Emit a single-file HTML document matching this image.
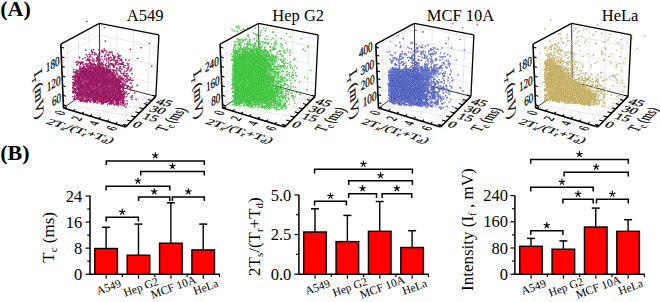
<!DOCTYPE html>
<html><head><meta charset="utf-8"><style>
html,body{margin:0;padding:0;background:#fff;}
svg{display:block;font-family:"Liberation Serif",serif;}
</style></head><body>
<svg width="660" height="302" viewBox="0 0 660 302">
<rect width="660" height="302" fill="#fff"/>
<line x1="106.10" y1="248.50" x2="106.10" y2="227.30" stroke="#000" stroke-width="1.4"/>
<line x1="102.10" y1="227.30" x2="110.10" y2="227.30" stroke="#000" stroke-width="1.5"/>
<rect x="94.80" y="248.50" width="22.60" height="25.70" fill="#f00" stroke="#000" stroke-width="1.4"/>
<line x1="138.47" y1="255.20" x2="138.47" y2="224.10" stroke="#000" stroke-width="1.4"/>
<line x1="134.47" y1="224.10" x2="142.47" y2="224.10" stroke="#000" stroke-width="1.5"/>
<rect x="127.17" y="255.20" width="22.60" height="19.00" fill="#f00" stroke="#000" stroke-width="1.4"/>
<line x1="170.84" y1="243.20" x2="170.84" y2="202.80" stroke="#000" stroke-width="1.4"/>
<line x1="166.84" y1="202.80" x2="174.84" y2="202.80" stroke="#000" stroke-width="1.5"/>
<rect x="159.54" y="243.20" width="22.60" height="31.00" fill="#f00" stroke="#000" stroke-width="1.4"/>
<line x1="203.21" y1="249.90" x2="203.21" y2="224.10" stroke="#000" stroke-width="1.4"/>
<line x1="199.21" y1="224.10" x2="207.21" y2="224.10" stroke="#000" stroke-width="1.5"/>
<rect x="191.91" y="249.90" width="22.60" height="24.30" fill="#f00" stroke="#000" stroke-width="1.4"/>
<line x1="90" y1="196" x2="90" y2="274.9" stroke="#000" stroke-width="1.5"/>
<line x1="89.3" y1="274.2" x2="219.98" y2="274.2" stroke="#000" stroke-width="1.5"/>
<line x1="85.50" y1="274.20" x2="90" y2="274.20" stroke="#000" stroke-width="1.2"/>
<line x1="87.20" y1="261.17" x2="90" y2="261.17" stroke="#000" stroke-width="1.2"/>
<line x1="85.50" y1="248.13" x2="90" y2="248.13" stroke="#000" stroke-width="1.2"/>
<line x1="87.20" y1="235.10" x2="90" y2="235.10" stroke="#000" stroke-width="1.2"/>
<line x1="85.50" y1="222.07" x2="90" y2="222.07" stroke="#000" stroke-width="1.2"/>
<line x1="87.20" y1="209.03" x2="90" y2="209.03" stroke="#000" stroke-width="1.2"/>
<line x1="85.50" y1="196.00" x2="90" y2="196.00" stroke="#000" stroke-width="1.2"/>
<text x="82.3" y="279.80" text-anchor="end" font-size="16.5" font-family="Liberation Serif">0</text>
<text x="82.3" y="253.73" text-anchor="end" font-size="16.5" font-family="Liberation Serif">8</text>
<text x="82.3" y="227.67" text-anchor="end" font-size="16.5" font-family="Liberation Serif">16</text>
<text x="82.3" y="201.60" text-anchor="end" font-size="16.5" font-family="Liberation Serif">24</text>
<line x1="106.19" y1="274.2" x2="106.19" y2="278.70" stroke="#000" stroke-width="1.2"/>
<line x1="122.37" y1="274.2" x2="122.37" y2="277.00" stroke="#000" stroke-width="1.2"/>
<line x1="138.56" y1="274.2" x2="138.56" y2="278.70" stroke="#000" stroke-width="1.2"/>
<line x1="154.74" y1="274.2" x2="154.74" y2="277.00" stroke="#000" stroke-width="1.2"/>
<line x1="170.93" y1="274.2" x2="170.93" y2="278.70" stroke="#000" stroke-width="1.2"/>
<line x1="187.11" y1="274.2" x2="187.11" y2="277.00" stroke="#000" stroke-width="1.2"/>
<line x1="203.29" y1="274.2" x2="203.29" y2="278.70" stroke="#000" stroke-width="1.2"/>
<line x1="219.48" y1="274.2" x2="219.48" y2="277.00" stroke="#000" stroke-width="1.2"/>
<text x="109.90" y="290.7" text-anchor="middle" font-size="11.5" font-family="Liberation Serif" transform="rotate(-20 109.90 290.7)">A549</text>
<text x="142.27" y="290.7" text-anchor="middle" font-size="11.5" font-family="Liberation Serif" transform="rotate(-20 142.27 290.7)">Hep G2</text>
<text x="174.64" y="290.7" text-anchor="middle" font-size="11.5" font-family="Liberation Serif" transform="rotate(-20 174.64 290.7)">MCF 10A</text>
<text x="207.01" y="290.7" text-anchor="middle" font-size="11.5" font-family="Liberation Serif" transform="rotate(-20 207.01 290.7)">HeLa</text>
<path d="M106.30 165.10V160.90H204.30V165.10" fill="none" stroke="#000" stroke-width="1.5"/>
<path d="M155.30 155.60L155.30 152.80M155.30 155.60L157.96 154.73M155.30 155.60L156.95 157.87M155.30 155.60L153.65 157.87M155.30 155.60L152.64 154.73" stroke="#000" stroke-width="1.2" stroke-linecap="round" fill="none"/>
<path d="M140.70 175.60V171.40H204.30V175.60" fill="none" stroke="#000" stroke-width="1.5"/>
<path d="M172.50 166.10L172.50 163.30M172.50 166.10L175.16 165.23M172.50 166.10L174.15 168.37M172.50 166.10L170.85 168.37M172.50 166.10L169.84 165.23" stroke="#000" stroke-width="1.2" stroke-linecap="round" fill="none"/>
<path d="M106.10 190.40V186.20H169.80V190.40" fill="none" stroke="#000" stroke-width="1.5"/>
<path d="M137.95 180.90L137.95 178.10M137.95 180.90L140.61 180.03M137.95 180.90L139.60 183.17M137.95 180.90L136.30 183.17M137.95 180.90L135.29 180.03" stroke="#000" stroke-width="1.2" stroke-linecap="round" fill="none"/>
<path d="M138.60 201.10V196.90H169.80V201.10" fill="none" stroke="#000" stroke-width="1.5"/>
<path d="M154.20 191.60L154.20 188.80M154.20 191.60L156.86 190.73M154.20 191.60L155.85 193.87M154.20 191.60L152.55 193.87M154.20 191.60L151.54 190.73" stroke="#000" stroke-width="1.2" stroke-linecap="round" fill="none"/>
<path d="M172.40 201.10V196.90H204.30V201.10" fill="none" stroke="#000" stroke-width="1.5"/>
<path d="M188.35 191.60L188.35 188.80M188.35 191.60L191.01 190.73M188.35 191.60L190.00 193.87M188.35 191.60L186.70 193.87M188.35 191.60L185.69 190.73" stroke="#000" stroke-width="1.2" stroke-linecap="round" fill="none"/>
<path d="M106.10 221.50V217.30H138.40V221.50" fill="none" stroke="#000" stroke-width="1.5"/>
<path d="M122.25 212.00L122.25 209.20M122.25 212.00L124.91 211.13M122.25 212.00L123.90 214.27M122.25 212.00L120.60 214.27M122.25 212.00L119.59 211.13" stroke="#000" stroke-width="1.2" stroke-linecap="round" fill="none"/>
<text transform="translate(54.3 262.7) rotate(-90)" font-size="17" font-family="Liberation Serif">T<tspan font-size="11" dy="3">c</tspan><tspan dy="-3"> (ms)</tspan></text>
<line x1="315.00" y1="232.00" x2="315.00" y2="208.80" stroke="#000" stroke-width="1.4"/>
<line x1="311.00" y1="208.80" x2="319.00" y2="208.80" stroke="#000" stroke-width="1.5"/>
<rect x="303.70" y="232.00" width="22.60" height="42.20" fill="#f00" stroke="#000" stroke-width="1.4"/>
<line x1="347.37" y1="241.60" x2="347.37" y2="215.40" stroke="#000" stroke-width="1.4"/>
<line x1="343.37" y1="215.40" x2="351.37" y2="215.40" stroke="#000" stroke-width="1.5"/>
<rect x="336.07" y="241.60" width="22.60" height="32.60" fill="#f00" stroke="#000" stroke-width="1.4"/>
<line x1="379.74" y1="231.30" x2="379.74" y2="201.50" stroke="#000" stroke-width="1.4"/>
<line x1="375.74" y1="201.50" x2="383.74" y2="201.50" stroke="#000" stroke-width="1.5"/>
<rect x="368.44" y="231.30" width="22.60" height="42.90" fill="#f00" stroke="#000" stroke-width="1.4"/>
<line x1="412.11" y1="247.50" x2="412.11" y2="230.70" stroke="#000" stroke-width="1.4"/>
<line x1="408.11" y1="230.70" x2="416.11" y2="230.70" stroke="#000" stroke-width="1.5"/>
<rect x="400.81" y="247.50" width="22.60" height="26.70" fill="#f00" stroke="#000" stroke-width="1.4"/>
<line x1="298.9" y1="194.9" x2="298.9" y2="274.9" stroke="#000" stroke-width="1.5"/>
<line x1="298.2" y1="274.2" x2="428.88" y2="274.2" stroke="#000" stroke-width="1.5"/>
<line x1="294.40" y1="274.20" x2="298.9" y2="274.20" stroke="#000" stroke-width="1.2"/>
<line x1="296.10" y1="254.38" x2="298.9" y2="254.38" stroke="#000" stroke-width="1.2"/>
<line x1="294.40" y1="234.55" x2="298.9" y2="234.55" stroke="#000" stroke-width="1.2"/>
<line x1="296.10" y1="214.72" x2="298.9" y2="214.72" stroke="#000" stroke-width="1.2"/>
<line x1="294.40" y1="194.90" x2="298.9" y2="194.90" stroke="#000" stroke-width="1.2"/>
<text x="291.3" y="279.80" text-anchor="end" font-size="16.5" font-family="Liberation Serif">0.0</text>
<text x="291.3" y="240.15" text-anchor="end" font-size="16.5" font-family="Liberation Serif">2.5</text>
<text x="291.3" y="200.50" text-anchor="end" font-size="16.5" font-family="Liberation Serif">5.0</text>
<line x1="315.08" y1="274.2" x2="315.08" y2="278.70" stroke="#000" stroke-width="1.2"/>
<line x1="331.27" y1="274.2" x2="331.27" y2="277.00" stroke="#000" stroke-width="1.2"/>
<line x1="347.45" y1="274.2" x2="347.45" y2="278.70" stroke="#000" stroke-width="1.2"/>
<line x1="363.64" y1="274.2" x2="363.64" y2="277.00" stroke="#000" stroke-width="1.2"/>
<line x1="379.82" y1="274.2" x2="379.82" y2="278.70" stroke="#000" stroke-width="1.2"/>
<line x1="396.01" y1="274.2" x2="396.01" y2="277.00" stroke="#000" stroke-width="1.2"/>
<line x1="412.19" y1="274.2" x2="412.19" y2="278.70" stroke="#000" stroke-width="1.2"/>
<line x1="428.38" y1="274.2" x2="428.38" y2="277.00" stroke="#000" stroke-width="1.2"/>
<text x="318.80" y="290.7" text-anchor="middle" font-size="11.5" font-family="Liberation Serif" transform="rotate(-20 318.80 290.7)">A549</text>
<text x="351.17" y="290.7" text-anchor="middle" font-size="11.5" font-family="Liberation Serif" transform="rotate(-20 351.17 290.7)">Hep G2</text>
<text x="383.54" y="290.7" text-anchor="middle" font-size="11.5" font-family="Liberation Serif" transform="rotate(-20 383.54 290.7)">MCF 10A</text>
<text x="415.91" y="290.7" text-anchor="middle" font-size="11.5" font-family="Liberation Serif" transform="rotate(-20 415.91 290.7)">HeLa</text>
<path d="M314.60 173.50V169.30H412.40V173.50" fill="none" stroke="#000" stroke-width="1.5"/>
<path d="M363.50 164.00L363.50 161.20M363.50 164.00L366.16 163.13M363.50 164.00L365.15 166.27M363.50 164.00L361.85 166.27M363.50 164.00L360.84 163.13" stroke="#000" stroke-width="1.2" stroke-linecap="round" fill="none"/>
<path d="M348.70 185.00V180.80H412.40V185.00" fill="none" stroke="#000" stroke-width="1.5"/>
<path d="M380.55 175.50L380.55 172.70M380.55 175.50L383.21 174.63M380.55 175.50L382.20 177.77M380.55 175.50L378.90 177.77M380.55 175.50L377.89 174.63" stroke="#000" stroke-width="1.2" stroke-linecap="round" fill="none"/>
<path d="M348.70 197.90V193.70H376.50V197.90" fill="none" stroke="#000" stroke-width="1.5"/>
<path d="M362.60 188.40L362.60 185.60M362.60 188.40L365.26 187.53M362.60 188.40L364.25 190.67M362.60 188.40L360.95 190.67M362.60 188.40L359.94 187.53" stroke="#000" stroke-width="1.2" stroke-linecap="round" fill="none"/>
<path d="M382.10 197.90V193.70H411.70V197.90" fill="none" stroke="#000" stroke-width="1.5"/>
<path d="M396.90 188.40L396.90 185.60M396.90 188.40L399.56 187.53M396.90 188.40L398.55 190.67M396.90 188.40L395.25 190.67M396.90 188.40L394.24 187.53" stroke="#000" stroke-width="1.2" stroke-linecap="round" fill="none"/>
<path d="M314.60 205.50V201.30H346.40V205.50" fill="none" stroke="#000" stroke-width="1.5"/>
<path d="M330.50 196.00L330.50 193.20M330.50 196.00L333.16 195.13M330.50 196.00L332.15 198.27M330.50 196.00L328.85 198.27M330.50 196.00L327.84 195.13" stroke="#000" stroke-width="1.2" stroke-linecap="round" fill="none"/>
<text transform="translate(259.5 276) rotate(-90)" font-size="17" font-family="Liberation Serif">2T<tspan font-size="11" dy="3">s</tspan><tspan dy="-3">/(T</tspan><tspan font-size="11" dy="3">r</tspan><tspan dy="-3">+T</tspan><tspan font-size="11" dy="3">d</tspan><tspan dy="-3">)</tspan></text>
<line x1="531.00" y1="246.30" x2="531.00" y2="238.40" stroke="#000" stroke-width="1.4"/>
<line x1="527.00" y1="238.40" x2="535.00" y2="238.40" stroke="#000" stroke-width="1.5"/>
<rect x="519.70" y="246.30" width="22.60" height="27.90" fill="#f00" stroke="#000" stroke-width="1.4"/>
<line x1="563.37" y1="249.20" x2="563.37" y2="240.90" stroke="#000" stroke-width="1.4"/>
<line x1="559.37" y1="240.90" x2="567.37" y2="240.90" stroke="#000" stroke-width="1.5"/>
<rect x="552.07" y="249.20" width="22.60" height="25.00" fill="#f00" stroke="#000" stroke-width="1.4"/>
<line x1="595.74" y1="227.00" x2="595.74" y2="208.10" stroke="#000" stroke-width="1.4"/>
<line x1="591.74" y1="208.10" x2="599.74" y2="208.10" stroke="#000" stroke-width="1.5"/>
<rect x="584.44" y="227.00" width="22.60" height="47.20" fill="#f00" stroke="#000" stroke-width="1.4"/>
<line x1="628.11" y1="231.30" x2="628.11" y2="219.70" stroke="#000" stroke-width="1.4"/>
<line x1="624.11" y1="219.70" x2="632.11" y2="219.70" stroke="#000" stroke-width="1.5"/>
<rect x="616.81" y="231.30" width="22.60" height="42.90" fill="#f00" stroke="#000" stroke-width="1.4"/>
<line x1="514.9" y1="195.6" x2="514.9" y2="274.9" stroke="#000" stroke-width="1.5"/>
<line x1="514.1999999999999" y1="274.2" x2="644.88" y2="274.2" stroke="#000" stroke-width="1.5"/>
<line x1="510.40" y1="274.20" x2="514.9" y2="274.20" stroke="#000" stroke-width="1.2"/>
<line x1="512.10" y1="261.10" x2="514.9" y2="261.10" stroke="#000" stroke-width="1.2"/>
<line x1="510.40" y1="248.00" x2="514.9" y2="248.00" stroke="#000" stroke-width="1.2"/>
<line x1="512.10" y1="234.90" x2="514.9" y2="234.90" stroke="#000" stroke-width="1.2"/>
<line x1="510.40" y1="221.80" x2="514.9" y2="221.80" stroke="#000" stroke-width="1.2"/>
<line x1="512.10" y1="208.70" x2="514.9" y2="208.70" stroke="#000" stroke-width="1.2"/>
<line x1="510.40" y1="195.60" x2="514.9" y2="195.60" stroke="#000" stroke-width="1.2"/>
<text x="508" y="279.80" text-anchor="end" font-size="16.5" font-family="Liberation Serif">0</text>
<text x="508" y="253.60" text-anchor="end" font-size="16.5" font-family="Liberation Serif">80</text>
<text x="508" y="227.40" text-anchor="end" font-size="16.5" font-family="Liberation Serif">160</text>
<text x="508" y="201.20" text-anchor="end" font-size="16.5" font-family="Liberation Serif">240</text>
<line x1="531.08" y1="274.2" x2="531.08" y2="278.70" stroke="#000" stroke-width="1.2"/>
<line x1="547.27" y1="274.2" x2="547.27" y2="277.00" stroke="#000" stroke-width="1.2"/>
<line x1="563.45" y1="274.2" x2="563.45" y2="278.70" stroke="#000" stroke-width="1.2"/>
<line x1="579.64" y1="274.2" x2="579.64" y2="277.00" stroke="#000" stroke-width="1.2"/>
<line x1="595.82" y1="274.2" x2="595.82" y2="278.70" stroke="#000" stroke-width="1.2"/>
<line x1="612.01" y1="274.2" x2="612.01" y2="277.00" stroke="#000" stroke-width="1.2"/>
<line x1="628.19" y1="274.2" x2="628.19" y2="278.70" stroke="#000" stroke-width="1.2"/>
<line x1="644.38" y1="274.2" x2="644.38" y2="277.00" stroke="#000" stroke-width="1.2"/>
<text x="534.80" y="290.7" text-anchor="middle" font-size="11.5" font-family="Liberation Serif" transform="rotate(-20 534.80 290.7)">A549</text>
<text x="567.17" y="290.7" text-anchor="middle" font-size="11.5" font-family="Liberation Serif" transform="rotate(-20 567.17 290.7)">Hep G2</text>
<text x="599.54" y="290.7" text-anchor="middle" font-size="11.5" font-family="Liberation Serif" transform="rotate(-20 599.54 290.7)">MCF 10A</text>
<text x="631.91" y="290.7" text-anchor="middle" font-size="11.5" font-family="Liberation Serif" transform="rotate(-20 631.91 290.7)">HeLa</text>
<path d="M530.70 163.70V159.50H628.30V163.70" fill="none" stroke="#000" stroke-width="1.5"/>
<path d="M579.50 154.20L579.50 151.40M579.50 154.20L582.16 153.33M579.50 154.20L581.15 156.47M579.50 154.20L577.85 156.47M579.50 154.20L576.84 153.33" stroke="#000" stroke-width="1.2" stroke-linecap="round" fill="none"/>
<path d="M564.10 176.40V172.20H628.30V176.40" fill="none" stroke="#000" stroke-width="1.5"/>
<path d="M596.20 166.90L596.20 164.10M596.20 166.90L598.86 166.03M596.20 166.90L597.85 169.17M596.20 166.90L594.55 169.17M596.20 166.90L593.54 166.03" stroke="#000" stroke-width="1.2" stroke-linecap="round" fill="none"/>
<path d="M530.70 191.50V187.30H593.20V191.50" fill="none" stroke="#000" stroke-width="1.5"/>
<path d="M561.95 182.00L561.95 179.20M561.95 182.00L564.61 181.13M561.95 182.00L563.60 184.27M561.95 182.00L560.30 184.27M561.95 182.00L559.29 181.13" stroke="#000" stroke-width="1.2" stroke-linecap="round" fill="none"/>
<path d="M562.90 203.50V199.30H593.20V203.50" fill="none" stroke="#000" stroke-width="1.5"/>
<path d="M578.05 194.00L578.05 191.20M578.05 194.00L580.71 193.13M578.05 194.00L579.70 196.27M578.05 194.00L576.40 196.27M578.05 194.00L575.39 193.13" stroke="#000" stroke-width="1.2" stroke-linecap="round" fill="none"/>
<path d="M596.50 203.50V199.30H628.30V203.50" fill="none" stroke="#000" stroke-width="1.5"/>
<path d="M612.40 194.00L612.40 191.20M612.40 194.00L615.06 193.13M612.40 194.00L614.05 196.27M612.40 194.00L610.75 196.27M612.40 194.00L609.74 193.13" stroke="#000" stroke-width="1.2" stroke-linecap="round" fill="none"/>
<path d="M530.70 234.90V230.70H562.90V234.90" fill="none" stroke="#000" stroke-width="1.5"/>
<path d="M546.80 225.40L546.80 222.60M546.80 225.40L549.46 224.53M546.80 225.40L548.45 227.67M546.80 225.40L545.15 227.67M546.80 225.40L544.14 224.53" stroke="#000" stroke-width="1.2" stroke-linecap="round" fill="none"/>
<text transform="translate(472.5 291) rotate(-90)" font-size="17" font-family="Liberation Serif">Intensity (I<tspan font-size="11" dy="3">f</tspan><tspan dy="-3"> , mV)</tspan></text>
<text x="0.3" y="16.1" font-size="22" font-weight="bold" font-family="Liberation Serif">(A)</text>
<text x="0.3" y="159.8" font-size="22" font-weight="bold" font-family="Liberation Serif">(B)</text>
<line x1="62.96" y1="95.30" x2="99.88" y2="70.04" stroke="#d6d6d6" stroke-width="0.6"/>
<line x1="99.88" y1="70.04" x2="156.50" y2="84.10" stroke="#d6d6d6" stroke-width="0.6"/>
<line x1="62.15" y1="76.10" x2="99.70" y2="52.55" stroke="#d6d6d6" stroke-width="0.6"/>
<line x1="99.70" y1="52.55" x2="157.40" y2="65.65" stroke="#d6d6d6" stroke-width="0.6"/>
<line x1="61.34" y1="56.90" x2="99.52" y2="35.06" stroke="#d6d6d6" stroke-width="0.6"/>
<line x1="99.52" y1="35.06" x2="158.30" y2="47.20" stroke="#d6d6d6" stroke-width="0.6"/>
<line x1="116.65" y1="86.08" x2="117.12" y2="26.82" stroke="#d6d6d6" stroke-width="0.6"/>
<line x1="81.99" y1="113.73" x2="116.65" y2="86.08" stroke="#d6d6d6" stroke-width="0.6"/>
<line x1="132.17" y1="90.16" x2="133.65" y2="30.02" stroke="#d6d6d6" stroke-width="0.6"/>
<line x1="99.24" y1="118.98" x2="132.17" y2="90.16" stroke="#d6d6d6" stroke-width="0.6"/>
<line x1="147.70" y1="94.24" x2="150.17" y2="33.21" stroke="#d6d6d6" stroke-width="0.6"/>
<line x1="116.49" y1="124.23" x2="147.70" y2="94.24" stroke="#d6d6d6" stroke-width="0.6"/>
<line x1="67.88" y1="104.93" x2="67.75" y2="40.37" stroke="#d6d6d6" stroke-width="0.6"/>
<line x1="67.88" y1="104.93" x2="135.30" y2="117.21" stroke="#d6d6d6" stroke-width="0.6"/>
<line x1="78.10" y1="97.54" x2="78.56" y2="34.58" stroke="#d6d6d6" stroke-width="0.6"/>
<line x1="78.10" y1="97.54" x2="143.48" y2="108.95" stroke="#d6d6d6" stroke-width="0.6"/>
<line x1="88.69" y1="89.88" x2="88.98" y2="28.99" stroke="#d6d6d6" stroke-width="0.6"/>
<line x1="88.69" y1="89.88" x2="151.66" y2="100.68" stroke="#d6d6d6" stroke-width="0.6"/>
<line x1="100.00" y1="81.70" x2="99.40" y2="23.40" stroke="#333" stroke-width="1.0"/>
<line x1="100.00" y1="81.70" x2="155.90" y2="96.40" stroke="#333" stroke-width="1.0"/>
<line x1="100.00" y1="81.70" x2="63.50" y2="108.10" stroke="#333" stroke-width="1.0"/>
<path d="M77.2 77.8 L79.7 72.7 L84.8 68.9 L91.6 66.3 L98.4 65.9 L106.1 68.4 L113.7 73.5 L118.8 79.5 L120.1 86.3 L121.0 93.9 L119.7 100.7 L109.5 101.6 L94.2 99.5 L78.0 96.9Z" fill="#c8609c"/>
<path d="M86.7 74.6h0M123.6 103.3h0M83.1 67.4h0M83.6 68.9h0M105.7 54.4h0M110.0 83.7h0M79.1 79.8h0M110.3 102.3h0M99.6 74.0h0M118.2 64.6h0M113.1 87.1h0M79.5 83.3h0M121.1 59.8h0M77.8 77.7h0M88.4 95.7h0M92.9 72.4h0M98.9 67.3h0M82.4 85.4h0M126.1 79.4h0M83.8 89.6h0M101.7 50.7h0M82.1 92.1h0M90.5 75.0h0M75.6 80.0h0M120.2 102.6h0M86.6 72.7h0M104.8 56.7h0M91.6 50.1h0M116.8 84.4h0M109.6 103.9h0M79.6 68.4h0M114.1 79.1h0M105.2 64.8h0M101.8 81.9h0M100.3 86.0h0M88.6 89.3h0M92.0 93.9h0M97.6 94.7h0M78.3 97.5h0M124.4 94.6h0M86.1 99.5h0M80.7 69.0h0M88.4 83.4h0M98.6 53.8h0M96.2 77.8h0M104.1 70.1h0M108.8 89.5h0M120.7 78.0h0M108.8 99.1h0M123.3 87.7h0M87.6 95.4h0M108.1 71.8h0M110.5 99.0h0M96.0 90.4h0M100.4 93.5h0M103.2 100.6h0M80.7 87.3h0M85.4 96.4h0M109.0 63.0h0M93.7 84.2h0M122.3 99.0h0M115.1 77.2h0M95.9 66.4h0M91.2 67.6h0M97.4 77.1h0M95.1 82.3h0M111.7 82.4h0M100.4 71.5h0M121.8 77.6h0M90.8 93.8h0M116.2 80.0h0M101.0 87.7h0M91.1 75.6h0M98.7 71.5h0M97.7 99.4h0M94.3 70.7h0M96.0 66.7h0M87.0 76.4h0M108.2 96.1h0M88.9 73.0h0M90.4 75.8h0M81.2 81.0h0M97.2 72.1h0M127.6 78.4h0M93.3 93.6h0M108.9 58.3h0M113.1 94.9h0M118.9 76.8h0M134.6 92.8h0M92.5 52.4h0M115.5 78.5h0M83.0 68.6h0M107.0 65.5h0M97.7 90.1h0M98.5 69.1h0M137.3 85.2h0M98.3 81.1h0M105.7 102.4h0M110.3 60.9h0M95.2 90.4h0" stroke="#800a4c" stroke-width="1.6" stroke-linecap="round"/>
<path d="M86.7 74.6h0M123.6 103.3h0M83.1 67.4h0M83.6 68.9h0M105.7 54.4h0M110.0 83.7h0M79.1 79.8h0M110.3 102.3h0M99.6 74.0h0M118.2 64.6h0M113.1 87.1h0M79.5 83.3h0M121.1 59.8h0M77.8 77.7h0M88.4 95.7h0M92.9 72.4h0M98.9 67.3h0M82.4 85.4h0M126.1 79.4h0M83.8 89.6h0M101.7 50.7h0M82.1 92.1h0M90.5 75.0h0M75.6 80.0h0M120.2 102.6h0M86.6 72.7h0M104.8 56.7h0M91.6 50.1h0M116.8 84.4h0M109.6 103.9h0M79.6 68.4h0M114.1 79.1h0M105.2 64.8h0M101.8 81.9h0M100.3 86.0h0M88.6 89.3h0M92.0 93.9h0M97.6 94.7h0M78.3 97.5h0M124.4 94.6h0M86.1 99.5h0M80.7 69.0h0M88.4 83.4h0M98.6 53.8h0M96.2 77.8h0M104.1 70.1h0M108.8 89.5h0M120.7 78.0h0M108.8 99.1h0M123.3 87.7h0M87.6 95.4h0M108.1 71.8h0M110.5 99.0h0M96.0 90.4h0M100.4 93.5h0M103.2 100.6h0M80.7 87.3h0M85.4 96.4h0M109.0 63.0h0M93.7 84.2h0M122.3 99.0h0M115.1 77.2h0M95.9 66.4h0M91.2 67.6h0M97.4 77.1h0M95.1 82.3h0M111.7 82.4h0M100.4 71.5h0M121.8 77.6h0M90.8 93.8h0M116.2 80.0h0M101.0 87.7h0M91.1 75.6h0M98.7 71.5h0M97.7 99.4h0M94.3 70.7h0M96.0 66.7h0M87.0 76.4h0M108.2 96.1h0M88.9 73.0h0M90.4 75.8h0M81.2 81.0h0M97.2 72.1h0M127.6 78.4h0M93.3 93.6h0M108.9 58.3h0M113.1 94.9h0M118.9 76.8h0M134.6 92.8h0M92.5 52.4h0M115.5 78.5h0M83.0 68.6h0M107.0 65.5h0M97.7 90.1h0M98.5 69.1h0M137.3 85.2h0M98.3 81.1h0M105.7 102.4h0M110.3 60.9h0M95.2 90.4h0" stroke="#d04090" stroke-width="0.8" stroke-linecap="round"/>
<path d="M104.0 94.5h0M105.9 72.2h0M104.0 79.1h0M113.0 64.3h0M79.3 83.4h0M123.8 78.6h0M99.0 80.9h0M88.9 66.7h0M112.7 70.0h0M86.7 60.2h0M89.6 90.9h0M118.1 86.3h0M81.7 100.8h0M107.8 86.1h0M115.0 70.5h0M80.7 76.0h0M117.7 57.1h0M97.3 80.0h0M116.4 86.6h0M107.7 98.3h0M96.8 99.3h0M92.3 99.5h0M102.6 72.5h0M102.1 94.8h0M114.2 75.1h0M104.9 72.2h0M91.9 85.3h0M104.3 94.6h0M103.7 88.9h0M94.4 83.7h0M109.9 82.3h0M90.3 67.2h0M120.4 87.7h0M109.3 92.2h0M97.5 80.3h0M114.6 70.4h0M122.5 100.6h0M102.3 50.4h0M78.6 81.5h0M102.8 79.9h0M121.3 91.3h0M88.2 86.2h0M93.4 65.5h0M96.1 68.4h0M82.1 100.8h0M97.1 80.8h0M119.6 92.2h0M95.7 64.9h0M85.6 97.6h0M116.0 94.6h0M103.7 93.4h0M91.7 80.3h0M105.6 80.1h0M98.3 90.2h0M114.7 104.3h0M106.3 75.7h0M97.8 57.5h0M92.1 99.8h0M108.5 69.7h0M113.0 78.5h0M122.1 96.9h0M99.7 78.6h0M100.0 94.5h0M90.3 68.5h0M112.6 97.8h0M113.4 88.5h0M84.9 74.7h0M123.6 91.4h0M120.3 81.6h0M103.0 103.0h0M111.7 83.3h0M111.7 72.8h0M119.9 82.2h0M88.7 86.8h0M105.4 83.3h0M110.4 90.6h0M113.3 55.7h0M104.5 97.5h0M113.0 101.4h0M119.3 88.5h0M112.3 83.7h0M127.2 81.1h0M75.5 82.6h0M107.1 68.8h0M80.2 101.2h0M87.0 93.7h0M146.6 102.6h0M127.1 63.3h0M103.3 80.3h0M120.3 88.6h0M88.2 84.4h0M77.2 96.0h0M105.2 99.5h0M119.8 60.1h0M91.6 78.7h0M78.3 80.2h0M110.6 103.8h0M111.7 96.0h0M82.9 85.4h0M87.6 60.2h0" stroke="#800a4c" stroke-width="1.6" stroke-linecap="round"/>
<path d="M104.0 94.5h0M105.9 72.2h0M104.0 79.1h0M113.0 64.3h0M79.3 83.4h0M123.8 78.6h0M99.0 80.9h0M88.9 66.7h0M112.7 70.0h0M86.7 60.2h0M89.6 90.9h0M118.1 86.3h0M81.7 100.8h0M107.8 86.1h0M115.0 70.5h0M80.7 76.0h0M117.7 57.1h0M97.3 80.0h0M116.4 86.6h0M107.7 98.3h0M96.8 99.3h0M92.3 99.5h0M102.6 72.5h0M102.1 94.8h0M114.2 75.1h0M104.9 72.2h0M91.9 85.3h0M104.3 94.6h0M103.7 88.9h0M94.4 83.7h0M109.9 82.3h0M90.3 67.2h0M120.4 87.7h0M109.3 92.2h0M97.5 80.3h0M114.6 70.4h0M122.5 100.6h0M102.3 50.4h0M78.6 81.5h0M102.8 79.9h0M121.3 91.3h0M88.2 86.2h0M93.4 65.5h0M96.1 68.4h0M82.1 100.8h0M97.1 80.8h0M119.6 92.2h0M95.7 64.9h0M85.6 97.6h0M116.0 94.6h0M103.7 93.4h0M91.7 80.3h0M105.6 80.1h0M98.3 90.2h0M114.7 104.3h0M106.3 75.7h0M97.8 57.5h0M92.1 99.8h0M108.5 69.7h0M113.0 78.5h0M122.1 96.9h0M99.7 78.6h0M100.0 94.5h0M90.3 68.5h0M112.6 97.8h0M113.4 88.5h0M84.9 74.7h0M123.6 91.4h0M120.3 81.6h0M103.0 103.0h0M111.7 83.3h0M111.7 72.8h0M119.9 82.2h0M88.7 86.8h0M105.4 83.3h0M110.4 90.6h0M113.3 55.7h0M104.5 97.5h0M113.0 101.4h0M119.3 88.5h0M112.3 83.7h0M127.2 81.1h0M75.5 82.6h0M107.1 68.8h0M80.2 101.2h0M87.0 93.7h0M146.6 102.6h0M127.1 63.3h0M103.3 80.3h0M120.3 88.6h0M88.2 84.4h0M77.2 96.0h0M105.2 99.5h0M119.8 60.1h0M91.6 78.7h0M78.3 80.2h0M110.6 103.8h0M111.7 96.0h0M82.9 85.4h0M87.6 60.2h0" stroke="#d04090" stroke-width="0.8" stroke-linecap="round"/>
<path d="M105.1 55.8h0M87.1 79.2h0M112.3 78.3h0M79.7 73.0h0M101.2 64.2h0M117.8 101.2h0M121.1 90.9h0M122.2 102.2h0M120.5 92.8h0M119.3 96.1h0M114.1 90.2h0M102.7 95.5h0M103.5 52.1h0M104.3 83.7h0M88.9 96.6h0M117.4 100.7h0M104.5 93.3h0M102.4 98.1h0M95.4 65.6h0M116.0 96.9h0M125.5 104.0h0M77.8 82.3h0M100.0 76.2h0M122.6 102.3h0M74.8 91.6h0M90.5 76.5h0M83.4 67.8h0M94.9 83.7h0M95.2 53.7h0M86.4 89.5h0M116.5 74.7h0M96.0 68.6h0M98.3 68.7h0M123.9 102.5h0M78.1 94.3h0M112.4 96.8h0M101.7 86.5h0M99.8 66.6h0M76.7 88.0h0M78.1 89.2h0M87.2 102.0h0M115.9 95.1h0M98.7 93.2h0M109.8 92.6h0M74.9 96.4h0M82.0 92.9h0M80.6 86.2h0M116.5 80.9h0M84.1 67.6h0M82.0 94.5h0M109.1 73.6h0M86.4 75.4h0M94.5 94.2h0M113.3 66.2h0M113.6 103.6h0M86.1 76.8h0M86.4 64.4h0M93.4 76.6h0M125.1 92.5h0M128.6 86.4h0M87.7 83.8h0M86.0 71.9h0M85.2 77.6h0M83.4 76.0h0M93.9 97.6h0M91.5 63.7h0M114.9 96.0h0M88.0 74.4h0M99.1 67.3h0M98.9 62.6h0M103.3 91.5h0M103.5 61.6h0M76.9 98.7h0M124.6 92.8h0M86.3 87.9h0M105.1 76.6h0M111.8 72.5h0M126.1 107.2h0M91.7 89.9h0M74.7 90.9h0M121.4 92.0h0M99.6 91.7h0M96.0 67.4h0M120.4 90.5h0M90.3 72.0h0M122.9 62.4h0M111.2 98.5h0M95.9 94.9h0M110.6 65.3h0M101.3 71.8h0M90.4 71.4h0M83.3 98.6h0M100.1 69.0h0M88.1 86.5h0M129.9 71.0h0M86.5 78.0h0M82.2 63.4h0M77.4 74.4h0M131.8 73.8h0M98.2 69.6h0" stroke="#800a4c" stroke-width="1.6" stroke-linecap="round"/>
<path d="M105.1 55.8h0M87.1 79.2h0M112.3 78.3h0M79.7 73.0h0M101.2 64.2h0M117.8 101.2h0M121.1 90.9h0M122.2 102.2h0M120.5 92.8h0M119.3 96.1h0M114.1 90.2h0M102.7 95.5h0M103.5 52.1h0M104.3 83.7h0M88.9 96.6h0M117.4 100.7h0M104.5 93.3h0M102.4 98.1h0M95.4 65.6h0M116.0 96.9h0M125.5 104.0h0M77.8 82.3h0M100.0 76.2h0M122.6 102.3h0M74.8 91.6h0M90.5 76.5h0M83.4 67.8h0M94.9 83.7h0M95.2 53.7h0M86.4 89.5h0M116.5 74.7h0M96.0 68.6h0M98.3 68.7h0M123.9 102.5h0M78.1 94.3h0M112.4 96.8h0M101.7 86.5h0M99.8 66.6h0M76.7 88.0h0M78.1 89.2h0M87.2 102.0h0M115.9 95.1h0M98.7 93.2h0M109.8 92.6h0M74.9 96.4h0M82.0 92.9h0M80.6 86.2h0M116.5 80.9h0M84.1 67.6h0M82.0 94.5h0M109.1 73.6h0M86.4 75.4h0M94.5 94.2h0M113.3 66.2h0M113.6 103.6h0M86.1 76.8h0M86.4 64.4h0M93.4 76.6h0M125.1 92.5h0M128.6 86.4h0M87.7 83.8h0M86.0 71.9h0M85.2 77.6h0M83.4 76.0h0M93.9 97.6h0M91.5 63.7h0M114.9 96.0h0M88.0 74.4h0M99.1 67.3h0M98.9 62.6h0M103.3 91.5h0M103.5 61.6h0M76.9 98.7h0M124.6 92.8h0M86.3 87.9h0M105.1 76.6h0M111.8 72.5h0M126.1 107.2h0M91.7 89.9h0M74.7 90.9h0M121.4 92.0h0M99.6 91.7h0M96.0 67.4h0M120.4 90.5h0M90.3 72.0h0M122.9 62.4h0M111.2 98.5h0M95.9 94.9h0M110.6 65.3h0M101.3 71.8h0M90.4 71.4h0M83.3 98.6h0M100.1 69.0h0M88.1 86.5h0M129.9 71.0h0M86.5 78.0h0M82.2 63.4h0M77.4 74.4h0M131.8 73.8h0M98.2 69.6h0" stroke="#d04090" stroke-width="0.8" stroke-linecap="round"/>
<path d="M106.7 67.9h0M106.6 71.6h0M118.5 97.4h0M115.1 86.5h0M117.2 89.1h0M99.7 66.6h0M103.5 69.2h0M102.2 86.7h0M92.2 54.3h0M106.7 68.0h0M111.5 81.6h0M102.2 92.3h0M108.4 57.6h0M96.2 61.0h0M109.7 95.3h0M108.7 76.4h0M86.0 97.1h0M81.0 71.2h0M105.2 90.6h0M82.7 58.7h0M109.4 99.9h0M99.6 86.6h0M119.0 97.8h0M81.6 72.4h0M92.5 80.6h0M112.1 77.4h0M101.1 99.7h0M112.9 96.3h0M83.8 81.4h0M101.0 75.9h0M101.8 92.7h0M90.2 85.3h0M119.5 79.3h0M75.3 91.7h0M112.0 80.2h0M97.2 79.7h0M118.0 102.9h0M83.7 85.7h0M103.3 101.0h0M114.1 76.0h0M149.5 43.5h0M83.3 90.6h0M101.6 63.2h0M89.8 60.3h0M81.8 76.3h0M102.4 79.3h0M119.1 99.7h0M105.0 92.0h0M109.6 69.8h0M100.2 76.0h0M106.4 73.3h0M79.6 74.7h0M90.7 75.8h0M79.8 93.9h0M85.6 73.4h0M119.7 89.1h0M105.7 71.8h0M81.3 71.5h0M141.2 47.8h0M107.7 86.9h0M107.6 84.8h0M94.0 61.8h0M102.7 74.7h0M90.2 101.8h0M84.0 90.3h0M121.9 95.5h0M103.3 84.9h0M100.9 68.0h0M105.8 82.3h0M124.4 76.3h0M106.3 82.8h0M84.5 88.9h0M104.4 91.8h0M113.7 88.6h0M76.7 75.0h0M79.5 82.2h0M81.0 91.6h0M113.0 82.4h0M103.9 100.2h0M116.7 68.7h0M86.6 92.8h0M116.1 101.6h0M99.2 101.8h0M120.5 81.9h0M85.7 75.0h0M93.2 96.0h0M86.4 76.4h0M98.7 68.3h0M104.7 72.6h0M122.9 88.9h0M87.3 92.2h0M106.0 65.6h0M113.9 66.5h0M90.3 73.8h0M98.6 94.8h0M92.4 84.1h0M84.8 77.5h0M116.1 81.1h0M79.4 81.6h0M123.9 85.8h0" stroke="#800a4c" stroke-width="1.6" stroke-linecap="round"/>
<path d="M106.7 67.9h0M106.6 71.6h0M118.5 97.4h0M115.1 86.5h0M117.2 89.1h0M99.7 66.6h0M103.5 69.2h0M102.2 86.7h0M92.2 54.3h0M106.7 68.0h0M111.5 81.6h0M102.2 92.3h0M108.4 57.6h0M96.2 61.0h0M109.7 95.3h0M108.7 76.4h0M86.0 97.1h0M81.0 71.2h0M105.2 90.6h0M82.7 58.7h0M109.4 99.9h0M99.6 86.6h0M119.0 97.8h0M81.6 72.4h0M92.5 80.6h0M112.1 77.4h0M101.1 99.7h0M112.9 96.3h0M83.8 81.4h0M101.0 75.9h0M101.8 92.7h0M90.2 85.3h0M119.5 79.3h0M75.3 91.7h0M112.0 80.2h0M97.2 79.7h0M118.0 102.9h0M83.7 85.7h0M103.3 101.0h0M114.1 76.0h0M149.5 43.5h0M83.3 90.6h0M101.6 63.2h0M89.8 60.3h0M81.8 76.3h0M102.4 79.3h0M119.1 99.7h0M105.0 92.0h0M109.6 69.8h0M100.2 76.0h0M106.4 73.3h0M79.6 74.7h0M90.7 75.8h0M79.8 93.9h0M85.6 73.4h0M119.7 89.1h0M105.7 71.8h0M81.3 71.5h0M141.2 47.8h0M107.7 86.9h0M107.6 84.8h0M94.0 61.8h0M102.7 74.7h0M90.2 101.8h0M84.0 90.3h0M121.9 95.5h0M103.3 84.9h0M100.9 68.0h0M105.8 82.3h0M124.4 76.3h0M106.3 82.8h0M84.5 88.9h0M104.4 91.8h0M113.7 88.6h0M76.7 75.0h0M79.5 82.2h0M81.0 91.6h0M113.0 82.4h0M103.9 100.2h0M116.7 68.7h0M86.6 92.8h0M116.1 101.6h0M99.2 101.8h0M120.5 81.9h0M85.7 75.0h0M93.2 96.0h0M86.4 76.4h0M98.7 68.3h0M104.7 72.6h0M122.9 88.9h0M87.3 92.2h0M106.0 65.6h0M113.9 66.5h0M90.3 73.8h0M98.6 94.8h0M92.4 84.1h0M84.8 77.5h0M116.1 81.1h0M79.4 81.6h0M123.9 85.8h0" stroke="#d04090" stroke-width="0.8" stroke-linecap="round"/>
<path d="M120.5 55.8h0M79.1 80.9h0M112.3 97.4h0M95.8 95.9h0M111.2 63.7h0M100.3 68.9h0M79.9 90.5h0M80.8 62.9h0M94.6 86.6h0M102.3 96.8h0M109.6 71.9h0M85.0 79.5h0M114.7 98.5h0M113.7 84.7h0M103.9 87.9h0M108.9 80.1h0M104.6 92.6h0M115.6 101.2h0M117.7 93.1h0M102.5 67.6h0M120.7 71.8h0M80.8 92.6h0M116.9 85.6h0M74.4 90.4h0M77.8 71.2h0M96.2 94.6h0M87.4 78.4h0M119.9 86.1h0M121.3 79.0h0M107.0 96.9h0M92.5 84.7h0M123.1 84.0h0M90.3 75.5h0M111.0 71.3h0M93.5 68.9h0M78.7 82.4h0M112.4 90.6h0M86.5 101.8h0M103.9 98.0h0M88.5 95.6h0M103.4 70.7h0M81.7 86.8h0M94.7 96.4h0M79.3 91.5h0M92.6 64.3h0M118.5 84.0h0M94.5 77.5h0M111.1 57.6h0M90.7 75.1h0M109.2 93.3h0M117.1 94.1h0M80.1 86.1h0M74.0 82.5h0M95.4 101.1h0M113.8 99.7h0M119.1 83.6h0M95.4 71.7h0M102.0 95.1h0M132.4 86.0h0M97.3 91.9h0M106.0 95.9h0M103.1 95.0h0M78.3 82.1h0M118.6 83.1h0M116.0 63.1h0M96.0 83.6h0M89.8 100.9h0M109.3 73.7h0M84.0 92.7h0M80.7 87.5h0M73.2 76.6h0M124.5 71.2h0M112.5 76.0h0M94.0 96.7h0M85.7 90.2h0M90.6 75.9h0M86.5 66.6h0M103.7 97.1h0M120.9 98.1h0M106.2 86.3h0M95.6 96.4h0M118.9 89.3h0M106.3 102.2h0M80.9 82.1h0M112.4 97.4h0M111.7 83.1h0M76.9 94.6h0M77.6 73.8h0M93.0 79.5h0M103.4 77.5h0M102.7 74.2h0M99.4 87.4h0M130.2 88.8h0M94.9 97.3h0M82.9 87.1h0M131.5 80.5h0M117.5 87.3h0M88.1 89.0h0M115.8 99.9h0M107.9 99.8h0" stroke="#800a4c" stroke-width="1.6" stroke-linecap="round"/>
<path d="M120.5 55.8h0M79.1 80.9h0M112.3 97.4h0M95.8 95.9h0M111.2 63.7h0M100.3 68.9h0M79.9 90.5h0M80.8 62.9h0M94.6 86.6h0M102.3 96.8h0M109.6 71.9h0M85.0 79.5h0M114.7 98.5h0M113.7 84.7h0M103.9 87.9h0M108.9 80.1h0M104.6 92.6h0M115.6 101.2h0M117.7 93.1h0M102.5 67.6h0M120.7 71.8h0M80.8 92.6h0M116.9 85.6h0M74.4 90.4h0M77.8 71.2h0M96.2 94.6h0M87.4 78.4h0M119.9 86.1h0M121.3 79.0h0M107.0 96.9h0M92.5 84.7h0M123.1 84.0h0M90.3 75.5h0M111.0 71.3h0M93.5 68.9h0M78.7 82.4h0M112.4 90.6h0M86.5 101.8h0M103.9 98.0h0M88.5 95.6h0M103.4 70.7h0M81.7 86.8h0M94.7 96.4h0M79.3 91.5h0M92.6 64.3h0M118.5 84.0h0M94.5 77.5h0M111.1 57.6h0M90.7 75.1h0M109.2 93.3h0M117.1 94.1h0M80.1 86.1h0M74.0 82.5h0M95.4 101.1h0M113.8 99.7h0M119.1 83.6h0M95.4 71.7h0M102.0 95.1h0M132.4 86.0h0M97.3 91.9h0M106.0 95.9h0M103.1 95.0h0M78.3 82.1h0M118.6 83.1h0M116.0 63.1h0M96.0 83.6h0M89.8 100.9h0M109.3 73.7h0M84.0 92.7h0M80.7 87.5h0M73.2 76.6h0M124.5 71.2h0M112.5 76.0h0M94.0 96.7h0M85.7 90.2h0M90.6 75.9h0M86.5 66.6h0M103.7 97.1h0M120.9 98.1h0M106.2 86.3h0M95.6 96.4h0M118.9 89.3h0M106.3 102.2h0M80.9 82.1h0M112.4 97.4h0M111.7 83.1h0M76.9 94.6h0M77.6 73.8h0M93.0 79.5h0M103.4 77.5h0M102.7 74.2h0M99.4 87.4h0M130.2 88.8h0M94.9 97.3h0M82.9 87.1h0M131.5 80.5h0M117.5 87.3h0M88.1 89.0h0M115.8 99.9h0M107.9 99.8h0" stroke="#d04090" stroke-width="0.8" stroke-linecap="round"/>
<path d="M78.6 94.3h0M91.9 87.8h0M84.9 88.1h0M96.9 85.9h0M93.9 102.4h0M126.4 71.2h0M98.1 56.8h0M106.4 97.4h0M108.4 93.4h0M87.7 80.3h0M93.1 73.7h0M104.6 96.1h0M80.8 91.6h0M125.3 75.5h0M100.6 82.8h0M81.5 74.8h0M119.2 97.0h0M97.6 71.6h0M77.3 78.8h0M76.5 94.4h0M113.4 94.9h0M120.3 66.8h0M131.1 83.2h0M81.1 87.3h0M77.5 74.5h0M109.2 52.4h0M102.8 66.1h0M100.7 100.9h0M95.5 92.5h0M82.8 86.1h0M114.8 83.2h0M89.7 80.8h0M119.2 91.7h0M121.1 94.8h0M91.3 71.5h0M117.7 82.2h0M89.1 80.0h0M91.1 64.9h0M76.8 95.0h0M75.2 78.2h0M111.2 79.5h0M82.4 76.4h0M100.6 96.4h0M81.2 86.2h0M100.5 79.4h0M101.4 90.7h0M80.7 70.0h0M85.9 95.7h0M120.4 99.3h0M105.1 101.7h0M81.8 71.4h0M106.3 70.3h0M82.5 94.2h0M99.8 96.4h0M83.1 68.0h0M108.3 84.2h0M102.6 103.9h0M97.0 68.9h0M87.9 75.9h0M73.8 91.8h0M112.9 84.9h0M96.7 79.5h0M75.0 72.3h0M90.6 82.4h0M72.7 87.9h0M96.4 90.9h0M91.7 84.5h0M106.5 74.2h0M119.5 91.1h0M97.7 73.0h0M80.4 92.7h0M92.1 73.4h0M88.8 75.1h0M91.7 81.9h0M87.3 84.7h0M116.6 79.0h0M96.0 79.0h0M101.9 73.7h0M74.6 83.2h0M108.5 71.4h0M121.7 82.1h0M94.7 70.7h0M99.1 64.6h0M75.7 89.8h0M79.8 86.7h0M95.2 77.8h0M73.7 86.3h0M73.8 86.1h0M105.9 73.4h0M89.3 54.5h0M96.8 74.5h0M115.0 79.6h0M108.1 79.8h0M80.2 81.6h0M110.0 98.9h0M85.5 96.4h0M112.2 79.1h0M81.2 81.3h0M85.1 96.3h0M106.9 52.1h0" stroke="#800a4c" stroke-width="1.6" stroke-linecap="round"/>
<path d="M78.6 94.3h0M91.9 87.8h0M84.9 88.1h0M96.9 85.9h0M93.9 102.4h0M126.4 71.2h0M98.1 56.8h0M106.4 97.4h0M108.4 93.4h0M87.7 80.3h0M93.1 73.7h0M104.6 96.1h0M80.8 91.6h0M125.3 75.5h0M100.6 82.8h0M81.5 74.8h0M119.2 97.0h0M97.6 71.6h0M77.3 78.8h0M76.5 94.4h0M113.4 94.9h0M120.3 66.8h0M131.1 83.2h0M81.1 87.3h0M77.5 74.5h0M109.2 52.4h0M102.8 66.1h0M100.7 100.9h0M95.5 92.5h0M82.8 86.1h0M114.8 83.2h0M89.7 80.8h0M119.2 91.7h0M121.1 94.8h0M91.3 71.5h0M117.7 82.2h0M89.1 80.0h0M91.1 64.9h0M76.8 95.0h0M75.2 78.2h0M111.2 79.5h0M82.4 76.4h0M100.6 96.4h0M81.2 86.2h0M100.5 79.4h0M101.4 90.7h0M80.7 70.0h0M85.9 95.7h0M120.4 99.3h0M105.1 101.7h0M81.8 71.4h0M106.3 70.3h0M82.5 94.2h0M99.8 96.4h0M83.1 68.0h0M108.3 84.2h0M102.6 103.9h0M97.0 68.9h0M87.9 75.9h0M73.8 91.8h0M112.9 84.9h0M96.7 79.5h0M75.0 72.3h0M90.6 82.4h0M72.7 87.9h0M96.4 90.9h0M91.7 84.5h0M106.5 74.2h0M119.5 91.1h0M97.7 73.0h0M80.4 92.7h0M92.1 73.4h0M88.8 75.1h0M91.7 81.9h0M87.3 84.7h0M116.6 79.0h0M96.0 79.0h0M101.9 73.7h0M74.6 83.2h0M108.5 71.4h0M121.7 82.1h0M94.7 70.7h0M99.1 64.6h0M75.7 89.8h0M79.8 86.7h0M95.2 77.8h0M73.7 86.3h0M73.8 86.1h0M105.9 73.4h0M89.3 54.5h0M96.8 74.5h0M115.0 79.6h0M108.1 79.8h0M80.2 81.6h0M110.0 98.9h0M85.5 96.4h0M112.2 79.1h0M81.2 81.3h0M85.1 96.3h0M106.9 52.1h0" stroke="#d04090" stroke-width="0.8" stroke-linecap="round"/>
<path d="M74.5 89.7h0M122.7 62.9h0M122.0 79.0h0M80.6 64.3h0M108.7 67.5h0M83.0 87.2h0M77.6 88.6h0M100.2 80.6h0M115.3 86.1h0M83.3 94.0h0M95.4 97.6h0M78.4 82.5h0M79.3 77.8h0M85.7 88.0h0M118.7 100.0h0M101.7 79.7h0M97.8 99.2h0M93.7 49.8h0M87.5 58.8h0M102.1 88.6h0M96.4 69.2h0M112.3 100.7h0M83.0 62.1h0M107.8 69.6h0M115.2 76.5h0M89.3 100.0h0M96.2 93.9h0M104.3 89.9h0M118.4 64.2h0M107.4 90.5h0M117.7 92.1h0M97.6 79.6h0M114.9 60.7h0M108.2 66.5h0M95.3 70.1h0M85.7 77.5h0M82.0 93.6h0M89.3 94.2h0M93.5 72.4h0M88.7 60.4h0M129.2 80.2h0M94.0 69.7h0M105.4 94.6h0M122.9 100.1h0M98.2 86.4h0M117.7 90.1h0M121.5 92.7h0M117.7 89.6h0M97.6 69.8h0M87.0 84.4h0M106.6 91.5h0M107.3 74.6h0M97.6 102.9h0M86.6 97.7h0M88.8 65.2h0M109.0 89.1h0M96.6 98.7h0M106.3 82.0h0M81.6 92.2h0M99.3 99.8h0M113.3 80.6h0M95.8 84.8h0M93.7 95.4h0M96.6 82.6h0M106.3 84.4h0M83.1 70.2h0M123.8 98.6h0M95.7 100.4h0M103.1 97.6h0M151.8 66.3h0M127.4 94.6h0M87.3 86.8h0M91.6 51.2h0M102.7 101.8h0M105.0 88.1h0M78.6 97.3h0M89.5 77.7h0M100.9 73.5h0M96.3 91.6h0M99.9 82.4h0M75.9 83.2h0M98.8 99.1h0M78.4 74.6h0M104.0 91.3h0M77.6 72.7h0M105.7 98.9h0M124.4 92.0h0M103.6 69.5h0M98.7 81.9h0M80.9 70.8h0M124.0 105.9h0M100.8 86.0h0M91.1 87.6h0M112.8 65.1h0M107.4 73.5h0M123.0 79.9h0M90.8 84.5h0M123.3 90.7h0M100.5 78.4h0M123.0 82.5h0" stroke="#800a4c" stroke-width="1.6" stroke-linecap="round"/>
<path d="M74.5 89.7h0M122.7 62.9h0M122.0 79.0h0M80.6 64.3h0M108.7 67.5h0M83.0 87.2h0M77.6 88.6h0M100.2 80.6h0M115.3 86.1h0M83.3 94.0h0M95.4 97.6h0M78.4 82.5h0M79.3 77.8h0M85.7 88.0h0M118.7 100.0h0M101.7 79.7h0M97.8 99.2h0M93.7 49.8h0M87.5 58.8h0M102.1 88.6h0M96.4 69.2h0M112.3 100.7h0M83.0 62.1h0M107.8 69.6h0M115.2 76.5h0M89.3 100.0h0M96.2 93.9h0M104.3 89.9h0M118.4 64.2h0M107.4 90.5h0M117.7 92.1h0M97.6 79.6h0M114.9 60.7h0M108.2 66.5h0M95.3 70.1h0M85.7 77.5h0M82.0 93.6h0M89.3 94.2h0M93.5 72.4h0M88.7 60.4h0M129.2 80.2h0M94.0 69.7h0M105.4 94.6h0M122.9 100.1h0M98.2 86.4h0M117.7 90.1h0M121.5 92.7h0M117.7 89.6h0M97.6 69.8h0M87.0 84.4h0M106.6 91.5h0M107.3 74.6h0M97.6 102.9h0M86.6 97.7h0M88.8 65.2h0M109.0 89.1h0M96.6 98.7h0M106.3 82.0h0M81.6 92.2h0M99.3 99.8h0M113.3 80.6h0M95.8 84.8h0M93.7 95.4h0M96.6 82.6h0M106.3 84.4h0M83.1 70.2h0M123.8 98.6h0M95.7 100.4h0M103.1 97.6h0M151.8 66.3h0M127.4 94.6h0M87.3 86.8h0M91.6 51.2h0M102.7 101.8h0M105.0 88.1h0M78.6 97.3h0M89.5 77.7h0M100.9 73.5h0M96.3 91.6h0M99.9 82.4h0M75.9 83.2h0M98.8 99.1h0M78.4 74.6h0M104.0 91.3h0M77.6 72.7h0M105.7 98.9h0M124.4 92.0h0M103.6 69.5h0M98.7 81.9h0M80.9 70.8h0M124.0 105.9h0M100.8 86.0h0M91.1 87.6h0M112.8 65.1h0M107.4 73.5h0M123.0 79.9h0M90.8 84.5h0M123.3 90.7h0M100.5 78.4h0M123.0 82.5h0" stroke="#d04090" stroke-width="0.8" stroke-linecap="round"/>
<path d="M116.2 81.5h0M88.0 80.1h0M78.6 92.4h0M129.4 79.5h0M115.1 56.3h0M93.2 82.4h0M105.3 41.1h0M100.0 60.1h0M83.8 99.0h0M88.9 80.0h0M85.7 84.0h0M76.1 84.9h0M94.8 89.8h0M99.3 71.7h0M107.8 73.7h0M119.1 85.1h0M120.6 98.8h0M81.1 98.5h0M98.6 49.7h0M87.0 83.9h0M76.5 76.2h0M96.5 74.8h0M93.2 79.1h0M73.8 89.3h0M85.6 91.8h0M90.0 63.1h0M113.7 101.7h0M128.8 93.5h0M76.6 70.3h0M97.8 55.9h0M77.1 80.2h0M89.0 85.7h0M111.9 86.6h0M103.0 67.4h0M97.1 99.0h0M120.4 95.5h0M107.2 85.1h0M105.3 79.9h0M100.8 67.0h0M79.0 78.6h0M126.1 82.1h0M120.0 80.5h0M85.2 57.7h0M107.8 91.6h0M100.7 82.2h0M98.8 91.8h0M81.1 96.2h0M101.8 82.0h0M77.2 95.3h0M87.0 98.1h0M85.3 75.7h0M93.1 93.6h0M115.2 85.8h0M109.4 64.5h0M130.1 87.4h0M98.8 68.2h0M121.0 86.3h0M101.7 56.8h0M84.9 84.2h0M97.5 97.3h0M84.1 66.3h0M106.5 90.6h0M113.2 96.1h0M92.5 75.4h0M118.8 82.8h0M108.7 93.2h0M86.4 86.2h0M113.1 88.5h0M107.0 98.0h0M87.4 100.2h0M94.1 63.8h0M79.5 81.1h0M90.1 92.1h0M126.0 85.2h0M96.8 88.7h0M115.9 93.2h0M85.8 76.6h0M74.9 80.6h0M82.4 89.1h0M90.7 62.5h0M118.9 76.0h0M113.7 82.4h0M79.2 89.9h0M103.0 103.0h0M98.9 81.1h0M88.3 79.3h0M87.6 93.6h0M113.5 58.9h0M108.7 66.8h0M96.4 94.9h0M113.3 70.0h0M114.3 81.9h0M83.0 84.7h0M82.2 77.5h0M103.3 99.1h0M75.8 80.7h0M85.7 93.0h0M94.5 99.2h0M78.5 87.5h0M93.3 75.0h0" stroke="#800a4c" stroke-width="1.6" stroke-linecap="round"/>
<path d="M116.2 81.5h0M88.0 80.1h0M78.6 92.4h0M129.4 79.5h0M115.1 56.3h0M93.2 82.4h0M105.3 41.1h0M100.0 60.1h0M83.8 99.0h0M88.9 80.0h0M85.7 84.0h0M76.1 84.9h0M94.8 89.8h0M99.3 71.7h0M107.8 73.7h0M119.1 85.1h0M120.6 98.8h0M81.1 98.5h0M98.6 49.7h0M87.0 83.9h0M76.5 76.2h0M96.5 74.8h0M93.2 79.1h0M73.8 89.3h0M85.6 91.8h0M90.0 63.1h0M113.7 101.7h0M128.8 93.5h0M76.6 70.3h0M97.8 55.9h0M77.1 80.2h0M89.0 85.7h0M111.9 86.6h0M103.0 67.4h0M97.1 99.0h0M120.4 95.5h0M107.2 85.1h0M105.3 79.9h0M100.8 67.0h0M79.0 78.6h0M126.1 82.1h0M120.0 80.5h0M85.2 57.7h0M107.8 91.6h0M100.7 82.2h0M98.8 91.8h0M81.1 96.2h0M101.8 82.0h0M77.2 95.3h0M87.0 98.1h0M85.3 75.7h0M93.1 93.6h0M115.2 85.8h0M109.4 64.5h0M130.1 87.4h0M98.8 68.2h0M121.0 86.3h0M101.7 56.8h0M84.9 84.2h0M97.5 97.3h0M84.1 66.3h0M106.5 90.6h0M113.2 96.1h0M92.5 75.4h0M118.8 82.8h0M108.7 93.2h0M86.4 86.2h0M113.1 88.5h0M107.0 98.0h0M87.4 100.2h0M94.1 63.8h0M79.5 81.1h0M90.1 92.1h0M126.0 85.2h0M96.8 88.7h0M115.9 93.2h0M85.8 76.6h0M74.9 80.6h0M82.4 89.1h0M90.7 62.5h0M118.9 76.0h0M113.7 82.4h0M79.2 89.9h0M103.0 103.0h0M98.9 81.1h0M88.3 79.3h0M87.6 93.6h0M113.5 58.9h0M108.7 66.8h0M96.4 94.9h0M113.3 70.0h0M114.3 81.9h0M83.0 84.7h0M82.2 77.5h0M103.3 99.1h0M75.8 80.7h0M85.7 93.0h0M94.5 99.2h0M78.5 87.5h0M93.3 75.0h0" stroke="#d04090" stroke-width="0.8" stroke-linecap="round"/>
<path d="M119.3 87.1h0M101.9 69.3h0M106.6 58.8h0M103.6 94.0h0M107.9 77.1h0M111.4 91.1h0M131.8 87.5h0M96.8 70.4h0M88.6 99.6h0M87.0 72.3h0M82.8 71.1h0M107.4 83.0h0M99.1 66.3h0M113.8 92.2h0M77.6 70.2h0M120.0 79.5h0M73.3 84.2h0M106.4 101.2h0M92.2 52.4h0M100.9 64.1h0M93.2 75.5h0M111.0 103.4h0M122.2 95.1h0M79.4 73.5h0M89.2 87.8h0M86.1 78.5h0M118.1 88.3h0M92.5 79.6h0M97.4 78.3h0M112.9 75.2h0M115.0 90.0h0M104.2 71.7h0M101.8 75.7h0M100.0 83.3h0M84.3 79.2h0M119.5 88.2h0M94.1 92.0h0M120.5 96.6h0M96.6 57.9h0M79.2 87.7h0M73.4 92.5h0M99.2 64.9h0M103.3 83.4h0M88.1 71.7h0M77.0 87.9h0M89.4 98.6h0M94.2 69.8h0M102.2 92.2h0M108.6 99.6h0M99.1 56.0h0M97.7 79.2h0M76.2 62.4h0M98.1 96.8h0M122.9 97.7h0M112.0 101.2h0M119.8 91.4h0M86.3 100.9h0M130.3 83.3h0M93.2 87.7h0M91.6 76.7h0M77.3 94.9h0M119.2 76.7h0M90.6 76.1h0M94.6 99.7h0M110.9 92.9h0M75.4 85.0h0M82.6 98.3h0M122.5 63.0h0M85.2 68.6h0M127.2 81.4h0M75.7 93.3h0M77.3 80.1h0M93.2 90.5h0M92.4 99.2h0M120.2 82.6h0M79.9 88.8h0M128.7 66.8h0M79.8 62.4h0M112.8 73.0h0M94.4 93.5h0M97.5 84.3h0M77.1 77.1h0M109.2 82.8h0M95.7 75.6h0M118.7 64.8h0M88.4 77.4h0M104.7 67.9h0M100.9 77.0h0M123.8 98.0h0M77.2 61.5h0M84.4 88.5h0M119.9 78.8h0M127.3 103.9h0M121.2 85.1h0M110.5 96.1h0M99.3 64.6h0M117.1 74.2h0M112.8 94.6h0M94.8 64.6h0M90.4 63.3h0" stroke="#800a4c" stroke-width="1.6" stroke-linecap="round"/>
<path d="M119.3 87.1h0M101.9 69.3h0M106.6 58.8h0M103.6 94.0h0M107.9 77.1h0M111.4 91.1h0M131.8 87.5h0M96.8 70.4h0M88.6 99.6h0M87.0 72.3h0M82.8 71.1h0M107.4 83.0h0M99.1 66.3h0M113.8 92.2h0M77.6 70.2h0M120.0 79.5h0M73.3 84.2h0M106.4 101.2h0M92.2 52.4h0M100.9 64.1h0M93.2 75.5h0M111.0 103.4h0M122.2 95.1h0M79.4 73.5h0M89.2 87.8h0M86.1 78.5h0M118.1 88.3h0M92.5 79.6h0M97.4 78.3h0M112.9 75.2h0M115.0 90.0h0M104.2 71.7h0M101.8 75.7h0M100.0 83.3h0M84.3 79.2h0M119.5 88.2h0M94.1 92.0h0M120.5 96.6h0M96.6 57.9h0M79.2 87.7h0M73.4 92.5h0M99.2 64.9h0M103.3 83.4h0M88.1 71.7h0M77.0 87.9h0M89.4 98.6h0M94.2 69.8h0M102.2 92.2h0M108.6 99.6h0M99.1 56.0h0M97.7 79.2h0M76.2 62.4h0M98.1 96.8h0M122.9 97.7h0M112.0 101.2h0M119.8 91.4h0M86.3 100.9h0M130.3 83.3h0M93.2 87.7h0M91.6 76.7h0M77.3 94.9h0M119.2 76.7h0M90.6 76.1h0M94.6 99.7h0M110.9 92.9h0M75.4 85.0h0M82.6 98.3h0M122.5 63.0h0M85.2 68.6h0M127.2 81.4h0M75.7 93.3h0M77.3 80.1h0M93.2 90.5h0M92.4 99.2h0M120.2 82.6h0M79.9 88.8h0M128.7 66.8h0M79.8 62.4h0M112.8 73.0h0M94.4 93.5h0M97.5 84.3h0M77.1 77.1h0M109.2 82.8h0M95.7 75.6h0M118.7 64.8h0M88.4 77.4h0M104.7 67.9h0M100.9 77.0h0M123.8 98.0h0M77.2 61.5h0M84.4 88.5h0M119.9 78.8h0M127.3 103.9h0M121.2 85.1h0M110.5 96.1h0M99.3 64.6h0M117.1 74.2h0M112.8 94.6h0M94.8 64.6h0M90.4 63.3h0" stroke="#d04090" stroke-width="0.8" stroke-linecap="round"/>
<path d="M94.7 74.7h0M113.3 71.7h0M89.1 77.3h0M94.3 102.1h0M123.3 102.3h0M86.7 92.1h0M75.5 73.4h0M120.5 76.4h0M91.0 96.7h0M104.9 96.9h0M106.2 78.8h0M120.9 85.8h0M96.1 67.9h0M87.6 86.2h0M102.7 94.5h0M115.4 61.7h0M96.7 71.6h0M127.0 68.6h0M74.9 90.3h0M95.9 81.2h0M123.9 94.9h0M101.8 71.6h0M88.9 94.0h0M106.5 68.7h0M80.8 100.5h0M110.6 63.6h0M106.6 94.9h0M106.8 72.1h0M73.7 92.1h0M104.7 84.1h0M89.3 95.7h0M110.8 69.3h0M82.8 70.4h0M113.0 81.7h0M77.1 86.7h0M106.0 81.3h0M98.1 89.2h0M128.6 80.0h0M113.1 77.1h0M105.1 79.7h0M93.4 80.6h0M113.1 76.2h0M81.0 94.4h0M75.0 96.1h0M100.4 82.6h0M94.6 91.8h0M96.2 84.5h0M108.3 62.4h0M113.4 59.8h0M105.5 50.6h0M77.0 81.9h0M103.7 94.4h0M75.9 93.4h0M98.3 87.2h0M117.5 87.1h0M93.4 73.9h0M117.1 95.9h0M99.2 59.8h0M109.0 101.3h0M116.0 103.1h0M80.9 83.6h0M98.2 94.8h0M126.5 73.9h0M116.3 102.8h0M76.9 73.5h0M95.1 98.6h0M118.4 77.7h0M98.8 76.5h0M107.0 102.0h0M86.6 72.9h0M77.1 87.5h0M112.5 84.0h0M92.8 72.7h0M97.7 74.8h0M102.6 82.6h0M126.9 77.3h0M100.1 100.7h0M120.8 60.0h0M124.5 105.0h0M79.3 77.1h0M122.5 95.6h0M94.8 75.0h0M89.4 83.9h0M84.8 82.6h0M109.1 97.9h0M119.5 63.4h0M99.1 72.5h0M78.9 95.6h0M119.4 80.2h0M101.7 103.3h0M110.1 71.5h0M111.3 92.2h0M90.9 79.0h0M108.1 59.9h0M77.1 87.8h0M91.9 77.7h0M99.9 66.0h0M98.3 88.9h0M82.3 100.3h0M90.6 95.4h0" stroke="#800a4c" stroke-width="1.6" stroke-linecap="round"/>
<path d="M94.7 74.7h0M113.3 71.7h0M89.1 77.3h0M94.3 102.1h0M123.3 102.3h0M86.7 92.1h0M75.5 73.4h0M120.5 76.4h0M91.0 96.7h0M104.9 96.9h0M106.2 78.8h0M120.9 85.8h0M96.1 67.9h0M87.6 86.2h0M102.7 94.5h0M115.4 61.7h0M96.7 71.6h0M127.0 68.6h0M74.9 90.3h0M95.9 81.2h0M123.9 94.9h0M101.8 71.6h0M88.9 94.0h0M106.5 68.7h0M80.8 100.5h0M110.6 63.6h0M106.6 94.9h0M106.8 72.1h0M73.7 92.1h0M104.7 84.1h0M89.3 95.7h0M110.8 69.3h0M82.8 70.4h0M113.0 81.7h0M77.1 86.7h0M106.0 81.3h0M98.1 89.2h0M128.6 80.0h0M113.1 77.1h0M105.1 79.7h0M93.4 80.6h0M113.1 76.2h0M81.0 94.4h0M75.0 96.1h0M100.4 82.6h0M94.6 91.8h0M96.2 84.5h0M108.3 62.4h0M113.4 59.8h0M105.5 50.6h0M77.0 81.9h0M103.7 94.4h0M75.9 93.4h0M98.3 87.2h0M117.5 87.1h0M93.4 73.9h0M117.1 95.9h0M99.2 59.8h0M109.0 101.3h0M116.0 103.1h0M80.9 83.6h0M98.2 94.8h0M126.5 73.9h0M116.3 102.8h0M76.9 73.5h0M95.1 98.6h0M118.4 77.7h0M98.8 76.5h0M107.0 102.0h0M86.6 72.9h0M77.1 87.5h0M112.5 84.0h0M92.8 72.7h0M97.7 74.8h0M102.6 82.6h0M126.9 77.3h0M100.1 100.7h0M120.8 60.0h0M124.5 105.0h0M79.3 77.1h0M122.5 95.6h0M94.8 75.0h0M89.4 83.9h0M84.8 82.6h0M109.1 97.9h0M119.5 63.4h0M99.1 72.5h0M78.9 95.6h0M119.4 80.2h0M101.7 103.3h0M110.1 71.5h0M111.3 92.2h0M90.9 79.0h0M108.1 59.9h0M77.1 87.8h0M91.9 77.7h0M99.9 66.0h0M98.3 88.9h0M82.3 100.3h0M90.6 95.4h0" stroke="#d04090" stroke-width="0.8" stroke-linecap="round"/>
<path d="M102.8 97.5h0M119.7 67.9h0M104.4 100.4h0M93.7 75.3h0M73.5 77.4h0M76.3 76.3h0M99.3 86.5h0M115.6 90.6h0M110.2 100.4h0M86.2 83.5h0M94.9 73.2h0M112.6 75.0h0M116.7 73.4h0M107.9 80.3h0M79.4 77.0h0M99.3 64.6h0M113.3 92.5h0M123.6 96.5h0M81.1 74.6h0M91.2 73.3h0M104.2 79.5h0M80.1 88.1h0M115.3 82.8h0M114.4 78.9h0M123.2 94.0h0M115.2 64.0h0M105.5 91.1h0M95.5 90.1h0M109.3 59.0h0M89.4 88.2h0M102.9 72.1h0M82.7 78.0h0M84.4 89.2h0M76.0 71.5h0M89.8 68.3h0M100.4 91.3h0M94.2 52.6h0M119.9 87.1h0M123.8 101.9h0M78.4 96.7h0M78.2 99.5h0M87.6 89.5h0M119.5 58.3h0M72.7 79.5h0M110.0 88.1h0M92.3 93.1h0M86.9 72.5h0M125.2 65.6h0M102.0 103.4h0M96.7 68.6h0M75.4 88.6h0M80.8 95.3h0M121.0 93.9h0M87.4 65.9h0M97.8 93.4h0M108.4 70.9h0M72.7 96.6h0M116.1 94.8h0M118.3 100.9h0M88.0 73.8h0M110.2 94.2h0M86.8 72.0h0M86.0 74.5h0M89.0 100.0h0M116.3 104.1h0M92.8 85.4h0M92.9 68.3h0M110.7 83.6h0M124.0 67.6h0M80.4 94.4h0M117.7 90.9h0M72.8 77.0h0M86.3 65.1h0M103.3 82.5h0M104.3 101.4h0M101.0 78.2h0M91.4 93.6h0M118.8 55.9h0M122.3 102.9h0M83.5 96.2h0M80.0 98.0h0M119.2 99.4h0M99.4 95.4h0M129.2 60.3h0M123.9 96.7h0M115.6 64.9h0M106.0 76.4h0M87.5 101.5h0M99.2 86.5h0M89.3 61.1h0M106.7 90.2h0M126.8 76.3h0M99.4 73.3h0M106.6 71.6h0M116.7 68.3h0M96.7 84.5h0M87.9 74.3h0M81.1 100.2h0M87.1 83.7h0M90.1 71.0h0" stroke="#800a4c" stroke-width="1.6" stroke-linecap="round"/>
<path d="M102.8 97.5h0M119.7 67.9h0M104.4 100.4h0M93.7 75.3h0M73.5 77.4h0M76.3 76.3h0M99.3 86.5h0M115.6 90.6h0M110.2 100.4h0M86.2 83.5h0M94.9 73.2h0M112.6 75.0h0M116.7 73.4h0M107.9 80.3h0M79.4 77.0h0M99.3 64.6h0M113.3 92.5h0M123.6 96.5h0M81.1 74.6h0M91.2 73.3h0M104.2 79.5h0M80.1 88.1h0M115.3 82.8h0M114.4 78.9h0M123.2 94.0h0M115.2 64.0h0M105.5 91.1h0M95.5 90.1h0M109.3 59.0h0M89.4 88.2h0M102.9 72.1h0M82.7 78.0h0M84.4 89.2h0M76.0 71.5h0M89.8 68.3h0M100.4 91.3h0M94.2 52.6h0M119.9 87.1h0M123.8 101.9h0M78.4 96.7h0M78.2 99.5h0M87.6 89.5h0M119.5 58.3h0M72.7 79.5h0M110.0 88.1h0M92.3 93.1h0M86.9 72.5h0M125.2 65.6h0M102.0 103.4h0M96.7 68.6h0M75.4 88.6h0M80.8 95.3h0M121.0 93.9h0M87.4 65.9h0M97.8 93.4h0M108.4 70.9h0M72.7 96.6h0M116.1 94.8h0M118.3 100.9h0M88.0 73.8h0M110.2 94.2h0M86.8 72.0h0M86.0 74.5h0M89.0 100.0h0M116.3 104.1h0M92.8 85.4h0M92.9 68.3h0M110.7 83.6h0M124.0 67.6h0M80.4 94.4h0M117.7 90.9h0M72.8 77.0h0M86.3 65.1h0M103.3 82.5h0M104.3 101.4h0M101.0 78.2h0M91.4 93.6h0M118.8 55.9h0M122.3 102.9h0M83.5 96.2h0M80.0 98.0h0M119.2 99.4h0M99.4 95.4h0M129.2 60.3h0M123.9 96.7h0M115.6 64.9h0M106.0 76.4h0M87.5 101.5h0M99.2 86.5h0M89.3 61.1h0M106.7 90.2h0M126.8 76.3h0M99.4 73.3h0M106.6 71.6h0M116.7 68.3h0M96.7 84.5h0M87.9 74.3h0M81.1 100.2h0M87.1 83.7h0M90.1 71.0h0" stroke="#d04090" stroke-width="0.8" stroke-linecap="round"/>
<path d="M79.1 88.1h0M101.2 96.6h0M93.8 83.5h0M85.4 83.3h0M117.9 89.7h0M97.9 93.9h0M78.5 62.9h0M81.2 70.6h0M98.3 87.7h0M92.0 72.3h0M77.4 76.6h0M100.6 80.4h0M109.0 88.1h0M77.3 71.7h0M110.3 84.4h0M103.9 71.9h0M92.3 99.7h0M95.9 82.9h0M106.4 98.6h0M96.8 58.9h0M119.4 82.0h0M88.6 72.5h0M87.0 79.3h0M91.9 68.3h0M81.0 76.4h0M110.4 84.5h0M109.1 70.8h0M112.5 78.0h0M105.7 87.4h0M102.4 70.8h0M101.4 102.9h0M98.5 60.0h0M108.8 71.6h0M79.4 90.9h0M114.1 98.5h0M90.1 81.6h0M107.7 81.4h0M116.0 70.3h0M82.9 78.3h0M92.1 92.8h0M81.7 83.1h0M114.5 88.1h0M88.2 76.4h0M87.9 100.4h0M92.5 99.0h0M81.7 84.8h0M110.8 101.1h0M119.2 79.8h0M79.8 93.9h0M82.8 70.5h0M87.0 84.5h0M126.1 76.1h0M104.2 81.6h0M111.9 51.9h0M80.0 66.2h0M112.5 77.1h0M86.2 95.2h0M119.8 98.0h0M85.1 75.9h0M101.9 101.1h0M96.9 95.0h0M91.9 83.2h0M127.4 70.2h0M88.4 68.1h0M115.5 85.3h0M117.7 100.6h0M99.5 96.8h0M117.8 103.3h0M88.8 83.2h0M123.0 97.7h0M111.1 96.6h0M94.5 97.2h0M84.1 101.4h0M105.8 75.8h0M102.2 98.9h0M72.9 92.4h0M89.7 74.4h0M84.3 77.6h0M75.0 72.0h0M118.7 97.6h0M99.5 77.8h0M86.8 99.3h0M81.0 74.3h0M75.8 85.2h0M115.1 76.5h0M87.8 96.1h0M83.6 66.2h0M115.2 75.3h0M123.5 88.9h0M106.9 81.2h0M121.0 63.6h0M114.2 104.8h0M126.6 79.5h0M99.4 80.9h0M78.6 87.9h0M77.1 72.2h0M86.8 70.0h0M100.9 87.1h0M79.1 87.3h0M92.7 91.8h0" stroke="#800a4c" stroke-width="1.6" stroke-linecap="round"/>
<path d="M79.1 88.1h0M101.2 96.6h0M93.8 83.5h0M85.4 83.3h0M117.9 89.7h0M97.9 93.9h0M78.5 62.9h0M81.2 70.6h0M98.3 87.7h0M92.0 72.3h0M77.4 76.6h0M100.6 80.4h0M109.0 88.1h0M77.3 71.7h0M110.3 84.4h0M103.9 71.9h0M92.3 99.7h0M95.9 82.9h0M106.4 98.6h0M96.8 58.9h0M119.4 82.0h0M88.6 72.5h0M87.0 79.3h0M91.9 68.3h0M81.0 76.4h0M110.4 84.5h0M109.1 70.8h0M112.5 78.0h0M105.7 87.4h0M102.4 70.8h0M101.4 102.9h0M98.5 60.0h0M108.8 71.6h0M79.4 90.9h0M114.1 98.5h0M90.1 81.6h0M107.7 81.4h0M116.0 70.3h0M82.9 78.3h0M92.1 92.8h0M81.7 83.1h0M114.5 88.1h0M88.2 76.4h0M87.9 100.4h0M92.5 99.0h0M81.7 84.8h0M110.8 101.1h0M119.2 79.8h0M79.8 93.9h0M82.8 70.5h0M87.0 84.5h0M126.1 76.1h0M104.2 81.6h0M111.9 51.9h0M80.0 66.2h0M112.5 77.1h0M86.2 95.2h0M119.8 98.0h0M85.1 75.9h0M101.9 101.1h0M96.9 95.0h0M91.9 83.2h0M127.4 70.2h0M88.4 68.1h0M115.5 85.3h0M117.7 100.6h0M99.5 96.8h0M117.8 103.3h0M88.8 83.2h0M123.0 97.7h0M111.1 96.6h0M94.5 97.2h0M84.1 101.4h0M105.8 75.8h0M102.2 98.9h0M72.9 92.4h0M89.7 74.4h0M84.3 77.6h0M75.0 72.0h0M118.7 97.6h0M99.5 77.8h0M86.8 99.3h0M81.0 74.3h0M75.8 85.2h0M115.1 76.5h0M87.8 96.1h0M83.6 66.2h0M115.2 75.3h0M123.5 88.9h0M106.9 81.2h0M121.0 63.6h0M114.2 104.8h0M126.6 79.5h0M99.4 80.9h0M78.6 87.9h0M77.1 72.2h0M86.8 70.0h0M100.9 87.1h0M79.1 87.3h0M92.7 91.8h0" stroke="#d04090" stroke-width="0.8" stroke-linecap="round"/>
<path d="M83.9 85.6h0M118.2 98.3h0M100.4 87.0h0M81.4 85.7h0M72.6 91.4h0M123.9 75.1h0M113.5 84.7h0M80.3 99.3h0M75.8 83.3h0M82.7 79.2h0M120.0 84.2h0M92.7 58.4h0M122.4 84.7h0M105.3 69.9h0M84.7 74.0h0M109.1 98.6h0M81.4 61.9h0M106.9 80.1h0M119.2 55.9h0M103.7 86.4h0M109.2 99.4h0M114.2 74.6h0M111.8 78.6h0M137.7 58.5h0M108.2 83.5h0M88.2 93.8h0M109.5 88.3h0M97.3 93.5h0M106.0 76.8h0M81.2 78.2h0M91.8 75.3h0M121.8 60.9h0M121.3 73.4h0M115.6 82.1h0M99.5 73.6h0M128.2 67.4h0M101.4 78.0h0M94.7 70.4h0M118.8 94.8h0M98.1 69.4h0M83.7 85.7h0M105.8 77.7h0M97.1 91.4h0M100.2 70.4h0M114.7 86.4h0M97.4 74.5h0M98.4 100.0h0M89.1 74.0h0M92.1 77.7h0M100.2 98.3h0M114.5 74.9h0M124.5 73.0h0M79.0 78.7h0M122.3 99.9h0M91.1 96.8h0M90.2 65.3h0M113.3 92.8h0M102.5 90.5h0M113.6 93.9h0M114.4 86.2h0M105.2 84.1h0M97.9 78.3h0M119.2 70.6h0M88.5 91.2h0M113.9 89.0h0M109.2 94.6h0M78.0 81.1h0M93.3 100.9h0M85.5 92.7h0M102.0 65.1h0M84.9 79.4h0M96.7 74.3h0M94.7 70.4h0M105.6 84.8h0M104.8 80.9h0M94.1 67.6h0M77.5 84.1h0M81.2 80.9h0M108.5 87.2h0M87.6 56.4h0M116.6 82.3h0M108.5 71.5h0M80.3 66.9h0M106.9 71.3h0M88.0 95.8h0M117.7 79.2h0M107.8 92.4h0M108.7 103.3h0M105.2 91.3h0M109.4 72.4h0M118.0 99.9h0M109.3 81.0h0M87.7 79.4h0M77.2 92.5h0M94.2 79.5h0M97.6 86.9h0M123.1 64.5h0M118.6 93.3h0M105.3 83.1h0M82.9 78.8h0" stroke="#800a4c" stroke-width="1.6" stroke-linecap="round"/>
<path d="M83.9 85.6h0M118.2 98.3h0M100.4 87.0h0M81.4 85.7h0M72.6 91.4h0M123.9 75.1h0M113.5 84.7h0M80.3 99.3h0M75.8 83.3h0M82.7 79.2h0M120.0 84.2h0M92.7 58.4h0M122.4 84.7h0M105.3 69.9h0M84.7 74.0h0M109.1 98.6h0M81.4 61.9h0M106.9 80.1h0M119.2 55.9h0M103.7 86.4h0M109.2 99.4h0M114.2 74.6h0M111.8 78.6h0M137.7 58.5h0M108.2 83.5h0M88.2 93.8h0M109.5 88.3h0M97.3 93.5h0M106.0 76.8h0M81.2 78.2h0M91.8 75.3h0M121.8 60.9h0M121.3 73.4h0M115.6 82.1h0M99.5 73.6h0M128.2 67.4h0M101.4 78.0h0M94.7 70.4h0M118.8 94.8h0M98.1 69.4h0M83.7 85.7h0M105.8 77.7h0M97.1 91.4h0M100.2 70.4h0M114.7 86.4h0M97.4 74.5h0M98.4 100.0h0M89.1 74.0h0M92.1 77.7h0M100.2 98.3h0M114.5 74.9h0M124.5 73.0h0M79.0 78.7h0M122.3 99.9h0M91.1 96.8h0M90.2 65.3h0M113.3 92.8h0M102.5 90.5h0M113.6 93.9h0M114.4 86.2h0M105.2 84.1h0M97.9 78.3h0M119.2 70.6h0M88.5 91.2h0M113.9 89.0h0M109.2 94.6h0M78.0 81.1h0M93.3 100.9h0M85.5 92.7h0M102.0 65.1h0M84.9 79.4h0M96.7 74.3h0M94.7 70.4h0M105.6 84.8h0M104.8 80.9h0M94.1 67.6h0M77.5 84.1h0M81.2 80.9h0M108.5 87.2h0M87.6 56.4h0M116.6 82.3h0M108.5 71.5h0M80.3 66.9h0M106.9 71.3h0M88.0 95.8h0M117.7 79.2h0M107.8 92.4h0M108.7 103.3h0M105.2 91.3h0M109.4 72.4h0M118.0 99.9h0M109.3 81.0h0M87.7 79.4h0M77.2 92.5h0M94.2 79.5h0M97.6 86.9h0M123.1 64.5h0M118.6 93.3h0M105.3 83.1h0M82.9 78.8h0" stroke="#d04090" stroke-width="0.8" stroke-linecap="round"/>
<path d="M118.1 81.7h0M112.3 76.2h0M100.5 81.9h0M73.7 98.9h0M91.2 91.0h0M93.9 73.4h0M107.1 81.9h0M98.1 71.1h0M117.6 74.0h0M109.4 67.6h0M110.9 100.6h0M102.8 71.2h0M108.0 100.3h0M93.9 79.8h0M115.8 63.7h0M112.8 94.0h0M103.0 76.0h0M100.6 68.0h0M74.1 84.4h0M103.1 100.7h0M88.5 94.7h0M114.4 57.8h0M111.5 96.0h0M84.6 70.6h0M132.0 99.4h0M83.7 71.3h0M104.6 102.2h0M107.1 93.9h0M97.0 66.8h0M118.8 96.8h0M113.8 91.4h0M96.1 76.3h0M97.7 59.8h0M112.7 72.8h0M105.4 74.7h0M91.3 70.9h0M114.5 78.8h0M89.8 56.9h0M100.3 80.9h0M111.2 78.2h0M109.5 84.5h0M95.2 83.8h0M94.3 68.6h0M77.5 75.8h0M110.7 85.6h0M116.6 97.6h0M93.9 100.7h0M104.7 97.3h0M117.2 102.2h0M100.5 100.1h0M103.2 74.8h0M136.1 99.2h0M94.5 90.6h0M107.7 82.3h0M114.1 78.6h0M97.6 64.8h0M107.6 89.0h0M102.4 59.6h0M123.4 98.0h0M115.1 85.6h0M93.9 96.4h0M106.5 76.1h0M95.4 83.4h0M94.1 60.0h0M104.4 98.4h0M79.8 76.7h0M78.2 93.5h0M122.1 86.2h0M104.4 71.9h0M92.0 95.7h0M119.5 86.3h0M117.5 82.6h0M96.3 54.4h0M97.8 63.4h0M80.8 85.7h0M116.5 87.8h0M101.9 100.1h0M82.5 74.3h0M120.3 100.7h0M78.8 78.3h0M94.5 91.6h0M99.3 75.1h0M86.6 95.2h0M76.7 93.0h0M105.3 80.2h0M114.7 80.1h0M123.4 66.5h0M84.1 84.8h0M120.3 95.4h0M110.3 52.4h0M113.5 80.4h0M75.9 92.8h0M99.8 89.4h0M102.7 91.4h0M100.5 98.0h0M91.5 93.0h0M124.9 84.2h0M89.8 95.3h0M95.6 100.4h0M95.0 78.5h0" stroke="#800a4c" stroke-width="1.6" stroke-linecap="round"/>
<path d="M118.1 81.7h0M112.3 76.2h0M100.5 81.9h0M73.7 98.9h0M91.2 91.0h0M93.9 73.4h0M107.1 81.9h0M98.1 71.1h0M117.6 74.0h0M109.4 67.6h0M110.9 100.6h0M102.8 71.2h0M108.0 100.3h0M93.9 79.8h0M115.8 63.7h0M112.8 94.0h0M103.0 76.0h0M100.6 68.0h0M74.1 84.4h0M103.1 100.7h0M88.5 94.7h0M114.4 57.8h0M111.5 96.0h0M84.6 70.6h0M132.0 99.4h0M83.7 71.3h0M104.6 102.2h0M107.1 93.9h0M97.0 66.8h0M118.8 96.8h0M113.8 91.4h0M96.1 76.3h0M97.7 59.8h0M112.7 72.8h0M105.4 74.7h0M91.3 70.9h0M114.5 78.8h0M89.8 56.9h0M100.3 80.9h0M111.2 78.2h0M109.5 84.5h0M95.2 83.8h0M94.3 68.6h0M77.5 75.8h0M110.7 85.6h0M116.6 97.6h0M93.9 100.7h0M104.7 97.3h0M117.2 102.2h0M100.5 100.1h0M103.2 74.8h0M136.1 99.2h0M94.5 90.6h0M107.7 82.3h0M114.1 78.6h0M97.6 64.8h0M107.6 89.0h0M102.4 59.6h0M123.4 98.0h0M115.1 85.6h0M93.9 96.4h0M106.5 76.1h0M95.4 83.4h0M94.1 60.0h0M104.4 98.4h0M79.8 76.7h0M78.2 93.5h0M122.1 86.2h0M104.4 71.9h0M92.0 95.7h0M119.5 86.3h0M117.5 82.6h0M96.3 54.4h0M97.8 63.4h0M80.8 85.7h0M116.5 87.8h0M101.9 100.1h0M82.5 74.3h0M120.3 100.7h0M78.8 78.3h0M94.5 91.6h0M99.3 75.1h0M86.6 95.2h0M76.7 93.0h0M105.3 80.2h0M114.7 80.1h0M123.4 66.5h0M84.1 84.8h0M120.3 95.4h0M110.3 52.4h0M113.5 80.4h0M75.9 92.8h0M99.8 89.4h0M102.7 91.4h0M100.5 98.0h0M91.5 93.0h0M124.9 84.2h0M89.8 95.3h0M95.6 100.4h0M95.0 78.5h0" stroke="#d04090" stroke-width="0.8" stroke-linecap="round"/>
<path d="M96.5 95.5h0M89.2 85.9h0M103.8 79.2h0M128.3 75.9h0M85.5 79.4h0M96.2 69.0h0M90.2 84.7h0M74.7 98.2h0M112.9 75.2h0M100.9 83.4h0M107.8 72.3h0M103.3 78.8h0M91.6 75.5h0M123.2 73.4h0M96.5 79.4h0M117.5 103.0h0M99.6 86.7h0M76.8 97.6h0M123.3 101.6h0M116.9 102.5h0M111.4 103.8h0M109.6 94.0h0M117.7 90.1h0M114.4 58.4h0M90.7 92.5h0M120.9 80.9h0M113.5 98.8h0M111.5 79.1h0M90.8 56.0h0M103.0 69.8h0M94.8 89.2h0M73.5 76.4h0M111.9 64.2h0M106.3 76.2h0M88.6 59.1h0M97.3 84.6h0M84.4 94.6h0M99.6 54.4h0M122.9 88.1h0M125.4 83.7h0M83.1 68.1h0M90.2 80.4h0M79.9 95.2h0M85.0 76.2h0M97.1 102.8h0M85.2 92.1h0M97.9 89.5h0M77.7 77.2h0M124.3 80.5h0M107.3 79.3h0M87.8 94.1h0M80.5 85.2h0M111.4 89.4h0M92.0 90.9h0M91.8 72.6h0M80.4 79.8h0M90.1 83.2h0M75.2 89.7h0M88.2 63.8h0M105.4 83.1h0M112.4 82.5h0M117.9 80.2h0M122.9 88.4h0M75.5 75.9h0M94.9 54.7h0M106.6 93.2h0M137.5 85.5h0M82.2 71.5h0M76.1 75.7h0M94.9 102.1h0M122.6 104.1h0M107.5 100.8h0M87.0 65.0h0M99.2 69.3h0M102.6 50.7h0M115.7 84.0h0M102.7 84.7h0M107.1 88.2h0M123.3 89.7h0M82.3 80.7h0M75.7 76.2h0M112.9 78.2h0M84.5 85.0h0M97.9 58.7h0M79.9 85.3h0M87.7 69.0h0M82.5 95.3h0M106.0 102.2h0M120.7 63.7h0M97.7 70.4h0M90.1 59.6h0M79.7 100.0h0M95.2 84.4h0M112.0 80.9h0M100.6 83.7h0M121.1 64.4h0M104.4 27.5h0M110.6 97.2h0M114.8 91.5h0M96.9 86.6h0" stroke="#800a4c" stroke-width="1.6" stroke-linecap="round"/>
<path d="M96.5 95.5h0M89.2 85.9h0M103.8 79.2h0M128.3 75.9h0M85.5 79.4h0M96.2 69.0h0M90.2 84.7h0M74.7 98.2h0M112.9 75.2h0M100.9 83.4h0M107.8 72.3h0M103.3 78.8h0M91.6 75.5h0M123.2 73.4h0M96.5 79.4h0M117.5 103.0h0M99.6 86.7h0M76.8 97.6h0M123.3 101.6h0M116.9 102.5h0M111.4 103.8h0M109.6 94.0h0M117.7 90.1h0M114.4 58.4h0M90.7 92.5h0M120.9 80.9h0M113.5 98.8h0M111.5 79.1h0M90.8 56.0h0M103.0 69.8h0M94.8 89.2h0M73.5 76.4h0M111.9 64.2h0M106.3 76.2h0M88.6 59.1h0M97.3 84.6h0M84.4 94.6h0M99.6 54.4h0M122.9 88.1h0M125.4 83.7h0M83.1 68.1h0M90.2 80.4h0M79.9 95.2h0M85.0 76.2h0M97.1 102.8h0M85.2 92.1h0M97.9 89.5h0M77.7 77.2h0M124.3 80.5h0M107.3 79.3h0M87.8 94.1h0M80.5 85.2h0M111.4 89.4h0M92.0 90.9h0M91.8 72.6h0M80.4 79.8h0M90.1 83.2h0M75.2 89.7h0M88.2 63.8h0M105.4 83.1h0M112.4 82.5h0M117.9 80.2h0M122.9 88.4h0M75.5 75.9h0M94.9 54.7h0M106.6 93.2h0M137.5 85.5h0M82.2 71.5h0M76.1 75.7h0M94.9 102.1h0M122.6 104.1h0M107.5 100.8h0M87.0 65.0h0M99.2 69.3h0M102.6 50.7h0M115.7 84.0h0M102.7 84.7h0M107.1 88.2h0M123.3 89.7h0M82.3 80.7h0M75.7 76.2h0M112.9 78.2h0M84.5 85.0h0M97.9 58.7h0M79.9 85.3h0M87.7 69.0h0M82.5 95.3h0M106.0 102.2h0M120.7 63.7h0M97.7 70.4h0M90.1 59.6h0M79.7 100.0h0M95.2 84.4h0M112.0 80.9h0M100.6 83.7h0M121.1 64.4h0M104.4 27.5h0M110.6 97.2h0M114.8 91.5h0M96.9 86.6h0" stroke="#d04090" stroke-width="0.8" stroke-linecap="round"/>
<path d="M77.7 82.8h0M99.0 73.5h0M94.8 70.5h0M77.4 86.8h0M123.2 88.4h0M120.1 104.4h0M83.6 92.3h0M79.5 57.3h0M83.4 78.4h0M101.3 81.5h0M90.6 69.5h0M110.3 70.5h0M92.7 68.3h0M79.2 74.7h0M93.1 77.0h0M83.4 87.8h0M84.7 81.3h0M82.7 75.0h0M81.5 76.7h0M97.6 81.8h0M101.5 103.8h0M97.2 69.3h0M122.1 96.0h0M79.8 91.3h0M122.8 88.3h0M99.7 83.0h0M108.5 67.0h0M80.5 72.1h0M123.6 85.6h0M127.4 86.0h0M100.1 69.9h0M77.1 87.1h0M107.9 99.4h0M116.3 90.9h0M117.4 92.9h0M74.9 89.5h0M110.3 85.0h0M115.5 94.8h0M92.2 65.7h0M102.4 82.1h0M105.9 88.4h0M122.9 79.1h0M116.7 71.9h0M111.6 83.4h0M101.5 89.3h0M109.0 65.3h0M100.9 81.3h0M89.5 77.1h0M89.4 91.5h0M99.9 101.2h0M122.1 105.0h0M77.5 85.9h0M89.6 72.0h0M117.8 104.0h0M101.3 73.2h0M107.3 85.5h0M102.2 63.1h0M118.8 84.1h0M84.9 70.2h0M85.5 71.0h0M82.0 96.2h0M85.1 100.4h0M120.8 102.7h0M110.7 75.4h0M78.0 83.0h0M111.9 79.7h0M112.5 87.0h0M130.3 49.4h0M97.3 71.9h0M101.6 95.7h0M110.6 79.9h0M119.6 87.5h0M104.5 69.3h0M121.3 64.2h0M114.4 66.2h0M87.1 72.0h0M74.3 77.0h0M92.1 64.3h0M100.7 80.8h0M105.3 75.7h0M114.7 96.7h0M81.8 75.1h0M80.0 88.9h0M106.4 60.8h0M74.5 75.3h0M84.4 76.3h0M86.6 64.1h0M114.3 74.2h0M116.1 93.1h0M97.5 86.4h0M89.6 92.5h0M111.6 102.8h0M114.6 94.2h0M132.2 95.5h0M111.7 87.0h0M85.0 69.3h0M113.5 85.7h0M80.9 82.2h0M104.6 90.4h0M109.4 93.8h0" stroke="#800a4c" stroke-width="1.6" stroke-linecap="round"/>
<path d="M77.7 82.8h0M99.0 73.5h0M94.8 70.5h0M77.4 86.8h0M123.2 88.4h0M120.1 104.4h0M83.6 92.3h0M79.5 57.3h0M83.4 78.4h0M101.3 81.5h0M90.6 69.5h0M110.3 70.5h0M92.7 68.3h0M79.2 74.7h0M93.1 77.0h0M83.4 87.8h0M84.7 81.3h0M82.7 75.0h0M81.5 76.7h0M97.6 81.8h0M101.5 103.8h0M97.2 69.3h0M122.1 96.0h0M79.8 91.3h0M122.8 88.3h0M99.7 83.0h0M108.5 67.0h0M80.5 72.1h0M123.6 85.6h0M127.4 86.0h0M100.1 69.9h0M77.1 87.1h0M107.9 99.4h0M116.3 90.9h0M117.4 92.9h0M74.9 89.5h0M110.3 85.0h0M115.5 94.8h0M92.2 65.7h0M102.4 82.1h0M105.9 88.4h0M122.9 79.1h0M116.7 71.9h0M111.6 83.4h0M101.5 89.3h0M109.0 65.3h0M100.9 81.3h0M89.5 77.1h0M89.4 91.5h0M99.9 101.2h0M122.1 105.0h0M77.5 85.9h0M89.6 72.0h0M117.8 104.0h0M101.3 73.2h0M107.3 85.5h0M102.2 63.1h0M118.8 84.1h0M84.9 70.2h0M85.5 71.0h0M82.0 96.2h0M85.1 100.4h0M120.8 102.7h0M110.7 75.4h0M78.0 83.0h0M111.9 79.7h0M112.5 87.0h0M130.3 49.4h0M97.3 71.9h0M101.6 95.7h0M110.6 79.9h0M119.6 87.5h0M104.5 69.3h0M121.3 64.2h0M114.4 66.2h0M87.1 72.0h0M74.3 77.0h0M92.1 64.3h0M100.7 80.8h0M105.3 75.7h0M114.7 96.7h0M81.8 75.1h0M80.0 88.9h0M106.4 60.8h0M74.5 75.3h0M84.4 76.3h0M86.6 64.1h0M114.3 74.2h0M116.1 93.1h0M97.5 86.4h0M89.6 92.5h0M111.6 102.8h0M114.6 94.2h0M132.2 95.5h0M111.7 87.0h0M85.0 69.3h0M113.5 85.7h0M80.9 82.2h0M104.6 90.4h0M109.4 93.8h0" stroke="#d04090" stroke-width="0.8" stroke-linecap="round"/>
<path d="M91.7 79.1h0M107.4 74.1h0M101.3 82.9h0M82.0 93.3h0M103.7 91.7h0M128.7 64.0h0M115.2 77.9h0M90.3 79.6h0M79.6 69.8h0M97.4 90.5h0M104.0 98.3h0M118.7 69.8h0M95.4 85.0h0M107.1 81.9h0M110.5 82.0h0M127.7 65.0h0M132.9 80.2h0M97.4 92.6h0M98.9 95.7h0M117.3 98.1h0M97.0 61.2h0M93.1 87.0h0M117.3 99.7h0M120.3 68.1h0M94.2 90.8h0M101.7 71.7h0M85.6 75.9h0M101.2 102.1h0M97.5 78.0h0M89.6 62.2h0M89.1 76.3h0M107.7 83.2h0M94.3 100.0h0M95.4 80.5h0M117.4 89.3h0M114.6 70.8h0M93.0 90.7h0M102.4 77.3h0M81.9 68.3h0M100.9 97.4h0M88.6 82.7h0M114.0 67.5h0M106.9 101.3h0M90.4 88.2h0M132.0 97.1h0M105.8 91.7h0M104.9 74.9h0M117.5 81.9h0M73.4 72.0h0M99.2 93.0h0M119.8 95.3h0M118.5 81.3h0M97.7 76.9h0M100.3 97.1h0M127.6 73.5h0M93.7 64.3h0M92.9 75.9h0M102.8 82.8h0M78.5 97.9h0M85.7 50.2h0M85.2 100.1h0M108.3 89.6h0M83.5 93.1h0M109.2 76.8h0M104.9 50.5h0M121.9 93.4h0M112.8 55.4h0M108.0 83.0h0M107.6 82.6h0M90.6 102.0h0M96.0 91.7h0M92.3 89.7h0M86.3 54.8h0M95.4 71.2h0M90.3 94.1h0M107.9 82.4h0M100.4 74.4h0M80.7 76.2h0M94.7 78.4h0M94.4 85.6h0M81.2 86.3h0M82.8 77.6h0M89.7 66.2h0M77.3 73.7h0M105.9 71.2h0M109.2 78.4h0M88.5 80.7h0M122.3 79.1h0M73.6 87.0h0M78.4 97.9h0M115.8 78.0h0M114.2 83.3h0M121.7 69.4h0M85.4 101.1h0M82.6 97.9h0M95.7 91.9h0M122.9 85.4h0M92.8 84.8h0M94.6 86.9h0M106.3 91.6h0" stroke="#800a4c" stroke-width="1.6" stroke-linecap="round"/>
<path d="M91.7 79.1h0M107.4 74.1h0M101.3 82.9h0M82.0 93.3h0M103.7 91.7h0M128.7 64.0h0M115.2 77.9h0M90.3 79.6h0M79.6 69.8h0M97.4 90.5h0M104.0 98.3h0M118.7 69.8h0M95.4 85.0h0M107.1 81.9h0M110.5 82.0h0M127.7 65.0h0M132.9 80.2h0M97.4 92.6h0M98.9 95.7h0M117.3 98.1h0M97.0 61.2h0M93.1 87.0h0M117.3 99.7h0M120.3 68.1h0M94.2 90.8h0M101.7 71.7h0M85.6 75.9h0M101.2 102.1h0M97.5 78.0h0M89.6 62.2h0M89.1 76.3h0M107.7 83.2h0M94.3 100.0h0M95.4 80.5h0M117.4 89.3h0M114.6 70.8h0M93.0 90.7h0M102.4 77.3h0M81.9 68.3h0M100.9 97.4h0M88.6 82.7h0M114.0 67.5h0M106.9 101.3h0M90.4 88.2h0M132.0 97.1h0M105.8 91.7h0M104.9 74.9h0M117.5 81.9h0M73.4 72.0h0M99.2 93.0h0M119.8 95.3h0M118.5 81.3h0M97.7 76.9h0M100.3 97.1h0M127.6 73.5h0M93.7 64.3h0M92.9 75.9h0M102.8 82.8h0M78.5 97.9h0M85.7 50.2h0M85.2 100.1h0M108.3 89.6h0M83.5 93.1h0M109.2 76.8h0M104.9 50.5h0M121.9 93.4h0M112.8 55.4h0M108.0 83.0h0M107.6 82.6h0M90.6 102.0h0M96.0 91.7h0M92.3 89.7h0M86.3 54.8h0M95.4 71.2h0M90.3 94.1h0M107.9 82.4h0M100.4 74.4h0M80.7 76.2h0M94.7 78.4h0M94.4 85.6h0M81.2 86.3h0M82.8 77.6h0M89.7 66.2h0M77.3 73.7h0M105.9 71.2h0M109.2 78.4h0M88.5 80.7h0M122.3 79.1h0M73.6 87.0h0M78.4 97.9h0M115.8 78.0h0M114.2 83.3h0M121.7 69.4h0M85.4 101.1h0M82.6 97.9h0M95.7 91.9h0M122.9 85.4h0M92.8 84.8h0M94.6 86.9h0M106.3 91.6h0" stroke="#d04090" stroke-width="0.8" stroke-linecap="round"/>
<path d="M86.3 82.7h0M121.5 92.5h0M97.8 102.2h0M124.4 65.5h0M124.1 86.0h0M87.8 83.8h0M98.4 77.8h0M117.8 62.1h0M106.1 92.2h0M100.8 98.5h0M109.9 82.4h0M102.0 76.9h0M74.2 83.6h0M89.1 73.1h0M80.0 71.8h0M103.1 64.6h0M118.2 76.5h0M80.0 75.8h0M98.9 61.2h0M73.8 86.3h0M102.7 67.4h0M103.6 73.9h0M106.3 83.3h0M80.8 99.6h0M83.5 91.5h0M125.2 81.6h0M118.1 82.5h0M76.0 73.0h0M113.5 86.5h0M131.1 97.2h0M112.0 87.5h0M105.5 74.6h0M95.0 74.9h0M105.1 85.2h0M113.0 91.1h0M120.8 98.9h0M88.6 71.5h0M83.1 86.2h0M94.7 88.3h0M84.8 71.1h0M81.7 98.1h0M103.2 77.3h0M99.3 100.2h0M116.7 89.8h0M100.9 67.5h0M112.0 80.2h0M78.7 84.7h0M126.5 91.6h0M87.5 82.5h0M72.9 85.6h0M85.6 68.7h0M98.7 77.8h0M102.4 52.1h0M101.2 77.0h0M95.7 82.7h0M119.1 98.6h0M73.7 93.1h0M97.9 78.8h0M100.9 87.4h0M107.4 83.1h0M87.9 99.0h0M94.1 83.6h0M117.0 61.0h0M125.9 59.9h0M113.1 102.2h0M101.6 89.7h0M83.8 93.9h0M88.1 76.5h0M92.5 74.6h0M85.8 91.5h0M99.1 71.7h0M88.1 78.5h0M103.2 93.2h0M118.5 88.1h0M76.9 91.3h0M87.2 69.2h0M89.7 77.8h0M116.5 62.6h0M119.9 99.1h0M108.5 71.0h0M101.1 102.4h0M86.0 75.1h0M124.0 100.6h0M97.2 89.1h0M126.1 96.7h0M75.8 78.5h0M94.4 80.6h0M122.2 95.5h0M104.8 75.0h0M110.3 103.0h0M127.3 87.5h0M78.6 62.4h0M107.1 78.4h0M113.7 97.7h0M90.0 91.2h0M89.6 67.3h0M96.3 95.5h0M113.6 93.6h0M113.7 86.8h0M94.5 75.6h0" stroke="#800a4c" stroke-width="1.6" stroke-linecap="round"/>
<path d="M86.3 82.7h0M121.5 92.5h0M97.8 102.2h0M124.4 65.5h0M124.1 86.0h0M87.8 83.8h0M98.4 77.8h0M117.8 62.1h0M106.1 92.2h0M100.8 98.5h0M109.9 82.4h0M102.0 76.9h0M74.2 83.6h0M89.1 73.1h0M80.0 71.8h0M103.1 64.6h0M118.2 76.5h0M80.0 75.8h0M98.9 61.2h0M73.8 86.3h0M102.7 67.4h0M103.6 73.9h0M106.3 83.3h0M80.8 99.6h0M83.5 91.5h0M125.2 81.6h0M118.1 82.5h0M76.0 73.0h0M113.5 86.5h0M131.1 97.2h0M112.0 87.5h0M105.5 74.6h0M95.0 74.9h0M105.1 85.2h0M113.0 91.1h0M120.8 98.9h0M88.6 71.5h0M83.1 86.2h0M94.7 88.3h0M84.8 71.1h0M81.7 98.1h0M103.2 77.3h0M99.3 100.2h0M116.7 89.8h0M100.9 67.5h0M112.0 80.2h0M78.7 84.7h0M126.5 91.6h0M87.5 82.5h0M72.9 85.6h0M85.6 68.7h0M98.7 77.8h0M102.4 52.1h0M101.2 77.0h0M95.7 82.7h0M119.1 98.6h0M73.7 93.1h0M97.9 78.8h0M100.9 87.4h0M107.4 83.1h0M87.9 99.0h0M94.1 83.6h0M117.0 61.0h0M125.9 59.9h0M113.1 102.2h0M101.6 89.7h0M83.8 93.9h0M88.1 76.5h0M92.5 74.6h0M85.8 91.5h0M99.1 71.7h0M88.1 78.5h0M103.2 93.2h0M118.5 88.1h0M76.9 91.3h0M87.2 69.2h0M89.7 77.8h0M116.5 62.6h0M119.9 99.1h0M108.5 71.0h0M101.1 102.4h0M86.0 75.1h0M124.0 100.6h0M97.2 89.1h0M126.1 96.7h0M75.8 78.5h0M94.4 80.6h0M122.2 95.5h0M104.8 75.0h0M110.3 103.0h0M127.3 87.5h0M78.6 62.4h0M107.1 78.4h0M113.7 97.7h0M90.0 91.2h0M89.6 67.3h0M96.3 95.5h0M113.6 93.6h0M113.7 86.8h0M94.5 75.6h0" stroke="#d04090" stroke-width="0.8" stroke-linecap="round"/>
<path d="M105.7 73.9h0M99.9 70.5h0M87.3 78.2h0M97.5 65.5h0M92.7 94.0h0M121.4 85.7h0M98.0 81.9h0M115.9 90.5h0M82.3 93.2h0M79.8 99.4h0M96.9 71.7h0M100.6 71.0h0M93.8 73.3h0M118.9 81.2h0M118.1 98.6h0M131.0 69.9h0M74.5 99.3h0M92.7 77.9h0M107.3 90.3h0M82.8 100.2h0M95.5 78.5h0M112.9 72.7h0M87.6 67.8h0M86.2 84.2h0M79.1 89.0h0M75.1 78.0h0M74.8 96.8h0M122.7 83.8h0M81.1 93.7h0M119.2 92.3h0M100.2 95.4h0M78.6 80.8h0M84.7 94.9h0M89.5 88.2h0M91.0 100.5h0M109.4 78.6h0M80.1 81.9h0M81.7 68.6h0M94.2 75.7h0M122.7 91.5h0M95.4 82.0h0M99.7 52.1h0M80.9 63.0h0M94.5 83.4h0M108.8 91.3h0M92.6 83.3h0M87.6 87.5h0M106.8 95.6h0M114.9 86.9h0M99.6 66.0h0M83.5 72.5h0M98.1 72.1h0M104.9 82.9h0M114.2 60.3h0M109.7 98.7h0M109.4 83.0h0M107.6 104.7h0M90.0 88.4h0M83.1 64.2h0M109.7 96.9h0M78.0 77.0h0M101.8 75.3h0M103.7 88.2h0M130.4 77.8h0M115.5 98.4h0M110.2 57.3h0M110.3 82.4h0M99.5 69.5h0M111.3 91.4h0M117.0 68.3h0M89.9 66.6h0M89.3 97.1h0M110.8 91.2h0M90.6 97.1h0M80.3 70.8h0M111.8 59.4h0M73.6 88.1h0M88.1 89.9h0M97.0 69.3h0M83.1 85.2h0M104.4 85.4h0M102.7 93.4h0M112.5 84.0h0M96.2 97.8h0M117.4 86.4h0M82.1 92.3h0M88.2 68.5h0M82.0 99.3h0M75.5 77.0h0M80.9 71.4h0M82.2 89.6h0M90.8 90.9h0M89.3 81.9h0M79.1 82.2h0M102.8 86.2h0M121.3 59.4h0M80.7 81.2h0M80.9 86.3h0M111.3 88.6h0M93.6 84.2h0" stroke="#800a4c" stroke-width="1.6" stroke-linecap="round"/>
<path d="M105.7 73.9h0M99.9 70.5h0M87.3 78.2h0M97.5 65.5h0M92.7 94.0h0M121.4 85.7h0M98.0 81.9h0M115.9 90.5h0M82.3 93.2h0M79.8 99.4h0M96.9 71.7h0M100.6 71.0h0M93.8 73.3h0M118.9 81.2h0M118.1 98.6h0M131.0 69.9h0M74.5 99.3h0M92.7 77.9h0M107.3 90.3h0M82.8 100.2h0M95.5 78.5h0M112.9 72.7h0M87.6 67.8h0M86.2 84.2h0M79.1 89.0h0M75.1 78.0h0M74.8 96.8h0M122.7 83.8h0M81.1 93.7h0M119.2 92.3h0M100.2 95.4h0M78.6 80.8h0M84.7 94.9h0M89.5 88.2h0M91.0 100.5h0M109.4 78.6h0M80.1 81.9h0M81.7 68.6h0M94.2 75.7h0M122.7 91.5h0M95.4 82.0h0M99.7 52.1h0M80.9 63.0h0M94.5 83.4h0M108.8 91.3h0M92.6 83.3h0M87.6 87.5h0M106.8 95.6h0M114.9 86.9h0M99.6 66.0h0M83.5 72.5h0M98.1 72.1h0M104.9 82.9h0M114.2 60.3h0M109.7 98.7h0M109.4 83.0h0M107.6 104.7h0M90.0 88.4h0M83.1 64.2h0M109.7 96.9h0M78.0 77.0h0M101.8 75.3h0M103.7 88.2h0M130.4 77.8h0M115.5 98.4h0M110.2 57.3h0M110.3 82.4h0M99.5 69.5h0M111.3 91.4h0M117.0 68.3h0M89.9 66.6h0M89.3 97.1h0M110.8 91.2h0M90.6 97.1h0M80.3 70.8h0M111.8 59.4h0M73.6 88.1h0M88.1 89.9h0M97.0 69.3h0M83.1 85.2h0M104.4 85.4h0M102.7 93.4h0M112.5 84.0h0M96.2 97.8h0M117.4 86.4h0M82.1 92.3h0M88.2 68.5h0M82.0 99.3h0M75.5 77.0h0M80.9 71.4h0M82.2 89.6h0M90.8 90.9h0M89.3 81.9h0M79.1 82.2h0M102.8 86.2h0M121.3 59.4h0M80.7 81.2h0M80.9 86.3h0M111.3 88.6h0M93.6 84.2h0" stroke="#d04090" stroke-width="0.8" stroke-linecap="round"/>
<path d="M89.0 73.5h0M131.5 90.5h0M85.4 82.8h0M86.2 83.1h0M120.9 94.2h0M85.0 87.9h0M111.2 81.5h0M107.7 90.6h0M104.1 87.9h0M112.8 77.6h0M104.2 67.8h0M104.4 83.5h0M84.2 71.7h0M119.9 90.4h0M93.2 99.0h0M82.4 77.9h0M79.5 90.1h0M100.0 97.9h0M108.3 79.1h0M77.0 64.9h0M77.3 73.7h0M102.6 98.3h0M97.3 80.0h0M81.6 72.6h0M73.9 82.2h0M78.1 71.2h0M112.6 77.3h0M106.0 65.9h0M91.1 65.2h0M97.1 100.7h0M97.5 86.6h0M117.6 100.4h0M112.5 82.3h0M100.1 63.3h0M126.9 101.0h0M84.7 73.6h0M93.1 78.8h0M119.7 96.8h0M89.0 75.9h0M92.6 65.4h0M94.9 100.2h0M82.8 68.4h0M127.5 87.1h0M108.6 55.0h0M88.3 97.1h0M88.7 78.0h0M75.5 81.6h0M107.3 94.0h0M77.0 81.7h0M102.3 85.7h0M113.1 64.4h0M88.6 91.4h0M112.3 53.5h0M128.5 69.1h0M91.7 95.1h0M122.9 85.6h0M76.8 80.9h0M104.4 71.0h0M85.8 76.2h0M84.2 101.4h0M86.1 91.3h0M91.0 80.8h0M85.9 69.2h0M131.5 68.4h0M118.7 87.1h0M72.6 82.7h0M108.9 54.3h0M86.9 78.1h0M96.7 98.1h0M103.5 87.2h0M103.1 80.9h0M117.8 79.7h0M122.1 101.0h0M81.7 93.7h0M81.8 69.0h0M104.1 78.2h0M84.7 66.9h0M118.8 103.5h0M113.0 82.3h0M96.9 81.0h0M105.2 72.0h0M111.3 72.9h0M126.1 93.3h0M101.5 84.4h0M93.9 79.3h0M116.2 84.3h0M89.8 54.4h0M95.1 78.6h0M123.7 97.3h0M91.1 70.3h0M121.2 93.5h0M90.0 97.6h0M108.6 77.0h0M85.7 75.7h0M117.9 79.0h0M95.0 70.7h0M82.8 99.6h0M111.6 60.1h0M86.8 86.9h0M118.2 58.6h0" stroke="#800a4c" stroke-width="1.6" stroke-linecap="round"/>
<path d="M89.0 73.5h0M131.5 90.5h0M85.4 82.8h0M86.2 83.1h0M120.9 94.2h0M85.0 87.9h0M111.2 81.5h0M107.7 90.6h0M104.1 87.9h0M112.8 77.6h0M104.2 67.8h0M104.4 83.5h0M84.2 71.7h0M119.9 90.4h0M93.2 99.0h0M82.4 77.9h0M79.5 90.1h0M100.0 97.9h0M108.3 79.1h0M77.0 64.9h0M77.3 73.7h0M102.6 98.3h0M97.3 80.0h0M81.6 72.6h0M73.9 82.2h0M78.1 71.2h0M112.6 77.3h0M106.0 65.9h0M91.1 65.2h0M97.1 100.7h0M97.5 86.6h0M117.6 100.4h0M112.5 82.3h0M100.1 63.3h0M126.9 101.0h0M84.7 73.6h0M93.1 78.8h0M119.7 96.8h0M89.0 75.9h0M92.6 65.4h0M94.9 100.2h0M82.8 68.4h0M127.5 87.1h0M108.6 55.0h0M88.3 97.1h0M88.7 78.0h0M75.5 81.6h0M107.3 94.0h0M77.0 81.7h0M102.3 85.7h0M113.1 64.4h0M88.6 91.4h0M112.3 53.5h0M128.5 69.1h0M91.7 95.1h0M122.9 85.6h0M76.8 80.9h0M104.4 71.0h0M85.8 76.2h0M84.2 101.4h0M86.1 91.3h0M91.0 80.8h0M85.9 69.2h0M131.5 68.4h0M118.7 87.1h0M72.6 82.7h0M108.9 54.3h0M86.9 78.1h0M96.7 98.1h0M103.5 87.2h0M103.1 80.9h0M117.8 79.7h0M122.1 101.0h0M81.7 93.7h0M81.8 69.0h0M104.1 78.2h0M84.7 66.9h0M118.8 103.5h0M113.0 82.3h0M96.9 81.0h0M105.2 72.0h0M111.3 72.9h0M126.1 93.3h0M101.5 84.4h0M93.9 79.3h0M116.2 84.3h0M89.8 54.4h0M95.1 78.6h0M123.7 97.3h0M91.1 70.3h0M121.2 93.5h0M90.0 97.6h0M108.6 77.0h0M85.7 75.7h0M117.9 79.0h0M95.0 70.7h0M82.8 99.6h0M111.6 60.1h0M86.8 86.9h0M118.2 58.6h0" stroke="#d04090" stroke-width="0.8" stroke-linecap="round"/>
<path d="M98.3 73.4h0M117.5 79.3h0M80.0 69.8h0M93.2 97.7h0M106.5 73.7h0M78.7 74.3h0M113.2 77.0h0M103.0 75.8h0M76.8 89.1h0M87.9 72.3h0M87.0 71.0h0M80.0 91.8h0M105.2 70.7h0M80.8 91.3h0M118.1 105.7h0M81.8 101.4h0M84.0 74.6h0M94.2 93.6h0M99.5 81.8h0M77.7 94.6h0M77.6 79.2h0M111.1 101.2h0M120.2 100.3h0M104.2 49.0h0M118.1 102.9h0M81.0 86.0h0M102.8 83.5h0M75.4 84.9h0M97.5 71.3h0M81.3 74.3h0M121.0 94.2h0M79.6 57.7h0M103.0 84.6h0M122.5 97.7h0M90.5 80.6h0M88.7 71.5h0M105.5 86.1h0M87.7 96.3h0M99.4 97.0h0M102.5 94.5h0M112.3 101.7h0M86.0 88.8h0M87.5 96.1h0M82.9 70.6h0M88.6 70.0h0M117.9 54.1h0M79.7 84.3h0M97.2 74.1h0M98.7 95.7h0M106.3 63.5h0M123.2 75.0h0M117.3 96.5h0M84.7 81.4h0M84.9 71.1h0M107.8 80.2h0M77.6 64.3h0M84.2 85.6h0M124.1 93.8h0M83.5 75.9h0M130.4 79.4h0M99.7 65.5h0M107.8 55.4h0M83.2 74.9h0M91.3 96.9h0M85.7 85.7h0M82.0 74.6h0M127.3 87.2h0M88.0 74.0h0M103.5 95.3h0M95.5 101.8h0M96.3 73.9h0M98.2 58.6h0M109.8 97.7h0M121.6 102.5h0M118.5 100.9h0M104.1 68.2h0M122.8 64.4h0M91.8 87.6h0M90.8 65.4h0M98.2 78.8h0M108.4 97.2h0M93.7 74.0h0M115.3 99.5h0M95.3 77.2h0M77.3 78.0h0M114.4 72.7h0M109.3 73.6h0M100.8 67.4h0M109.7 84.4h0M92.3 74.9h0M82.9 72.9h0M121.7 98.3h0M113.3 75.8h0M77.6 73.8h0M112.5 99.7h0M116.3 104.7h0M113.0 88.2h0M87.9 74.3h0M120.1 70.9h0M122.5 99.1h0" stroke="#800a4c" stroke-width="1.6" stroke-linecap="round"/>
<path d="M98.3 73.4h0M117.5 79.3h0M80.0 69.8h0M93.2 97.7h0M106.5 73.7h0M78.7 74.3h0M113.2 77.0h0M103.0 75.8h0M76.8 89.1h0M87.9 72.3h0M87.0 71.0h0M80.0 91.8h0M105.2 70.7h0M80.8 91.3h0M118.1 105.7h0M81.8 101.4h0M84.0 74.6h0M94.2 93.6h0M99.5 81.8h0M77.7 94.6h0M77.6 79.2h0M111.1 101.2h0M120.2 100.3h0M104.2 49.0h0M118.1 102.9h0M81.0 86.0h0M102.8 83.5h0M75.4 84.9h0M97.5 71.3h0M81.3 74.3h0M121.0 94.2h0M79.6 57.7h0M103.0 84.6h0M122.5 97.7h0M90.5 80.6h0M88.7 71.5h0M105.5 86.1h0M87.7 96.3h0M99.4 97.0h0M102.5 94.5h0M112.3 101.7h0M86.0 88.8h0M87.5 96.1h0M82.9 70.6h0M88.6 70.0h0M117.9 54.1h0M79.7 84.3h0M97.2 74.1h0M98.7 95.7h0M106.3 63.5h0M123.2 75.0h0M117.3 96.5h0M84.7 81.4h0M84.9 71.1h0M107.8 80.2h0M77.6 64.3h0M84.2 85.6h0M124.1 93.8h0M83.5 75.9h0M130.4 79.4h0M99.7 65.5h0M107.8 55.4h0M83.2 74.9h0M91.3 96.9h0M85.7 85.7h0M82.0 74.6h0M127.3 87.2h0M88.0 74.0h0M103.5 95.3h0M95.5 101.8h0M96.3 73.9h0M98.2 58.6h0M109.8 97.7h0M121.6 102.5h0M118.5 100.9h0M104.1 68.2h0M122.8 64.4h0M91.8 87.6h0M90.8 65.4h0M98.2 78.8h0M108.4 97.2h0M93.7 74.0h0M115.3 99.5h0M95.3 77.2h0M77.3 78.0h0M114.4 72.7h0M109.3 73.6h0M100.8 67.4h0M109.7 84.4h0M92.3 74.9h0M82.9 72.9h0M121.7 98.3h0M113.3 75.8h0M77.6 73.8h0M112.5 99.7h0M116.3 104.7h0M113.0 88.2h0M87.9 74.3h0M120.1 70.9h0M122.5 99.1h0" stroke="#d04090" stroke-width="0.8" stroke-linecap="round"/>
<path d="M103.8 76.0h0M94.4 82.4h0M86.8 95.6h0M114.7 76.3h0M111.2 74.8h0M74.1 79.5h0M101.7 68.0h0M102.0 68.8h0M97.5 84.4h0M79.7 82.2h0M90.0 89.3h0M109.5 73.5h0M98.6 87.0h0M105.7 71.8h0M123.4 94.2h0M107.8 80.9h0M93.5 65.8h0M116.1 99.3h0M73.9 69.5h0M82.2 75.6h0M104.0 83.6h0M80.2 90.4h0M88.1 74.3h0M114.1 66.1h0M108.9 69.5h0M113.1 98.7h0M87.6 70.4h0M117.5 83.0h0M113.6 89.3h0M97.2 78.3h0M102.4 63.9h0M91.0 89.0h0M118.9 93.4h0M78.3 96.2h0M92.9 67.9h0M98.0 96.2h0M93.0 60.2h0M118.9 90.4h0M85.0 64.0h0M105.3 92.1h0M84.5 88.8h0M94.3 79.2h0M112.0 103.7h0M104.8 59.1h0M108.5 92.7h0M111.1 88.0h0M111.6 81.9h0M81.3 75.3h0M121.2 98.3h0M82.6 72.5h0M112.1 91.7h0M110.9 102.4h0M121.2 95.0h0M113.7 57.4h0M88.7 90.2h0M95.8 78.6h0M106.2 94.5h0M82.1 71.1h0M103.0 103.4h0M93.1 91.7h0M92.5 81.0h0M107.7 91.6h0M103.1 86.1h0M117.0 93.5h0M111.0 95.6h0M76.5 89.0h0M105.6 70.7h0M116.9 60.2h0M91.0 83.6h0M94.6 81.4h0M75.0 89.0h0M109.7 91.8h0M76.7 94.3h0M79.0 80.6h0M117.6 103.9h0M95.2 100.9h0M103.1 79.9h0M118.7 91.5h0M112.3 77.9h0M92.2 61.0h0M84.2 73.4h0M114.5 80.8h0M107.8 101.5h0M100.5 82.9h0M95.4 94.9h0M100.0 83.5h0M94.8 85.8h0M84.2 72.0h0M103.1 81.3h0M87.0 92.1h0M101.2 87.9h0M101.5 74.2h0M101.4 99.6h0M98.2 83.2h0M81.0 74.5h0M115.2 56.7h0M91.8 72.1h0M127.8 86.1h0M104.8 94.4h0M81.0 73.0h0" stroke="#800a4c" stroke-width="1.6" stroke-linecap="round"/>
<path d="M103.8 76.0h0M94.4 82.4h0M86.8 95.6h0M114.7 76.3h0M111.2 74.8h0M74.1 79.5h0M101.7 68.0h0M102.0 68.8h0M97.5 84.4h0M79.7 82.2h0M90.0 89.3h0M109.5 73.5h0M98.6 87.0h0M105.7 71.8h0M123.4 94.2h0M107.8 80.9h0M93.5 65.8h0M116.1 99.3h0M73.9 69.5h0M82.2 75.6h0M104.0 83.6h0M80.2 90.4h0M88.1 74.3h0M114.1 66.1h0M108.9 69.5h0M113.1 98.7h0M87.6 70.4h0M117.5 83.0h0M113.6 89.3h0M97.2 78.3h0M102.4 63.9h0M91.0 89.0h0M118.9 93.4h0M78.3 96.2h0M92.9 67.9h0M98.0 96.2h0M93.0 60.2h0M118.9 90.4h0M85.0 64.0h0M105.3 92.1h0M84.5 88.8h0M94.3 79.2h0M112.0 103.7h0M104.8 59.1h0M108.5 92.7h0M111.1 88.0h0M111.6 81.9h0M81.3 75.3h0M121.2 98.3h0M82.6 72.5h0M112.1 91.7h0M110.9 102.4h0M121.2 95.0h0M113.7 57.4h0M88.7 90.2h0M95.8 78.6h0M106.2 94.5h0M82.1 71.1h0M103.0 103.4h0M93.1 91.7h0M92.5 81.0h0M107.7 91.6h0M103.1 86.1h0M117.0 93.5h0M111.0 95.6h0M76.5 89.0h0M105.6 70.7h0M116.9 60.2h0M91.0 83.6h0M94.6 81.4h0M75.0 89.0h0M109.7 91.8h0M76.7 94.3h0M79.0 80.6h0M117.6 103.9h0M95.2 100.9h0M103.1 79.9h0M118.7 91.5h0M112.3 77.9h0M92.2 61.0h0M84.2 73.4h0M114.5 80.8h0M107.8 101.5h0M100.5 82.9h0M95.4 94.9h0M100.0 83.5h0M94.8 85.8h0M84.2 72.0h0M103.1 81.3h0M87.0 92.1h0M101.2 87.9h0M101.5 74.2h0M101.4 99.6h0M98.2 83.2h0M81.0 74.5h0M115.2 56.7h0M91.8 72.1h0M127.8 86.1h0M104.8 94.4h0M81.0 73.0h0" stroke="#d04090" stroke-width="0.8" stroke-linecap="round"/>
<path d="M86.8 21.5h0" stroke="#800a4c" stroke-width="1.6" stroke-linecap="round"/>
<path d="M86.8 21.5h0" stroke="#d04090" stroke-width="0.8" stroke-linecap="round"/>
<line x1="60.80" y1="44.10" x2="99.40" y2="23.40" stroke="#000" stroke-width="1.3"/>
<line x1="99.40" y1="23.40" x2="158.90" y2="34.90" stroke="#000" stroke-width="1.3"/>
<line x1="158.90" y1="34.90" x2="155.90" y2="96.40" stroke="#000" stroke-width="1.3"/>
<line x1="155.90" y1="96.40" x2="125.60" y2="127.00" stroke="#000" stroke-width="1.6"/>
<line x1="125.60" y1="127.00" x2="63.50" y2="108.10" stroke="#000" stroke-width="1.6"/>
<line x1="63.50" y1="108.10" x2="60.80" y2="44.10" stroke="#000" stroke-width="1.6"/>
<line x1="64.74" y1="108.48" x2="66.92" y2="106.89" stroke="#000" stroke-width="1.1"/>
<line x1="73.19" y1="111.05" x2="75.32" y2="109.43" stroke="#000" stroke-width="1.1"/>
<line x1="81.63" y1="113.62" x2="83.71" y2="111.96" stroke="#000" stroke-width="1.1"/>
<line x1="90.08" y1="116.19" x2="92.11" y2="114.50" stroke="#000" stroke-width="1.1"/>
<line x1="98.52" y1="118.76" x2="100.50" y2="117.03" stroke="#000" stroke-width="1.1"/>
<line x1="106.97" y1="121.33" x2="108.90" y2="119.57" stroke="#000" stroke-width="1.1"/>
<line x1="115.42" y1="123.90" x2="117.29" y2="122.11" stroke="#000" stroke-width="1.1"/>
<line x1="123.86" y1="126.47" x2="125.69" y2="124.64" stroke="#000" stroke-width="1.1"/>
<line x1="127.11" y1="125.47" x2="122.79" y2="124.16" stroke="#000" stroke-width="1.1"/>
<line x1="131.24" y1="121.31" x2="126.97" y2="120.04" stroke="#000" stroke-width="1.1"/>
<line x1="135.36" y1="117.15" x2="131.15" y2="115.92" stroke="#000" stroke-width="1.1"/>
<line x1="139.48" y1="112.99" x2="135.33" y2="111.80" stroke="#000" stroke-width="1.1"/>
<line x1="143.60" y1="108.82" x2="139.51" y2="107.68" stroke="#000" stroke-width="1.1"/>
<line x1="147.72" y1="104.66" x2="143.69" y2="103.55" stroke="#000" stroke-width="1.1"/>
<line x1="151.84" y1="100.50" x2="147.87" y2="99.43" stroke="#000" stroke-width="1.1"/>
<line x1="155.96" y1="96.34" x2="152.05" y2="95.31" stroke="#000" stroke-width="1.1"/>
<line x1="63.37" y1="104.90" x2="66.47" y2="105.83" stroke="#000" stroke-width="1.1"/>
<line x1="62.96" y1="95.30" x2="66.08" y2="96.20" stroke="#000" stroke-width="1.1"/>
<line x1="62.55" y1="85.70" x2="65.68" y2="86.57" stroke="#000" stroke-width="1.1"/>
<line x1="62.15" y1="76.10" x2="65.29" y2="76.93" stroke="#000" stroke-width="1.1"/>
<line x1="61.74" y1="66.50" x2="64.90" y2="67.30" stroke="#000" stroke-width="1.1"/>
<line x1="61.34" y1="56.90" x2="64.50" y2="57.66" stroke="#000" stroke-width="1.1"/>
<line x1="60.93" y1="47.30" x2="64.11" y2="48.03" stroke="#000" stroke-width="1.1"/>
<text x="126.8" y="20.9" font-size="16.5" font-family="Liberation Serif">A549</text>
<text transform="matrix(0.9149 -0.5153 -0.0000 1.3300 52.70 68.52)" font-size="10" text-anchor="middle" stroke="#000" stroke-width="0.2" font-family="Liberation Serif">180</text>
<text transform="matrix(0.9149 -0.5153 -0.0000 1.3300 53.60 88.02)" font-size="10" text-anchor="middle" stroke="#000" stroke-width="0.2" font-family="Liberation Serif">120</text>
<text transform="matrix(0.9149 -0.5153 -0.0000 1.3300 56.60 104.02)" font-size="10" text-anchor="middle" stroke="#000" stroke-width="0.2" font-family="Liberation Serif">60</text>
<text transform="matrix(0.6333 -0.6395 1.3393 0.4076 64.45 114.19)" font-size="10" text-anchor="middle" stroke="#000" stroke-width="0.2" font-family="Liberation Serif">0</text>
<text transform="matrix(0.6333 -0.6395 1.3393 0.4076 81.05 119.79)" font-size="10" text-anchor="middle" stroke="#000" stroke-width="0.2" font-family="Liberation Serif">2</text>
<text transform="matrix(0.6333 -0.6395 1.3393 0.4076 98.25 124.69)" font-size="10" text-anchor="middle" stroke="#000" stroke-width="0.2" font-family="Liberation Serif">4</text>
<text transform="matrix(0.6333 -0.6395 1.3393 0.4076 116.15 129.59)" font-size="10" text-anchor="middle" stroke="#000" stroke-width="0.2" font-family="Liberation Serif">6</text>
<text transform="matrix(1.4621 0.3351 -0.7150 0.8360 135.27 127.24)" font-size="10" text-anchor="middle" stroke="#000" stroke-width="0.2" font-family="Liberation Serif">0</text>
<text transform="matrix(1.4621 0.3351 -0.7150 0.8360 148.27 120.24)" font-size="10" text-anchor="middle" stroke="#000" stroke-width="0.2" font-family="Liberation Serif">15</text>
<text transform="matrix(1.4621 0.3351 -0.7150 0.8360 155.57 112.74)" font-size="10" text-anchor="middle" stroke="#000" stroke-width="0.2" font-family="Liberation Serif">30</text>
<text transform="matrix(1.4621 0.3351 -0.7150 0.8360 161.97 105.34)" font-size="10" text-anchor="middle" stroke="#000" stroke-width="0.2" font-family="Liberation Serif">45</text>
<text transform="matrix(0.0674 1.5986 -1.1344 0.8205 34.30 73.00)" font-size="10" stroke="#000" stroke-width="0.2" font-family="Liberation Serif">I<tspan font-size="6.5" dy="2">r</tspan><tspan dy="-2"> (mV)</tspan></text>
<text transform="matrix(1.4159 0.4309 -0.7036 0.7106 45.50 123.20)" font-size="10" stroke="#000" stroke-width="0.2" font-family="Liberation Serif">2T<tspan font-size="6.5" dy="2">s</tspan><tspan dy="-2">/(T</tspan><tspan font-size="6.5" dy="2">r</tspan><tspan dy="-2">+T</tspan><tspan font-size="6.5" dy="2">d</tspan><tspan dy="-2">)</tspan></text>
<text transform="matrix(0.7529 -0.7603 1.5307 0.4659 165.00 132.30)" font-size="10" stroke="#000" stroke-width="0.2" font-family="Liberation Serif">T<tspan font-size="6.5" dy="2">c</tspan><tspan dy="-2"> (ms)</tspan></text>
<line x1="222.16" y1="95.30" x2="259.08" y2="70.04" stroke="#d6d6d6" stroke-width="0.6"/>
<line x1="259.08" y1="70.04" x2="315.70" y2="84.10" stroke="#d6d6d6" stroke-width="0.6"/>
<line x1="221.35" y1="76.10" x2="258.90" y2="52.55" stroke="#d6d6d6" stroke-width="0.6"/>
<line x1="258.90" y1="52.55" x2="316.60" y2="65.65" stroke="#d6d6d6" stroke-width="0.6"/>
<line x1="220.54" y1="56.90" x2="258.72" y2="35.06" stroke="#d6d6d6" stroke-width="0.6"/>
<line x1="258.72" y1="35.06" x2="317.50" y2="47.20" stroke="#d6d6d6" stroke-width="0.6"/>
<line x1="275.85" y1="86.08" x2="276.32" y2="26.82" stroke="#d6d6d6" stroke-width="0.6"/>
<line x1="241.19" y1="113.73" x2="275.85" y2="86.08" stroke="#d6d6d6" stroke-width="0.6"/>
<line x1="291.37" y1="90.16" x2="292.85" y2="30.02" stroke="#d6d6d6" stroke-width="0.6"/>
<line x1="258.44" y1="118.98" x2="291.37" y2="90.16" stroke="#d6d6d6" stroke-width="0.6"/>
<line x1="306.90" y1="94.24" x2="309.37" y2="33.21" stroke="#d6d6d6" stroke-width="0.6"/>
<line x1="275.69" y1="124.23" x2="306.90" y2="94.24" stroke="#d6d6d6" stroke-width="0.6"/>
<line x1="227.08" y1="104.93" x2="226.95" y2="40.37" stroke="#d6d6d6" stroke-width="0.6"/>
<line x1="227.08" y1="104.93" x2="294.50" y2="117.21" stroke="#d6d6d6" stroke-width="0.6"/>
<line x1="237.30" y1="97.54" x2="237.76" y2="34.58" stroke="#d6d6d6" stroke-width="0.6"/>
<line x1="237.30" y1="97.54" x2="302.68" y2="108.95" stroke="#d6d6d6" stroke-width="0.6"/>
<line x1="247.88" y1="89.88" x2="248.18" y2="28.99" stroke="#d6d6d6" stroke-width="0.6"/>
<line x1="247.88" y1="89.88" x2="310.86" y2="100.68" stroke="#d6d6d6" stroke-width="0.6"/>
<line x1="259.20" y1="81.70" x2="258.60" y2="23.40" stroke="#333" stroke-width="1.0"/>
<line x1="259.20" y1="81.70" x2="315.10" y2="96.40" stroke="#333" stroke-width="1.0"/>
<line x1="259.20" y1="81.70" x2="222.70" y2="108.10" stroke="#333" stroke-width="1.0"/>
<path d="M234.2 56.0 L259.2 53.0 L265.2 60.0 L269.2 100.0 L234.2 100.0Z" fill="#4cd44c"/>
<path d="M278.6 83.0h0M262.3 64.6h0M263.6 52.3h0M274.3 49.1h0M237.2 99.9h0M265.1 78.0h0M265.1 81.6h0M252.4 94.6h0M269.1 76.7h0M276.9 56.6h0M238.2 91.9h0M279.4 98.8h0M258.7 76.5h0M245.5 83.9h0M261.5 77.6h0M239.1 48.7h0M270.6 71.5h0M269.8 82.9h0M261.1 77.5h0M240.1 82.0h0M265.3 99.9h0M255.5 70.8h0M247.2 77.6h0M265.1 94.9h0M235.7 69.2h0M269.6 73.3h0M259.7 91.4h0M235.0 86.0h0M245.8 81.5h0M237.3 63.4h0M257.8 69.4h0M250.9 89.6h0M258.6 78.0h0M243.9 70.8h0M237.7 69.3h0M268.9 93.6h0M249.3 87.0h0M256.4 64.7h0M248.7 88.5h0M261.3 50.5h0M253.5 62.5h0M262.2 102.3h0M264.5 66.4h0M254.8 43.0h0M244.7 73.2h0M235.1 75.2h0M270.8 92.8h0M235.2 74.2h0M249.9 68.2h0M259.2 104.2h0M274.5 72.3h0M240.3 82.8h0M281.3 79.3h0M265.3 54.6h0M260.8 96.6h0M253.2 78.7h0M263.8 70.5h0M266.2 50.9h0M275.5 56.3h0M251.9 51.1h0M254.1 69.2h0M241.1 95.0h0M244.0 46.9h0M258.6 68.7h0M258.6 72.5h0M259.5 76.4h0M269.7 77.0h0M272.2 86.3h0M235.2 56.4h0M272.4 85.7h0M261.2 103.5h0M248.3 89.9h0M270.3 77.7h0M265.0 62.5h0M275.4 76.6h0M234.1 60.4h0M265.4 67.5h0M242.6 99.6h0M273.2 81.8h0M245.2 95.8h0M273.9 78.4h0M255.9 104.2h0M235.9 91.1h0M260.2 74.9h0M284.3 65.3h0M255.9 85.3h0M242.9 86.0h0M269.0 82.2h0M243.1 83.4h0M237.2 65.8h0M279.4 103.5h0M241.7 95.0h0M239.4 64.8h0M275.3 72.3h0M233.9 83.5h0M282.2 109.3h0M250.2 81.5h0M275.4 102.3h0M262.8 66.3h0M244.3 70.6h0" stroke="#28b028" stroke-width="1.6" stroke-linecap="round"/>
<path d="M278.6 83.0h0M262.3 64.6h0M263.6 52.3h0M274.3 49.1h0M237.2 99.9h0M265.1 78.0h0M265.1 81.6h0M252.4 94.6h0M269.1 76.7h0M276.9 56.6h0M238.2 91.9h0M279.4 98.8h0M258.7 76.5h0M245.5 83.9h0M261.5 77.6h0M239.1 48.7h0M270.6 71.5h0M269.8 82.9h0M261.1 77.5h0M240.1 82.0h0M265.3 99.9h0M255.5 70.8h0M247.2 77.6h0M265.1 94.9h0M235.7 69.2h0M269.6 73.3h0M259.7 91.4h0M235.0 86.0h0M245.8 81.5h0M237.3 63.4h0M257.8 69.4h0M250.9 89.6h0M258.6 78.0h0M243.9 70.8h0M237.7 69.3h0M268.9 93.6h0M249.3 87.0h0M256.4 64.7h0M248.7 88.5h0M261.3 50.5h0M253.5 62.5h0M262.2 102.3h0M264.5 66.4h0M254.8 43.0h0M244.7 73.2h0M235.1 75.2h0M270.8 92.8h0M235.2 74.2h0M249.9 68.2h0M259.2 104.2h0M274.5 72.3h0M240.3 82.8h0M281.3 79.3h0M265.3 54.6h0M260.8 96.6h0M253.2 78.7h0M263.8 70.5h0M266.2 50.9h0M275.5 56.3h0M251.9 51.1h0M254.1 69.2h0M241.1 95.0h0M244.0 46.9h0M258.6 68.7h0M258.6 72.5h0M259.5 76.4h0M269.7 77.0h0M272.2 86.3h0M235.2 56.4h0M272.4 85.7h0M261.2 103.5h0M248.3 89.9h0M270.3 77.7h0M265.0 62.5h0M275.4 76.6h0M234.1 60.4h0M265.4 67.5h0M242.6 99.6h0M273.2 81.8h0M245.2 95.8h0M273.9 78.4h0M255.9 104.2h0M235.9 91.1h0M260.2 74.9h0M284.3 65.3h0M255.9 85.3h0M242.9 86.0h0M269.0 82.2h0M243.1 83.4h0M237.2 65.8h0M279.4 103.5h0M241.7 95.0h0M239.4 64.8h0M275.3 72.3h0M233.9 83.5h0M282.2 109.3h0M250.2 81.5h0M275.4 102.3h0M262.8 66.3h0M244.3 70.6h0" stroke="#8cf88c" stroke-width="0.8" stroke-linecap="round"/>
<path d="M258.8 81.2h0M246.3 80.4h0M247.0 51.2h0M270.3 105.7h0M260.9 73.4h0M271.2 82.3h0M270.1 98.2h0M242.7 103.1h0M245.9 53.3h0M240.3 57.7h0M249.8 90.4h0M274.8 90.0h0M266.4 90.4h0M243.9 87.2h0M265.1 85.5h0M253.6 56.2h0M277.0 72.2h0M247.1 101.8h0M267.4 90.3h0M247.9 94.6h0M262.4 97.6h0M234.8 88.8h0M245.8 100.9h0M268.5 60.1h0M262.5 80.1h0M231.8 54.2h0M241.6 52.1h0M271.3 89.7h0M277.6 87.6h0M245.4 83.4h0M241.9 84.4h0M260.9 57.5h0M245.1 51.7h0M254.0 96.7h0M265.5 103.0h0M261.8 86.0h0M248.3 100.3h0M273.4 101.7h0M273.9 68.4h0M268.5 78.2h0M245.2 91.1h0M247.2 62.8h0M235.5 78.1h0M259.5 95.2h0M257.2 52.0h0M267.4 73.0h0M277.7 77.0h0M285.7 93.0h0M250.9 85.0h0M273.6 59.7h0M252.3 83.1h0M264.5 59.5h0M261.4 95.1h0M242.3 93.7h0M269.1 79.3h0M260.3 68.5h0M236.0 77.9h0M268.0 63.9h0M264.8 103.2h0M259.5 106.2h0M257.3 101.4h0M250.0 39.8h0M241.6 94.9h0M244.7 79.8h0M244.5 93.4h0M244.4 60.4h0M277.4 100.2h0M257.8 86.9h0M282.2 78.4h0M266.7 102.9h0M262.9 69.9h0M235.3 52.2h0M273.2 92.0h0M255.8 100.5h0M235.7 83.2h0M246.8 91.0h0M260.9 65.4h0M268.2 55.9h0M246.7 77.2h0M264.1 74.0h0M245.5 84.4h0M274.7 77.2h0M268.8 95.9h0M254.4 92.0h0M263.3 101.2h0M273.0 81.0h0M233.4 78.8h0M264.6 80.5h0M244.7 98.7h0M279.3 96.9h0M258.3 87.9h0M252.9 62.5h0M268.3 69.9h0M262.9 90.0h0M240.2 101.5h0M254.7 79.5h0M241.1 54.1h0M261.1 66.8h0M270.0 81.0h0M271.6 100.6h0" stroke="#28b028" stroke-width="1.6" stroke-linecap="round"/>
<path d="M258.8 81.2h0M246.3 80.4h0M247.0 51.2h0M270.3 105.7h0M260.9 73.4h0M271.2 82.3h0M270.1 98.2h0M242.7 103.1h0M245.9 53.3h0M240.3 57.7h0M249.8 90.4h0M274.8 90.0h0M266.4 90.4h0M243.9 87.2h0M265.1 85.5h0M253.6 56.2h0M277.0 72.2h0M247.1 101.8h0M267.4 90.3h0M247.9 94.6h0M262.4 97.6h0M234.8 88.8h0M245.8 100.9h0M268.5 60.1h0M262.5 80.1h0M231.8 54.2h0M241.6 52.1h0M271.3 89.7h0M277.6 87.6h0M245.4 83.4h0M241.9 84.4h0M260.9 57.5h0M245.1 51.7h0M254.0 96.7h0M265.5 103.0h0M261.8 86.0h0M248.3 100.3h0M273.4 101.7h0M273.9 68.4h0M268.5 78.2h0M245.2 91.1h0M247.2 62.8h0M235.5 78.1h0M259.5 95.2h0M257.2 52.0h0M267.4 73.0h0M277.7 77.0h0M285.7 93.0h0M250.9 85.0h0M273.6 59.7h0M252.3 83.1h0M264.5 59.5h0M261.4 95.1h0M242.3 93.7h0M269.1 79.3h0M260.3 68.5h0M236.0 77.9h0M268.0 63.9h0M264.8 103.2h0M259.5 106.2h0M257.3 101.4h0M250.0 39.8h0M241.6 94.9h0M244.7 79.8h0M244.5 93.4h0M244.4 60.4h0M277.4 100.2h0M257.8 86.9h0M282.2 78.4h0M266.7 102.9h0M262.9 69.9h0M235.3 52.2h0M273.2 92.0h0M255.8 100.5h0M235.7 83.2h0M246.8 91.0h0M260.9 65.4h0M268.2 55.9h0M246.7 77.2h0M264.1 74.0h0M245.5 84.4h0M274.7 77.2h0M268.8 95.9h0M254.4 92.0h0M263.3 101.2h0M273.0 81.0h0M233.4 78.8h0M264.6 80.5h0M244.7 98.7h0M279.3 96.9h0M258.3 87.9h0M252.9 62.5h0M268.3 69.9h0M262.9 90.0h0M240.2 101.5h0M254.7 79.5h0M241.1 54.1h0M261.1 66.8h0M270.0 81.0h0M271.6 100.6h0" stroke="#8cf88c" stroke-width="0.8" stroke-linecap="round"/>
<path d="M232.9 92.3h0M247.0 102.1h0M250.9 52.0h0M245.9 78.1h0M253.0 62.3h0M242.1 87.4h0M237.7 69.6h0M257.0 89.3h0M289.5 75.8h0M239.4 104.2h0M268.3 53.4h0M267.6 90.0h0M240.7 54.2h0M262.1 41.7h0M258.3 107.6h0M236.0 77.2h0M272.1 101.0h0M248.2 101.7h0M246.4 62.3h0M252.6 50.1h0M236.5 100.7h0M260.1 72.4h0M272.0 90.7h0M264.8 108.7h0M249.9 50.0h0M248.7 61.9h0M240.1 82.3h0M276.7 104.4h0M255.8 69.9h0M251.8 103.3h0M241.3 65.3h0M239.2 71.9h0M293.3 99.0h0M276.2 87.5h0M273.9 107.6h0M258.7 104.8h0M262.4 98.0h0M260.2 42.4h0M243.3 95.0h0M235.7 103.7h0M240.9 57.8h0M246.3 82.8h0M245.8 82.6h0M255.9 57.7h0M273.3 56.8h0M250.4 58.0h0M245.6 79.0h0M253.3 100.7h0M262.9 71.1h0M236.2 57.9h0M261.4 66.4h0M234.5 73.1h0M259.8 60.8h0M254.8 56.5h0M261.1 103.3h0M265.9 82.2h0M247.9 72.3h0M267.9 67.7h0M285.1 66.5h0M249.7 43.5h0M236.6 84.4h0M276.4 96.6h0M260.8 47.4h0M259.2 105.6h0M267.5 75.4h0M251.9 80.5h0M275.7 66.2h0M280.1 80.3h0M266.2 66.9h0M269.7 105.3h0M272.4 69.6h0M255.7 69.6h0M246.3 94.9h0M238.4 68.7h0M264.8 62.5h0M249.1 63.6h0M264.8 63.3h0M256.3 61.8h0M252.0 72.5h0M249.4 105.4h0M275.4 102.0h0M253.4 73.2h0M237.2 99.2h0M279.8 51.4h0M264.2 68.1h0M244.2 67.5h0M247.9 71.7h0M235.0 60.2h0M266.4 75.8h0M257.7 79.5h0M255.5 94.9h0M236.9 101.5h0M234.4 101.3h0M275.6 96.1h0M252.4 70.2h0M264.8 72.6h0M268.0 85.9h0M246.2 95.1h0M252.3 106.0h0M246.4 71.9h0" stroke="#28b028" stroke-width="1.6" stroke-linecap="round"/>
<path d="M232.9 92.3h0M247.0 102.1h0M250.9 52.0h0M245.9 78.1h0M253.0 62.3h0M242.1 87.4h0M237.7 69.6h0M257.0 89.3h0M289.5 75.8h0M239.4 104.2h0M268.3 53.4h0M267.6 90.0h0M240.7 54.2h0M262.1 41.7h0M258.3 107.6h0M236.0 77.2h0M272.1 101.0h0M248.2 101.7h0M246.4 62.3h0M252.6 50.1h0M236.5 100.7h0M260.1 72.4h0M272.0 90.7h0M264.8 108.7h0M249.9 50.0h0M248.7 61.9h0M240.1 82.3h0M276.7 104.4h0M255.8 69.9h0M251.8 103.3h0M241.3 65.3h0M239.2 71.9h0M293.3 99.0h0M276.2 87.5h0M273.9 107.6h0M258.7 104.8h0M262.4 98.0h0M260.2 42.4h0M243.3 95.0h0M235.7 103.7h0M240.9 57.8h0M246.3 82.8h0M245.8 82.6h0M255.9 57.7h0M273.3 56.8h0M250.4 58.0h0M245.6 79.0h0M253.3 100.7h0M262.9 71.1h0M236.2 57.9h0M261.4 66.4h0M234.5 73.1h0M259.8 60.8h0M254.8 56.5h0M261.1 103.3h0M265.9 82.2h0M247.9 72.3h0M267.9 67.7h0M285.1 66.5h0M249.7 43.5h0M236.6 84.4h0M276.4 96.6h0M260.8 47.4h0M259.2 105.6h0M267.5 75.4h0M251.9 80.5h0M275.7 66.2h0M280.1 80.3h0M266.2 66.9h0M269.7 105.3h0M272.4 69.6h0M255.7 69.6h0M246.3 94.9h0M238.4 68.7h0M264.8 62.5h0M249.1 63.6h0M264.8 63.3h0M256.3 61.8h0M252.0 72.5h0M249.4 105.4h0M275.4 102.0h0M253.4 73.2h0M237.2 99.2h0M279.8 51.4h0M264.2 68.1h0M244.2 67.5h0M247.9 71.7h0M235.0 60.2h0M266.4 75.8h0M257.7 79.5h0M255.5 94.9h0M236.9 101.5h0M234.4 101.3h0M275.6 96.1h0M252.4 70.2h0M264.8 72.6h0M268.0 85.9h0M246.2 95.1h0M252.3 106.0h0M246.4 71.9h0" stroke="#8cf88c" stroke-width="0.8" stroke-linecap="round"/>
<path d="M268.0 97.0h0M265.8 82.0h0M253.6 63.9h0M287.2 80.4h0M245.9 85.8h0M240.3 69.8h0M233.0 95.6h0M281.7 79.1h0M238.4 67.0h0M256.0 93.7h0M244.0 105.4h0M274.8 88.2h0M240.1 106.0h0M262.6 105.9h0M272.2 61.5h0M249.5 102.1h0M237.3 97.7h0M248.5 77.5h0M261.8 55.9h0M263.6 93.8h0M268.6 64.6h0M252.3 59.6h0M258.5 40.7h0M256.4 92.6h0M271.7 95.6h0M264.0 73.7h0M232.5 92.1h0M255.6 76.9h0M248.6 97.6h0M267.7 89.2h0M243.7 72.8h0M254.3 60.1h0M267.6 62.3h0M252.1 84.2h0M239.1 82.8h0M262.5 65.3h0M263.2 102.7h0M236.4 59.5h0M279.8 102.9h0M271.8 99.3h0M271.4 93.5h0M240.9 88.9h0M261.2 85.7h0M266.9 78.3h0M243.9 102.0h0M241.3 95.9h0M245.6 77.3h0M248.4 61.2h0M256.4 76.8h0M281.8 90.0h0M249.4 92.1h0M234.5 88.3h0M240.0 69.9h0M262.6 106.9h0M267.7 52.6h0M264.4 87.1h0M234.9 73.2h0M233.9 51.9h0M259.1 58.8h0M237.1 57.5h0M261.6 65.4h0M259.0 60.7h0M265.7 56.7h0M245.2 92.4h0M261.2 99.4h0M243.4 90.2h0M234.8 62.2h0M255.4 66.6h0M280.0 86.7h0M282.3 93.5h0M258.9 73.1h0M249.3 63.6h0M246.8 95.2h0M246.2 95.9h0M246.0 82.8h0M251.9 80.0h0M245.8 57.7h0M234.5 72.4h0M239.3 67.0h0M249.1 65.5h0M244.1 84.1h0M242.2 70.3h0M265.5 65.0h0M239.3 98.2h0M234.1 52.5h0M254.2 75.5h0M278.9 106.5h0M267.7 73.3h0M245.7 100.7h0M245.9 50.1h0M239.2 72.9h0M282.6 98.1h0M255.0 81.7h0M273.2 97.8h0M268.7 63.4h0M260.4 74.8h0M292.4 72.3h0M250.5 98.1h0M236.4 78.7h0M242.4 98.2h0" stroke="#28b028" stroke-width="1.6" stroke-linecap="round"/>
<path d="M268.0 97.0h0M265.8 82.0h0M253.6 63.9h0M287.2 80.4h0M245.9 85.8h0M240.3 69.8h0M233.0 95.6h0M281.7 79.1h0M238.4 67.0h0M256.0 93.7h0M244.0 105.4h0M274.8 88.2h0M240.1 106.0h0M262.6 105.9h0M272.2 61.5h0M249.5 102.1h0M237.3 97.7h0M248.5 77.5h0M261.8 55.9h0M263.6 93.8h0M268.6 64.6h0M252.3 59.6h0M258.5 40.7h0M256.4 92.6h0M271.7 95.6h0M264.0 73.7h0M232.5 92.1h0M255.6 76.9h0M248.6 97.6h0M267.7 89.2h0M243.7 72.8h0M254.3 60.1h0M267.6 62.3h0M252.1 84.2h0M239.1 82.8h0M262.5 65.3h0M263.2 102.7h0M236.4 59.5h0M279.8 102.9h0M271.8 99.3h0M271.4 93.5h0M240.9 88.9h0M261.2 85.7h0M266.9 78.3h0M243.9 102.0h0M241.3 95.9h0M245.6 77.3h0M248.4 61.2h0M256.4 76.8h0M281.8 90.0h0M249.4 92.1h0M234.5 88.3h0M240.0 69.9h0M262.6 106.9h0M267.7 52.6h0M264.4 87.1h0M234.9 73.2h0M233.9 51.9h0M259.1 58.8h0M237.1 57.5h0M261.6 65.4h0M259.0 60.7h0M265.7 56.7h0M245.2 92.4h0M261.2 99.4h0M243.4 90.2h0M234.8 62.2h0M255.4 66.6h0M280.0 86.7h0M282.3 93.5h0M258.9 73.1h0M249.3 63.6h0M246.8 95.2h0M246.2 95.9h0M246.0 82.8h0M251.9 80.0h0M245.8 57.7h0M234.5 72.4h0M239.3 67.0h0M249.1 65.5h0M244.1 84.1h0M242.2 70.3h0M265.5 65.0h0M239.3 98.2h0M234.1 52.5h0M254.2 75.5h0M278.9 106.5h0M267.7 73.3h0M245.7 100.7h0M245.9 50.1h0M239.2 72.9h0M282.6 98.1h0M255.0 81.7h0M273.2 97.8h0M268.7 63.4h0M260.4 74.8h0M292.4 72.3h0M250.5 98.1h0M236.4 78.7h0M242.4 98.2h0" stroke="#8cf88c" stroke-width="0.8" stroke-linecap="round"/>
<path d="M267.4 51.2h0M246.2 57.3h0M250.6 86.3h0M276.0 58.1h0M280.7 60.3h0M284.7 83.2h0M282.0 106.7h0M254.3 54.4h0M243.1 73.6h0M234.7 46.1h0M265.9 77.1h0M272.5 95.3h0M240.5 65.0h0M256.2 85.1h0M289.9 55.3h0M249.5 57.3h0M233.2 100.1h0M262.9 93.5h0M256.8 92.4h0M241.5 94.8h0M253.2 61.2h0M274.4 49.1h0M256.2 49.2h0M257.6 56.7h0M273.4 81.5h0M252.3 52.8h0M264.8 65.4h0M247.2 87.8h0M257.4 35.1h0M233.4 64.4h0M261.8 87.9h0M289.2 91.2h0M251.4 56.7h0M307.6 78.5h0M270.8 97.6h0M277.4 100.8h0M248.6 85.7h0M273.1 92.1h0M279.0 83.6h0M257.1 58.4h0M246.2 60.7h0M242.5 65.0h0M261.6 30.4h0M242.6 80.0h0M266.6 103.2h0M253.0 68.9h0M268.1 94.2h0M258.4 84.4h0M239.2 66.4h0M236.3 90.4h0M274.1 100.1h0M255.5 97.2h0M270.4 66.0h0M256.8 50.1h0M260.7 79.7h0M261.2 80.0h0M249.7 77.4h0M270.6 91.5h0M264.7 80.2h0M277.6 96.9h0M263.2 74.9h0M269.4 104.3h0M276.2 104.6h0M236.9 88.8h0M238.1 97.2h0M264.6 102.1h0M264.4 106.8h0M250.4 67.3h0M259.6 53.9h0M268.5 81.5h0M239.2 85.0h0M267.0 81.7h0M263.6 61.8h0M266.7 67.3h0M240.7 94.1h0M273.5 97.6h0M262.6 96.8h0M246.6 94.1h0M296.5 75.9h0M256.8 53.1h0M236.1 83.7h0M268.1 83.8h0M238.6 68.6h0M265.9 99.3h0M251.1 105.0h0M241.1 92.1h0M245.2 87.8h0M274.7 74.9h0M241.9 71.5h0M268.8 95.5h0M259.9 85.8h0M242.2 70.7h0M258.8 97.1h0M264.3 70.1h0M260.4 67.9h0M273.8 91.2h0M237.9 86.1h0M264.8 77.6h0M270.8 79.6h0M267.7 105.2h0" stroke="#28b028" stroke-width="1.6" stroke-linecap="round"/>
<path d="M267.4 51.2h0M246.2 57.3h0M250.6 86.3h0M276.0 58.1h0M280.7 60.3h0M284.7 83.2h0M282.0 106.7h0M254.3 54.4h0M243.1 73.6h0M234.7 46.1h0M265.9 77.1h0M272.5 95.3h0M240.5 65.0h0M256.2 85.1h0M289.9 55.3h0M249.5 57.3h0M233.2 100.1h0M262.9 93.5h0M256.8 92.4h0M241.5 94.8h0M253.2 61.2h0M274.4 49.1h0M256.2 49.2h0M257.6 56.7h0M273.4 81.5h0M252.3 52.8h0M264.8 65.4h0M247.2 87.8h0M257.4 35.1h0M233.4 64.4h0M261.8 87.9h0M289.2 91.2h0M251.4 56.7h0M307.6 78.5h0M270.8 97.6h0M277.4 100.8h0M248.6 85.7h0M273.1 92.1h0M279.0 83.6h0M257.1 58.4h0M246.2 60.7h0M242.5 65.0h0M261.6 30.4h0M242.6 80.0h0M266.6 103.2h0M253.0 68.9h0M268.1 94.2h0M258.4 84.4h0M239.2 66.4h0M236.3 90.4h0M274.1 100.1h0M255.5 97.2h0M270.4 66.0h0M256.8 50.1h0M260.7 79.7h0M261.2 80.0h0M249.7 77.4h0M270.6 91.5h0M264.7 80.2h0M277.6 96.9h0M263.2 74.9h0M269.4 104.3h0M276.2 104.6h0M236.9 88.8h0M238.1 97.2h0M264.6 102.1h0M264.4 106.8h0M250.4 67.3h0M259.6 53.9h0M268.5 81.5h0M239.2 85.0h0M267.0 81.7h0M263.6 61.8h0M266.7 67.3h0M240.7 94.1h0M273.5 97.6h0M262.6 96.8h0M246.6 94.1h0M296.5 75.9h0M256.8 53.1h0M236.1 83.7h0M268.1 83.8h0M238.6 68.6h0M265.9 99.3h0M251.1 105.0h0M241.1 92.1h0M245.2 87.8h0M274.7 74.9h0M241.9 71.5h0M268.8 95.5h0M259.9 85.8h0M242.2 70.7h0M258.8 97.1h0M264.3 70.1h0M260.4 67.9h0M273.8 91.2h0M237.9 86.1h0M264.8 77.6h0M270.8 79.6h0M267.7 105.2h0" stroke="#8cf88c" stroke-width="0.8" stroke-linecap="round"/>
<path d="M253.9 49.4h0M242.1 102.6h0M283.7 107.3h0M266.0 64.1h0M270.8 51.7h0M261.6 102.7h0M252.5 87.7h0M248.3 85.4h0M265.2 92.1h0M278.0 75.8h0M284.3 68.5h0M258.7 55.1h0M250.9 49.4h0M235.2 84.9h0M295.8 75.6h0M248.5 72.1h0M265.2 96.8h0M242.8 52.7h0M252.1 100.4h0M264.0 74.2h0M258.1 66.2h0M253.9 65.3h0M254.3 85.5h0M256.4 99.1h0M255.3 84.5h0M265.1 83.6h0M245.7 74.0h0M255.1 68.2h0M259.1 59.6h0M280.2 69.5h0M276.9 69.6h0M293.2 97.2h0M260.7 100.0h0M245.3 95.5h0M240.1 67.5h0M265.5 76.0h0M265.7 61.5h0M274.7 63.1h0M237.3 56.4h0M234.1 96.2h0M235.1 63.8h0M239.2 91.3h0M242.1 62.1h0M274.4 57.4h0M252.5 76.3h0M255.4 68.6h0M240.5 57.6h0M254.4 100.0h0M287.2 71.6h0M239.8 101.3h0M274.3 105.1h0M267.1 86.8h0M237.9 79.1h0M244.9 94.1h0M272.9 96.1h0M242.5 81.9h0M263.3 68.3h0M277.6 100.6h0M255.5 97.1h0M275.8 35.7h0M260.0 100.8h0M264.2 60.7h0M262.0 89.6h0M261.1 65.2h0M242.3 98.6h0M273.6 91.9h0M242.7 51.2h0M272.8 89.4h0M252.0 63.1h0M242.8 53.0h0M244.8 80.4h0M263.1 66.1h0M261.6 82.3h0M246.7 66.5h0M258.9 70.6h0M236.5 51.0h0M274.6 95.0h0M249.9 62.5h0M266.1 97.2h0M272.5 94.9h0M250.0 54.4h0M247.5 95.3h0M240.7 89.0h0M307.9 46.4h0M267.8 87.9h0M234.7 99.4h0M237.6 75.3h0M267.8 105.4h0M243.1 71.8h0M254.7 91.2h0M234.2 86.9h0M279.9 104.8h0M242.0 72.2h0M261.5 47.1h0M263.0 68.9h0M243.2 78.3h0M264.2 97.5h0M234.6 83.0h0M280.9 84.8h0M253.1 99.3h0" stroke="#28b028" stroke-width="1.6" stroke-linecap="round"/>
<path d="M253.9 49.4h0M242.1 102.6h0M283.7 107.3h0M266.0 64.1h0M270.8 51.7h0M261.6 102.7h0M252.5 87.7h0M248.3 85.4h0M265.2 92.1h0M278.0 75.8h0M284.3 68.5h0M258.7 55.1h0M250.9 49.4h0M235.2 84.9h0M295.8 75.6h0M248.5 72.1h0M265.2 96.8h0M242.8 52.7h0M252.1 100.4h0M264.0 74.2h0M258.1 66.2h0M253.9 65.3h0M254.3 85.5h0M256.4 99.1h0M255.3 84.5h0M265.1 83.6h0M245.7 74.0h0M255.1 68.2h0M259.1 59.6h0M280.2 69.5h0M276.9 69.6h0M293.2 97.2h0M260.7 100.0h0M245.3 95.5h0M240.1 67.5h0M265.5 76.0h0M265.7 61.5h0M274.7 63.1h0M237.3 56.4h0M234.1 96.2h0M235.1 63.8h0M239.2 91.3h0M242.1 62.1h0M274.4 57.4h0M252.5 76.3h0M255.4 68.6h0M240.5 57.6h0M254.4 100.0h0M287.2 71.6h0M239.8 101.3h0M274.3 105.1h0M267.1 86.8h0M237.9 79.1h0M244.9 94.1h0M272.9 96.1h0M242.5 81.9h0M263.3 68.3h0M277.6 100.6h0M255.5 97.1h0M275.8 35.7h0M260.0 100.8h0M264.2 60.7h0M262.0 89.6h0M261.1 65.2h0M242.3 98.6h0M273.6 91.9h0M242.7 51.2h0M272.8 89.4h0M252.0 63.1h0M242.8 53.0h0M244.8 80.4h0M263.1 66.1h0M261.6 82.3h0M246.7 66.5h0M258.9 70.6h0M236.5 51.0h0M274.6 95.0h0M249.9 62.5h0M266.1 97.2h0M272.5 94.9h0M250.0 54.4h0M247.5 95.3h0M240.7 89.0h0M307.9 46.4h0M267.8 87.9h0M234.7 99.4h0M237.6 75.3h0M267.8 105.4h0M243.1 71.8h0M254.7 91.2h0M234.2 86.9h0M279.9 104.8h0M242.0 72.2h0M261.5 47.1h0M263.0 68.9h0M243.2 78.3h0M264.2 97.5h0M234.6 83.0h0M280.9 84.8h0M253.1 99.3h0" stroke="#8cf88c" stroke-width="0.8" stroke-linecap="round"/>
<path d="M281.3 92.9h0M236.7 97.2h0M233.8 71.7h0M254.9 104.8h0M256.2 65.6h0M241.9 77.7h0M239.7 63.3h0M244.4 68.4h0M270.4 80.3h0M250.6 56.2h0M240.9 45.6h0M245.0 50.8h0M250.6 70.1h0M265.3 58.4h0M271.3 98.4h0M265.0 60.2h0M234.0 82.5h0M261.8 64.2h0M257.3 84.3h0M253.2 95.2h0M268.9 93.8h0M256.4 78.6h0M261.7 53.2h0M238.6 84.7h0M238.7 42.4h0M238.1 80.8h0M272.1 86.0h0M254.0 59.4h0M253.5 73.0h0M252.4 90.7h0M256.7 57.8h0M235.4 72.4h0M234.5 53.4h0M234.1 85.8h0M262.7 102.7h0M259.6 36.1h0M250.8 50.4h0M253.1 73.0h0M239.1 103.7h0M269.4 68.6h0M265.5 106.4h0M280.5 108.2h0M263.2 62.2h0M266.8 98.5h0M269.3 98.3h0M252.2 71.4h0M245.0 94.9h0M235.3 50.2h0M292.3 92.9h0M249.0 58.2h0M254.5 56.9h0M280.8 67.6h0M262.4 52.4h0M245.1 99.1h0M246.9 59.0h0M247.7 100.7h0M273.8 64.5h0M251.7 78.5h0M254.2 77.3h0M280.9 90.2h0M274.6 98.1h0M235.2 71.0h0M271.8 100.3h0M249.4 40.1h0M264.4 71.9h0M279.6 103.6h0M284.4 52.7h0M239.6 92.9h0M269.3 79.0h0M265.9 90.7h0M263.5 61.1h0M256.7 72.1h0M272.1 75.6h0M257.2 94.8h0M249.0 67.5h0M274.1 47.0h0M262.2 56.1h0M257.8 93.2h0M255.7 61.7h0M257.0 66.9h0M270.6 85.9h0M272.6 83.6h0M238.2 39.5h0M260.0 75.4h0M238.9 84.5h0M255.3 90.0h0M238.3 75.8h0M244.8 53.2h0M263.6 61.6h0M254.6 52.0h0M272.2 79.4h0M236.4 79.5h0M255.7 48.5h0M280.2 81.5h0M254.1 79.9h0M254.9 70.7h0M266.7 97.2h0M248.4 100.3h0M282.8 79.8h0M262.2 93.8h0" stroke="#28b028" stroke-width="1.6" stroke-linecap="round"/>
<path d="M281.3 92.9h0M236.7 97.2h0M233.8 71.7h0M254.9 104.8h0M256.2 65.6h0M241.9 77.7h0M239.7 63.3h0M244.4 68.4h0M270.4 80.3h0M250.6 56.2h0M240.9 45.6h0M245.0 50.8h0M250.6 70.1h0M265.3 58.4h0M271.3 98.4h0M265.0 60.2h0M234.0 82.5h0M261.8 64.2h0M257.3 84.3h0M253.2 95.2h0M268.9 93.8h0M256.4 78.6h0M261.7 53.2h0M238.6 84.7h0M238.7 42.4h0M238.1 80.8h0M272.1 86.0h0M254.0 59.4h0M253.5 73.0h0M252.4 90.7h0M256.7 57.8h0M235.4 72.4h0M234.5 53.4h0M234.1 85.8h0M262.7 102.7h0M259.6 36.1h0M250.8 50.4h0M253.1 73.0h0M239.1 103.7h0M269.4 68.6h0M265.5 106.4h0M280.5 108.2h0M263.2 62.2h0M266.8 98.5h0M269.3 98.3h0M252.2 71.4h0M245.0 94.9h0M235.3 50.2h0M292.3 92.9h0M249.0 58.2h0M254.5 56.9h0M280.8 67.6h0M262.4 52.4h0M245.1 99.1h0M246.9 59.0h0M247.7 100.7h0M273.8 64.5h0M251.7 78.5h0M254.2 77.3h0M280.9 90.2h0M274.6 98.1h0M235.2 71.0h0M271.8 100.3h0M249.4 40.1h0M264.4 71.9h0M279.6 103.6h0M284.4 52.7h0M239.6 92.9h0M269.3 79.0h0M265.9 90.7h0M263.5 61.1h0M256.7 72.1h0M272.1 75.6h0M257.2 94.8h0M249.0 67.5h0M274.1 47.0h0M262.2 56.1h0M257.8 93.2h0M255.7 61.7h0M257.0 66.9h0M270.6 85.9h0M272.6 83.6h0M238.2 39.5h0M260.0 75.4h0M238.9 84.5h0M255.3 90.0h0M238.3 75.8h0M244.8 53.2h0M263.6 61.6h0M254.6 52.0h0M272.2 79.4h0M236.4 79.5h0M255.7 48.5h0M280.2 81.5h0M254.1 79.9h0M254.9 70.7h0M266.7 97.2h0M248.4 100.3h0M282.8 79.8h0M262.2 93.8h0" stroke="#8cf88c" stroke-width="0.8" stroke-linecap="round"/>
<path d="M259.7 64.6h0M256.1 91.5h0M267.9 61.9h0M235.8 98.6h0M257.0 50.6h0M242.8 94.2h0M234.8 62.7h0M235.9 57.0h0M239.8 40.5h0M253.8 53.4h0M246.6 71.2h0M274.6 102.7h0M241.7 69.5h0M260.8 77.7h0M256.8 74.3h0M281.8 66.1h0M245.7 54.1h0M233.2 60.7h0M238.6 58.3h0M271.9 69.4h0M256.5 87.1h0M266.0 64.8h0M268.3 52.6h0M266.1 72.2h0M273.1 100.4h0M278.5 77.2h0M273.2 79.9h0M273.1 84.7h0M240.2 58.7h0M254.4 76.5h0M247.6 45.3h0M237.5 59.9h0M276.3 91.5h0M290.4 89.0h0M281.1 43.9h0M239.0 59.1h0M238.4 72.2h0M247.7 84.6h0M269.8 92.9h0M237.8 97.9h0M234.9 97.9h0M262.2 76.1h0M237.9 79.4h0M249.0 70.7h0M259.7 94.7h0M232.8 69.2h0M252.2 94.2h0M240.7 54.1h0M246.0 95.0h0M233.1 85.1h0M242.1 57.4h0M260.9 85.1h0M285.4 98.9h0M254.5 85.2h0M234.6 99.5h0M248.6 73.7h0M273.0 92.6h0M273.5 82.7h0M237.1 59.8h0M286.7 80.0h0M243.9 66.2h0M257.8 73.7h0M260.5 65.7h0M268.4 76.5h0M250.8 86.5h0M266.1 60.3h0M235.3 52.7h0M270.0 101.7h0M269.1 86.3h0M252.6 54.4h0M262.1 104.0h0M241.2 79.0h0M245.8 99.7h0M261.7 84.2h0M288.4 86.2h0M255.8 62.3h0M243.8 85.3h0M252.9 50.6h0M235.5 85.5h0M254.7 90.6h0M253.2 101.8h0M270.3 71.6h0M240.4 87.3h0M253.8 51.6h0M261.8 82.1h0M260.3 65.8h0M253.9 104.1h0M238.8 58.1h0M269.7 95.2h0M238.2 65.6h0M265.3 58.9h0M253.6 71.5h0M273.7 99.8h0M244.4 54.8h0M258.3 82.2h0M243.4 57.5h0M242.0 82.5h0M261.6 74.1h0M268.2 100.4h0M274.8 80.8h0" stroke="#28b028" stroke-width="1.6" stroke-linecap="round"/>
<path d="M259.7 64.6h0M256.1 91.5h0M267.9 61.9h0M235.8 98.6h0M257.0 50.6h0M242.8 94.2h0M234.8 62.7h0M235.9 57.0h0M239.8 40.5h0M253.8 53.4h0M246.6 71.2h0M274.6 102.7h0M241.7 69.5h0M260.8 77.7h0M256.8 74.3h0M281.8 66.1h0M245.7 54.1h0M233.2 60.7h0M238.6 58.3h0M271.9 69.4h0M256.5 87.1h0M266.0 64.8h0M268.3 52.6h0M266.1 72.2h0M273.1 100.4h0M278.5 77.2h0M273.2 79.9h0M273.1 84.7h0M240.2 58.7h0M254.4 76.5h0M247.6 45.3h0M237.5 59.9h0M276.3 91.5h0M290.4 89.0h0M281.1 43.9h0M239.0 59.1h0M238.4 72.2h0M247.7 84.6h0M269.8 92.9h0M237.8 97.9h0M234.9 97.9h0M262.2 76.1h0M237.9 79.4h0M249.0 70.7h0M259.7 94.7h0M232.8 69.2h0M252.2 94.2h0M240.7 54.1h0M246.0 95.0h0M233.1 85.1h0M242.1 57.4h0M260.9 85.1h0M285.4 98.9h0M254.5 85.2h0M234.6 99.5h0M248.6 73.7h0M273.0 92.6h0M273.5 82.7h0M237.1 59.8h0M286.7 80.0h0M243.9 66.2h0M257.8 73.7h0M260.5 65.7h0M268.4 76.5h0M250.8 86.5h0M266.1 60.3h0M235.3 52.7h0M270.0 101.7h0M269.1 86.3h0M252.6 54.4h0M262.1 104.0h0M241.2 79.0h0M245.8 99.7h0M261.7 84.2h0M288.4 86.2h0M255.8 62.3h0M243.8 85.3h0M252.9 50.6h0M235.5 85.5h0M254.7 90.6h0M253.2 101.8h0M270.3 71.6h0M240.4 87.3h0M253.8 51.6h0M261.8 82.1h0M260.3 65.8h0M253.9 104.1h0M238.8 58.1h0M269.7 95.2h0M238.2 65.6h0M265.3 58.9h0M253.6 71.5h0M273.7 99.8h0M244.4 54.8h0M258.3 82.2h0M243.4 57.5h0M242.0 82.5h0M261.6 74.1h0M268.2 100.4h0M274.8 80.8h0" stroke="#8cf88c" stroke-width="0.8" stroke-linecap="round"/>
<path d="M247.5 48.2h0M284.4 105.9h0M248.8 100.9h0M260.4 50.1h0M272.7 98.3h0M273.4 80.3h0M242.7 79.0h0M273.1 60.3h0M258.4 74.7h0M241.6 74.3h0M287.3 75.6h0M248.3 81.4h0M245.5 96.2h0M237.8 76.9h0M237.4 89.3h0M246.5 105.5h0M269.9 67.6h0M257.3 59.4h0M235.9 82.7h0M246.0 57.6h0M232.4 88.2h0M277.3 87.6h0M267.4 100.4h0M242.6 74.6h0M265.2 101.8h0M270.1 60.1h0M276.7 101.7h0M264.6 43.0h0M270.4 79.1h0M276.0 95.3h0M261.6 86.1h0M247.3 79.1h0M249.1 76.5h0M269.2 108.6h0M264.7 51.9h0M241.6 58.9h0M238.4 63.6h0M261.1 82.5h0M248.6 70.5h0M252.9 94.1h0M254.9 102.2h0M257.5 61.1h0M236.6 99.3h0M238.2 74.3h0M260.8 79.0h0M237.4 74.1h0M268.4 60.1h0M232.9 76.4h0M255.3 64.8h0M246.7 63.1h0M266.3 106.9h0M261.7 72.2h0M276.5 54.5h0M276.9 84.3h0M284.2 85.1h0M258.8 79.7h0M237.1 90.2h0M264.6 83.0h0M263.3 42.1h0M275.5 99.2h0M243.2 81.8h0M262.0 83.6h0M244.8 70.1h0M247.0 64.1h0M251.9 58.0h0M246.6 55.2h0M271.1 61.0h0M248.4 67.5h0M246.3 62.3h0M281.5 59.3h0M258.3 84.9h0M267.3 78.7h0M265.0 53.9h0M258.8 100.7h0M245.2 90.2h0M269.2 76.6h0M247.8 81.0h0M242.1 83.2h0M241.9 80.7h0M255.4 58.7h0M249.5 77.8h0M253.7 65.4h0M265.4 80.2h0M287.4 66.8h0M258.2 60.2h0M258.3 53.2h0M269.1 72.0h0M239.9 99.2h0M289.4 72.7h0M241.5 54.6h0M241.1 64.7h0M266.4 69.2h0M247.7 81.4h0M242.9 70.9h0M258.4 58.9h0M238.5 87.1h0M247.7 96.5h0M249.4 91.1h0M256.6 73.5h0M249.9 41.6h0" stroke="#28b028" stroke-width="1.6" stroke-linecap="round"/>
<path d="M247.5 48.2h0M284.4 105.9h0M248.8 100.9h0M260.4 50.1h0M272.7 98.3h0M273.4 80.3h0M242.7 79.0h0M273.1 60.3h0M258.4 74.7h0M241.6 74.3h0M287.3 75.6h0M248.3 81.4h0M245.5 96.2h0M237.8 76.9h0M237.4 89.3h0M246.5 105.5h0M269.9 67.6h0M257.3 59.4h0M235.9 82.7h0M246.0 57.6h0M232.4 88.2h0M277.3 87.6h0M267.4 100.4h0M242.6 74.6h0M265.2 101.8h0M270.1 60.1h0M276.7 101.7h0M264.6 43.0h0M270.4 79.1h0M276.0 95.3h0M261.6 86.1h0M247.3 79.1h0M249.1 76.5h0M269.2 108.6h0M264.7 51.9h0M241.6 58.9h0M238.4 63.6h0M261.1 82.5h0M248.6 70.5h0M252.9 94.1h0M254.9 102.2h0M257.5 61.1h0M236.6 99.3h0M238.2 74.3h0M260.8 79.0h0M237.4 74.1h0M268.4 60.1h0M232.9 76.4h0M255.3 64.8h0M246.7 63.1h0M266.3 106.9h0M261.7 72.2h0M276.5 54.5h0M276.9 84.3h0M284.2 85.1h0M258.8 79.7h0M237.1 90.2h0M264.6 83.0h0M263.3 42.1h0M275.5 99.2h0M243.2 81.8h0M262.0 83.6h0M244.8 70.1h0M247.0 64.1h0M251.9 58.0h0M246.6 55.2h0M271.1 61.0h0M248.4 67.5h0M246.3 62.3h0M281.5 59.3h0M258.3 84.9h0M267.3 78.7h0M265.0 53.9h0M258.8 100.7h0M245.2 90.2h0M269.2 76.6h0M247.8 81.0h0M242.1 83.2h0M241.9 80.7h0M255.4 58.7h0M249.5 77.8h0M253.7 65.4h0M265.4 80.2h0M287.4 66.8h0M258.2 60.2h0M258.3 53.2h0M269.1 72.0h0M239.9 99.2h0M289.4 72.7h0M241.5 54.6h0M241.1 64.7h0M266.4 69.2h0M247.7 81.4h0M242.9 70.9h0M258.4 58.9h0M238.5 87.1h0M247.7 96.5h0M249.4 91.1h0M256.6 73.5h0M249.9 41.6h0" stroke="#8cf88c" stroke-width="0.8" stroke-linecap="round"/>
<path d="M248.3 61.7h0M264.9 59.9h0M264.3 80.5h0M234.0 79.8h0M257.4 62.5h0M272.9 88.4h0M269.3 105.0h0M264.5 51.0h0M242.0 75.4h0M263.5 83.4h0M267.5 56.4h0M241.0 87.0h0M239.7 58.5h0M238.4 104.5h0M247.7 74.5h0M277.5 95.1h0M254.1 68.4h0M264.9 79.0h0M254.2 67.7h0M274.0 71.0h0M245.0 79.8h0M269.2 58.7h0M243.7 101.6h0M241.2 50.2h0M252.9 97.9h0M239.6 63.5h0M261.5 82.5h0M236.6 69.6h0M272.4 64.8h0M240.6 91.2h0M268.4 81.2h0M256.5 82.5h0M277.4 93.1h0M246.6 59.6h0M260.2 84.9h0M280.9 65.5h0M277.2 91.7h0M260.1 100.8h0M252.1 83.0h0M249.2 54.9h0M242.1 39.4h0M262.7 69.2h0M260.4 60.8h0M233.3 71.0h0M238.4 91.1h0M270.1 79.0h0M263.5 65.5h0M282.1 91.9h0M264.1 102.5h0M255.2 73.7h0M284.6 77.6h0M278.5 69.5h0M241.8 61.5h0M268.4 78.9h0M251.1 87.4h0M247.5 47.6h0M294.7 103.5h0M274.8 107.3h0M248.2 35.1h0M272.3 60.0h0M277.5 53.1h0M281.1 38.4h0M257.2 63.1h0M264.1 88.4h0M258.0 90.9h0M247.3 56.7h0M280.3 101.3h0M234.7 87.6h0M233.0 60.3h0M271.6 91.6h0M250.3 60.3h0M262.7 76.0h0M239.3 95.9h0M248.0 63.8h0M283.0 48.0h0M237.2 103.5h0M273.7 55.7h0M276.2 83.0h0M278.5 82.3h0M269.7 84.2h0M241.3 66.5h0M255.1 89.9h0M267.2 82.3h0M255.8 78.3h0M243.8 95.9h0M262.0 64.2h0M272.6 90.9h0M263.4 97.6h0M267.5 101.5h0M235.6 73.9h0M259.6 71.9h0M261.4 107.6h0M233.7 67.2h0M251.2 45.3h0M251.8 87.0h0M254.1 99.2h0M249.6 104.2h0M245.5 68.6h0M234.9 62.9h0M248.6 81.1h0" stroke="#28b028" stroke-width="1.6" stroke-linecap="round"/>
<path d="M248.3 61.7h0M264.9 59.9h0M264.3 80.5h0M234.0 79.8h0M257.4 62.5h0M272.9 88.4h0M269.3 105.0h0M264.5 51.0h0M242.0 75.4h0M263.5 83.4h0M267.5 56.4h0M241.0 87.0h0M239.7 58.5h0M238.4 104.5h0M247.7 74.5h0M277.5 95.1h0M254.1 68.4h0M264.9 79.0h0M254.2 67.7h0M274.0 71.0h0M245.0 79.8h0M269.2 58.7h0M243.7 101.6h0M241.2 50.2h0M252.9 97.9h0M239.6 63.5h0M261.5 82.5h0M236.6 69.6h0M272.4 64.8h0M240.6 91.2h0M268.4 81.2h0M256.5 82.5h0M277.4 93.1h0M246.6 59.6h0M260.2 84.9h0M280.9 65.5h0M277.2 91.7h0M260.1 100.8h0M252.1 83.0h0M249.2 54.9h0M242.1 39.4h0M262.7 69.2h0M260.4 60.8h0M233.3 71.0h0M238.4 91.1h0M270.1 79.0h0M263.5 65.5h0M282.1 91.9h0M264.1 102.5h0M255.2 73.7h0M284.6 77.6h0M278.5 69.5h0M241.8 61.5h0M268.4 78.9h0M251.1 87.4h0M247.5 47.6h0M294.7 103.5h0M274.8 107.3h0M248.2 35.1h0M272.3 60.0h0M277.5 53.1h0M281.1 38.4h0M257.2 63.1h0M264.1 88.4h0M258.0 90.9h0M247.3 56.7h0M280.3 101.3h0M234.7 87.6h0M233.0 60.3h0M271.6 91.6h0M250.3 60.3h0M262.7 76.0h0M239.3 95.9h0M248.0 63.8h0M283.0 48.0h0M237.2 103.5h0M273.7 55.7h0M276.2 83.0h0M278.5 82.3h0M269.7 84.2h0M241.3 66.5h0M255.1 89.9h0M267.2 82.3h0M255.8 78.3h0M243.8 95.9h0M262.0 64.2h0M272.6 90.9h0M263.4 97.6h0M267.5 101.5h0M235.6 73.9h0M259.6 71.9h0M261.4 107.6h0M233.7 67.2h0M251.2 45.3h0M251.8 87.0h0M254.1 99.2h0M249.6 104.2h0M245.5 68.6h0M234.9 62.9h0M248.6 81.1h0" stroke="#8cf88c" stroke-width="0.8" stroke-linecap="round"/>
<path d="M284.8 83.2h0M240.5 94.2h0M289.7 52.7h0M267.2 60.1h0M268.0 90.0h0M252.7 80.4h0M268.4 68.2h0M287.5 84.8h0M264.8 80.0h0M270.1 85.9h0M264.9 88.6h0M255.7 67.5h0M245.2 90.9h0M268.5 94.3h0M242.2 91.7h0M268.3 94.2h0M264.9 38.9h0M280.4 54.3h0M239.7 68.1h0M269.3 104.7h0M247.0 68.9h0M232.7 102.0h0M265.1 78.3h0M240.8 72.3h0M260.4 63.4h0M246.6 47.1h0M247.2 51.9h0M259.2 87.6h0M266.0 90.2h0M265.2 95.6h0M241.5 67.7h0M235.6 71.2h0M263.7 64.9h0M260.1 57.4h0M271.4 89.9h0M257.1 89.5h0M268.6 65.4h0M270.9 96.0h0M259.5 71.5h0M269.5 77.5h0M233.2 65.6h0M262.1 60.6h0M251.2 90.8h0M258.5 54.5h0M240.7 47.3h0M244.3 51.3h0M262.3 89.4h0M234.4 103.2h0M239.4 71.9h0M253.2 80.2h0M256.7 68.6h0M247.6 68.3h0M270.4 107.4h0M264.1 91.4h0M269.0 69.8h0M234.9 79.2h0M241.5 69.1h0M236.2 80.6h0M264.5 88.2h0M267.8 56.0h0M238.4 89.6h0M242.8 96.3h0M263.9 78.8h0M237.5 54.6h0M235.5 104.6h0M235.2 54.2h0M250.8 64.4h0M237.0 69.7h0M241.0 73.6h0M266.2 62.4h0M238.3 83.1h0M238.7 77.1h0M246.5 84.7h0M269.5 56.1h0M237.7 90.3h0M270.3 46.8h0M274.8 60.8h0M251.0 81.7h0M272.3 87.3h0M283.9 105.6h0M261.5 83.2h0M280.3 100.1h0M265.7 94.3h0M245.1 81.9h0M247.7 74.8h0M270.5 94.3h0M244.0 94.0h0M267.6 103.7h0M237.8 82.2h0M250.6 89.3h0M252.4 49.6h0M254.3 55.0h0M255.6 60.0h0M262.6 83.9h0M262.9 53.3h0M260.3 59.8h0M240.3 60.0h0M237.2 67.1h0M271.2 105.3h0M233.0 77.7h0" stroke="#28b028" stroke-width="1.6" stroke-linecap="round"/>
<path d="M284.8 83.2h0M240.5 94.2h0M289.7 52.7h0M267.2 60.1h0M268.0 90.0h0M252.7 80.4h0M268.4 68.2h0M287.5 84.8h0M264.8 80.0h0M270.1 85.9h0M264.9 88.6h0M255.7 67.5h0M245.2 90.9h0M268.5 94.3h0M242.2 91.7h0M268.3 94.2h0M264.9 38.9h0M280.4 54.3h0M239.7 68.1h0M269.3 104.7h0M247.0 68.9h0M232.7 102.0h0M265.1 78.3h0M240.8 72.3h0M260.4 63.4h0M246.6 47.1h0M247.2 51.9h0M259.2 87.6h0M266.0 90.2h0M265.2 95.6h0M241.5 67.7h0M235.6 71.2h0M263.7 64.9h0M260.1 57.4h0M271.4 89.9h0M257.1 89.5h0M268.6 65.4h0M270.9 96.0h0M259.5 71.5h0M269.5 77.5h0M233.2 65.6h0M262.1 60.6h0M251.2 90.8h0M258.5 54.5h0M240.7 47.3h0M244.3 51.3h0M262.3 89.4h0M234.4 103.2h0M239.4 71.9h0M253.2 80.2h0M256.7 68.6h0M247.6 68.3h0M270.4 107.4h0M264.1 91.4h0M269.0 69.8h0M234.9 79.2h0M241.5 69.1h0M236.2 80.6h0M264.5 88.2h0M267.8 56.0h0M238.4 89.6h0M242.8 96.3h0M263.9 78.8h0M237.5 54.6h0M235.5 104.6h0M235.2 54.2h0M250.8 64.4h0M237.0 69.7h0M241.0 73.6h0M266.2 62.4h0M238.3 83.1h0M238.7 77.1h0M246.5 84.7h0M269.5 56.1h0M237.7 90.3h0M270.3 46.8h0M274.8 60.8h0M251.0 81.7h0M272.3 87.3h0M283.9 105.6h0M261.5 83.2h0M280.3 100.1h0M265.7 94.3h0M245.1 81.9h0M247.7 74.8h0M270.5 94.3h0M244.0 94.0h0M267.6 103.7h0M237.8 82.2h0M250.6 89.3h0M252.4 49.6h0M254.3 55.0h0M255.6 60.0h0M262.6 83.9h0M262.9 53.3h0M260.3 59.8h0M240.3 60.0h0M237.2 67.1h0M271.2 105.3h0M233.0 77.7h0" stroke="#8cf88c" stroke-width="0.8" stroke-linecap="round"/>
<path d="M243.5 75.1h0M245.6 76.5h0M251.5 77.4h0M257.9 102.2h0M251.7 75.7h0M244.8 77.9h0M255.3 84.9h0M236.2 68.5h0M242.7 92.7h0M258.9 60.1h0M271.7 107.4h0M245.0 75.2h0M278.6 92.3h0M251.3 60.1h0M248.6 54.3h0M261.2 68.2h0M249.4 75.8h0M262.9 84.5h0M236.1 95.0h0M235.1 97.6h0M273.6 76.6h0M244.5 54.3h0M257.3 86.1h0M256.0 84.2h0M252.8 69.0h0M263.3 60.3h0M254.4 82.9h0M250.4 71.2h0M270.6 67.8h0M245.2 63.1h0M244.8 59.9h0M280.8 88.5h0M243.0 93.7h0M273.0 58.2h0M264.8 57.7h0M272.9 38.3h0M256.9 51.8h0M239.6 67.5h0M253.0 77.7h0M261.3 64.3h0M274.8 81.2h0M236.3 102.2h0M262.5 61.6h0M257.6 75.9h0M279.0 104.6h0M273.4 93.4h0M261.4 79.1h0M260.8 75.1h0M294.9 58.6h0M235.4 97.5h0M255.9 93.5h0M235.2 74.9h0M249.2 91.1h0M274.5 102.4h0M276.4 78.8h0M237.0 83.9h0M262.0 65.6h0M244.2 82.0h0M258.4 58.2h0M265.3 101.1h0M268.9 55.0h0M256.2 100.3h0M257.0 66.3h0M266.6 55.9h0M261.4 66.7h0M236.8 83.1h0M240.9 78.7h0M234.7 53.8h0M242.7 73.5h0M289.3 104.3h0M256.7 97.2h0M239.4 103.6h0M295.6 73.0h0M267.1 104.3h0M281.6 95.2h0M237.5 52.5h0M249.8 50.8h0M247.7 77.8h0M269.3 62.5h0M242.4 97.7h0M261.9 80.4h0M264.1 83.9h0M279.9 99.3h0M271.3 69.0h0M269.3 95.3h0M280.6 77.1h0M265.6 94.7h0M254.7 65.3h0M244.1 61.6h0M266.1 70.3h0M236.5 83.5h0M244.5 64.5h0M268.3 74.8h0M262.7 57.5h0M282.9 93.8h0M272.7 99.2h0M237.1 67.9h0M275.0 93.0h0M239.6 77.1h0M249.9 101.8h0" stroke="#28b028" stroke-width="1.6" stroke-linecap="round"/>
<path d="M243.5 75.1h0M245.6 76.5h0M251.5 77.4h0M257.9 102.2h0M251.7 75.7h0M244.8 77.9h0M255.3 84.9h0M236.2 68.5h0M242.7 92.7h0M258.9 60.1h0M271.7 107.4h0M245.0 75.2h0M278.6 92.3h0M251.3 60.1h0M248.6 54.3h0M261.2 68.2h0M249.4 75.8h0M262.9 84.5h0M236.1 95.0h0M235.1 97.6h0M273.6 76.6h0M244.5 54.3h0M257.3 86.1h0M256.0 84.2h0M252.8 69.0h0M263.3 60.3h0M254.4 82.9h0M250.4 71.2h0M270.6 67.8h0M245.2 63.1h0M244.8 59.9h0M280.8 88.5h0M243.0 93.7h0M273.0 58.2h0M264.8 57.7h0M272.9 38.3h0M256.9 51.8h0M239.6 67.5h0M253.0 77.7h0M261.3 64.3h0M274.8 81.2h0M236.3 102.2h0M262.5 61.6h0M257.6 75.9h0M279.0 104.6h0M273.4 93.4h0M261.4 79.1h0M260.8 75.1h0M294.9 58.6h0M235.4 97.5h0M255.9 93.5h0M235.2 74.9h0M249.2 91.1h0M274.5 102.4h0M276.4 78.8h0M237.0 83.9h0M262.0 65.6h0M244.2 82.0h0M258.4 58.2h0M265.3 101.1h0M268.9 55.0h0M256.2 100.3h0M257.0 66.3h0M266.6 55.9h0M261.4 66.7h0M236.8 83.1h0M240.9 78.7h0M234.7 53.8h0M242.7 73.5h0M289.3 104.3h0M256.7 97.2h0M239.4 103.6h0M295.6 73.0h0M267.1 104.3h0M281.6 95.2h0M237.5 52.5h0M249.8 50.8h0M247.7 77.8h0M269.3 62.5h0M242.4 97.7h0M261.9 80.4h0M264.1 83.9h0M279.9 99.3h0M271.3 69.0h0M269.3 95.3h0M280.6 77.1h0M265.6 94.7h0M254.7 65.3h0M244.1 61.6h0M266.1 70.3h0M236.5 83.5h0M244.5 64.5h0M268.3 74.8h0M262.7 57.5h0M282.9 93.8h0M272.7 99.2h0M237.1 67.9h0M275.0 93.0h0M239.6 77.1h0M249.9 101.8h0" stroke="#8cf88c" stroke-width="0.8" stroke-linecap="round"/>
<path d="M247.1 61.3h0M238.2 93.0h0M256.9 77.7h0M245.2 68.9h0M236.3 84.8h0M249.8 54.9h0M234.7 65.9h0M260.3 88.0h0M245.2 62.4h0M236.7 105.0h0M252.3 83.0h0M244.9 72.6h0M259.5 63.2h0M233.3 87.8h0M235.6 92.0h0M270.7 77.8h0M255.0 56.8h0M239.9 60.8h0M270.9 95.1h0M272.4 94.8h0M269.4 103.0h0M245.8 90.6h0M304.6 77.3h0M242.7 55.4h0M251.4 72.6h0M250.2 59.1h0M251.9 95.0h0M266.6 82.0h0M241.8 57.5h0M257.0 97.9h0M233.9 92.2h0M266.1 62.6h0M252.3 97.2h0M262.3 98.7h0M269.7 87.0h0M234.4 86.5h0M252.1 76.8h0M235.6 41.5h0M243.9 88.4h0M266.5 56.5h0M232.6 104.7h0M251.7 59.6h0M252.7 52.4h0M271.2 67.3h0M244.0 49.9h0M257.8 55.9h0M265.7 89.3h0M250.8 79.3h0M255.1 81.5h0M268.9 67.8h0M273.7 69.0h0M241.0 100.3h0M243.4 69.3h0M243.2 59.3h0M264.8 89.4h0M272.9 76.5h0M250.1 77.6h0M278.3 51.3h0M244.9 101.2h0M234.8 70.8h0M269.8 90.9h0M245.6 83.1h0M245.1 101.5h0M255.3 102.9h0M234.9 73.0h0M233.9 75.2h0M260.3 71.5h0M266.0 88.0h0M248.0 49.1h0M233.8 50.4h0M243.5 90.7h0M288.9 99.5h0M259.5 69.1h0M292.3 75.1h0M268.6 97.8h0M261.0 71.4h0M255.3 43.9h0M241.7 60.3h0M280.3 100.4h0M270.9 100.0h0M241.1 42.2h0M249.2 90.7h0M245.7 51.9h0M241.6 56.3h0M268.1 83.1h0M249.6 58.3h0M239.9 77.5h0M286.5 90.8h0M278.7 77.3h0M248.5 76.8h0M257.5 89.3h0M267.1 78.1h0M246.3 79.6h0M286.0 108.6h0M299.8 94.4h0M270.3 91.0h0M246.4 52.2h0M241.9 89.2h0M245.8 101.5h0M241.9 79.6h0" stroke="#28b028" stroke-width="1.6" stroke-linecap="round"/>
<path d="M247.1 61.3h0M238.2 93.0h0M256.9 77.7h0M245.2 68.9h0M236.3 84.8h0M249.8 54.9h0M234.7 65.9h0M260.3 88.0h0M245.2 62.4h0M236.7 105.0h0M252.3 83.0h0M244.9 72.6h0M259.5 63.2h0M233.3 87.8h0M235.6 92.0h0M270.7 77.8h0M255.0 56.8h0M239.9 60.8h0M270.9 95.1h0M272.4 94.8h0M269.4 103.0h0M245.8 90.6h0M304.6 77.3h0M242.7 55.4h0M251.4 72.6h0M250.2 59.1h0M251.9 95.0h0M266.6 82.0h0M241.8 57.5h0M257.0 97.9h0M233.9 92.2h0M266.1 62.6h0M252.3 97.2h0M262.3 98.7h0M269.7 87.0h0M234.4 86.5h0M252.1 76.8h0M235.6 41.5h0M243.9 88.4h0M266.5 56.5h0M232.6 104.7h0M251.7 59.6h0M252.7 52.4h0M271.2 67.3h0M244.0 49.9h0M257.8 55.9h0M265.7 89.3h0M250.8 79.3h0M255.1 81.5h0M268.9 67.8h0M273.7 69.0h0M241.0 100.3h0M243.4 69.3h0M243.2 59.3h0M264.8 89.4h0M272.9 76.5h0M250.1 77.6h0M278.3 51.3h0M244.9 101.2h0M234.8 70.8h0M269.8 90.9h0M245.6 83.1h0M245.1 101.5h0M255.3 102.9h0M234.9 73.0h0M233.9 75.2h0M260.3 71.5h0M266.0 88.0h0M248.0 49.1h0M233.8 50.4h0M243.5 90.7h0M288.9 99.5h0M259.5 69.1h0M292.3 75.1h0M268.6 97.8h0M261.0 71.4h0M255.3 43.9h0M241.7 60.3h0M280.3 100.4h0M270.9 100.0h0M241.1 42.2h0M249.2 90.7h0M245.7 51.9h0M241.6 56.3h0M268.1 83.1h0M249.6 58.3h0M239.9 77.5h0M286.5 90.8h0M278.7 77.3h0M248.5 76.8h0M257.5 89.3h0M267.1 78.1h0M246.3 79.6h0M286.0 108.6h0M299.8 94.4h0M270.3 91.0h0M246.4 52.2h0M241.9 89.2h0M245.8 101.5h0M241.9 79.6h0" stroke="#8cf88c" stroke-width="0.8" stroke-linecap="round"/>
<path d="M261.9 53.1h0M267.6 73.7h0M257.0 50.3h0M235.6 83.2h0M271.7 93.0h0M259.8 66.4h0M271.3 102.1h0M245.2 62.4h0M264.3 70.1h0M242.3 102.9h0M259.1 104.4h0M263.9 62.7h0M287.6 91.1h0M254.0 94.1h0M264.3 101.5h0M239.1 67.8h0M235.5 97.5h0M235.7 82.6h0M261.5 67.6h0M235.8 51.8h0M248.9 99.2h0M236.4 51.0h0M270.0 50.4h0M279.6 72.4h0M248.9 73.4h0M268.9 96.1h0M241.6 97.0h0M263.9 81.7h0M234.6 67.4h0M275.5 43.6h0M264.5 78.3h0M269.3 90.0h0M288.4 94.7h0M239.4 86.9h0M267.2 71.2h0M275.0 96.6h0M263.0 60.5h0M261.5 94.7h0M239.0 79.4h0M237.5 67.3h0M242.9 98.3h0M256.1 60.2h0M235.8 103.1h0M241.6 71.0h0M266.9 53.6h0M290.9 83.2h0M272.9 97.8h0M233.1 56.4h0M264.9 77.6h0M284.5 85.5h0M241.1 82.5h0M269.1 59.1h0M246.5 103.7h0M245.2 55.4h0M255.8 84.1h0M272.7 78.6h0M267.7 43.7h0M260.7 48.0h0M246.8 102.7h0M242.1 86.7h0M256.3 59.2h0M244.9 56.7h0M249.8 55.1h0M282.7 65.8h0M233.7 48.0h0M257.6 54.9h0M244.3 71.8h0M235.1 56.6h0M253.8 58.1h0M248.8 96.8h0M266.1 105.6h0M239.0 88.1h0M281.9 107.9h0M257.6 87.2h0M246.6 66.3h0M245.4 87.7h0M254.0 56.2h0M235.4 59.2h0M267.3 87.2h0M234.2 47.6h0M253.6 47.1h0M273.8 83.1h0M262.6 99.2h0M270.9 69.7h0M258.3 58.9h0M248.7 58.5h0M261.0 100.6h0M264.8 79.6h0M251.5 95.6h0M258.6 76.7h0M254.0 67.1h0M269.5 87.4h0M266.9 52.4h0M241.7 95.6h0M265.9 86.9h0M253.6 51.8h0M251.5 61.9h0M268.8 56.6h0M240.5 88.1h0M253.3 96.4h0" stroke="#28b028" stroke-width="1.6" stroke-linecap="round"/>
<path d="M261.9 53.1h0M267.6 73.7h0M257.0 50.3h0M235.6 83.2h0M271.7 93.0h0M259.8 66.4h0M271.3 102.1h0M245.2 62.4h0M264.3 70.1h0M242.3 102.9h0M259.1 104.4h0M263.9 62.7h0M287.6 91.1h0M254.0 94.1h0M264.3 101.5h0M239.1 67.8h0M235.5 97.5h0M235.7 82.6h0M261.5 67.6h0M235.8 51.8h0M248.9 99.2h0M236.4 51.0h0M270.0 50.4h0M279.6 72.4h0M248.9 73.4h0M268.9 96.1h0M241.6 97.0h0M263.9 81.7h0M234.6 67.4h0M275.5 43.6h0M264.5 78.3h0M269.3 90.0h0M288.4 94.7h0M239.4 86.9h0M267.2 71.2h0M275.0 96.6h0M263.0 60.5h0M261.5 94.7h0M239.0 79.4h0M237.5 67.3h0M242.9 98.3h0M256.1 60.2h0M235.8 103.1h0M241.6 71.0h0M266.9 53.6h0M290.9 83.2h0M272.9 97.8h0M233.1 56.4h0M264.9 77.6h0M284.5 85.5h0M241.1 82.5h0M269.1 59.1h0M246.5 103.7h0M245.2 55.4h0M255.8 84.1h0M272.7 78.6h0M267.7 43.7h0M260.7 48.0h0M246.8 102.7h0M242.1 86.7h0M256.3 59.2h0M244.9 56.7h0M249.8 55.1h0M282.7 65.8h0M233.7 48.0h0M257.6 54.9h0M244.3 71.8h0M235.1 56.6h0M253.8 58.1h0M248.8 96.8h0M266.1 105.6h0M239.0 88.1h0M281.9 107.9h0M257.6 87.2h0M246.6 66.3h0M245.4 87.7h0M254.0 56.2h0M235.4 59.2h0M267.3 87.2h0M234.2 47.6h0M253.6 47.1h0M273.8 83.1h0M262.6 99.2h0M270.9 69.7h0M258.3 58.9h0M248.7 58.5h0M261.0 100.6h0M264.8 79.6h0M251.5 95.6h0M258.6 76.7h0M254.0 67.1h0M269.5 87.4h0M266.9 52.4h0M241.7 95.6h0M265.9 86.9h0M253.6 51.8h0M251.5 61.9h0M268.8 56.6h0M240.5 88.1h0M253.3 96.4h0" stroke="#8cf88c" stroke-width="0.8" stroke-linecap="round"/>
<path d="M242.8 77.8h0M238.7 78.2h0M275.6 84.7h0M246.3 103.2h0M276.9 106.8h0M238.1 77.8h0M240.7 101.4h0M255.3 28.0h0M243.4 95.7h0M276.4 93.3h0M238.2 75.5h0M239.3 78.8h0M246.4 95.7h0M242.7 97.1h0M282.3 100.8h0M272.0 59.6h0M242.4 49.1h0M244.3 71.8h0M248.5 43.3h0M263.8 72.1h0M257.7 101.3h0M261.0 82.1h0M267.8 105.1h0M246.8 55.7h0M264.2 57.8h0M244.7 88.6h0M248.5 54.6h0M249.2 64.2h0M248.7 93.1h0M259.7 86.2h0M232.8 82.6h0M237.9 63.3h0M243.5 84.7h0M232.8 73.5h0M234.9 89.3h0M258.0 74.2h0M255.2 71.9h0M238.3 55.9h0M265.8 59.6h0M277.4 73.7h0M235.3 88.5h0M250.0 93.4h0M266.1 97.8h0M254.5 61.0h0M251.7 57.6h0M252.0 101.1h0M246.3 80.2h0M261.9 71.9h0M258.0 60.5h0M263.8 77.3h0M244.0 70.2h0M250.8 98.1h0M263.5 98.9h0M263.3 58.9h0M270.7 64.4h0M256.3 74.9h0M244.0 65.4h0M267.5 84.8h0M250.7 66.2h0M253.9 90.7h0M248.3 91.9h0M266.1 55.0h0M265.9 50.7h0M268.2 103.8h0M246.7 100.3h0M272.6 57.5h0M251.0 58.0h0M237.8 54.3h0M253.4 55.1h0M283.5 88.4h0M253.0 80.2h0M262.9 92.7h0M238.8 58.2h0M273.6 99.7h0M268.8 76.0h0M250.5 56.3h0M235.6 74.4h0M275.7 58.1h0M234.9 105.2h0M269.1 67.2h0M243.6 71.4h0M239.8 56.5h0M251.3 88.0h0M260.1 73.0h0M238.3 99.2h0M264.0 78.5h0M237.2 102.1h0M238.6 48.7h0M246.3 96.9h0M295.6 87.3h0M288.4 93.6h0M276.5 108.7h0M238.9 74.6h0M237.8 52.5h0M241.3 69.4h0M281.5 54.8h0M252.7 92.8h0M242.0 53.2h0M249.4 53.1h0M248.9 76.7h0" stroke="#28b028" stroke-width="1.6" stroke-linecap="round"/>
<path d="M242.8 77.8h0M238.7 78.2h0M275.6 84.7h0M246.3 103.2h0M276.9 106.8h0M238.1 77.8h0M240.7 101.4h0M255.3 28.0h0M243.4 95.7h0M276.4 93.3h0M238.2 75.5h0M239.3 78.8h0M246.4 95.7h0M242.7 97.1h0M282.3 100.8h0M272.0 59.6h0M242.4 49.1h0M244.3 71.8h0M248.5 43.3h0M263.8 72.1h0M257.7 101.3h0M261.0 82.1h0M267.8 105.1h0M246.8 55.7h0M264.2 57.8h0M244.7 88.6h0M248.5 54.6h0M249.2 64.2h0M248.7 93.1h0M259.7 86.2h0M232.8 82.6h0M237.9 63.3h0M243.5 84.7h0M232.8 73.5h0M234.9 89.3h0M258.0 74.2h0M255.2 71.9h0M238.3 55.9h0M265.8 59.6h0M277.4 73.7h0M235.3 88.5h0M250.0 93.4h0M266.1 97.8h0M254.5 61.0h0M251.7 57.6h0M252.0 101.1h0M246.3 80.2h0M261.9 71.9h0M258.0 60.5h0M263.8 77.3h0M244.0 70.2h0M250.8 98.1h0M263.5 98.9h0M263.3 58.9h0M270.7 64.4h0M256.3 74.9h0M244.0 65.4h0M267.5 84.8h0M250.7 66.2h0M253.9 90.7h0M248.3 91.9h0M266.1 55.0h0M265.9 50.7h0M268.2 103.8h0M246.7 100.3h0M272.6 57.5h0M251.0 58.0h0M237.8 54.3h0M253.4 55.1h0M283.5 88.4h0M253.0 80.2h0M262.9 92.7h0M238.8 58.2h0M273.6 99.7h0M268.8 76.0h0M250.5 56.3h0M235.6 74.4h0M275.7 58.1h0M234.9 105.2h0M269.1 67.2h0M243.6 71.4h0M239.8 56.5h0M251.3 88.0h0M260.1 73.0h0M238.3 99.2h0M264.0 78.5h0M237.2 102.1h0M238.6 48.7h0M246.3 96.9h0M295.6 87.3h0M288.4 93.6h0M276.5 108.7h0M238.9 74.6h0M237.8 52.5h0M241.3 69.4h0M281.5 54.8h0M252.7 92.8h0M242.0 53.2h0M249.4 53.1h0M248.9 76.7h0" stroke="#8cf88c" stroke-width="0.8" stroke-linecap="round"/>
<path d="M245.4 54.5h0M233.7 69.7h0M245.3 82.3h0M245.2 50.5h0M247.3 71.1h0M249.3 97.7h0M239.6 44.9h0M248.2 101.1h0M268.3 68.7h0M258.3 51.2h0M278.8 81.1h0M258.9 91.4h0M237.7 94.9h0M236.8 97.6h0M257.3 54.7h0M257.6 74.7h0M281.0 76.8h0M260.5 60.4h0M256.8 52.4h0M285.5 84.4h0M244.6 100.2h0M246.4 91.3h0M254.7 93.5h0M246.7 63.5h0M236.9 103.2h0M247.9 89.1h0M250.8 85.0h0M247.8 48.9h0M241.1 59.2h0M250.9 55.5h0M268.9 91.2h0M249.8 102.8h0M252.2 68.7h0M233.4 59.5h0M266.1 103.5h0M245.3 94.2h0M249.6 50.2h0M249.9 99.9h0M249.6 51.2h0M255.6 60.9h0M243.0 84.1h0M257.4 86.6h0M273.4 69.9h0M260.7 80.8h0M241.2 69.3h0M255.3 53.9h0M274.4 45.0h0M282.2 70.8h0M263.1 52.1h0M240.2 58.6h0M259.4 57.4h0M258.8 70.7h0M257.9 78.5h0M242.8 62.4h0M237.6 94.2h0M272.1 55.2h0M256.5 76.4h0M274.4 85.8h0M244.7 94.6h0M257.9 39.5h0M258.9 69.9h0M265.2 84.2h0M235.5 95.0h0M246.3 64.9h0M262.4 64.9h0M251.5 106.1h0M276.1 41.4h0M253.3 69.5h0M249.4 71.2h0M269.4 105.0h0M254.0 90.0h0M274.8 62.1h0M262.5 99.5h0M266.6 93.5h0M253.3 63.4h0M264.3 73.3h0M254.2 83.3h0M249.0 99.0h0M243.9 50.2h0M262.5 53.1h0M239.5 43.8h0M247.9 74.0h0M246.3 69.0h0M235.8 84.9h0M260.1 56.8h0M268.9 74.1h0M258.8 63.2h0M247.4 53.9h0M238.8 104.9h0M274.2 102.8h0M235.2 80.9h0M239.2 50.9h0M296.6 67.7h0M246.8 92.1h0M269.4 99.4h0M239.4 104.3h0M263.0 93.6h0M257.7 68.5h0M268.0 59.7h0M269.3 65.7h0" stroke="#28b028" stroke-width="1.6" stroke-linecap="round"/>
<path d="M245.4 54.5h0M233.7 69.7h0M245.3 82.3h0M245.2 50.5h0M247.3 71.1h0M249.3 97.7h0M239.6 44.9h0M248.2 101.1h0M268.3 68.7h0M258.3 51.2h0M278.8 81.1h0M258.9 91.4h0M237.7 94.9h0M236.8 97.6h0M257.3 54.7h0M257.6 74.7h0M281.0 76.8h0M260.5 60.4h0M256.8 52.4h0M285.5 84.4h0M244.6 100.2h0M246.4 91.3h0M254.7 93.5h0M246.7 63.5h0M236.9 103.2h0M247.9 89.1h0M250.8 85.0h0M247.8 48.9h0M241.1 59.2h0M250.9 55.5h0M268.9 91.2h0M249.8 102.8h0M252.2 68.7h0M233.4 59.5h0M266.1 103.5h0M245.3 94.2h0M249.6 50.2h0M249.9 99.9h0M249.6 51.2h0M255.6 60.9h0M243.0 84.1h0M257.4 86.6h0M273.4 69.9h0M260.7 80.8h0M241.2 69.3h0M255.3 53.9h0M274.4 45.0h0M282.2 70.8h0M263.1 52.1h0M240.2 58.6h0M259.4 57.4h0M258.8 70.7h0M257.9 78.5h0M242.8 62.4h0M237.6 94.2h0M272.1 55.2h0M256.5 76.4h0M274.4 85.8h0M244.7 94.6h0M257.9 39.5h0M258.9 69.9h0M265.2 84.2h0M235.5 95.0h0M246.3 64.9h0M262.4 64.9h0M251.5 106.1h0M276.1 41.4h0M253.3 69.5h0M249.4 71.2h0M269.4 105.0h0M254.0 90.0h0M274.8 62.1h0M262.5 99.5h0M266.6 93.5h0M253.3 63.4h0M264.3 73.3h0M254.2 83.3h0M249.0 99.0h0M243.9 50.2h0M262.5 53.1h0M239.5 43.8h0M247.9 74.0h0M246.3 69.0h0M235.8 84.9h0M260.1 56.8h0M268.9 74.1h0M258.8 63.2h0M247.4 53.9h0M238.8 104.9h0M274.2 102.8h0M235.2 80.9h0M239.2 50.9h0M296.6 67.7h0M246.8 92.1h0M269.4 99.4h0M239.4 104.3h0M263.0 93.6h0M257.7 68.5h0M268.0 59.7h0M269.3 65.7h0" stroke="#8cf88c" stroke-width="0.8" stroke-linecap="round"/>
<path d="M248.9 102.5h0M269.5 83.2h0M246.9 82.6h0M248.5 45.5h0M251.5 101.9h0M276.3 89.0h0M256.3 60.9h0M263.6 81.8h0M245.0 65.9h0M245.5 66.7h0M253.4 53.5h0M242.9 66.0h0M240.5 74.9h0M240.8 91.5h0M262.3 52.6h0M256.9 57.6h0M260.0 63.4h0M237.2 52.4h0M261.7 96.3h0M255.4 89.2h0M236.8 53.6h0M268.9 90.8h0M267.1 89.1h0M252.2 72.9h0M279.5 88.9h0M255.5 93.8h0M263.8 60.7h0M274.5 56.7h0M255.2 99.7h0M248.8 74.9h0M285.9 97.4h0M247.9 48.8h0M257.2 87.8h0M254.7 103.2h0M256.5 71.1h0M232.3 56.7h0M258.7 107.4h0M244.1 62.2h0M256.6 70.7h0M239.8 75.1h0M269.4 69.9h0M270.9 87.2h0M241.5 69.4h0M248.9 62.1h0M241.0 69.6h0M258.3 66.8h0M235.2 67.6h0M238.8 59.8h0M255.0 107.3h0M252.1 58.7h0M264.6 68.9h0M237.9 69.0h0M255.7 66.8h0M253.9 69.9h0M258.5 73.9h0M267.6 99.8h0M275.4 99.1h0M234.0 62.7h0M286.3 33.6h0M266.6 57.5h0M259.8 44.8h0M263.8 73.9h0M251.7 78.1h0M239.3 88.1h0M294.0 59.7h0M261.6 105.6h0M256.0 83.6h0M252.8 61.2h0M273.3 49.1h0M255.0 46.6h0M249.7 92.5h0M260.6 93.8h0M273.2 71.2h0M245.4 74.0h0M262.4 72.4h0M250.9 101.5h0M280.8 46.6h0M255.1 93.7h0M256.1 70.5h0M256.3 92.5h0M233.3 70.4h0M257.7 95.8h0M292.6 74.3h0M252.6 83.2h0M261.8 89.5h0M239.0 67.0h0M278.2 101.1h0M245.1 52.9h0M261.4 85.6h0M241.5 78.4h0M239.2 45.1h0M265.6 65.7h0M264.4 97.1h0M256.8 53.2h0M255.4 95.1h0M234.2 91.2h0M263.9 58.7h0M256.1 69.5h0M255.3 88.7h0M285.3 103.3h0" stroke="#28b028" stroke-width="1.6" stroke-linecap="round"/>
<path d="M248.9 102.5h0M269.5 83.2h0M246.9 82.6h0M248.5 45.5h0M251.5 101.9h0M276.3 89.0h0M256.3 60.9h0M263.6 81.8h0M245.0 65.9h0M245.5 66.7h0M253.4 53.5h0M242.9 66.0h0M240.5 74.9h0M240.8 91.5h0M262.3 52.6h0M256.9 57.6h0M260.0 63.4h0M237.2 52.4h0M261.7 96.3h0M255.4 89.2h0M236.8 53.6h0M268.9 90.8h0M267.1 89.1h0M252.2 72.9h0M279.5 88.9h0M255.5 93.8h0M263.8 60.7h0M274.5 56.7h0M255.2 99.7h0M248.8 74.9h0M285.9 97.4h0M247.9 48.8h0M257.2 87.8h0M254.7 103.2h0M256.5 71.1h0M232.3 56.7h0M258.7 107.4h0M244.1 62.2h0M256.6 70.7h0M239.8 75.1h0M269.4 69.9h0M270.9 87.2h0M241.5 69.4h0M248.9 62.1h0M241.0 69.6h0M258.3 66.8h0M235.2 67.6h0M238.8 59.8h0M255.0 107.3h0M252.1 58.7h0M264.6 68.9h0M237.9 69.0h0M255.7 66.8h0M253.9 69.9h0M258.5 73.9h0M267.6 99.8h0M275.4 99.1h0M234.0 62.7h0M286.3 33.6h0M266.6 57.5h0M259.8 44.8h0M263.8 73.9h0M251.7 78.1h0M239.3 88.1h0M294.0 59.7h0M261.6 105.6h0M256.0 83.6h0M252.8 61.2h0M273.3 49.1h0M255.0 46.6h0M249.7 92.5h0M260.6 93.8h0M273.2 71.2h0M245.4 74.0h0M262.4 72.4h0M250.9 101.5h0M280.8 46.6h0M255.1 93.7h0M256.1 70.5h0M256.3 92.5h0M233.3 70.4h0M257.7 95.8h0M292.6 74.3h0M252.6 83.2h0M261.8 89.5h0M239.0 67.0h0M278.2 101.1h0M245.1 52.9h0M261.4 85.6h0M241.5 78.4h0M239.2 45.1h0M265.6 65.7h0M264.4 97.1h0M256.8 53.2h0M255.4 95.1h0M234.2 91.2h0M263.9 58.7h0M256.1 69.5h0M255.3 88.7h0M285.3 103.3h0" stroke="#8cf88c" stroke-width="0.8" stroke-linecap="round"/>
<path d="M266.8 84.7h0M242.0 92.4h0M264.9 47.7h0M259.6 56.5h0M260.1 58.5h0M270.6 90.8h0M258.1 77.9h0M259.9 100.1h0M248.2 78.7h0M272.6 49.7h0M245.3 68.8h0M254.0 93.2h0M246.1 80.4h0M293.4 75.1h0M239.8 102.0h0M261.5 100.9h0M245.1 89.1h0M263.9 28.3h0M256.1 100.1h0M262.2 75.6h0M245.3 76.0h0M250.0 90.8h0M250.4 89.5h0M283.7 66.6h0M245.7 51.9h0M250.6 86.8h0M249.3 74.0h0M260.1 59.7h0M271.4 95.5h0M253.1 75.7h0M255.3 33.9h0M259.6 92.5h0M276.3 107.4h0M237.2 75.0h0M246.4 90.2h0M243.2 94.4h0M246.0 90.2h0M247.3 99.8h0M247.4 74.9h0M234.2 61.4h0M246.5 44.3h0M255.4 71.9h0M263.0 90.6h0M266.9 56.4h0M251.7 52.7h0M248.8 86.7h0M243.5 75.4h0M249.7 59.5h0M250.1 71.4h0M242.1 96.2h0M272.0 95.9h0M251.9 54.4h0M253.7 83.6h0M235.5 86.3h0M268.0 83.6h0M259.6 47.5h0M261.0 70.9h0M265.6 80.7h0M286.5 68.2h0M268.8 82.8h0M257.2 41.8h0M273.3 80.3h0M241.8 100.0h0M262.2 57.3h0M240.7 94.1h0M238.4 51.0h0M278.4 66.3h0M236.3 100.6h0M259.6 77.2h0M262.1 78.3h0M264.0 59.1h0M263.7 62.1h0M293.1 95.7h0M239.9 98.1h0M252.1 106.7h0M246.4 64.2h0M244.6 102.2h0M239.9 99.4h0M259.4 72.7h0M267.2 83.5h0M239.2 87.3h0M247.6 94.6h0M247.3 83.3h0M264.7 49.6h0M265.3 74.9h0M239.1 72.2h0M271.6 104.5h0M232.5 68.3h0M254.5 97.5h0M247.0 89.3h0M264.4 92.1h0M236.1 64.2h0M251.2 96.3h0M273.6 85.0h0M255.9 105.8h0M247.2 105.4h0M245.2 71.6h0M250.1 48.2h0M240.7 77.4h0M258.4 69.8h0" stroke="#28b028" stroke-width="1.6" stroke-linecap="round"/>
<path d="M266.8 84.7h0M242.0 92.4h0M264.9 47.7h0M259.6 56.5h0M260.1 58.5h0M270.6 90.8h0M258.1 77.9h0M259.9 100.1h0M248.2 78.7h0M272.6 49.7h0M245.3 68.8h0M254.0 93.2h0M246.1 80.4h0M293.4 75.1h0M239.8 102.0h0M261.5 100.9h0M245.1 89.1h0M263.9 28.3h0M256.1 100.1h0M262.2 75.6h0M245.3 76.0h0M250.0 90.8h0M250.4 89.5h0M283.7 66.6h0M245.7 51.9h0M250.6 86.8h0M249.3 74.0h0M260.1 59.7h0M271.4 95.5h0M253.1 75.7h0M255.3 33.9h0M259.6 92.5h0M276.3 107.4h0M237.2 75.0h0M246.4 90.2h0M243.2 94.4h0M246.0 90.2h0M247.3 99.8h0M247.4 74.9h0M234.2 61.4h0M246.5 44.3h0M255.4 71.9h0M263.0 90.6h0M266.9 56.4h0M251.7 52.7h0M248.8 86.7h0M243.5 75.4h0M249.7 59.5h0M250.1 71.4h0M242.1 96.2h0M272.0 95.9h0M251.9 54.4h0M253.7 83.6h0M235.5 86.3h0M268.0 83.6h0M259.6 47.5h0M261.0 70.9h0M265.6 80.7h0M286.5 68.2h0M268.8 82.8h0M257.2 41.8h0M273.3 80.3h0M241.8 100.0h0M262.2 57.3h0M240.7 94.1h0M238.4 51.0h0M278.4 66.3h0M236.3 100.6h0M259.6 77.2h0M262.1 78.3h0M264.0 59.1h0M263.7 62.1h0M293.1 95.7h0M239.9 98.1h0M252.1 106.7h0M246.4 64.2h0M244.6 102.2h0M239.9 99.4h0M259.4 72.7h0M267.2 83.5h0M239.2 87.3h0M247.6 94.6h0M247.3 83.3h0M264.7 49.6h0M265.3 74.9h0M239.1 72.2h0M271.6 104.5h0M232.5 68.3h0M254.5 97.5h0M247.0 89.3h0M264.4 92.1h0M236.1 64.2h0M251.2 96.3h0M273.6 85.0h0M255.9 105.8h0M247.2 105.4h0M245.2 71.6h0M250.1 48.2h0M240.7 77.4h0M258.4 69.8h0" stroke="#8cf88c" stroke-width="0.8" stroke-linecap="round"/>
<path d="M235.1 59.7h0M254.6 57.5h0M266.9 101.2h0M241.4 84.8h0M263.1 99.7h0M267.8 82.5h0M247.6 95.6h0M268.5 106.0h0M285.0 106.0h0M248.6 103.3h0M237.5 74.9h0M279.9 88.4h0M273.1 71.9h0M234.7 83.7h0M242.9 85.5h0M255.9 56.1h0M263.6 87.5h0M252.4 71.7h0M275.0 86.1h0M249.7 104.7h0M253.7 86.2h0M241.6 48.6h0M274.2 73.5h0M238.4 92.8h0M251.9 70.9h0M259.9 47.3h0M250.1 103.2h0M260.2 92.7h0M259.7 75.4h0M268.8 54.6h0M250.6 48.4h0M269.1 75.7h0M258.8 96.5h0M259.9 55.9h0M269.1 91.4h0M257.3 87.3h0M247.1 70.4h0M239.9 57.5h0M278.1 105.3h0M235.3 89.9h0M235.6 94.0h0M241.2 72.7h0M247.9 59.3h0M257.2 102.6h0M283.5 97.9h0M263.6 54.8h0M241.6 70.0h0M235.7 49.0h0M276.5 68.6h0M262.5 67.8h0M236.9 86.3h0M247.7 55.6h0M251.7 104.2h0M267.4 67.3h0M274.0 73.5h0M244.0 65.4h0M264.5 62.4h0M265.6 71.4h0M280.2 104.6h0M284.5 104.1h0M248.6 58.4h0M253.4 33.1h0M268.6 84.8h0M237.7 64.5h0M240.5 96.6h0M280.2 66.1h0M243.5 93.3h0M272.5 71.6h0M249.2 69.4h0M240.5 71.3h0M257.0 62.1h0M241.1 103.6h0M268.4 64.7h0M255.0 93.8h0M237.1 77.3h0M259.0 86.0h0M253.3 57.1h0M260.6 96.6h0M244.4 92.4h0M244.4 58.0h0M236.0 69.8h0M256.0 75.6h0M243.7 61.7h0M273.8 105.2h0M257.8 88.9h0M257.4 97.8h0M242.5 103.7h0M250.8 51.7h0M275.9 61.0h0M233.9 59.3h0M283.4 90.1h0M242.8 56.6h0M271.0 90.3h0M237.9 80.4h0M250.2 101.0h0M243.0 59.9h0M249.3 94.2h0M287.5 50.7h0M255.4 101.8h0M269.8 108.6h0" stroke="#28b028" stroke-width="1.6" stroke-linecap="round"/>
<path d="M235.1 59.7h0M254.6 57.5h0M266.9 101.2h0M241.4 84.8h0M263.1 99.7h0M267.8 82.5h0M247.6 95.6h0M268.5 106.0h0M285.0 106.0h0M248.6 103.3h0M237.5 74.9h0M279.9 88.4h0M273.1 71.9h0M234.7 83.7h0M242.9 85.5h0M255.9 56.1h0M263.6 87.5h0M252.4 71.7h0M275.0 86.1h0M249.7 104.7h0M253.7 86.2h0M241.6 48.6h0M274.2 73.5h0M238.4 92.8h0M251.9 70.9h0M259.9 47.3h0M250.1 103.2h0M260.2 92.7h0M259.7 75.4h0M268.8 54.6h0M250.6 48.4h0M269.1 75.7h0M258.8 96.5h0M259.9 55.9h0M269.1 91.4h0M257.3 87.3h0M247.1 70.4h0M239.9 57.5h0M278.1 105.3h0M235.3 89.9h0M235.6 94.0h0M241.2 72.7h0M247.9 59.3h0M257.2 102.6h0M283.5 97.9h0M263.6 54.8h0M241.6 70.0h0M235.7 49.0h0M276.5 68.6h0M262.5 67.8h0M236.9 86.3h0M247.7 55.6h0M251.7 104.2h0M267.4 67.3h0M274.0 73.5h0M244.0 65.4h0M264.5 62.4h0M265.6 71.4h0M280.2 104.6h0M284.5 104.1h0M248.6 58.4h0M253.4 33.1h0M268.6 84.8h0M237.7 64.5h0M240.5 96.6h0M280.2 66.1h0M243.5 93.3h0M272.5 71.6h0M249.2 69.4h0M240.5 71.3h0M257.0 62.1h0M241.1 103.6h0M268.4 64.7h0M255.0 93.8h0M237.1 77.3h0M259.0 86.0h0M253.3 57.1h0M260.6 96.6h0M244.4 92.4h0M244.4 58.0h0M236.0 69.8h0M256.0 75.6h0M243.7 61.7h0M273.8 105.2h0M257.8 88.9h0M257.4 97.8h0M242.5 103.7h0M250.8 51.7h0M275.9 61.0h0M233.9 59.3h0M283.4 90.1h0M242.8 56.6h0M271.0 90.3h0M237.9 80.4h0M250.2 101.0h0M243.0 59.9h0M249.3 94.2h0M287.5 50.7h0M255.4 101.8h0M269.8 108.6h0" stroke="#8cf88c" stroke-width="0.8" stroke-linecap="round"/>
<path d="M249.2 52.7h0M249.0 102.7h0M232.5 89.0h0M251.8 67.8h0M256.6 89.2h0M259.2 69.4h0M233.5 50.1h0M247.0 55.5h0M266.7 63.0h0M273.0 90.3h0M257.2 85.1h0M233.0 59.8h0M241.3 77.6h0M261.4 61.7h0M269.7 77.5h0M244.3 97.3h0M239.3 90.7h0M265.7 82.4h0M240.4 71.0h0M267.0 98.2h0M268.8 108.0h0M271.2 70.5h0M243.8 64.6h0M247.6 64.9h0M235.8 93.6h0M251.2 94.4h0M256.9 34.9h0M257.2 91.6h0M266.4 59.4h0M270.5 64.9h0M242.7 53.8h0M258.9 65.0h0M242.7 62.8h0M263.5 97.8h0M250.4 66.0h0M243.0 77.5h0M266.2 62.8h0M265.5 72.2h0M253.5 105.1h0M238.2 97.2h0M236.2 103.1h0M265.9 101.0h0M267.6 99.3h0M258.9 89.9h0M268.1 96.6h0M245.9 103.3h0M272.2 57.1h0M249.8 100.6h0M243.2 92.8h0M256.5 55.4h0M270.0 86.3h0M262.6 85.2h0M259.4 85.5h0M250.3 99.3h0M236.7 93.6h0M268.5 85.3h0M255.7 83.1h0M249.4 55.6h0M245.2 77.8h0M250.7 59.6h0M233.3 56.5h0M261.0 84.9h0M255.6 98.5h0M251.0 76.4h0M277.6 102.4h0M256.3 79.7h0M233.7 56.0h0M264.2 88.1h0M244.7 49.7h0M260.5 98.8h0M274.6 96.6h0M240.7 102.3h0M262.7 45.2h0M261.6 96.8h0M278.4 85.7h0M282.9 61.8h0M278.2 93.3h0M234.3 104.2h0M265.4 60.9h0M259.3 65.0h0M241.2 68.0h0M238.8 77.4h0M265.9 81.5h0M246.0 54.1h0M279.3 98.4h0M282.2 45.1h0M283.7 104.2h0M267.1 67.2h0M265.2 77.2h0M271.8 88.0h0M284.3 77.9h0M260.9 57.1h0M237.7 77.4h0M250.4 80.5h0M281.9 78.4h0M260.2 79.7h0M243.2 56.6h0M252.2 53.2h0M269.7 68.3h0M259.4 86.8h0" stroke="#28b028" stroke-width="1.6" stroke-linecap="round"/>
<path d="M249.2 52.7h0M249.0 102.7h0M232.5 89.0h0M251.8 67.8h0M256.6 89.2h0M259.2 69.4h0M233.5 50.1h0M247.0 55.5h0M266.7 63.0h0M273.0 90.3h0M257.2 85.1h0M233.0 59.8h0M241.3 77.6h0M261.4 61.7h0M269.7 77.5h0M244.3 97.3h0M239.3 90.7h0M265.7 82.4h0M240.4 71.0h0M267.0 98.2h0M268.8 108.0h0M271.2 70.5h0M243.8 64.6h0M247.6 64.9h0M235.8 93.6h0M251.2 94.4h0M256.9 34.9h0M257.2 91.6h0M266.4 59.4h0M270.5 64.9h0M242.7 53.8h0M258.9 65.0h0M242.7 62.8h0M263.5 97.8h0M250.4 66.0h0M243.0 77.5h0M266.2 62.8h0M265.5 72.2h0M253.5 105.1h0M238.2 97.2h0M236.2 103.1h0M265.9 101.0h0M267.6 99.3h0M258.9 89.9h0M268.1 96.6h0M245.9 103.3h0M272.2 57.1h0M249.8 100.6h0M243.2 92.8h0M256.5 55.4h0M270.0 86.3h0M262.6 85.2h0M259.4 85.5h0M250.3 99.3h0M236.7 93.6h0M268.5 85.3h0M255.7 83.1h0M249.4 55.6h0M245.2 77.8h0M250.7 59.6h0M233.3 56.5h0M261.0 84.9h0M255.6 98.5h0M251.0 76.4h0M277.6 102.4h0M256.3 79.7h0M233.7 56.0h0M264.2 88.1h0M244.7 49.7h0M260.5 98.8h0M274.6 96.6h0M240.7 102.3h0M262.7 45.2h0M261.6 96.8h0M278.4 85.7h0M282.9 61.8h0M278.2 93.3h0M234.3 104.2h0M265.4 60.9h0M259.3 65.0h0M241.2 68.0h0M238.8 77.4h0M265.9 81.5h0M246.0 54.1h0M279.3 98.4h0M282.2 45.1h0M283.7 104.2h0M267.1 67.2h0M265.2 77.2h0M271.8 88.0h0M284.3 77.9h0M260.9 57.1h0M237.7 77.4h0M250.4 80.5h0M281.9 78.4h0M260.2 79.7h0M243.2 56.6h0M252.2 53.2h0M269.7 68.3h0M259.4 86.8h0" stroke="#8cf88c" stroke-width="0.8" stroke-linecap="round"/>
<path d="M234.6 94.6h0M261.9 71.3h0M269.7 95.2h0M252.0 60.7h0M244.6 56.6h0M279.8 69.5h0M245.5 48.1h0M250.8 81.9h0M261.8 65.2h0M290.1 65.6h0M235.2 66.9h0M244.1 77.2h0M278.3 59.4h0M255.7 74.7h0M267.0 62.9h0M269.5 99.1h0M263.0 58.5h0M253.2 59.6h0M263.9 95.7h0M268.7 106.5h0M248.3 60.6h0M238.8 101.5h0M248.5 89.0h0M250.0 52.9h0M274.7 99.4h0M266.1 97.3h0M245.1 90.3h0M242.7 55.8h0M239.8 58.5h0M233.4 95.5h0M235.5 102.2h0M247.3 99.7h0M239.3 66.0h0M236.6 99.9h0M268.7 107.3h0M274.2 61.6h0M275.3 74.3h0M270.8 67.7h0M280.7 60.1h0M261.6 89.1h0M263.7 61.1h0M261.4 64.2h0M271.2 61.4h0M242.0 73.2h0M268.1 65.3h0M249.7 67.5h0M268.0 76.4h0M266.0 89.3h0M266.5 43.0h0M257.5 87.6h0M237.9 59.8h0M254.3 66.4h0M258.6 75.5h0M284.1 60.4h0M261.1 63.3h0M266.0 42.4h0M251.9 96.1h0M271.2 79.9h0M257.9 73.7h0M273.8 66.9h0M237.2 81.6h0M240.4 45.7h0M249.2 51.5h0M256.8 88.2h0M241.8 60.8h0M236.1 93.6h0M255.0 55.7h0M284.9 78.0h0M280.6 105.8h0M278.5 103.5h0M258.8 67.4h0M264.2 58.8h0M258.8 55.5h0M267.8 66.9h0M290.4 61.9h0M270.6 61.0h0M261.7 107.5h0M268.6 98.8h0M260.6 69.6h0M245.6 90.9h0M261.9 85.8h0M258.8 97.0h0M246.0 48.8h0M251.6 67.6h0M266.9 99.4h0M268.3 101.6h0M268.2 87.7h0M250.6 75.2h0M261.9 83.1h0M267.5 39.4h0M253.2 97.4h0M251.5 84.1h0M247.6 75.7h0M260.3 92.4h0M277.4 72.8h0M252.3 95.9h0M234.7 96.8h0M260.9 50.0h0M277.9 94.4h0M234.6 42.0h0" stroke="#28b028" stroke-width="1.6" stroke-linecap="round"/>
<path d="M234.6 94.6h0M261.9 71.3h0M269.7 95.2h0M252.0 60.7h0M244.6 56.6h0M279.8 69.5h0M245.5 48.1h0M250.8 81.9h0M261.8 65.2h0M290.1 65.6h0M235.2 66.9h0M244.1 77.2h0M278.3 59.4h0M255.7 74.7h0M267.0 62.9h0M269.5 99.1h0M263.0 58.5h0M253.2 59.6h0M263.9 95.7h0M268.7 106.5h0M248.3 60.6h0M238.8 101.5h0M248.5 89.0h0M250.0 52.9h0M274.7 99.4h0M266.1 97.3h0M245.1 90.3h0M242.7 55.8h0M239.8 58.5h0M233.4 95.5h0M235.5 102.2h0M247.3 99.7h0M239.3 66.0h0M236.6 99.9h0M268.7 107.3h0M274.2 61.6h0M275.3 74.3h0M270.8 67.7h0M280.7 60.1h0M261.6 89.1h0M263.7 61.1h0M261.4 64.2h0M271.2 61.4h0M242.0 73.2h0M268.1 65.3h0M249.7 67.5h0M268.0 76.4h0M266.0 89.3h0M266.5 43.0h0M257.5 87.6h0M237.9 59.8h0M254.3 66.4h0M258.6 75.5h0M284.1 60.4h0M261.1 63.3h0M266.0 42.4h0M251.9 96.1h0M271.2 79.9h0M257.9 73.7h0M273.8 66.9h0M237.2 81.6h0M240.4 45.7h0M249.2 51.5h0M256.8 88.2h0M241.8 60.8h0M236.1 93.6h0M255.0 55.7h0M284.9 78.0h0M280.6 105.8h0M278.5 103.5h0M258.8 67.4h0M264.2 58.8h0M258.8 55.5h0M267.8 66.9h0M290.4 61.9h0M270.6 61.0h0M261.7 107.5h0M268.6 98.8h0M260.6 69.6h0M245.6 90.9h0M261.9 85.8h0M258.8 97.0h0M246.0 48.8h0M251.6 67.6h0M266.9 99.4h0M268.3 101.6h0M268.2 87.7h0M250.6 75.2h0M261.9 83.1h0M267.5 39.4h0M253.2 97.4h0M251.5 84.1h0M247.6 75.7h0M260.3 92.4h0M277.4 72.8h0M252.3 95.9h0M234.7 96.8h0M260.9 50.0h0M277.9 94.4h0M234.6 42.0h0" stroke="#8cf88c" stroke-width="0.8" stroke-linecap="round"/>
<path d="M236.7 95.6h0M247.8 35.8h0M310.7 70.4h0M245.8 67.1h0M244.0 90.3h0M272.9 102.2h0M248.9 80.3h0M241.5 90.6h0M270.7 89.3h0M238.8 62.9h0M258.4 50.4h0M243.8 105.7h0M271.2 60.2h0M240.9 86.4h0M237.3 50.5h0M242.9 88.4h0M239.8 80.6h0M264.4 107.6h0M233.1 84.3h0M275.0 42.5h0M244.2 94.6h0M249.7 92.4h0M261.7 102.3h0M277.2 109.2h0M263.0 99.1h0M252.1 71.7h0M263.4 107.2h0M248.8 80.8h0M246.5 54.0h0M281.3 78.9h0M264.2 55.4h0M249.3 102.9h0M235.9 97.1h0M253.4 61.3h0M238.2 80.0h0M240.5 102.7h0M286.1 107.1h0M267.7 56.1h0M263.3 71.5h0M234.3 55.8h0M246.1 58.2h0M246.8 70.5h0M267.0 95.7h0M265.7 85.9h0M249.1 70.6h0M279.8 99.1h0M264.1 75.4h0M276.2 109.8h0M250.0 56.5h0M265.2 70.7h0M253.2 83.9h0M252.9 99.4h0M244.9 83.4h0M240.0 39.7h0M241.4 83.0h0M265.2 30.7h0M249.8 100.0h0M250.6 44.2h0M281.6 81.8h0M273.0 105.3h0M240.3 102.0h0M255.2 90.6h0M263.8 68.0h0M251.9 87.3h0M239.7 100.9h0M244.5 43.8h0M278.9 72.3h0M278.9 109.6h0M245.5 92.8h0M240.5 43.4h0M286.6 101.0h0M266.7 76.1h0M266.5 82.7h0M239.7 56.9h0M271.9 73.2h0M266.9 59.3h0M259.7 89.6h0M235.5 99.1h0M245.4 39.9h0M270.7 85.9h0M237.0 88.6h0M256.8 40.7h0M267.7 71.0h0M266.1 93.3h0M263.3 90.7h0M274.9 102.5h0M237.9 41.8h0M281.3 82.3h0M259.6 56.3h0M251.3 63.6h0M242.3 75.3h0M261.6 78.4h0M279.3 86.9h0M269.8 94.8h0M265.7 54.5h0M268.7 74.5h0M251.0 101.9h0M257.1 101.8h0M259.8 75.1h0M295.0 66.1h0" stroke="#28b028" stroke-width="1.6" stroke-linecap="round"/>
<path d="M236.7 95.6h0M247.8 35.8h0M310.7 70.4h0M245.8 67.1h0M244.0 90.3h0M272.9 102.2h0M248.9 80.3h0M241.5 90.6h0M270.7 89.3h0M238.8 62.9h0M258.4 50.4h0M243.8 105.7h0M271.2 60.2h0M240.9 86.4h0M237.3 50.5h0M242.9 88.4h0M239.8 80.6h0M264.4 107.6h0M233.1 84.3h0M275.0 42.5h0M244.2 94.6h0M249.7 92.4h0M261.7 102.3h0M277.2 109.2h0M263.0 99.1h0M252.1 71.7h0M263.4 107.2h0M248.8 80.8h0M246.5 54.0h0M281.3 78.9h0M264.2 55.4h0M249.3 102.9h0M235.9 97.1h0M253.4 61.3h0M238.2 80.0h0M240.5 102.7h0M286.1 107.1h0M267.7 56.1h0M263.3 71.5h0M234.3 55.8h0M246.1 58.2h0M246.8 70.5h0M267.0 95.7h0M265.7 85.9h0M249.1 70.6h0M279.8 99.1h0M264.1 75.4h0M276.2 109.8h0M250.0 56.5h0M265.2 70.7h0M253.2 83.9h0M252.9 99.4h0M244.9 83.4h0M240.0 39.7h0M241.4 83.0h0M265.2 30.7h0M249.8 100.0h0M250.6 44.2h0M281.6 81.8h0M273.0 105.3h0M240.3 102.0h0M255.2 90.6h0M263.8 68.0h0M251.9 87.3h0M239.7 100.9h0M244.5 43.8h0M278.9 72.3h0M278.9 109.6h0M245.5 92.8h0M240.5 43.4h0M286.6 101.0h0M266.7 76.1h0M266.5 82.7h0M239.7 56.9h0M271.9 73.2h0M266.9 59.3h0M259.7 89.6h0M235.5 99.1h0M245.4 39.9h0M270.7 85.9h0M237.0 88.6h0M256.8 40.7h0M267.7 71.0h0M266.1 93.3h0M263.3 90.7h0M274.9 102.5h0M237.9 41.8h0M281.3 82.3h0M259.6 56.3h0M251.3 63.6h0M242.3 75.3h0M261.6 78.4h0M279.3 86.9h0M269.8 94.8h0M265.7 54.5h0M268.7 74.5h0M251.0 101.9h0M257.1 101.8h0M259.8 75.1h0M295.0 66.1h0" stroke="#8cf88c" stroke-width="0.8" stroke-linecap="round"/>
<path d="M266.0 83.1h0M233.4 52.7h0M241.9 62.8h0M263.8 93.1h0M264.9 98.0h0M235.3 97.7h0M255.1 56.3h0M232.4 74.6h0M259.2 89.5h0M266.3 101.7h0M260.6 79.3h0M240.1 61.0h0M255.8 98.4h0M259.5 94.6h0M232.3 79.9h0M260.7 82.3h0M255.2 43.7h0M239.5 68.9h0M253.6 58.1h0M267.9 105.7h0M257.8 84.3h0M243.2 60.2h0M245.8 69.2h0M249.6 66.9h0M249.4 88.8h0M279.7 93.2h0M251.7 64.3h0M267.5 87.8h0M290.1 80.5h0M261.7 51.2h0M257.3 74.2h0M283.2 71.3h0M307.1 89.9h0M258.6 102.5h0M248.3 77.0h0M242.2 59.1h0M268.8 81.5h0M236.4 101.7h0M238.5 94.9h0M244.0 71.3h0M255.7 94.3h0M268.3 104.4h0M242.2 67.2h0M278.6 74.6h0M271.9 95.1h0M232.9 80.6h0M237.9 64.4h0M256.5 48.3h0M239.6 71.1h0M254.0 80.5h0M263.8 72.5h0M278.5 104.3h0M254.0 83.1h0M243.1 92.0h0M260.6 57.2h0M249.4 103.2h0M238.7 51.8h0M286.0 74.9h0M236.6 53.9h0M242.9 78.3h0M262.8 92.2h0M250.2 63.3h0M258.2 96.4h0M259.4 52.1h0M250.6 90.0h0M250.0 104.7h0M237.9 58.1h0M236.3 87.4h0M243.0 69.1h0M235.5 78.9h0M244.1 64.2h0M241.1 66.7h0M254.8 48.9h0M260.8 72.1h0M280.3 93.6h0M280.5 92.5h0M271.7 103.6h0M279.4 103.6h0M253.3 94.2h0M232.9 66.0h0M250.7 105.5h0M269.1 56.5h0M259.0 99.4h0M242.7 86.2h0M261.1 57.2h0M238.2 69.0h0M263.0 56.3h0M253.3 90.3h0M234.8 51.4h0M257.9 96.0h0M245.1 73.2h0M279.6 72.3h0M266.8 67.2h0M242.3 67.0h0M272.6 98.0h0M251.1 103.8h0M289.9 50.3h0M260.6 103.7h0M258.7 40.3h0M236.7 88.1h0" stroke="#28b028" stroke-width="1.6" stroke-linecap="round"/>
<path d="M266.0 83.1h0M233.4 52.7h0M241.9 62.8h0M263.8 93.1h0M264.9 98.0h0M235.3 97.7h0M255.1 56.3h0M232.4 74.6h0M259.2 89.5h0M266.3 101.7h0M260.6 79.3h0M240.1 61.0h0M255.8 98.4h0M259.5 94.6h0M232.3 79.9h0M260.7 82.3h0M255.2 43.7h0M239.5 68.9h0M253.6 58.1h0M267.9 105.7h0M257.8 84.3h0M243.2 60.2h0M245.8 69.2h0M249.6 66.9h0M249.4 88.8h0M279.7 93.2h0M251.7 64.3h0M267.5 87.8h0M290.1 80.5h0M261.7 51.2h0M257.3 74.2h0M283.2 71.3h0M307.1 89.9h0M258.6 102.5h0M248.3 77.0h0M242.2 59.1h0M268.8 81.5h0M236.4 101.7h0M238.5 94.9h0M244.0 71.3h0M255.7 94.3h0M268.3 104.4h0M242.2 67.2h0M278.6 74.6h0M271.9 95.1h0M232.9 80.6h0M237.9 64.4h0M256.5 48.3h0M239.6 71.1h0M254.0 80.5h0M263.8 72.5h0M278.5 104.3h0M254.0 83.1h0M243.1 92.0h0M260.6 57.2h0M249.4 103.2h0M238.7 51.8h0M286.0 74.9h0M236.6 53.9h0M242.9 78.3h0M262.8 92.2h0M250.2 63.3h0M258.2 96.4h0M259.4 52.1h0M250.6 90.0h0M250.0 104.7h0M237.9 58.1h0M236.3 87.4h0M243.0 69.1h0M235.5 78.9h0M244.1 64.2h0M241.1 66.7h0M254.8 48.9h0M260.8 72.1h0M280.3 93.6h0M280.5 92.5h0M271.7 103.6h0M279.4 103.6h0M253.3 94.2h0M232.9 66.0h0M250.7 105.5h0M269.1 56.5h0M259.0 99.4h0M242.7 86.2h0M261.1 57.2h0M238.2 69.0h0M263.0 56.3h0M253.3 90.3h0M234.8 51.4h0M257.9 96.0h0M245.1 73.2h0M279.6 72.3h0M266.8 67.2h0M242.3 67.0h0M272.6 98.0h0M251.1 103.8h0M289.9 50.3h0M260.6 103.7h0M258.7 40.3h0M236.7 88.1h0" stroke="#8cf88c" stroke-width="0.8" stroke-linecap="round"/>
<path d="M266.8 79.1h0M239.5 54.9h0M254.1 45.2h0M279.4 90.7h0M242.2 85.1h0M255.3 68.8h0M248.1 97.3h0M261.8 72.5h0M243.2 100.8h0M241.6 94.0h0M255.8 44.1h0M238.7 104.3h0M258.4 99.0h0M256.2 55.5h0M269.0 93.3h0M257.0 96.6h0M253.8 78.5h0M260.8 50.3h0M239.0 75.2h0M249.1 65.8h0M271.6 77.7h0M278.0 66.5h0M268.3 88.6h0M242.3 82.3h0M264.1 52.0h0M242.2 78.4h0M281.3 86.4h0M274.5 69.5h0M249.7 102.9h0M240.1 87.3h0M263.4 73.1h0M259.3 87.8h0M269.7 50.5h0M274.6 96.3h0M258.1 49.2h0M240.5 89.2h0M270.8 97.1h0M247.7 89.9h0M281.0 96.7h0M265.7 102.4h0M260.2 60.2h0M258.8 90.9h0M241.7 75.3h0M250.5 79.4h0M268.1 99.3h0M259.9 88.1h0M282.1 67.0h0M260.2 85.3h0M273.1 78.6h0M243.0 41.3h0M259.0 95.4h0M300.6 94.3h0M253.3 96.5h0M247.9 100.4h0M251.9 80.0h0M257.9 86.8h0M242.4 40.8h0M255.4 54.8h0M249.7 55.4h0M248.5 62.3h0M237.1 75.9h0M239.1 82.3h0M268.5 77.5h0M236.3 82.7h0M255.6 59.9h0M240.0 62.6h0M248.1 70.8h0M254.4 66.1h0M248.1 103.1h0M255.3 50.2h0M259.8 52.7h0M239.4 78.3h0M295.1 96.3h0M241.7 54.6h0M261.6 78.8h0M255.3 86.2h0M266.7 92.8h0M251.3 80.3h0M236.9 99.5h0M268.7 94.0h0M251.7 90.2h0M273.8 100.2h0M240.7 103.0h0M259.2 63.2h0M236.2 81.7h0M237.4 65.8h0M280.9 91.8h0M240.2 58.4h0M252.9 107.2h0M247.5 52.3h0M238.3 58.2h0M257.7 99.1h0M258.5 48.3h0M236.4 93.8h0M234.0 81.0h0M254.5 52.9h0M278.4 69.2h0M265.5 99.1h0M254.2 39.1h0M267.8 83.6h0" stroke="#28b028" stroke-width="1.6" stroke-linecap="round"/>
<path d="M266.8 79.1h0M239.5 54.9h0M254.1 45.2h0M279.4 90.7h0M242.2 85.1h0M255.3 68.8h0M248.1 97.3h0M261.8 72.5h0M243.2 100.8h0M241.6 94.0h0M255.8 44.1h0M238.7 104.3h0M258.4 99.0h0M256.2 55.5h0M269.0 93.3h0M257.0 96.6h0M253.8 78.5h0M260.8 50.3h0M239.0 75.2h0M249.1 65.8h0M271.6 77.7h0M278.0 66.5h0M268.3 88.6h0M242.3 82.3h0M264.1 52.0h0M242.2 78.4h0M281.3 86.4h0M274.5 69.5h0M249.7 102.9h0M240.1 87.3h0M263.4 73.1h0M259.3 87.8h0M269.7 50.5h0M274.6 96.3h0M258.1 49.2h0M240.5 89.2h0M270.8 97.1h0M247.7 89.9h0M281.0 96.7h0M265.7 102.4h0M260.2 60.2h0M258.8 90.9h0M241.7 75.3h0M250.5 79.4h0M268.1 99.3h0M259.9 88.1h0M282.1 67.0h0M260.2 85.3h0M273.1 78.6h0M243.0 41.3h0M259.0 95.4h0M300.6 94.3h0M253.3 96.5h0M247.9 100.4h0M251.9 80.0h0M257.9 86.8h0M242.4 40.8h0M255.4 54.8h0M249.7 55.4h0M248.5 62.3h0M237.1 75.9h0M239.1 82.3h0M268.5 77.5h0M236.3 82.7h0M255.6 59.9h0M240.0 62.6h0M248.1 70.8h0M254.4 66.1h0M248.1 103.1h0M255.3 50.2h0M259.8 52.7h0M239.4 78.3h0M295.1 96.3h0M241.7 54.6h0M261.6 78.8h0M255.3 86.2h0M266.7 92.8h0M251.3 80.3h0M236.9 99.5h0M268.7 94.0h0M251.7 90.2h0M273.8 100.2h0M240.7 103.0h0M259.2 63.2h0M236.2 81.7h0M237.4 65.8h0M280.9 91.8h0M240.2 58.4h0M252.9 107.2h0M247.5 52.3h0M238.3 58.2h0M257.7 99.1h0M258.5 48.3h0M236.4 93.8h0M234.0 81.0h0M254.5 52.9h0M278.4 69.2h0M265.5 99.1h0M254.2 39.1h0M267.8 83.6h0" stroke="#8cf88c" stroke-width="0.8" stroke-linecap="round"/>
<path d="M271.8 87.6h0M289.3 78.7h0M270.3 86.5h0M249.9 74.0h0M248.8 59.9h0M241.3 92.0h0M264.3 93.0h0M258.9 63.1h0M251.7 86.9h0M259.7 66.5h0M283.8 95.3h0M239.8 86.0h0M246.1 66.9h0M275.0 59.3h0M254.5 99.3h0M243.5 67.9h0M246.7 89.4h0M264.1 66.5h0M283.1 71.7h0M262.1 56.5h0M246.7 104.2h0M247.6 42.0h0M249.5 70.2h0M271.5 89.7h0M238.7 103.1h0M248.7 70.2h0M239.9 99.9h0M262.5 106.8h0M299.4 82.0h0M254.9 101.0h0M235.5 52.1h0M268.3 82.3h0M245.8 83.1h0M248.0 105.0h0M264.8 75.7h0M257.4 65.7h0M255.5 55.2h0M234.7 71.1h0M255.7 103.4h0M258.9 62.7h0M271.1 67.6h0M237.5 75.6h0M264.6 91.2h0M265.2 105.9h0M244.8 78.1h0M233.9 68.9h0M276.4 81.5h0M261.5 60.1h0M248.1 85.6h0M243.0 83.9h0M259.3 65.0h0M263.0 70.8h0M240.1 85.2h0M264.6 91.3h0M261.5 103.0h0M248.4 100.7h0M260.2 57.0h0M252.3 51.4h0M238.6 63.8h0M262.7 57.0h0M233.8 77.2h0M290.9 86.7h0M241.3 73.8h0M286.1 94.9h0M236.7 85.5h0M242.9 76.6h0M240.0 75.1h0M235.0 44.6h0M264.5 90.4h0M271.6 95.1h0M239.1 55.0h0M251.1 61.0h0M275.0 101.3h0M254.0 48.0h0M234.8 63.0h0M244.2 93.6h0M267.0 88.3h0M260.0 100.0h0M271.0 91.1h0M261.6 86.3h0M238.2 97.7h0M251.0 57.6h0M249.8 72.1h0M240.4 79.0h0M236.5 94.2h0M239.3 66.2h0M242.8 67.1h0M238.1 59.7h0M281.5 105.7h0M285.8 63.0h0M258.5 90.3h0M265.2 72.2h0M244.7 56.9h0M292.0 95.6h0M240.5 87.4h0M272.2 62.0h0M243.6 58.4h0M251.2 56.8h0M263.6 61.2h0M257.2 82.2h0" stroke="#28b028" stroke-width="1.6" stroke-linecap="round"/>
<path d="M271.8 87.6h0M289.3 78.7h0M270.3 86.5h0M249.9 74.0h0M248.8 59.9h0M241.3 92.0h0M264.3 93.0h0M258.9 63.1h0M251.7 86.9h0M259.7 66.5h0M283.8 95.3h0M239.8 86.0h0M246.1 66.9h0M275.0 59.3h0M254.5 99.3h0M243.5 67.9h0M246.7 89.4h0M264.1 66.5h0M283.1 71.7h0M262.1 56.5h0M246.7 104.2h0M247.6 42.0h0M249.5 70.2h0M271.5 89.7h0M238.7 103.1h0M248.7 70.2h0M239.9 99.9h0M262.5 106.8h0M299.4 82.0h0M254.9 101.0h0M235.5 52.1h0M268.3 82.3h0M245.8 83.1h0M248.0 105.0h0M264.8 75.7h0M257.4 65.7h0M255.5 55.2h0M234.7 71.1h0M255.7 103.4h0M258.9 62.7h0M271.1 67.6h0M237.5 75.6h0M264.6 91.2h0M265.2 105.9h0M244.8 78.1h0M233.9 68.9h0M276.4 81.5h0M261.5 60.1h0M248.1 85.6h0M243.0 83.9h0M259.3 65.0h0M263.0 70.8h0M240.1 85.2h0M264.6 91.3h0M261.5 103.0h0M248.4 100.7h0M260.2 57.0h0M252.3 51.4h0M238.6 63.8h0M262.7 57.0h0M233.8 77.2h0M290.9 86.7h0M241.3 73.8h0M286.1 94.9h0M236.7 85.5h0M242.9 76.6h0M240.0 75.1h0M235.0 44.6h0M264.5 90.4h0M271.6 95.1h0M239.1 55.0h0M251.1 61.0h0M275.0 101.3h0M254.0 48.0h0M234.8 63.0h0M244.2 93.6h0M267.0 88.3h0M260.0 100.0h0M271.0 91.1h0M261.6 86.3h0M238.2 97.7h0M251.0 57.6h0M249.8 72.1h0M240.4 79.0h0M236.5 94.2h0M239.3 66.2h0M242.8 67.1h0M238.1 59.7h0M281.5 105.7h0M285.8 63.0h0M258.5 90.3h0M265.2 72.2h0M244.7 56.9h0M292.0 95.6h0M240.5 87.4h0M272.2 62.0h0M243.6 58.4h0M251.2 56.8h0M263.6 61.2h0M257.2 82.2h0" stroke="#8cf88c" stroke-width="0.8" stroke-linecap="round"/>
<path d="M264.3 54.9h0M244.7 101.4h0M279.3 105.7h0M240.2 77.2h0M244.1 67.3h0M261.1 50.1h0M261.9 64.9h0M257.7 56.6h0M242.9 87.8h0M245.7 92.1h0M257.0 87.3h0M247.3 43.9h0M251.0 99.0h0M272.4 88.5h0M271.9 90.4h0M238.2 47.4h0M263.2 94.7h0M280.8 86.1h0M261.4 83.3h0M285.8 91.1h0M254.2 69.7h0M245.6 99.6h0M236.6 88.7h0M259.1 82.6h0M276.1 85.9h0M267.5 78.9h0M268.2 64.2h0M261.6 89.2h0M292.0 96.1h0M271.4 81.2h0M252.3 50.2h0M249.4 37.2h0M263.2 88.0h0M269.4 74.9h0M269.7 80.4h0M247.7 73.4h0M278.0 78.7h0M247.7 56.2h0M253.2 62.6h0M243.0 97.8h0M270.7 81.1h0M243.4 99.9h0M245.2 92.3h0M253.3 89.5h0M240.4 53.3h0M285.8 43.3h0M255.4 49.4h0M251.0 106.9h0M244.4 102.4h0M272.9 92.3h0M271.0 85.1h0M243.2 81.0h0M234.9 91.1h0M286.6 71.6h0M237.7 57.3h0M276.4 60.6h0M269.8 79.3h0M281.9 92.0h0M243.0 71.1h0M277.6 71.7h0M256.6 58.7h0M247.4 60.4h0M251.2 83.9h0M252.0 54.2h0M264.2 64.9h0M270.9 56.7h0M243.0 81.0h0M273.0 47.7h0M249.2 102.4h0M249.1 53.8h0M237.7 91.4h0M254.0 64.1h0M255.9 59.1h0M287.9 63.4h0M247.0 91.9h0M284.9 104.7h0M242.1 97.7h0M271.0 89.7h0M235.8 72.9h0M266.1 80.3h0M259.3 71.4h0M264.3 96.6h0M262.0 58.0h0M254.1 54.2h0M267.0 60.8h0M243.0 98.5h0M234.7 79.9h0M248.3 90.3h0M273.5 91.5h0M233.8 75.8h0M284.4 85.5h0M257.2 62.7h0M268.6 100.0h0M267.2 66.7h0M265.0 68.8h0M277.7 81.0h0M273.5 31.9h0M259.5 48.4h0M263.2 56.0h0M258.5 52.2h0" stroke="#28b028" stroke-width="1.6" stroke-linecap="round"/>
<path d="M264.3 54.9h0M244.7 101.4h0M279.3 105.7h0M240.2 77.2h0M244.1 67.3h0M261.1 50.1h0M261.9 64.9h0M257.7 56.6h0M242.9 87.8h0M245.7 92.1h0M257.0 87.3h0M247.3 43.9h0M251.0 99.0h0M272.4 88.5h0M271.9 90.4h0M238.2 47.4h0M263.2 94.7h0M280.8 86.1h0M261.4 83.3h0M285.8 91.1h0M254.2 69.7h0M245.6 99.6h0M236.6 88.7h0M259.1 82.6h0M276.1 85.9h0M267.5 78.9h0M268.2 64.2h0M261.6 89.2h0M292.0 96.1h0M271.4 81.2h0M252.3 50.2h0M249.4 37.2h0M263.2 88.0h0M269.4 74.9h0M269.7 80.4h0M247.7 73.4h0M278.0 78.7h0M247.7 56.2h0M253.2 62.6h0M243.0 97.8h0M270.7 81.1h0M243.4 99.9h0M245.2 92.3h0M253.3 89.5h0M240.4 53.3h0M285.8 43.3h0M255.4 49.4h0M251.0 106.9h0M244.4 102.4h0M272.9 92.3h0M271.0 85.1h0M243.2 81.0h0M234.9 91.1h0M286.6 71.6h0M237.7 57.3h0M276.4 60.6h0M269.8 79.3h0M281.9 92.0h0M243.0 71.1h0M277.6 71.7h0M256.6 58.7h0M247.4 60.4h0M251.2 83.9h0M252.0 54.2h0M264.2 64.9h0M270.9 56.7h0M243.0 81.0h0M273.0 47.7h0M249.2 102.4h0M249.1 53.8h0M237.7 91.4h0M254.0 64.1h0M255.9 59.1h0M287.9 63.4h0M247.0 91.9h0M284.9 104.7h0M242.1 97.7h0M271.0 89.7h0M235.8 72.9h0M266.1 80.3h0M259.3 71.4h0M264.3 96.6h0M262.0 58.0h0M254.1 54.2h0M267.0 60.8h0M243.0 98.5h0M234.7 79.9h0M248.3 90.3h0M273.5 91.5h0M233.8 75.8h0M284.4 85.5h0M257.2 62.7h0M268.6 100.0h0M267.2 66.7h0M265.0 68.8h0M277.7 81.0h0M273.5 31.9h0M259.5 48.4h0M263.2 56.0h0M258.5 52.2h0" stroke="#8cf88c" stroke-width="0.8" stroke-linecap="round"/>
<path d="M245.5 84.8h0M236.5 54.5h0M243.8 58.5h0M260.1 93.1h0M265.0 49.6h0M255.0 50.3h0M253.7 94.5h0M286.9 49.0h0M258.8 97.7h0M251.8 97.5h0M233.9 83.6h0M241.6 99.5h0M232.6 82.3h0M249.6 88.2h0M251.6 75.6h0M271.5 39.5h0M241.1 98.3h0M251.7 51.3h0M265.5 62.4h0M252.2 60.0h0M240.0 86.0h0M284.2 58.7h0M263.5 86.3h0M271.2 76.2h0M267.1 56.0h0M246.1 90.9h0M238.0 90.1h0M271.2 66.6h0M251.8 66.6h0M244.2 64.1h0M234.2 83.2h0M257.0 50.7h0M235.6 85.7h0M261.8 80.9h0M251.4 52.4h0M269.2 75.6h0M285.5 100.5h0M265.3 82.2h0M261.6 85.6h0M253.8 83.7h0M242.4 55.8h0M236.3 91.1h0M264.6 72.8h0M272.3 70.3h0M272.4 97.3h0M233.2 59.9h0M280.1 96.4h0M261.3 88.4h0M264.7 60.1h0M242.2 74.0h0M252.4 100.6h0M245.1 77.4h0M245.4 102.0h0M274.7 94.7h0M248.2 45.3h0M234.8 52.5h0M251.8 53.5h0M242.1 60.1h0M257.3 56.6h0M256.0 101.2h0M267.9 75.8h0M264.1 79.2h0M235.7 62.4h0M242.8 90.5h0M237.8 66.1h0M246.7 74.9h0M249.1 71.6h0M257.8 80.4h0M272.6 98.3h0M268.6 82.6h0M246.6 67.9h0M269.6 90.0h0M257.3 67.1h0M248.9 74.8h0M253.3 70.1h0M256.0 58.9h0M261.0 53.8h0M238.1 59.7h0M266.4 82.5h0M271.0 84.7h0M239.3 53.2h0M256.4 62.8h0M239.2 80.3h0M255.1 65.7h0M264.4 82.7h0M270.7 63.4h0M246.3 57.3h0M258.0 55.5h0M255.4 64.9h0M244.0 69.3h0M244.0 93.6h0M250.1 74.6h0M237.2 94.0h0M270.6 66.8h0M262.3 53.5h0M270.8 70.2h0M255.2 64.9h0M233.6 78.2h0M275.1 99.1h0M236.4 85.6h0" stroke="#28b028" stroke-width="1.6" stroke-linecap="round"/>
<path d="M245.5 84.8h0M236.5 54.5h0M243.8 58.5h0M260.1 93.1h0M265.0 49.6h0M255.0 50.3h0M253.7 94.5h0M286.9 49.0h0M258.8 97.7h0M251.8 97.5h0M233.9 83.6h0M241.6 99.5h0M232.6 82.3h0M249.6 88.2h0M251.6 75.6h0M271.5 39.5h0M241.1 98.3h0M251.7 51.3h0M265.5 62.4h0M252.2 60.0h0M240.0 86.0h0M284.2 58.7h0M263.5 86.3h0M271.2 76.2h0M267.1 56.0h0M246.1 90.9h0M238.0 90.1h0M271.2 66.6h0M251.8 66.6h0M244.2 64.1h0M234.2 83.2h0M257.0 50.7h0M235.6 85.7h0M261.8 80.9h0M251.4 52.4h0M269.2 75.6h0M285.5 100.5h0M265.3 82.2h0M261.6 85.6h0M253.8 83.7h0M242.4 55.8h0M236.3 91.1h0M264.6 72.8h0M272.3 70.3h0M272.4 97.3h0M233.2 59.9h0M280.1 96.4h0M261.3 88.4h0M264.7 60.1h0M242.2 74.0h0M252.4 100.6h0M245.1 77.4h0M245.4 102.0h0M274.7 94.7h0M248.2 45.3h0M234.8 52.5h0M251.8 53.5h0M242.1 60.1h0M257.3 56.6h0M256.0 101.2h0M267.9 75.8h0M264.1 79.2h0M235.7 62.4h0M242.8 90.5h0M237.8 66.1h0M246.7 74.9h0M249.1 71.6h0M257.8 80.4h0M272.6 98.3h0M268.6 82.6h0M246.6 67.9h0M269.6 90.0h0M257.3 67.1h0M248.9 74.8h0M253.3 70.1h0M256.0 58.9h0M261.0 53.8h0M238.1 59.7h0M266.4 82.5h0M271.0 84.7h0M239.3 53.2h0M256.4 62.8h0M239.2 80.3h0M255.1 65.7h0M264.4 82.7h0M270.7 63.4h0M246.3 57.3h0M258.0 55.5h0M255.4 64.9h0M244.0 69.3h0M244.0 93.6h0M250.1 74.6h0M237.2 94.0h0M270.6 66.8h0M262.3 53.5h0M270.8 70.2h0M255.2 64.9h0M233.6 78.2h0M275.1 99.1h0M236.4 85.6h0" stroke="#8cf88c" stroke-width="0.8" stroke-linecap="round"/>
<path d="M256.8 73.9h0M234.8 65.3h0M254.7 87.4h0M242.8 61.9h0M242.1 99.3h0M249.2 52.1h0M242.1 75.7h0M280.8 103.1h0M238.7 59.1h0M276.2 88.3h0M256.1 73.1h0M264.8 95.9h0M253.1 61.9h0M239.3 86.1h0M259.6 105.7h0M262.6 84.4h0M239.5 84.1h0M245.6 86.2h0M240.6 99.3h0M260.8 70.2h0M248.8 57.3h0M241.4 77.6h0M244.8 80.8h0M264.7 89.1h0M254.0 78.9h0M249.3 90.7h0M234.4 55.9h0M275.4 103.5h0M236.1 96.4h0M272.2 55.3h0M234.0 102.3h0M245.3 85.8h0M257.5 104.4h0M271.9 96.0h0M252.7 70.3h0M262.1 71.8h0M276.2 90.6h0M252.3 80.0h0M245.0 97.9h0M246.3 38.7h0M258.8 59.8h0M266.4 89.4h0M274.4 80.4h0M273.8 95.5h0M250.0 90.0h0M239.2 60.9h0M254.2 50.7h0M253.9 97.0h0M235.9 57.2h0M247.1 87.0h0M259.7 88.4h0M250.4 98.8h0M256.7 63.4h0M249.9 61.4h0M257.1 62.7h0M243.8 54.5h0M233.7 100.5h0M260.7 71.9h0M237.7 63.1h0M255.6 100.1h0M244.1 98.3h0M285.5 52.8h0M262.8 84.8h0M271.1 58.3h0M246.8 83.9h0M281.8 62.0h0M238.9 86.2h0M285.3 105.5h0M253.3 89.1h0M240.6 93.8h0M232.3 88.4h0M257.9 90.4h0M248.6 76.2h0M239.8 83.8h0M268.4 93.2h0M246.9 83.4h0M237.4 91.4h0M270.0 73.6h0M271.9 78.3h0M240.4 84.5h0M256.6 55.6h0M234.2 101.5h0M262.6 52.2h0M244.5 49.0h0M270.2 97.0h0M263.7 98.0h0M252.9 44.7h0M238.5 57.2h0M283.6 89.0h0M243.6 97.3h0M233.7 86.9h0M270.4 102.9h0M268.0 63.3h0M252.6 74.6h0M247.8 86.0h0M249.2 104.1h0M256.1 58.3h0M263.5 91.6h0M240.2 82.2h0M239.5 77.9h0" stroke="#28b028" stroke-width="1.6" stroke-linecap="round"/>
<path d="M256.8 73.9h0M234.8 65.3h0M254.7 87.4h0M242.8 61.9h0M242.1 99.3h0M249.2 52.1h0M242.1 75.7h0M280.8 103.1h0M238.7 59.1h0M276.2 88.3h0M256.1 73.1h0M264.8 95.9h0M253.1 61.9h0M239.3 86.1h0M259.6 105.7h0M262.6 84.4h0M239.5 84.1h0M245.6 86.2h0M240.6 99.3h0M260.8 70.2h0M248.8 57.3h0M241.4 77.6h0M244.8 80.8h0M264.7 89.1h0M254.0 78.9h0M249.3 90.7h0M234.4 55.9h0M275.4 103.5h0M236.1 96.4h0M272.2 55.3h0M234.0 102.3h0M245.3 85.8h0M257.5 104.4h0M271.9 96.0h0M252.7 70.3h0M262.1 71.8h0M276.2 90.6h0M252.3 80.0h0M245.0 97.9h0M246.3 38.7h0M258.8 59.8h0M266.4 89.4h0M274.4 80.4h0M273.8 95.5h0M250.0 90.0h0M239.2 60.9h0M254.2 50.7h0M253.9 97.0h0M235.9 57.2h0M247.1 87.0h0M259.7 88.4h0M250.4 98.8h0M256.7 63.4h0M249.9 61.4h0M257.1 62.7h0M243.8 54.5h0M233.7 100.5h0M260.7 71.9h0M237.7 63.1h0M255.6 100.1h0M244.1 98.3h0M285.5 52.8h0M262.8 84.8h0M271.1 58.3h0M246.8 83.9h0M281.8 62.0h0M238.9 86.2h0M285.3 105.5h0M253.3 89.1h0M240.6 93.8h0M232.3 88.4h0M257.9 90.4h0M248.6 76.2h0M239.8 83.8h0M268.4 93.2h0M246.9 83.4h0M237.4 91.4h0M270.0 73.6h0M271.9 78.3h0M240.4 84.5h0M256.6 55.6h0M234.2 101.5h0M262.6 52.2h0M244.5 49.0h0M270.2 97.0h0M263.7 98.0h0M252.9 44.7h0M238.5 57.2h0M283.6 89.0h0M243.6 97.3h0M233.7 86.9h0M270.4 102.9h0M268.0 63.3h0M252.6 74.6h0M247.8 86.0h0M249.2 104.1h0M256.1 58.3h0M263.5 91.6h0M240.2 82.2h0M239.5 77.9h0" stroke="#8cf88c" stroke-width="0.8" stroke-linecap="round"/>
<path d="M283.5 50.9h0M239.1 70.9h0M248.9 55.1h0M235.6 82.6h0M235.7 75.1h0M274.4 98.3h0M258.6 52.0h0M255.8 84.6h0M246.9 46.5h0M235.7 52.6h0M263.3 84.4h0M273.5 59.2h0M270.3 59.0h0M238.3 39.8h0M267.7 86.9h0M236.5 100.2h0M242.3 67.9h0M240.4 91.5h0M245.3 90.6h0M242.0 101.2h0M237.1 75.6h0M246.2 52.9h0M253.5 70.5h0M272.9 32.3h0M232.7 84.5h0M238.4 102.7h0M241.6 55.7h0M256.7 82.5h0M272.2 89.3h0M263.2 64.4h0M274.1 66.1h0M269.4 57.9h0M270.9 66.2h0M249.8 56.8h0M265.5 95.5h0M240.6 98.5h0M244.0 99.0h0M288.1 73.9h0M283.7 104.2h0M270.8 99.0h0M267.0 60.6h0M247.2 88.0h0M256.2 74.2h0M261.0 87.5h0M266.5 86.8h0M240.0 49.9h0M253.1 95.6h0M235.0 52.2h0M264.9 96.7h0M256.9 90.5h0M250.5 80.9h0M255.3 79.9h0M244.9 92.2h0M248.8 99.9h0M272.1 69.3h0M247.8 72.4h0M259.5 83.9h0M275.9 98.4h0M242.9 51.7h0M251.0 60.0h0M284.0 96.8h0M264.8 95.8h0M271.6 67.6h0M274.7 108.0h0M246.6 78.7h0M255.2 101.9h0M238.8 54.9h0M266.9 104.7h0M238.8 80.3h0M255.7 77.8h0M238.0 101.4h0M267.8 95.0h0M244.7 74.6h0M250.8 89.6h0M244.7 104.5h0M239.4 81.8h0M264.8 78.0h0M253.9 96.5h0M277.0 88.8h0M272.7 91.9h0M252.8 92.6h0M244.0 40.0h0M259.1 101.8h0M263.2 71.7h0M247.0 87.7h0M290.4 64.2h0M236.3 98.3h0M234.9 68.5h0M245.4 63.5h0M263.9 71.1h0M264.4 78.7h0M238.7 60.9h0M270.3 66.0h0M241.0 102.3h0M249.1 84.7h0M234.1 65.6h0M257.2 69.4h0M262.5 93.7h0M277.4 104.8h0M242.5 55.9h0" stroke="#28b028" stroke-width="1.6" stroke-linecap="round"/>
<path d="M283.5 50.9h0M239.1 70.9h0M248.9 55.1h0M235.6 82.6h0M235.7 75.1h0M274.4 98.3h0M258.6 52.0h0M255.8 84.6h0M246.9 46.5h0M235.7 52.6h0M263.3 84.4h0M273.5 59.2h0M270.3 59.0h0M238.3 39.8h0M267.7 86.9h0M236.5 100.2h0M242.3 67.9h0M240.4 91.5h0M245.3 90.6h0M242.0 101.2h0M237.1 75.6h0M246.2 52.9h0M253.5 70.5h0M272.9 32.3h0M232.7 84.5h0M238.4 102.7h0M241.6 55.7h0M256.7 82.5h0M272.2 89.3h0M263.2 64.4h0M274.1 66.1h0M269.4 57.9h0M270.9 66.2h0M249.8 56.8h0M265.5 95.5h0M240.6 98.5h0M244.0 99.0h0M288.1 73.9h0M283.7 104.2h0M270.8 99.0h0M267.0 60.6h0M247.2 88.0h0M256.2 74.2h0M261.0 87.5h0M266.5 86.8h0M240.0 49.9h0M253.1 95.6h0M235.0 52.2h0M264.9 96.7h0M256.9 90.5h0M250.5 80.9h0M255.3 79.9h0M244.9 92.2h0M248.8 99.9h0M272.1 69.3h0M247.8 72.4h0M259.5 83.9h0M275.9 98.4h0M242.9 51.7h0M251.0 60.0h0M284.0 96.8h0M264.8 95.8h0M271.6 67.6h0M274.7 108.0h0M246.6 78.7h0M255.2 101.9h0M238.8 54.9h0M266.9 104.7h0M238.8 80.3h0M255.7 77.8h0M238.0 101.4h0M267.8 95.0h0M244.7 74.6h0M250.8 89.6h0M244.7 104.5h0M239.4 81.8h0M264.8 78.0h0M253.9 96.5h0M277.0 88.8h0M272.7 91.9h0M252.8 92.6h0M244.0 40.0h0M259.1 101.8h0M263.2 71.7h0M247.0 87.7h0M290.4 64.2h0M236.3 98.3h0M234.9 68.5h0M245.4 63.5h0M263.9 71.1h0M264.4 78.7h0M238.7 60.9h0M270.3 66.0h0M241.0 102.3h0M249.1 84.7h0M234.1 65.6h0M257.2 69.4h0M262.5 93.7h0M277.4 104.8h0M242.5 55.9h0" stroke="#8cf88c" stroke-width="0.8" stroke-linecap="round"/>
<path d="M273.9 77.4h0M248.3 93.2h0M265.2 89.6h0M239.8 89.5h0M237.5 76.1h0M264.6 47.4h0M284.2 50.6h0M280.1 54.0h0M292.4 68.4h0M262.4 77.9h0M245.0 64.0h0M258.1 66.7h0M263.4 75.0h0M294.5 101.2h0M265.8 71.4h0M264.5 65.9h0M248.2 76.8h0M248.0 63.6h0M275.9 87.2h0M255.8 75.7h0M256.6 99.1h0M265.4 88.2h0M263.4 101.7h0M244.8 94.6h0M283.2 105.4h0M254.1 79.1h0M250.7 59.7h0M247.6 63.0h0M271.3 104.0h0M249.1 69.5h0M248.3 95.9h0M262.7 75.2h0M243.6 79.1h0M237.6 86.8h0M267.8 100.9h0M245.9 102.7h0M262.1 55.8h0M265.5 61.5h0M272.7 77.4h0M255.7 77.1h0M277.8 103.8h0M290.3 36.9h0M251.4 70.4h0M285.4 95.5h0M273.6 98.7h0M274.0 106.0h0M268.5 105.9h0M277.1 82.4h0M275.3 48.9h0M234.4 66.4h0M247.9 64.6h0M259.2 84.1h0M249.6 97.4h0M265.3 76.8h0M244.2 75.4h0M245.3 61.7h0M264.9 82.6h0M262.4 101.6h0M243.6 98.6h0M240.4 73.6h0M266.3 75.9h0M247.2 83.7h0M238.2 85.5h0M245.1 95.7h0M250.4 65.2h0M267.6 83.1h0M277.7 66.7h0M267.9 84.8h0M242.6 95.3h0M264.0 99.9h0M280.3 82.2h0M243.3 101.5h0M234.9 75.7h0M260.6 77.7h0M237.6 55.5h0M263.8 106.7h0M271.0 104.0h0M282.6 77.8h0M234.7 62.7h0M255.0 81.3h0M265.3 83.1h0M265.2 94.2h0M247.5 84.5h0M237.9 79.4h0M276.7 44.0h0M260.5 99.5h0M274.0 101.8h0M237.8 63.8h0M258.4 91.2h0M265.7 85.0h0M268.8 99.4h0M254.6 73.4h0M252.4 88.5h0M255.7 101.8h0M265.2 65.0h0M268.1 80.0h0M252.5 64.3h0M255.9 92.2h0M277.4 89.0h0M261.9 100.0h0" stroke="#28b028" stroke-width="1.6" stroke-linecap="round"/>
<path d="M273.9 77.4h0M248.3 93.2h0M265.2 89.6h0M239.8 89.5h0M237.5 76.1h0M264.6 47.4h0M284.2 50.6h0M280.1 54.0h0M292.4 68.4h0M262.4 77.9h0M245.0 64.0h0M258.1 66.7h0M263.4 75.0h0M294.5 101.2h0M265.8 71.4h0M264.5 65.9h0M248.2 76.8h0M248.0 63.6h0M275.9 87.2h0M255.8 75.7h0M256.6 99.1h0M265.4 88.2h0M263.4 101.7h0M244.8 94.6h0M283.2 105.4h0M254.1 79.1h0M250.7 59.7h0M247.6 63.0h0M271.3 104.0h0M249.1 69.5h0M248.3 95.9h0M262.7 75.2h0M243.6 79.1h0M237.6 86.8h0M267.8 100.9h0M245.9 102.7h0M262.1 55.8h0M265.5 61.5h0M272.7 77.4h0M255.7 77.1h0M277.8 103.8h0M290.3 36.9h0M251.4 70.4h0M285.4 95.5h0M273.6 98.7h0M274.0 106.0h0M268.5 105.9h0M277.1 82.4h0M275.3 48.9h0M234.4 66.4h0M247.9 64.6h0M259.2 84.1h0M249.6 97.4h0M265.3 76.8h0M244.2 75.4h0M245.3 61.7h0M264.9 82.6h0M262.4 101.6h0M243.6 98.6h0M240.4 73.6h0M266.3 75.9h0M247.2 83.7h0M238.2 85.5h0M245.1 95.7h0M250.4 65.2h0M267.6 83.1h0M277.7 66.7h0M267.9 84.8h0M242.6 95.3h0M264.0 99.9h0M280.3 82.2h0M243.3 101.5h0M234.9 75.7h0M260.6 77.7h0M237.6 55.5h0M263.8 106.7h0M271.0 104.0h0M282.6 77.8h0M234.7 62.7h0M255.0 81.3h0M265.3 83.1h0M265.2 94.2h0M247.5 84.5h0M237.9 79.4h0M276.7 44.0h0M260.5 99.5h0M274.0 101.8h0M237.8 63.8h0M258.4 91.2h0M265.7 85.0h0M268.8 99.4h0M254.6 73.4h0M252.4 88.5h0M255.7 101.8h0M265.2 65.0h0M268.1 80.0h0M252.5 64.3h0M255.9 92.2h0M277.4 89.0h0M261.9 100.0h0" stroke="#8cf88c" stroke-width="0.8" stroke-linecap="round"/>
<path d="M281.4 95.8h0M284.0 63.7h0M232.5 92.0h0M288.4 98.3h0M265.6 73.9h0M270.0 103.7h0M253.4 80.9h0M266.5 28.8h0M257.7 72.4h0M268.0 98.5h0M272.7 97.5h0M241.5 99.8h0M271.2 99.4h0M246.0 99.3h0M244.2 94.1h0M256.0 73.4h0M251.4 98.9h0M263.9 50.2h0M247.0 87.9h0M261.2 73.5h0M259.7 69.2h0M236.2 75.4h0M269.4 101.2h0M236.4 86.8h0M250.2 57.6h0M276.4 88.0h0M246.6 66.7h0M252.2 97.7h0M264.5 78.5h0M251.1 66.6h0M247.8 58.3h0M252.5 100.2h0M249.4 90.1h0M282.1 85.3h0M239.6 94.1h0M281.9 101.7h0M272.2 62.9h0M270.2 97.8h0M261.5 103.4h0M261.7 91.5h0M247.0 66.0h0M264.5 59.6h0M238.7 55.9h0M255.1 68.3h0M280.8 104.3h0M255.0 63.4h0M242.8 87.4h0M253.8 99.0h0M245.7 73.7h0M263.8 97.5h0M270.3 47.3h0M258.1 67.2h0M271.5 54.0h0M240.9 49.0h0M251.6 53.9h0M250.4 86.2h0M260.5 86.5h0M253.0 100.8h0M293.3 87.0h0M250.4 104.6h0M249.3 102.7h0M282.4 75.3h0M258.2 60.8h0M268.5 67.5h0M261.3 84.9h0M244.9 81.2h0M267.9 64.9h0M267.3 73.0h0M234.1 79.7h0M269.1 65.3h0M254.6 100.1h0M262.6 105.6h0M257.8 48.7h0M251.1 96.2h0M276.5 106.3h0M244.1 78.1h0M271.0 84.4h0M276.4 67.4h0M249.8 58.5h0M264.5 93.4h0M262.4 85.5h0M271.5 73.9h0M274.4 91.9h0M238.4 60.0h0M253.3 59.3h0M268.6 90.2h0M276.1 92.4h0M258.1 98.7h0M243.8 58.7h0M268.1 103.5h0M257.0 53.8h0M287.5 101.6h0M240.6 67.6h0M300.9 38.7h0M274.6 99.3h0M267.4 86.8h0M260.0 89.3h0M283.3 63.6h0M261.0 74.0h0M239.1 94.8h0" stroke="#28b028" stroke-width="1.6" stroke-linecap="round"/>
<path d="M281.4 95.8h0M284.0 63.7h0M232.5 92.0h0M288.4 98.3h0M265.6 73.9h0M270.0 103.7h0M253.4 80.9h0M266.5 28.8h0M257.7 72.4h0M268.0 98.5h0M272.7 97.5h0M241.5 99.8h0M271.2 99.4h0M246.0 99.3h0M244.2 94.1h0M256.0 73.4h0M251.4 98.9h0M263.9 50.2h0M247.0 87.9h0M261.2 73.5h0M259.7 69.2h0M236.2 75.4h0M269.4 101.2h0M236.4 86.8h0M250.2 57.6h0M276.4 88.0h0M246.6 66.7h0M252.2 97.7h0M264.5 78.5h0M251.1 66.6h0M247.8 58.3h0M252.5 100.2h0M249.4 90.1h0M282.1 85.3h0M239.6 94.1h0M281.9 101.7h0M272.2 62.9h0M270.2 97.8h0M261.5 103.4h0M261.7 91.5h0M247.0 66.0h0M264.5 59.6h0M238.7 55.9h0M255.1 68.3h0M280.8 104.3h0M255.0 63.4h0M242.8 87.4h0M253.8 99.0h0M245.7 73.7h0M263.8 97.5h0M270.3 47.3h0M258.1 67.2h0M271.5 54.0h0M240.9 49.0h0M251.6 53.9h0M250.4 86.2h0M260.5 86.5h0M253.0 100.8h0M293.3 87.0h0M250.4 104.6h0M249.3 102.7h0M282.4 75.3h0M258.2 60.8h0M268.5 67.5h0M261.3 84.9h0M244.9 81.2h0M267.9 64.9h0M267.3 73.0h0M234.1 79.7h0M269.1 65.3h0M254.6 100.1h0M262.6 105.6h0M257.8 48.7h0M251.1 96.2h0M276.5 106.3h0M244.1 78.1h0M271.0 84.4h0M276.4 67.4h0M249.8 58.5h0M264.5 93.4h0M262.4 85.5h0M271.5 73.9h0M274.4 91.9h0M238.4 60.0h0M253.3 59.3h0M268.6 90.2h0M276.1 92.4h0M258.1 98.7h0M243.8 58.7h0M268.1 103.5h0M257.0 53.8h0M287.5 101.6h0M240.6 67.6h0M300.9 38.7h0M274.6 99.3h0M267.4 86.8h0M260.0 89.3h0M283.3 63.6h0M261.0 74.0h0M239.1 94.8h0" stroke="#8cf88c" stroke-width="0.8" stroke-linecap="round"/>
<path d="M270.2 82.2h0M243.8 62.8h0M252.0 53.0h0M246.2 53.2h0M272.6 98.8h0M248.2 106.4h0M256.0 85.1h0M234.4 73.2h0M286.3 90.7h0M266.7 36.4h0M267.2 92.2h0M263.6 85.2h0M241.7 95.3h0M264.3 56.0h0M262.3 104.7h0M275.1 94.6h0M234.8 78.0h0M265.1 56.4h0M274.0 88.5h0M283.3 55.7h0M276.8 74.3h0M250.7 58.2h0M233.5 70.3h0M261.5 52.4h0M247.4 96.5h0M236.7 58.5h0M238.1 102.4h0M242.1 98.8h0M265.9 105.2h0M246.1 95.0h0M234.6 51.8h0M234.0 66.4h0M241.5 80.5h0M255.9 63.2h0M271.4 95.0h0M233.5 69.7h0M245.5 66.3h0M257.1 99.2h0M257.6 94.6h0M268.4 88.0h0M232.3 83.9h0M255.6 85.0h0M271.5 66.3h0M246.4 83.4h0M239.8 92.2h0M248.6 76.8h0M240.2 88.6h0M239.9 98.7h0M267.9 52.9h0M252.6 99.4h0M234.3 55.7h0M241.7 68.1h0M263.7 49.7h0M253.5 54.4h0M273.7 84.0h0M272.3 88.4h0M240.0 61.6h0M254.4 97.6h0M241.1 62.8h0M254.1 49.9h0M252.5 71.9h0M232.6 85.1h0M250.7 52.5h0M272.6 99.5h0M271.0 93.9h0M270.7 105.3h0M277.9 90.9h0M248.4 61.5h0M244.2 48.4h0M251.2 53.7h0M262.2 72.6h0M272.1 90.7h0M243.4 41.2h0M237.9 88.7h0M251.0 61.0h0M243.0 65.3h0M253.1 87.2h0M233.6 95.3h0M231.4 59.9h0M282.5 97.1h0M233.3 96.9h0M261.1 89.9h0M249.1 85.9h0M255.5 65.9h0M241.6 53.5h0M240.6 73.7h0M247.7 47.8h0M240.7 83.7h0M235.6 103.7h0M251.0 90.9h0M264.4 73.5h0M262.9 78.7h0M273.1 82.3h0M250.5 77.5h0M257.5 90.1h0M259.9 54.5h0M270.8 75.5h0M236.6 91.4h0M261.9 99.9h0M265.8 86.1h0" stroke="#28b028" stroke-width="1.6" stroke-linecap="round"/>
<path d="M270.2 82.2h0M243.8 62.8h0M252.0 53.0h0M246.2 53.2h0M272.6 98.8h0M248.2 106.4h0M256.0 85.1h0M234.4 73.2h0M286.3 90.7h0M266.7 36.4h0M267.2 92.2h0M263.6 85.2h0M241.7 95.3h0M264.3 56.0h0M262.3 104.7h0M275.1 94.6h0M234.8 78.0h0M265.1 56.4h0M274.0 88.5h0M283.3 55.7h0M276.8 74.3h0M250.7 58.2h0M233.5 70.3h0M261.5 52.4h0M247.4 96.5h0M236.7 58.5h0M238.1 102.4h0M242.1 98.8h0M265.9 105.2h0M246.1 95.0h0M234.6 51.8h0M234.0 66.4h0M241.5 80.5h0M255.9 63.2h0M271.4 95.0h0M233.5 69.7h0M245.5 66.3h0M257.1 99.2h0M257.6 94.6h0M268.4 88.0h0M232.3 83.9h0M255.6 85.0h0M271.5 66.3h0M246.4 83.4h0M239.8 92.2h0M248.6 76.8h0M240.2 88.6h0M239.9 98.7h0M267.9 52.9h0M252.6 99.4h0M234.3 55.7h0M241.7 68.1h0M263.7 49.7h0M253.5 54.4h0M273.7 84.0h0M272.3 88.4h0M240.0 61.6h0M254.4 97.6h0M241.1 62.8h0M254.1 49.9h0M252.5 71.9h0M232.6 85.1h0M250.7 52.5h0M272.6 99.5h0M271.0 93.9h0M270.7 105.3h0M277.9 90.9h0M248.4 61.5h0M244.2 48.4h0M251.2 53.7h0M262.2 72.6h0M272.1 90.7h0M243.4 41.2h0M237.9 88.7h0M251.0 61.0h0M243.0 65.3h0M253.1 87.2h0M233.6 95.3h0M231.4 59.9h0M282.5 97.1h0M233.3 96.9h0M261.1 89.9h0M249.1 85.9h0M255.5 65.9h0M241.6 53.5h0M240.6 73.7h0M247.7 47.8h0M240.7 83.7h0M235.6 103.7h0M251.0 90.9h0M264.4 73.5h0M262.9 78.7h0M273.1 82.3h0M250.5 77.5h0M257.5 90.1h0M259.9 54.5h0M270.8 75.5h0M236.6 91.4h0M261.9 99.9h0M265.8 86.1h0" stroke="#8cf88c" stroke-width="0.8" stroke-linecap="round"/>
<path d="M256.0 95.7h0M242.8 102.2h0M251.0 48.2h0M233.6 78.8h0M250.2 55.1h0M248.9 94.1h0M271.9 81.9h0M268.8 81.9h0M244.4 98.2h0M242.7 97.4h0M244.9 96.8h0M237.1 58.7h0M248.7 62.5h0M241.2 72.7h0M267.2 66.9h0M241.0 45.8h0M237.4 86.6h0M278.2 96.1h0M256.5 85.5h0M268.6 43.9h0M263.9 59.9h0M247.1 54.7h0M259.2 81.6h0M243.1 51.6h0M245.9 88.0h0M267.6 68.1h0M265.4 42.6h0M273.9 91.1h0M258.2 85.3h0M258.1 103.8h0M259.5 86.1h0M236.0 74.7h0M236.8 85.7h0M238.6 80.8h0M244.4 50.6h0M250.9 70.7h0M237.4 64.6h0M239.7 60.2h0M263.7 72.6h0M262.3 79.1h0M270.1 83.3h0M253.8 46.3h0M267.9 87.0h0M256.7 54.4h0M254.5 87.8h0M255.9 50.3h0M269.5 91.3h0M245.1 74.4h0M247.0 104.8h0M247.3 59.0h0M249.4 71.0h0M273.3 107.2h0M295.1 80.6h0M284.8 103.8h0M233.1 80.0h0M237.4 70.8h0M239.6 69.4h0M237.8 56.7h0M252.0 54.7h0M282.7 80.6h0M249.3 102.2h0M254.8 65.1h0M249.9 88.7h0M240.0 70.0h0M233.6 65.5h0M261.7 80.9h0M232.5 70.2h0M254.3 79.8h0M263.0 66.9h0M293.7 70.5h0M235.2 59.0h0M248.5 104.5h0M247.8 87.2h0M238.4 44.6h0M242.3 92.4h0M241.4 92.6h0M291.3 93.3h0M246.0 98.5h0M265.3 68.8h0M267.0 67.9h0M261.6 63.5h0M274.0 92.8h0M277.9 89.1h0M254.6 85.7h0M261.2 59.6h0M240.1 95.8h0M259.8 95.0h0M246.8 100.3h0M266.1 51.7h0M252.4 58.1h0M257.5 53.4h0M267.6 77.6h0M243.7 65.8h0M245.9 79.6h0M253.0 79.5h0M248.8 54.6h0M265.7 61.2h0M273.8 94.2h0M241.3 91.7h0M282.3 56.4h0" stroke="#28b028" stroke-width="1.6" stroke-linecap="round"/>
<path d="M256.0 95.7h0M242.8 102.2h0M251.0 48.2h0M233.6 78.8h0M250.2 55.1h0M248.9 94.1h0M271.9 81.9h0M268.8 81.9h0M244.4 98.2h0M242.7 97.4h0M244.9 96.8h0M237.1 58.7h0M248.7 62.5h0M241.2 72.7h0M267.2 66.9h0M241.0 45.8h0M237.4 86.6h0M278.2 96.1h0M256.5 85.5h0M268.6 43.9h0M263.9 59.9h0M247.1 54.7h0M259.2 81.6h0M243.1 51.6h0M245.9 88.0h0M267.6 68.1h0M265.4 42.6h0M273.9 91.1h0M258.2 85.3h0M258.1 103.8h0M259.5 86.1h0M236.0 74.7h0M236.8 85.7h0M238.6 80.8h0M244.4 50.6h0M250.9 70.7h0M237.4 64.6h0M239.7 60.2h0M263.7 72.6h0M262.3 79.1h0M270.1 83.3h0M253.8 46.3h0M267.9 87.0h0M256.7 54.4h0M254.5 87.8h0M255.9 50.3h0M269.5 91.3h0M245.1 74.4h0M247.0 104.8h0M247.3 59.0h0M249.4 71.0h0M273.3 107.2h0M295.1 80.6h0M284.8 103.8h0M233.1 80.0h0M237.4 70.8h0M239.6 69.4h0M237.8 56.7h0M252.0 54.7h0M282.7 80.6h0M249.3 102.2h0M254.8 65.1h0M249.9 88.7h0M240.0 70.0h0M233.6 65.5h0M261.7 80.9h0M232.5 70.2h0M254.3 79.8h0M263.0 66.9h0M293.7 70.5h0M235.2 59.0h0M248.5 104.5h0M247.8 87.2h0M238.4 44.6h0M242.3 92.4h0M241.4 92.6h0M291.3 93.3h0M246.0 98.5h0M265.3 68.8h0M267.0 67.9h0M261.6 63.5h0M274.0 92.8h0M277.9 89.1h0M254.6 85.7h0M261.2 59.6h0M240.1 95.8h0M259.8 95.0h0M246.8 100.3h0M266.1 51.7h0M252.4 58.1h0M257.5 53.4h0M267.6 77.6h0M243.7 65.8h0M245.9 79.6h0M253.0 79.5h0M248.8 54.6h0M265.7 61.2h0M273.8 94.2h0M241.3 91.7h0M282.3 56.4h0" stroke="#8cf88c" stroke-width="0.8" stroke-linecap="round"/>
<path d="M261.8 71.1h0M234.3 73.1h0M243.4 95.1h0M258.8 103.3h0M238.2 99.6h0M257.5 102.8h0M238.3 85.5h0M253.6 71.7h0M260.6 78.0h0M242.7 69.7h0M254.6 55.2h0M267.9 84.2h0M243.0 55.9h0M234.7 96.9h0M260.3 44.0h0M250.8 79.2h0M255.2 56.2h0M254.7 72.7h0M259.9 95.5h0M274.8 71.2h0M272.7 87.8h0M262.6 81.9h0M280.0 65.5h0M260.8 32.3h0M251.0 75.9h0M262.8 75.6h0M253.2 47.0h0M244.4 73.9h0M269.0 87.5h0M266.5 83.6h0M252.2 73.1h0M243.1 65.9h0M266.6 108.1h0M262.3 83.8h0M265.4 63.0h0M255.6 93.9h0M251.6 98.8h0M278.2 92.5h0M235.7 104.6h0M265.7 106.8h0M258.4 64.6h0M262.1 102.2h0M269.3 75.9h0M238.7 96.7h0M256.6 78.4h0M266.2 67.7h0M284.5 97.3h0M257.7 98.7h0M235.9 75.3h0M260.5 59.6h0M248.4 99.5h0M283.8 63.2h0M271.8 70.5h0M256.2 69.4h0M277.5 68.6h0M258.9 79.0h0M264.2 90.2h0M251.8 66.4h0M235.7 105.3h0M261.9 53.7h0M265.8 63.0h0M260.0 63.4h0M254.3 55.4h0M260.8 99.9h0M235.5 66.8h0M248.8 55.1h0M278.0 72.8h0M261.6 80.1h0M236.9 55.6h0M243.2 92.3h0M271.6 43.7h0M257.0 59.6h0M270.3 85.5h0M246.8 51.1h0M264.6 89.8h0M283.1 61.4h0M269.0 66.2h0M252.0 80.7h0M266.3 93.2h0M237.0 88.6h0M252.3 93.7h0M240.4 81.3h0M256.6 37.7h0M249.8 41.0h0M247.6 74.9h0M264.5 86.6h0M245.4 97.6h0M253.6 102.4h0M251.7 90.4h0M248.7 58.4h0M244.6 72.7h0M264.3 80.7h0M247.7 105.2h0M240.1 63.1h0M270.2 96.1h0M288.8 99.0h0M246.4 71.9h0M291.2 76.8h0M237.2 38.9h0M285.1 81.2h0" stroke="#28b028" stroke-width="1.6" stroke-linecap="round"/>
<path d="M261.8 71.1h0M234.3 73.1h0M243.4 95.1h0M258.8 103.3h0M238.2 99.6h0M257.5 102.8h0M238.3 85.5h0M253.6 71.7h0M260.6 78.0h0M242.7 69.7h0M254.6 55.2h0M267.9 84.2h0M243.0 55.9h0M234.7 96.9h0M260.3 44.0h0M250.8 79.2h0M255.2 56.2h0M254.7 72.7h0M259.9 95.5h0M274.8 71.2h0M272.7 87.8h0M262.6 81.9h0M280.0 65.5h0M260.8 32.3h0M251.0 75.9h0M262.8 75.6h0M253.2 47.0h0M244.4 73.9h0M269.0 87.5h0M266.5 83.6h0M252.2 73.1h0M243.1 65.9h0M266.6 108.1h0M262.3 83.8h0M265.4 63.0h0M255.6 93.9h0M251.6 98.8h0M278.2 92.5h0M235.7 104.6h0M265.7 106.8h0M258.4 64.6h0M262.1 102.2h0M269.3 75.9h0M238.7 96.7h0M256.6 78.4h0M266.2 67.7h0M284.5 97.3h0M257.7 98.7h0M235.9 75.3h0M260.5 59.6h0M248.4 99.5h0M283.8 63.2h0M271.8 70.5h0M256.2 69.4h0M277.5 68.6h0M258.9 79.0h0M264.2 90.2h0M251.8 66.4h0M235.7 105.3h0M261.9 53.7h0M265.8 63.0h0M260.0 63.4h0M254.3 55.4h0M260.8 99.9h0M235.5 66.8h0M248.8 55.1h0M278.0 72.8h0M261.6 80.1h0M236.9 55.6h0M243.2 92.3h0M271.6 43.7h0M257.0 59.6h0M270.3 85.5h0M246.8 51.1h0M264.6 89.8h0M283.1 61.4h0M269.0 66.2h0M252.0 80.7h0M266.3 93.2h0M237.0 88.6h0M252.3 93.7h0M240.4 81.3h0M256.6 37.7h0M249.8 41.0h0M247.6 74.9h0M264.5 86.6h0M245.4 97.6h0M253.6 102.4h0M251.7 90.4h0M248.7 58.4h0M244.6 72.7h0M264.3 80.7h0M247.7 105.2h0M240.1 63.1h0M270.2 96.1h0M288.8 99.0h0M246.4 71.9h0M291.2 76.8h0M237.2 38.9h0M285.1 81.2h0" stroke="#8cf88c" stroke-width="0.8" stroke-linecap="round"/>
<path d="M246.1 68.5h0M252.3 53.5h0M287.5 87.5h0M264.5 90.0h0M275.3 93.1h0M260.0 35.5h0M249.1 90.5h0M236.9 88.9h0M249.5 92.6h0M266.1 63.8h0M262.9 79.9h0M260.5 51.4h0M246.5 51.4h0M255.7 73.9h0M271.7 85.3h0M250.2 67.1h0M252.8 64.5h0M254.0 51.9h0M239.0 57.0h0M253.7 80.6h0M252.3 97.3h0M279.4 90.6h0M257.8 52.8h0M255.1 84.2h0M279.5 89.1h0M238.7 76.3h0M249.6 44.6h0M235.4 53.8h0M261.5 100.3h0M269.4 101.8h0M250.5 58.5h0M243.2 79.8h0M265.8 90.6h0M263.1 90.2h0M263.6 100.2h0M278.0 83.6h0M260.7 55.9h0M234.8 80.5h0M272.7 84.5h0M269.2 63.2h0M265.1 101.4h0M251.8 100.4h0M234.4 57.3h0M266.8 104.3h0M244.0 71.9h0M256.1 98.0h0M263.2 82.7h0M236.5 94.0h0M251.9 61.6h0M263.5 55.1h0M262.3 63.8h0M278.2 64.7h0M268.9 42.3h0M249.2 101.3h0M267.7 78.7h0M283.3 80.5h0M268.4 95.2h0M234.9 77.8h0M260.4 93.9h0M256.2 105.7h0M241.8 82.7h0M258.9 55.3h0M255.7 73.0h0M245.2 55.9h0M276.1 103.3h0M236.8 101.6h0M269.2 76.9h0M233.0 69.0h0M252.1 67.8h0M258.6 86.2h0M254.5 55.3h0M253.9 79.6h0M241.6 77.7h0M237.2 66.5h0M235.1 101.1h0M243.3 51.7h0M246.4 82.9h0M268.8 64.7h0M293.0 78.0h0M290.8 67.1h0M258.3 67.4h0M270.1 78.3h0M256.8 67.8h0M244.3 87.2h0M235.1 97.3h0M258.0 84.3h0M270.7 50.1h0M260.0 68.7h0M247.7 80.1h0M261.8 83.4h0M237.5 101.4h0M238.5 96.5h0M255.8 68.9h0M252.5 63.1h0M234.5 44.7h0M296.9 92.8h0M236.8 69.1h0M252.2 56.3h0M276.4 89.4h0M256.0 46.4h0" stroke="#28b028" stroke-width="1.6" stroke-linecap="round"/>
<path d="M246.1 68.5h0M252.3 53.5h0M287.5 87.5h0M264.5 90.0h0M275.3 93.1h0M260.0 35.5h0M249.1 90.5h0M236.9 88.9h0M249.5 92.6h0M266.1 63.8h0M262.9 79.9h0M260.5 51.4h0M246.5 51.4h0M255.7 73.9h0M271.7 85.3h0M250.2 67.1h0M252.8 64.5h0M254.0 51.9h0M239.0 57.0h0M253.7 80.6h0M252.3 97.3h0M279.4 90.6h0M257.8 52.8h0M255.1 84.2h0M279.5 89.1h0M238.7 76.3h0M249.6 44.6h0M235.4 53.8h0M261.5 100.3h0M269.4 101.8h0M250.5 58.5h0M243.2 79.8h0M265.8 90.6h0M263.1 90.2h0M263.6 100.2h0M278.0 83.6h0M260.7 55.9h0M234.8 80.5h0M272.7 84.5h0M269.2 63.2h0M265.1 101.4h0M251.8 100.4h0M234.4 57.3h0M266.8 104.3h0M244.0 71.9h0M256.1 98.0h0M263.2 82.7h0M236.5 94.0h0M251.9 61.6h0M263.5 55.1h0M262.3 63.8h0M278.2 64.7h0M268.9 42.3h0M249.2 101.3h0M267.7 78.7h0M283.3 80.5h0M268.4 95.2h0M234.9 77.8h0M260.4 93.9h0M256.2 105.7h0M241.8 82.7h0M258.9 55.3h0M255.7 73.0h0M245.2 55.9h0M276.1 103.3h0M236.8 101.6h0M269.2 76.9h0M233.0 69.0h0M252.1 67.8h0M258.6 86.2h0M254.5 55.3h0M253.9 79.6h0M241.6 77.7h0M237.2 66.5h0M235.1 101.1h0M243.3 51.7h0M246.4 82.9h0M268.8 64.7h0M293.0 78.0h0M290.8 67.1h0M258.3 67.4h0M270.1 78.3h0M256.8 67.8h0M244.3 87.2h0M235.1 97.3h0M258.0 84.3h0M270.7 50.1h0M260.0 68.7h0M247.7 80.1h0M261.8 83.4h0M237.5 101.4h0M238.5 96.5h0M255.8 68.9h0M252.5 63.1h0M234.5 44.7h0M296.9 92.8h0M236.8 69.1h0M252.2 56.3h0M276.4 89.4h0M256.0 46.4h0" stroke="#8cf88c" stroke-width="0.8" stroke-linecap="round"/>
<path d="M244.5 65.4h0M243.5 94.7h0M260.0 87.7h0M249.8 82.5h0M278.3 72.9h0M257.4 86.3h0M244.8 82.3h0M252.7 94.9h0M280.1 50.7h0M233.3 58.3h0M243.6 90.6h0M242.9 49.4h0M264.3 93.2h0M249.9 51.8h0M258.7 73.6h0M247.9 63.7h0M270.1 88.5h0M272.4 89.7h0M235.8 91.9h0M235.8 87.4h0M255.2 86.0h0M256.7 63.9h0M243.6 54.9h0M257.7 66.0h0M253.7 76.0h0M242.1 63.3h0M238.7 75.8h0M248.4 96.4h0M257.5 65.9h0M258.1 47.3h0M270.0 57.3h0M272.0 92.5h0M241.1 57.0h0M249.1 102.9h0M234.1 59.9h0M262.7 96.8h0M270.9 68.7h0M246.5 67.9h0M303.3 49.4h0M273.2 63.6h0M271.8 79.3h0M256.8 64.4h0M269.0 76.1h0M265.2 88.8h0M274.1 90.1h0M257.2 76.2h0M264.9 64.4h0M273.2 96.0h0M266.3 73.8h0M269.0 83.1h0M266.8 65.8h0M250.8 59.8h0M263.4 68.3h0M255.6 48.6h0M266.5 79.8h0M275.0 75.9h0M282.7 87.4h0M275.3 100.4h0M263.9 84.8h0M260.9 95.7h0M252.6 59.1h0M305.3 50.7h0M237.8 54.5h0M277.3 90.8h0M246.7 60.7h0M234.5 71.2h0M265.3 88.7h0M247.0 53.5h0M235.4 75.2h0M251.1 80.9h0M253.6 72.7h0M275.7 71.5h0M249.2 85.3h0M255.0 97.6h0M236.1 74.6h0M240.5 72.7h0M271.8 61.5h0M262.9 90.2h0M252.8 70.7h0M246.5 79.6h0M236.0 45.8h0M238.7 97.9h0M271.0 94.9h0M253.3 91.9h0M242.2 77.9h0M282.6 98.1h0M275.8 89.4h0M284.5 102.5h0M262.6 87.1h0M239.3 50.7h0M262.3 64.8h0M257.6 76.5h0M308.3 47.3h0M253.6 83.7h0M252.4 59.6h0M261.4 62.8h0M258.8 93.8h0M250.5 76.3h0M253.0 70.4h0M254.9 88.2h0" stroke="#28b028" stroke-width="1.6" stroke-linecap="round"/>
<path d="M244.5 65.4h0M243.5 94.7h0M260.0 87.7h0M249.8 82.5h0M278.3 72.9h0M257.4 86.3h0M244.8 82.3h0M252.7 94.9h0M280.1 50.7h0M233.3 58.3h0M243.6 90.6h0M242.9 49.4h0M264.3 93.2h0M249.9 51.8h0M258.7 73.6h0M247.9 63.7h0M270.1 88.5h0M272.4 89.7h0M235.8 91.9h0M235.8 87.4h0M255.2 86.0h0M256.7 63.9h0M243.6 54.9h0M257.7 66.0h0M253.7 76.0h0M242.1 63.3h0M238.7 75.8h0M248.4 96.4h0M257.5 65.9h0M258.1 47.3h0M270.0 57.3h0M272.0 92.5h0M241.1 57.0h0M249.1 102.9h0M234.1 59.9h0M262.7 96.8h0M270.9 68.7h0M246.5 67.9h0M303.3 49.4h0M273.2 63.6h0M271.8 79.3h0M256.8 64.4h0M269.0 76.1h0M265.2 88.8h0M274.1 90.1h0M257.2 76.2h0M264.9 64.4h0M273.2 96.0h0M266.3 73.8h0M269.0 83.1h0M266.8 65.8h0M250.8 59.8h0M263.4 68.3h0M255.6 48.6h0M266.5 79.8h0M275.0 75.9h0M282.7 87.4h0M275.3 100.4h0M263.9 84.8h0M260.9 95.7h0M252.6 59.1h0M305.3 50.7h0M237.8 54.5h0M277.3 90.8h0M246.7 60.7h0M234.5 71.2h0M265.3 88.7h0M247.0 53.5h0M235.4 75.2h0M251.1 80.9h0M253.6 72.7h0M275.7 71.5h0M249.2 85.3h0M255.0 97.6h0M236.1 74.6h0M240.5 72.7h0M271.8 61.5h0M262.9 90.2h0M252.8 70.7h0M246.5 79.6h0M236.0 45.8h0M238.7 97.9h0M271.0 94.9h0M253.3 91.9h0M242.2 77.9h0M282.6 98.1h0M275.8 89.4h0M284.5 102.5h0M262.6 87.1h0M239.3 50.7h0M262.3 64.8h0M257.6 76.5h0M308.3 47.3h0M253.6 83.7h0M252.4 59.6h0M261.4 62.8h0M258.8 93.8h0M250.5 76.3h0M253.0 70.4h0M254.9 88.2h0" stroke="#8cf88c" stroke-width="0.8" stroke-linecap="round"/>
<path d="M237.2 31.2h0M241.8 30.2h0M231.9 29.2h0M236.3 26.7h0M244.6 29.3h0M237.7 31.9h0M237.5 26.7h0M234.4 30.8h0M238.8 26.3h0M233.9 31.1h0M237.3 26.3h0M247.6 27.9h0M238.8 28.4h0M243.4 29.3h0" stroke="#28b028" stroke-width="1.6" stroke-linecap="round"/>
<path d="M237.2 31.2h0M241.8 30.2h0M231.9 29.2h0M236.3 26.7h0M244.6 29.3h0M237.7 31.9h0M237.5 26.7h0M234.4 30.8h0M238.8 26.3h0M233.9 31.1h0M237.3 26.3h0M247.6 27.9h0M238.8 28.4h0M243.4 29.3h0" stroke="#8cf88c" stroke-width="0.8" stroke-linecap="round"/>
<line x1="220.00" y1="44.10" x2="258.60" y2="23.40" stroke="#000" stroke-width="1.3"/>
<line x1="258.60" y1="23.40" x2="318.10" y2="34.90" stroke="#000" stroke-width="1.3"/>
<line x1="318.10" y1="34.90" x2="315.10" y2="96.40" stroke="#000" stroke-width="1.3"/>
<line x1="315.10" y1="96.40" x2="284.80" y2="127.00" stroke="#000" stroke-width="1.6"/>
<line x1="284.80" y1="127.00" x2="222.70" y2="108.10" stroke="#000" stroke-width="1.6"/>
<line x1="222.70" y1="108.10" x2="220.00" y2="44.10" stroke="#000" stroke-width="1.6"/>
<line x1="223.94" y1="108.48" x2="226.12" y2="106.89" stroke="#000" stroke-width="1.1"/>
<line x1="232.39" y1="111.05" x2="234.52" y2="109.43" stroke="#000" stroke-width="1.1"/>
<line x1="240.83" y1="113.62" x2="242.91" y2="111.96" stroke="#000" stroke-width="1.1"/>
<line x1="249.28" y1="116.19" x2="251.31" y2="114.50" stroke="#000" stroke-width="1.1"/>
<line x1="257.72" y1="118.76" x2="259.70" y2="117.03" stroke="#000" stroke-width="1.1"/>
<line x1="266.17" y1="121.33" x2="268.10" y2="119.57" stroke="#000" stroke-width="1.1"/>
<line x1="274.62" y1="123.90" x2="276.49" y2="122.11" stroke="#000" stroke-width="1.1"/>
<line x1="283.06" y1="126.47" x2="284.89" y2="124.64" stroke="#000" stroke-width="1.1"/>
<line x1="286.31" y1="125.47" x2="281.99" y2="124.16" stroke="#000" stroke-width="1.1"/>
<line x1="290.44" y1="121.31" x2="286.17" y2="120.04" stroke="#000" stroke-width="1.1"/>
<line x1="294.56" y1="117.15" x2="290.35" y2="115.92" stroke="#000" stroke-width="1.1"/>
<line x1="298.68" y1="112.99" x2="294.53" y2="111.80" stroke="#000" stroke-width="1.1"/>
<line x1="302.80" y1="108.82" x2="298.71" y2="107.68" stroke="#000" stroke-width="1.1"/>
<line x1="306.92" y1="104.66" x2="302.89" y2="103.55" stroke="#000" stroke-width="1.1"/>
<line x1="311.04" y1="100.50" x2="307.07" y2="99.43" stroke="#000" stroke-width="1.1"/>
<line x1="315.16" y1="96.34" x2="311.25" y2="95.31" stroke="#000" stroke-width="1.1"/>
<line x1="222.56" y1="104.90" x2="225.67" y2="105.83" stroke="#000" stroke-width="1.1"/>
<line x1="222.16" y1="95.30" x2="225.28" y2="96.20" stroke="#000" stroke-width="1.1"/>
<line x1="221.75" y1="85.70" x2="224.88" y2="86.57" stroke="#000" stroke-width="1.1"/>
<line x1="221.35" y1="76.10" x2="224.49" y2="76.93" stroke="#000" stroke-width="1.1"/>
<line x1="220.94" y1="66.50" x2="224.10" y2="67.30" stroke="#000" stroke-width="1.1"/>
<line x1="220.54" y1="56.90" x2="223.70" y2="57.66" stroke="#000" stroke-width="1.1"/>
<line x1="220.13" y1="47.30" x2="223.31" y2="48.03" stroke="#000" stroke-width="1.1"/>
<text x="272.3" y="20.9" font-size="16.5" font-family="Liberation Serif">Hep G2</text>
<text transform="matrix(0.9149 -0.5153 -0.0000 1.3300 211.90 68.52)" font-size="10" text-anchor="middle" stroke="#000" stroke-width="0.2" font-family="Liberation Serif">240</text>
<text transform="matrix(0.9149 -0.5153 -0.0000 1.3300 212.80 88.02)" font-size="10" text-anchor="middle" stroke="#000" stroke-width="0.2" font-family="Liberation Serif">160</text>
<text transform="matrix(0.9149 -0.5153 -0.0000 1.3300 215.80 104.02)" font-size="10" text-anchor="middle" stroke="#000" stroke-width="0.2" font-family="Liberation Serif">80</text>
<text transform="matrix(0.6333 -0.6395 1.3393 0.4076 223.65 114.19)" font-size="10" text-anchor="middle" stroke="#000" stroke-width="0.2" font-family="Liberation Serif">0</text>
<text transform="matrix(0.6333 -0.6395 1.3393 0.4076 240.25 119.79)" font-size="10" text-anchor="middle" stroke="#000" stroke-width="0.2" font-family="Liberation Serif">2</text>
<text transform="matrix(0.6333 -0.6395 1.3393 0.4076 257.45 124.69)" font-size="10" text-anchor="middle" stroke="#000" stroke-width="0.2" font-family="Liberation Serif">4</text>
<text transform="matrix(0.6333 -0.6395 1.3393 0.4076 275.35 129.59)" font-size="10" text-anchor="middle" stroke="#000" stroke-width="0.2" font-family="Liberation Serif">6</text>
<text transform="matrix(1.4621 0.3351 -0.7150 0.8360 294.47 127.24)" font-size="10" text-anchor="middle" stroke="#000" stroke-width="0.2" font-family="Liberation Serif">0</text>
<text transform="matrix(1.4621 0.3351 -0.7150 0.8360 307.47 120.24)" font-size="10" text-anchor="middle" stroke="#000" stroke-width="0.2" font-family="Liberation Serif">15</text>
<text transform="matrix(1.4621 0.3351 -0.7150 0.8360 314.77 112.74)" font-size="10" text-anchor="middle" stroke="#000" stroke-width="0.2" font-family="Liberation Serif">30</text>
<text transform="matrix(1.4621 0.3351 -0.7150 0.8360 321.17 105.34)" font-size="10" text-anchor="middle" stroke="#000" stroke-width="0.2" font-family="Liberation Serif">45</text>
<text transform="matrix(0.0674 1.5986 -1.1344 0.8205 193.50 73.00)" font-size="10" stroke="#000" stroke-width="0.2" font-family="Liberation Serif">I<tspan font-size="6.5" dy="2">r</tspan><tspan dy="-2"> (mV)</tspan></text>
<text transform="matrix(1.4159 0.4309 -0.7036 0.7106 204.70 123.20)" font-size="10" stroke="#000" stroke-width="0.2" font-family="Liberation Serif">2T<tspan font-size="6.5" dy="2">s</tspan><tspan dy="-2">/(T</tspan><tspan font-size="6.5" dy="2">r</tspan><tspan dy="-2">+T</tspan><tspan font-size="6.5" dy="2">d</tspan><tspan dy="-2">)</tspan></text>
<text transform="matrix(0.7529 -0.7603 1.5307 0.4659 324.20 132.30)" font-size="10" stroke="#000" stroke-width="0.2" font-family="Liberation Serif">T<tspan font-size="6.5" dy="2">c</tspan><tspan dy="-2"> (ms)</tspan></text>
<line x1="377.93" y1="94.66" x2="414.87" y2="69.46" stroke="#d6d6d6" stroke-width="0.6"/>
<line x1="414.87" y1="69.46" x2="471.53" y2="83.48" stroke="#d6d6d6" stroke-width="0.6"/>
<line x1="377.26" y1="78.66" x2="414.72" y2="54.88" stroke="#d6d6d6" stroke-width="0.6"/>
<line x1="414.72" y1="54.88" x2="472.28" y2="68.11" stroke="#d6d6d6" stroke-width="0.6"/>
<line x1="376.61" y1="63.30" x2="414.58" y2="40.89" stroke="#d6d6d6" stroke-width="0.6"/>
<line x1="414.58" y1="40.89" x2="473.00" y2="53.35" stroke="#d6d6d6" stroke-width="0.6"/>
<line x1="375.94" y1="47.30" x2="414.43" y2="26.32" stroke="#d6d6d6" stroke-width="0.6"/>
<line x1="414.43" y1="26.32" x2="473.75" y2="37.98" stroke="#d6d6d6" stroke-width="0.6"/>
<line x1="431.65" y1="86.08" x2="432.12" y2="26.82" stroke="#d6d6d6" stroke-width="0.6"/>
<line x1="396.99" y1="113.73" x2="431.65" y2="86.08" stroke="#d6d6d6" stroke-width="0.6"/>
<line x1="447.17" y1="90.16" x2="448.65" y2="30.02" stroke="#d6d6d6" stroke-width="0.6"/>
<line x1="414.24" y1="118.98" x2="447.17" y2="90.16" stroke="#d6d6d6" stroke-width="0.6"/>
<line x1="462.70" y1="94.24" x2="465.17" y2="33.21" stroke="#d6d6d6" stroke-width="0.6"/>
<line x1="431.49" y1="124.23" x2="462.70" y2="94.24" stroke="#d6d6d6" stroke-width="0.6"/>
<line x1="382.88" y1="104.93" x2="382.75" y2="40.37" stroke="#d6d6d6" stroke-width="0.6"/>
<line x1="382.88" y1="104.93" x2="450.30" y2="117.21" stroke="#d6d6d6" stroke-width="0.6"/>
<line x1="393.10" y1="97.54" x2="393.56" y2="34.58" stroke="#d6d6d6" stroke-width="0.6"/>
<line x1="393.10" y1="97.54" x2="458.48" y2="108.95" stroke="#d6d6d6" stroke-width="0.6"/>
<line x1="403.69" y1="89.88" x2="403.98" y2="28.99" stroke="#d6d6d6" stroke-width="0.6"/>
<line x1="403.69" y1="89.88" x2="466.66" y2="100.68" stroke="#d6d6d6" stroke-width="0.6"/>
<line x1="415.00" y1="81.70" x2="414.40" y2="23.40" stroke="#333" stroke-width="1.0"/>
<line x1="415.00" y1="81.70" x2="470.90" y2="96.40" stroke="#333" stroke-width="1.0"/>
<line x1="415.00" y1="81.70" x2="378.50" y2="108.10" stroke="#333" stroke-width="1.0"/>
<path d="M391.0 74.0 L420.0 72.0 L423.0 76.0 L423.0 100.0 L391.0 98.0Z" fill="#5868c8"/>
<path d="M400.1 79.3h0M434.2 87.3h0M392.0 88.2h0M426.7 98.6h0M422.0 96.4h0M431.3 53.9h0M405.3 101.3h0M426.4 89.1h0M426.5 79.7h0M416.6 82.8h0M435.3 88.0h0M410.8 95.3h0M404.7 105.4h0M405.9 91.0h0M422.4 102.7h0M396.4 78.4h0M453.0 106.7h0M417.3 72.3h0M395.8 58.2h0M429.7 96.2h0M434.2 102.7h0M412.6 74.6h0M417.1 94.0h0M400.8 78.5h0M387.6 83.6h0M391.3 101.9h0M425.6 96.1h0M408.2 81.3h0M435.3 99.8h0M392.9 93.7h0M422.6 84.7h0M422.8 96.6h0M415.2 97.9h0M432.0 92.2h0M409.1 68.7h0M397.5 83.3h0M414.4 79.3h0M403.6 91.2h0M410.8 96.4h0M428.5 98.5h0M415.5 79.1h0M427.1 81.7h0M401.3 102.6h0M413.6 80.2h0M433.9 97.2h0M426.7 71.1h0M451.7 87.1h0M411.5 48.9h0M418.6 100.2h0M412.5 77.9h0M415.9 94.9h0M415.5 64.9h0M436.5 59.8h0M406.3 85.5h0M414.0 73.7h0M448.5 92.4h0M437.9 83.4h0M434.1 69.7h0M397.2 78.8h0M405.4 76.9h0M405.8 66.3h0M392.2 100.7h0M421.1 77.5h0M397.0 101.5h0M418.2 59.2h0M410.7 70.6h0M407.3 77.2h0M429.1 73.8h0M402.9 79.5h0M440.7 89.4h0M423.1 94.9h0M426.8 101.1h0M428.3 69.2h0M424.6 97.8h0M420.1 72.8h0M419.1 86.5h0M406.0 75.5h0M412.6 89.9h0M412.5 86.2h0M413.2 72.6h0M439.4 68.7h0M419.1 99.9h0M390.4 78.1h0M411.0 101.3h0M442.6 59.3h0M398.5 69.3h0M400.8 94.6h0M440.4 85.7h0M433.6 87.6h0M423.6 82.7h0M432.2 106.7h0M447.6 54.5h0M422.5 81.6h0M396.7 75.5h0M422.3 68.5h0M393.4 91.4h0M417.8 104.8h0M428.6 83.4h0M397.7 100.3h0M423.1 98.4h0" stroke="#3040a4" stroke-width="1.6" stroke-linecap="round"/>
<path d="M400.1 79.3h0M434.2 87.3h0M392.0 88.2h0M426.7 98.6h0M422.0 96.4h0M431.3 53.9h0M405.3 101.3h0M426.4 89.1h0M426.5 79.7h0M416.6 82.8h0M435.3 88.0h0M410.8 95.3h0M404.7 105.4h0M405.9 91.0h0M422.4 102.7h0M396.4 78.4h0M453.0 106.7h0M417.3 72.3h0M395.8 58.2h0M429.7 96.2h0M434.2 102.7h0M412.6 74.6h0M417.1 94.0h0M400.8 78.5h0M387.6 83.6h0M391.3 101.9h0M425.6 96.1h0M408.2 81.3h0M435.3 99.8h0M392.9 93.7h0M422.6 84.7h0M422.8 96.6h0M415.2 97.9h0M432.0 92.2h0M409.1 68.7h0M397.5 83.3h0M414.4 79.3h0M403.6 91.2h0M410.8 96.4h0M428.5 98.5h0M415.5 79.1h0M427.1 81.7h0M401.3 102.6h0M413.6 80.2h0M433.9 97.2h0M426.7 71.1h0M451.7 87.1h0M411.5 48.9h0M418.6 100.2h0M412.5 77.9h0M415.9 94.9h0M415.5 64.9h0M436.5 59.8h0M406.3 85.5h0M414.0 73.7h0M448.5 92.4h0M437.9 83.4h0M434.1 69.7h0M397.2 78.8h0M405.4 76.9h0M405.8 66.3h0M392.2 100.7h0M421.1 77.5h0M397.0 101.5h0M418.2 59.2h0M410.7 70.6h0M407.3 77.2h0M429.1 73.8h0M402.9 79.5h0M440.7 89.4h0M423.1 94.9h0M426.8 101.1h0M428.3 69.2h0M424.6 97.8h0M420.1 72.8h0M419.1 86.5h0M406.0 75.5h0M412.6 89.9h0M412.5 86.2h0M413.2 72.6h0M439.4 68.7h0M419.1 99.9h0M390.4 78.1h0M411.0 101.3h0M442.6 59.3h0M398.5 69.3h0M400.8 94.6h0M440.4 85.7h0M433.6 87.6h0M423.6 82.7h0M432.2 106.7h0M447.6 54.5h0M422.5 81.6h0M396.7 75.5h0M422.3 68.5h0M393.4 91.4h0M417.8 104.8h0M428.6 83.4h0M397.7 100.3h0M423.1 98.4h0" stroke="#b4c0ff" stroke-width="0.8" stroke-linecap="round"/>
<path d="M460.2 39.5h0M402.5 94.7h0M404.2 94.5h0M414.1 104.9h0M420.1 104.4h0M399.4 66.8h0M407.4 82.1h0M433.6 54.4h0M426.5 67.8h0M436.0 69.0h0M406.3 72.3h0M425.3 87.8h0M396.9 59.0h0M400.3 83.3h0M394.6 75.1h0M396.3 85.4h0M428.4 80.9h0M423.2 102.3h0M413.6 76.5h0M424.1 70.3h0M420.0 98.9h0M404.1 90.9h0M397.6 96.1h0M449.3 94.4h0M395.8 78.6h0M398.2 83.5h0M410.6 84.9h0M424.1 77.3h0M430.2 82.5h0M420.3 81.4h0M405.3 87.3h0M411.8 78.6h0M400.2 95.6h0M425.2 99.4h0M438.3 73.6h0M397.6 100.2h0M396.1 97.6h0M419.7 89.6h0M436.0 83.3h0M422.0 100.0h0M399.0 103.7h0M393.8 101.1h0M416.6 47.8h0M394.0 87.4h0M401.2 71.2h0M416.0 85.0h0M404.2 95.6h0M392.5 79.6h0M428.8 87.5h0M401.8 93.5h0M426.9 99.8h0M396.2 76.8h0M421.1 90.7h0M412.6 95.2h0M415.0 69.0h0M406.2 95.7h0M424.1 95.7h0M426.3 86.0h0M410.8 90.0h0M406.8 88.8h0M397.0 95.9h0M392.2 100.3h0M409.7 72.6h0M412.7 58.6h0M390.1 80.3h0M426.4 75.2h0M403.4 87.1h0M435.0 93.1h0M401.7 100.7h0M404.5 77.1h0M424.9 84.8h0M421.1 94.3h0M405.2 71.7h0M407.6 101.5h0M406.2 99.4h0M425.3 72.3h0M438.7 94.6h0M411.0 81.7h0M397.1 85.8h0M415.3 99.0h0M412.9 100.0h0M395.7 83.3h0M425.6 91.3h0M395.5 89.8h0M392.1 77.4h0M408.2 95.3h0M421.7 75.8h0M426.2 87.6h0M396.8 75.8h0M396.4 70.6h0M419.9 79.2h0M406.2 76.2h0M456.2 60.2h0M403.2 89.7h0M395.1 91.5h0M411.5 100.1h0M395.9 100.3h0M410.7 91.3h0M391.1 85.8h0M394.3 69.0h0" stroke="#3040a4" stroke-width="1.6" stroke-linecap="round"/>
<path d="M460.2 39.5h0M402.5 94.7h0M404.2 94.5h0M414.1 104.9h0M420.1 104.4h0M399.4 66.8h0M407.4 82.1h0M433.6 54.4h0M426.5 67.8h0M436.0 69.0h0M406.3 72.3h0M425.3 87.8h0M396.9 59.0h0M400.3 83.3h0M394.6 75.1h0M396.3 85.4h0M428.4 80.9h0M423.2 102.3h0M413.6 76.5h0M424.1 70.3h0M420.0 98.9h0M404.1 90.9h0M397.6 96.1h0M449.3 94.4h0M395.8 78.6h0M398.2 83.5h0M410.6 84.9h0M424.1 77.3h0M430.2 82.5h0M420.3 81.4h0M405.3 87.3h0M411.8 78.6h0M400.2 95.6h0M425.2 99.4h0M438.3 73.6h0M397.6 100.2h0M396.1 97.6h0M419.7 89.6h0M436.0 83.3h0M422.0 100.0h0M399.0 103.7h0M393.8 101.1h0M416.6 47.8h0M394.0 87.4h0M401.2 71.2h0M416.0 85.0h0M404.2 95.6h0M392.5 79.6h0M428.8 87.5h0M401.8 93.5h0M426.9 99.8h0M396.2 76.8h0M421.1 90.7h0M412.6 95.2h0M415.0 69.0h0M406.2 95.7h0M424.1 95.7h0M426.3 86.0h0M410.8 90.0h0M406.8 88.8h0M397.0 95.9h0M392.2 100.3h0M409.7 72.6h0M412.7 58.6h0M390.1 80.3h0M426.4 75.2h0M403.4 87.1h0M435.0 93.1h0M401.7 100.7h0M404.5 77.1h0M424.9 84.8h0M421.1 94.3h0M405.2 71.7h0M407.6 101.5h0M406.2 99.4h0M425.3 72.3h0M438.7 94.6h0M411.0 81.7h0M397.1 85.8h0M415.3 99.0h0M412.9 100.0h0M395.7 83.3h0M425.6 91.3h0M395.5 89.8h0M392.1 77.4h0M408.2 95.3h0M421.7 75.8h0M426.2 87.6h0M396.8 75.8h0M396.4 70.6h0M419.9 79.2h0M406.2 76.2h0M456.2 60.2h0M403.2 89.7h0M395.1 91.5h0M411.5 100.1h0M395.9 100.3h0M410.7 91.3h0M391.1 85.8h0M394.3 69.0h0" stroke="#b4c0ff" stroke-width="0.8" stroke-linecap="round"/>
<path d="M402.2 92.1h0M417.6 94.6h0M420.9 97.7h0M398.7 78.7h0M423.5 51.3h0M404.3 90.3h0M392.0 82.8h0M420.3 97.2h0M418.9 85.4h0M404.7 103.9h0M407.8 92.8h0M434.7 66.4h0M421.8 95.5h0M402.7 76.1h0M444.0 63.4h0M426.0 102.5h0M432.7 90.2h0M418.6 97.1h0M411.6 106.1h0M409.8 70.1h0M395.9 99.2h0M442.7 78.4h0M430.9 90.1h0M426.4 81.6h0M403.2 72.4h0M416.9 76.1h0M425.7 98.0h0M427.8 59.3h0M401.4 77.7h0M435.0 96.6h0M408.0 72.2h0M432.0 87.7h0M408.2 98.2h0M448.3 60.9h0M416.1 69.2h0M393.6 78.2h0M409.3 81.8h0M421.6 95.6h0M401.1 105.1h0M406.6 76.5h0M416.9 86.0h0M403.5 90.8h0M442.7 73.8h0M415.0 95.8h0M415.1 78.0h0M401.7 76.9h0M408.9 73.0h0M421.2 70.6h0M420.3 103.7h0M399.0 99.8h0M406.6 101.9h0M395.4 102.9h0M395.3 100.0h0M414.8 103.2h0M411.1 77.5h0M400.6 89.6h0M441.9 48.1h0M399.3 87.3h0M390.6 101.7h0M405.2 88.4h0M411.4 100.3h0M409.8 97.0h0M425.6 102.6h0M424.7 95.2h0M416.5 63.8h0M392.8 92.8h0M412.2 81.6h0M395.8 96.3h0M442.4 73.8h0M425.2 95.8h0M410.4 72.8h0M430.1 77.0h0M428.4 85.5h0M418.2 71.1h0M407.7 88.1h0M435.2 48.2h0M427.6 93.7h0M410.9 74.1h0M403.0 78.3h0M397.6 99.5h0M399.7 69.2h0M422.0 101.6h0M420.4 97.5h0M407.3 88.2h0M397.1 85.0h0M400.5 74.3h0M425.0 68.1h0M406.2 91.6h0M434.2 51.2h0M419.0 90.9h0M399.8 42.3h0M402.4 89.1h0M440.0 60.1h0M403.2 38.6h0M422.0 101.0h0M415.5 91.6h0M427.9 105.1h0M424.4 55.1h0M415.0 88.4h0M403.2 75.4h0" stroke="#3040a4" stroke-width="1.6" stroke-linecap="round"/>
<path d="M402.2 92.1h0M417.6 94.6h0M420.9 97.7h0M398.7 78.7h0M423.5 51.3h0M404.3 90.3h0M392.0 82.8h0M420.3 97.2h0M418.9 85.4h0M404.7 103.9h0M407.8 92.8h0M434.7 66.4h0M421.8 95.5h0M402.7 76.1h0M444.0 63.4h0M426.0 102.5h0M432.7 90.2h0M418.6 97.1h0M411.6 106.1h0M409.8 70.1h0M395.9 99.2h0M442.7 78.4h0M430.9 90.1h0M426.4 81.6h0M403.2 72.4h0M416.9 76.1h0M425.7 98.0h0M427.8 59.3h0M401.4 77.7h0M435.0 96.6h0M408.0 72.2h0M432.0 87.7h0M408.2 98.2h0M448.3 60.9h0M416.1 69.2h0M393.6 78.2h0M409.3 81.8h0M421.6 95.6h0M401.1 105.1h0M406.6 76.5h0M416.9 86.0h0M403.5 90.8h0M442.7 73.8h0M415.0 95.8h0M415.1 78.0h0M401.7 76.9h0M408.9 73.0h0M421.2 70.6h0M420.3 103.7h0M399.0 99.8h0M406.6 101.9h0M395.4 102.9h0M395.3 100.0h0M414.8 103.2h0M411.1 77.5h0M400.6 89.6h0M441.9 48.1h0M399.3 87.3h0M390.6 101.7h0M405.2 88.4h0M411.4 100.3h0M409.8 97.0h0M425.6 102.6h0M424.7 95.2h0M416.5 63.8h0M392.8 92.8h0M412.2 81.6h0M395.8 96.3h0M442.4 73.8h0M425.2 95.8h0M410.4 72.8h0M430.1 77.0h0M428.4 85.5h0M418.2 71.1h0M407.7 88.1h0M435.2 48.2h0M427.6 93.7h0M410.9 74.1h0M403.0 78.3h0M397.6 99.5h0M399.7 69.2h0M422.0 101.6h0M420.4 97.5h0M407.3 88.2h0M397.1 85.0h0M400.5 74.3h0M425.0 68.1h0M406.2 91.6h0M434.2 51.2h0M419.0 90.9h0M399.8 42.3h0M402.4 89.1h0M440.0 60.1h0M403.2 38.6h0M422.0 101.0h0M415.5 91.6h0M427.9 105.1h0M424.4 55.1h0M415.0 88.4h0M403.2 75.4h0" stroke="#b4c0ff" stroke-width="0.8" stroke-linecap="round"/>
<path d="M400.8 82.4h0M398.1 72.2h0M428.8 51.1h0M404.9 83.3h0M401.8 81.5h0M434.3 71.9h0M394.8 102.9h0M398.1 35.5h0M406.1 69.6h0M403.7 69.6h0M425.3 94.7h0M412.9 104.0h0M416.7 104.0h0M438.8 107.6h0M403.9 92.4h0M409.3 48.2h0M395.0 64.7h0M423.7 104.6h0M411.0 90.8h0M394.6 88.0h0M394.0 82.6h0M413.5 59.4h0M404.1 72.1h0M421.6 89.4h0M415.2 85.4h0M427.8 78.9h0M408.8 79.6h0M392.7 87.5h0M403.3 87.2h0M421.8 82.7h0M389.2 70.5h0M422.1 70.9h0M391.3 73.8h0M404.2 97.2h0M395.7 71.6h0M415.5 75.2h0M393.1 83.9h0M417.9 68.6h0M434.9 82.0h0M409.0 79.7h0M401.4 75.2h0M387.9 52.3h0M435.7 59.3h0M390.4 83.8h0M395.3 74.6h0M426.9 93.5h0M427.0 78.0h0M410.5 94.9h0M404.1 78.0h0M425.5 81.4h0M417.0 86.1h0M414.3 84.2h0M427.0 102.9h0M426.9 89.7h0M406.6 86.0h0M398.8 75.6h0M428.8 69.5h0M452.9 80.0h0M432.9 62.8h0M418.2 74.3h0M417.1 75.0h0M401.1 73.1h0M411.1 101.0h0M406.9 77.5h0M412.3 70.1h0M419.0 74.8h0M424.1 79.9h0M408.3 92.9h0M399.4 72.3h0M417.5 85.4h0M413.4 67.2h0M413.0 93.6h0M405.3 78.5h0M390.7 87.2h0M413.0 71.4h0M404.8 85.9h0M426.3 67.6h0M430.2 97.1h0M398.5 87.9h0M434.1 65.1h0M433.4 83.5h0M408.1 70.0h0M394.9 64.3h0M399.4 102.0h0M426.2 70.1h0M425.0 83.4h0M437.5 87.1h0M407.4 79.2h0M424.3 83.5h0M398.3 80.1h0M404.2 75.6h0M412.5 70.1h0M425.3 90.6h0M400.1 80.3h0M407.5 57.7h0M417.0 90.8h0M416.9 74.4h0M396.3 87.7h0M406.4 69.4h0M404.2 96.2h0" stroke="#3040a4" stroke-width="1.6" stroke-linecap="round"/>
<path d="M400.8 82.4h0M398.1 72.2h0M428.8 51.1h0M404.9 83.3h0M401.8 81.5h0M434.3 71.9h0M394.8 102.9h0M398.1 35.5h0M406.1 69.6h0M403.7 69.6h0M425.3 94.7h0M412.9 104.0h0M416.7 104.0h0M438.8 107.6h0M403.9 92.4h0M409.3 48.2h0M395.0 64.7h0M423.7 104.6h0M411.0 90.8h0M394.6 88.0h0M394.0 82.6h0M413.5 59.4h0M404.1 72.1h0M421.6 89.4h0M415.2 85.4h0M427.8 78.9h0M408.8 79.6h0M392.7 87.5h0M403.3 87.2h0M421.8 82.7h0M389.2 70.5h0M422.1 70.9h0M391.3 73.8h0M404.2 97.2h0M395.7 71.6h0M415.5 75.2h0M393.1 83.9h0M417.9 68.6h0M434.9 82.0h0M409.0 79.7h0M401.4 75.2h0M387.9 52.3h0M435.7 59.3h0M390.4 83.8h0M395.3 74.6h0M426.9 93.5h0M427.0 78.0h0M410.5 94.9h0M404.1 78.0h0M425.5 81.4h0M417.0 86.1h0M414.3 84.2h0M427.0 102.9h0M426.9 89.7h0M406.6 86.0h0M398.8 75.6h0M428.8 69.5h0M452.9 80.0h0M432.9 62.8h0M418.2 74.3h0M417.1 75.0h0M401.1 73.1h0M411.1 101.0h0M406.9 77.5h0M412.3 70.1h0M419.0 74.8h0M424.1 79.9h0M408.3 92.9h0M399.4 72.3h0M417.5 85.4h0M413.4 67.2h0M413.0 93.6h0M405.3 78.5h0M390.7 87.2h0M413.0 71.4h0M404.8 85.9h0M426.3 67.6h0M430.2 97.1h0M398.5 87.9h0M434.1 65.1h0M433.4 83.5h0M408.1 70.0h0M394.9 64.3h0M399.4 102.0h0M426.2 70.1h0M425.0 83.4h0M437.5 87.1h0M407.4 79.2h0M424.3 83.5h0M398.3 80.1h0M404.2 75.6h0M412.5 70.1h0M425.3 90.6h0M400.1 80.3h0M407.5 57.7h0M417.0 90.8h0M416.9 74.4h0M396.3 87.7h0M406.4 69.4h0M404.2 96.2h0" stroke="#b4c0ff" stroke-width="0.8" stroke-linecap="round"/>
<path d="M435.0 53.7h0M436.0 102.8h0M431.0 76.9h0M419.7 102.7h0M410.8 85.1h0M416.6 75.0h0M416.1 72.2h0M402.6 77.3h0M414.3 94.0h0M406.2 74.7h0M412.6 79.5h0M418.7 78.5h0M419.7 87.4h0M400.3 73.5h0M397.9 100.2h0M413.7 81.5h0M421.9 96.7h0M408.6 100.7h0M394.7 77.4h0M441.8 57.3h0M431.8 61.4h0M419.1 56.6h0M433.3 95.7h0M397.9 71.9h0M429.5 68.3h0M450.2 74.6h0M422.2 94.1h0M420.4 99.1h0M426.2 84.2h0M419.1 99.0h0M418.2 101.4h0M399.0 93.8h0M410.9 103.8h0M419.9 89.4h0M443.9 89.0h0M410.9 99.7h0M406.3 74.7h0M392.5 78.8h0M443.6 76.1h0M399.2 101.8h0M423.1 82.9h0M412.1 62.1h0M430.4 50.2h0M415.6 67.8h0M416.5 67.6h0M408.0 96.8h0M464.3 50.2h0M396.0 98.1h0M398.4 62.8h0M409.8 95.4h0M404.5 96.8h0M409.7 79.2h0M437.3 81.6h0M449.6 82.7h0M398.3 75.3h0M416.3 52.2h0M390.5 88.9h0M424.7 91.5h0M421.3 54.6h0M427.7 73.7h0M409.5 88.7h0M417.0 91.9h0M391.2 100.7h0M463.0 91.0h0M419.8 73.7h0M390.4 86.4h0M395.5 84.6h0M396.9 95.6h0M448.1 64.2h0M407.8 101.5h0M425.7 70.9h0M422.1 69.8h0M395.3 70.9h0M419.8 99.3h0M418.4 65.7h0M396.4 94.2h0M400.8 101.4h0M388.6 95.1h0M412.4 99.5h0M408.1 83.6h0M393.4 80.3h0M395.0 87.2h0M428.1 45.1h0M393.6 84.7h0M390.1 84.8h0M395.5 85.0h0M422.1 57.5h0M414.4 78.8h0M390.7 82.8h0M410.3 81.9h0M397.9 81.9h0M407.1 71.0h0M446.5 88.2h0M413.0 81.3h0M430.2 75.7h0M428.1 103.2h0M415.7 77.4h0M403.7 82.1h0M431.7 73.8h0M393.9 90.1h0" stroke="#3040a4" stroke-width="1.6" stroke-linecap="round"/>
<path d="M435.0 53.7h0M436.0 102.8h0M431.0 76.9h0M419.7 102.7h0M410.8 85.1h0M416.6 75.0h0M416.1 72.2h0M402.6 77.3h0M414.3 94.0h0M406.2 74.7h0M412.6 79.5h0M418.7 78.5h0M419.7 87.4h0M400.3 73.5h0M397.9 100.2h0M413.7 81.5h0M421.9 96.7h0M408.6 100.7h0M394.7 77.4h0M441.8 57.3h0M431.8 61.4h0M419.1 56.6h0M433.3 95.7h0M397.9 71.9h0M429.5 68.3h0M450.2 74.6h0M422.2 94.1h0M420.4 99.1h0M426.2 84.2h0M419.1 99.0h0M418.2 101.4h0M399.0 93.8h0M410.9 103.8h0M419.9 89.4h0M443.9 89.0h0M410.9 99.7h0M406.3 74.7h0M392.5 78.8h0M443.6 76.1h0M399.2 101.8h0M423.1 82.9h0M412.1 62.1h0M430.4 50.2h0M415.6 67.8h0M416.5 67.6h0M408.0 96.8h0M464.3 50.2h0M396.0 98.1h0M398.4 62.8h0M409.8 95.4h0M404.5 96.8h0M409.7 79.2h0M437.3 81.6h0M449.6 82.7h0M398.3 75.3h0M416.3 52.2h0M390.5 88.9h0M424.7 91.5h0M421.3 54.6h0M427.7 73.7h0M409.5 88.7h0M417.0 91.9h0M391.2 100.7h0M463.0 91.0h0M419.8 73.7h0M390.4 86.4h0M395.5 84.6h0M396.9 95.6h0M448.1 64.2h0M407.8 101.5h0M425.7 70.9h0M422.1 69.8h0M395.3 70.9h0M419.8 99.3h0M418.4 65.7h0M396.4 94.2h0M400.8 101.4h0M388.6 95.1h0M412.4 99.5h0M408.1 83.6h0M393.4 80.3h0M395.0 87.2h0M428.1 45.1h0M393.6 84.7h0M390.1 84.8h0M395.5 85.0h0M422.1 57.5h0M414.4 78.8h0M390.7 82.8h0M410.3 81.9h0M397.9 81.9h0M407.1 71.0h0M446.5 88.2h0M413.0 81.3h0M430.2 75.7h0M428.1 103.2h0M415.7 77.4h0M403.7 82.1h0M431.7 73.8h0M393.9 90.1h0" stroke="#b4c0ff" stroke-width="0.8" stroke-linecap="round"/>
<path d="M409.1 84.9h0M393.6 74.4h0M420.6 74.3h0M412.7 104.3h0M416.2 44.2h0M390.4 94.3h0M433.3 94.1h0M428.0 105.9h0M434.9 75.8h0M412.5 75.7h0M423.8 92.3h0M428.4 61.5h0M392.3 68.1h0M430.4 55.8h0M394.1 78.2h0M418.0 87.6h0M425.0 70.6h0M410.1 75.5h0M406.6 99.9h0M408.3 99.0h0M422.4 72.3h0M441.7 87.4h0M429.7 104.2h0M396.7 100.5h0M404.3 75.2h0M418.0 67.0h0M435.7 97.5h0M413.5 76.7h0M419.8 75.2h0M396.1 76.6h0M425.7 96.5h0M411.0 59.1h0M434.4 95.3h0M410.3 103.0h0M416.7 75.5h0M410.5 99.2h0M418.7 77.9h0M410.5 93.9h0M462.7 101.2h0M406.7 74.1h0M400.7 99.2h0M409.2 101.0h0M416.4 105.1h0M412.8 70.8h0M398.0 99.7h0M392.5 76.8h0M410.6 89.8h0M403.1 90.9h0M415.0 88.9h0M394.4 97.6h0M427.0 95.2h0M401.8 73.8h0M416.3 103.0h0M408.3 69.8h0M401.5 59.5h0M408.3 74.9h0M438.0 92.8h0M407.6 78.7h0M398.9 82.3h0M437.0 64.6h0M394.5 70.2h0M443.7 99.0h0M393.2 69.4h0M413.6 102.2h0M395.8 75.3h0M407.8 96.6h0M418.8 83.3h0M390.1 85.6h0M428.2 93.4h0M436.0 102.3h0M429.2 85.3h0M392.0 95.5h0M392.6 83.5h0M414.9 69.9h0M413.7 86.7h0M398.5 83.5h0M408.2 90.7h0M407.5 78.1h0M402.5 70.5h0M394.8 81.2h0M400.9 80.9h0M413.0 98.8h0M431.9 61.4h0M423.3 89.1h0M403.9 91.6h0M424.9 88.1h0M397.7 93.3h0M411.1 87.5h0M404.5 99.1h0M433.9 67.1h0M396.0 96.8h0M427.7 92.7h0M435.6 106.3h0M415.5 76.4h0M417.4 71.7h0M421.0 72.0h0M414.6 104.9h0M413.3 78.2h0M415.7 75.8h0M419.8 104.3h0" stroke="#3040a4" stroke-width="1.6" stroke-linecap="round"/>
<path d="M409.1 84.9h0M393.6 74.4h0M420.6 74.3h0M412.7 104.3h0M416.2 44.2h0M390.4 94.3h0M433.3 94.1h0M428.0 105.9h0M434.9 75.8h0M412.5 75.7h0M423.8 92.3h0M428.4 61.5h0M392.3 68.1h0M430.4 55.8h0M394.1 78.2h0M418.0 87.6h0M425.0 70.6h0M410.1 75.5h0M406.6 99.9h0M408.3 99.0h0M422.4 72.3h0M441.7 87.4h0M429.7 104.2h0M396.7 100.5h0M404.3 75.2h0M418.0 67.0h0M435.7 97.5h0M413.5 76.7h0M419.8 75.2h0M396.1 76.6h0M425.7 96.5h0M411.0 59.1h0M434.4 95.3h0M410.3 103.0h0M416.7 75.5h0M410.5 99.2h0M418.7 77.9h0M410.5 93.9h0M462.7 101.2h0M406.7 74.1h0M400.7 99.2h0M409.2 101.0h0M416.4 105.1h0M412.8 70.8h0M398.0 99.7h0M392.5 76.8h0M410.6 89.8h0M403.1 90.9h0M415.0 88.9h0M394.4 97.6h0M427.0 95.2h0M401.8 73.8h0M416.3 103.0h0M408.3 69.8h0M401.5 59.5h0M408.3 74.9h0M438.0 92.8h0M407.6 78.7h0M398.9 82.3h0M437.0 64.6h0M394.5 70.2h0M443.7 99.0h0M393.2 69.4h0M413.6 102.2h0M395.8 75.3h0M407.8 96.6h0M418.8 83.3h0M390.1 85.6h0M428.2 93.4h0M436.0 102.3h0M429.2 85.3h0M392.0 95.5h0M392.6 83.5h0M414.9 69.9h0M413.7 86.7h0M398.5 83.5h0M408.2 90.7h0M407.5 78.1h0M402.5 70.5h0M394.8 81.2h0M400.9 80.9h0M413.0 98.8h0M431.9 61.4h0M423.3 89.1h0M403.9 91.6h0M424.9 88.1h0M397.7 93.3h0M411.1 87.5h0M404.5 99.1h0M433.9 67.1h0M396.0 96.8h0M427.7 92.7h0M435.6 106.3h0M415.5 76.4h0M417.4 71.7h0M421.0 72.0h0M414.6 104.9h0M413.3 78.2h0M415.7 75.8h0M419.8 104.3h0" stroke="#b4c0ff" stroke-width="0.8" stroke-linecap="round"/>
<path d="M440.0 68.0h0M440.6 97.8h0M430.8 48.9h0M400.8 87.0h0M402.2 82.5h0M393.5 87.1h0M416.9 82.7h0M447.2 106.4h0M402.4 65.2h0M403.3 87.7h0M418.9 103.6h0M402.6 74.9h0M440.1 107.0h0M415.0 83.1h0M421.2 106.5h0M404.1 97.9h0M438.4 85.3h0M407.3 99.6h0M397.7 102.6h0M388.8 76.6h0M443.1 97.0h0M394.8 99.5h0M445.9 43.4h0M413.4 85.6h0M393.3 82.9h0M442.6 73.8h0M403.0 92.2h0M442.2 65.3h0M408.0 91.5h0M409.1 105.5h0M420.7 67.7h0M410.2 80.2h0M417.7 47.5h0M392.4 83.1h0M440.7 101.3h0M400.6 103.9h0M416.6 89.7h0M408.6 103.4h0M404.0 88.0h0M414.8 72.6h0M415.0 103.3h0M420.0 85.0h0M413.7 89.6h0M399.4 79.2h0M409.4 78.8h0M412.5 79.2h0M420.8 104.0h0M420.1 100.4h0M406.2 87.5h0M420.6 102.0h0M401.9 51.6h0M390.4 99.6h0M400.5 95.3h0M425.9 74.7h0M398.0 87.4h0M421.6 53.8h0M431.7 49.9h0M429.9 79.1h0M431.9 70.9h0M397.4 77.5h0M408.0 94.7h0M393.1 98.9h0M416.8 105.3h0M389.3 101.0h0M411.9 69.8h0M405.8 101.1h0M405.0 79.9h0M434.3 89.4h0M427.9 71.1h0M392.2 83.6h0M406.6 91.3h0M427.7 65.3h0M403.4 78.9h0M419.9 86.8h0M394.1 80.1h0M419.3 87.0h0M441.8 100.1h0M436.1 52.8h0M395.6 71.6h0M400.1 90.5h0M440.5 53.1h0M407.3 88.6h0M422.4 95.1h0M438.6 82.4h0M422.3 87.9h0M416.8 103.8h0M414.3 91.3h0M425.7 79.0h0M457.9 74.7h0M421.5 88.0h0M412.2 90.9h0M420.1 83.2h0M399.2 67.7h0M433.6 71.8h0M396.6 91.1h0M391.8 74.5h0M415.9 87.7h0M400.3 93.5h0M407.7 86.2h0M426.9 102.0h0" stroke="#3040a4" stroke-width="1.6" stroke-linecap="round"/>
<path d="M440.0 68.0h0M440.6 97.8h0M430.8 48.9h0M400.8 87.0h0M402.2 82.5h0M393.5 87.1h0M416.9 82.7h0M447.2 106.4h0M402.4 65.2h0M403.3 87.7h0M418.9 103.6h0M402.6 74.9h0M440.1 107.0h0M415.0 83.1h0M421.2 106.5h0M404.1 97.9h0M438.4 85.3h0M407.3 99.6h0M397.7 102.6h0M388.8 76.6h0M443.1 97.0h0M394.8 99.5h0M445.9 43.4h0M413.4 85.6h0M393.3 82.9h0M442.6 73.8h0M403.0 92.2h0M442.2 65.3h0M408.0 91.5h0M409.1 105.5h0M420.7 67.7h0M410.2 80.2h0M417.7 47.5h0M392.4 83.1h0M440.7 101.3h0M400.6 103.9h0M416.6 89.7h0M408.6 103.4h0M404.0 88.0h0M414.8 72.6h0M415.0 103.3h0M420.0 85.0h0M413.7 89.6h0M399.4 79.2h0M409.4 78.8h0M412.5 79.2h0M420.8 104.0h0M420.1 100.4h0M406.2 87.5h0M420.6 102.0h0M401.9 51.6h0M390.4 99.6h0M400.5 95.3h0M425.9 74.7h0M398.0 87.4h0M421.6 53.8h0M431.7 49.9h0M429.9 79.1h0M431.9 70.9h0M397.4 77.5h0M408.0 94.7h0M393.1 98.9h0M416.8 105.3h0M389.3 101.0h0M411.9 69.8h0M405.8 101.1h0M405.0 79.9h0M434.3 89.4h0M427.9 71.1h0M392.2 83.6h0M406.6 91.3h0M427.7 65.3h0M403.4 78.9h0M419.9 86.8h0M394.1 80.1h0M419.3 87.0h0M441.8 100.1h0M436.1 52.8h0M395.6 71.6h0M400.1 90.5h0M440.5 53.1h0M407.3 88.6h0M422.4 95.1h0M438.6 82.4h0M422.3 87.9h0M416.8 103.8h0M414.3 91.3h0M425.7 79.0h0M457.9 74.7h0M421.5 88.0h0M412.2 90.9h0M420.1 83.2h0M399.2 67.7h0M433.6 71.8h0M396.6 91.1h0M391.8 74.5h0M415.9 87.7h0M400.3 93.5h0M407.7 86.2h0M426.9 102.0h0" stroke="#b4c0ff" stroke-width="0.8" stroke-linecap="round"/>
<path d="M411.7 83.1h0M419.6 46.0h0M392.0 94.1h0M401.3 71.8h0M416.0 87.7h0M434.9 79.1h0M402.3 92.0h0M397.7 84.3h0M423.4 87.1h0M404.4 92.5h0M431.9 99.1h0M424.1 97.5h0M411.8 96.5h0M408.4 100.5h0M393.0 85.1h0M434.1 72.4h0M430.0 85.3h0M399.1 73.5h0M409.5 84.9h0M422.6 82.3h0M410.7 67.1h0M422.3 89.1h0M418.6 89.7h0M401.3 100.6h0M395.5 77.8h0M440.2 98.8h0M399.4 78.8h0M421.7 51.5h0M415.1 100.6h0M420.8 93.8h0M420.9 102.9h0M434.1 103.3h0M447.3 97.6h0M432.3 89.5h0M412.5 88.2h0M419.1 80.1h0M426.2 76.9h0M419.4 100.5h0M390.9 92.5h0M433.4 77.7h0M399.8 92.6h0M435.2 60.6h0M400.2 92.1h0M409.5 73.6h0M419.1 78.1h0M424.5 68.9h0M396.6 60.1h0M405.1 68.2h0M408.4 52.0h0M437.6 96.5h0M392.4 98.8h0M417.9 80.5h0M404.6 68.1h0M417.3 105.3h0M407.2 71.2h0M406.7 101.3h0M416.3 89.3h0M448.0 80.3h0M397.6 86.6h0M404.8 96.7h0M410.2 98.1h0M445.2 73.4h0M423.6 77.0h0M415.9 30.4h0M393.3 102.0h0M431.3 64.1h0M450.1 64.1h0M418.7 64.5h0M408.4 85.5h0M427.5 73.5h0M422.5 96.5h0M414.5 54.1h0M401.5 56.5h0M420.2 101.1h0M413.9 95.8h0M404.0 99.9h0M397.6 97.7h0M402.6 70.6h0M418.6 103.0h0M414.2 79.4h0M422.2 52.7h0M433.3 49.5h0M405.0 93.0h0M420.9 81.4h0M404.5 84.2h0M395.0 86.8h0M428.4 61.5h0M413.9 80.5h0M404.9 79.4h0M390.2 85.7h0M425.5 52.0h0M407.2 70.1h0M406.1 96.5h0M424.0 76.5h0M416.4 92.9h0M416.4 98.9h0M402.5 94.7h0M410.8 79.8h0M423.5 86.0h0M425.2 82.6h0" stroke="#3040a4" stroke-width="1.6" stroke-linecap="round"/>
<path d="M411.7 83.1h0M419.6 46.0h0M392.0 94.1h0M401.3 71.8h0M416.0 87.7h0M434.9 79.1h0M402.3 92.0h0M397.7 84.3h0M423.4 87.1h0M404.4 92.5h0M431.9 99.1h0M424.1 97.5h0M411.8 96.5h0M408.4 100.5h0M393.0 85.1h0M434.1 72.4h0M430.0 85.3h0M399.1 73.5h0M409.5 84.9h0M422.6 82.3h0M410.7 67.1h0M422.3 89.1h0M418.6 89.7h0M401.3 100.6h0M395.5 77.8h0M440.2 98.8h0M399.4 78.8h0M421.7 51.5h0M415.1 100.6h0M420.8 93.8h0M420.9 102.9h0M434.1 103.3h0M447.3 97.6h0M432.3 89.5h0M412.5 88.2h0M419.1 80.1h0M426.2 76.9h0M419.4 100.5h0M390.9 92.5h0M433.4 77.7h0M399.8 92.6h0M435.2 60.6h0M400.2 92.1h0M409.5 73.6h0M419.1 78.1h0M424.5 68.9h0M396.6 60.1h0M405.1 68.2h0M408.4 52.0h0M437.6 96.5h0M392.4 98.8h0M417.9 80.5h0M404.6 68.1h0M417.3 105.3h0M407.2 71.2h0M406.7 101.3h0M416.3 89.3h0M448.0 80.3h0M397.6 86.6h0M404.8 96.7h0M410.2 98.1h0M445.2 73.4h0M423.6 77.0h0M415.9 30.4h0M393.3 102.0h0M431.3 64.1h0M450.1 64.1h0M418.7 64.5h0M408.4 85.5h0M427.5 73.5h0M422.5 96.5h0M414.5 54.1h0M401.5 56.5h0M420.2 101.1h0M413.9 95.8h0M404.0 99.9h0M397.6 97.7h0M402.6 70.6h0M418.6 103.0h0M414.2 79.4h0M422.2 52.7h0M433.3 49.5h0M405.0 93.0h0M420.9 81.4h0M404.5 84.2h0M395.0 86.8h0M428.4 61.5h0M413.9 80.5h0M404.9 79.4h0M390.2 85.7h0M425.5 52.0h0M407.2 70.1h0M406.1 96.5h0M424.0 76.5h0M416.4 92.9h0M416.4 98.9h0M402.5 94.7h0M410.8 79.8h0M423.5 86.0h0M425.2 82.6h0" stroke="#b4c0ff" stroke-width="0.8" stroke-linecap="round"/>
<path d="M422.0 95.1h0M405.7 69.3h0M395.5 98.9h0M421.4 106.4h0M396.2 77.0h0M425.6 61.7h0M414.2 79.4h0M411.7 78.8h0M430.3 102.6h0M400.1 104.3h0M426.3 95.7h0M416.1 69.6h0M421.6 93.1h0M437.2 94.0h0M391.7 84.8h0M443.3 75.5h0M415.5 95.9h0M441.7 103.5h0M413.7 71.2h0M400.5 101.7h0M404.8 82.2h0M408.9 79.0h0M393.3 78.4h0M412.8 65.4h0M446.3 68.0h0M427.5 60.0h0M398.0 78.7h0M401.8 72.2h0M410.3 86.5h0M413.8 86.2h0M418.1 94.9h0M450.2 86.0h0M414.3 103.5h0M420.7 69.9h0M426.4 78.7h0M412.9 60.5h0M404.3 82.6h0M405.2 101.5h0M419.6 85.3h0M423.1 91.3h0M415.6 74.5h0M402.1 88.8h0M391.9 101.6h0M411.9 88.5h0M425.6 104.2h0M451.6 88.0h0M411.3 78.7h0M401.8 92.7h0M415.0 75.6h0M418.5 74.0h0M409.9 102.3h0M446.8 67.3h0M411.9 84.0h0M420.4 98.6h0M390.9 99.3h0M422.5 75.0h0M418.0 97.6h0M413.4 88.7h0M431.5 57.0h0M399.9 73.7h0M406.5 90.0h0M425.6 105.9h0M412.1 74.3h0M436.9 101.0h0M424.4 66.1h0M423.9 97.3h0M400.6 95.9h0M443.2 92.9h0M396.1 75.1h0M413.0 70.4h0M432.2 92.4h0M389.3 71.2h0M429.5 92.3h0M390.4 54.6h0M418.1 72.7h0M402.6 97.9h0M421.6 86.5h0M405.0 88.6h0M395.8 94.7h0M423.2 86.2h0M425.4 87.6h0M420.2 98.7h0M402.0 94.4h0M414.9 50.5h0M429.3 91.9h0M389.4 98.7h0M423.9 104.6h0M425.2 100.4h0M394.1 98.0h0M411.8 82.0h0M409.2 78.9h0M405.6 102.6h0M422.5 100.4h0M431.6 77.8h0M402.4 81.3h0M391.1 95.6h0M409.9 94.9h0M415.5 101.2h0M441.9 68.0h0M396.7 93.1h0" stroke="#3040a4" stroke-width="1.6" stroke-linecap="round"/>
<path d="M422.0 95.1h0M405.7 69.3h0M395.5 98.9h0M421.4 106.4h0M396.2 77.0h0M425.6 61.7h0M414.2 79.4h0M411.7 78.8h0M430.3 102.6h0M400.1 104.3h0M426.3 95.7h0M416.1 69.6h0M421.6 93.1h0M437.2 94.0h0M391.7 84.8h0M443.3 75.5h0M415.5 95.9h0M441.7 103.5h0M413.7 71.2h0M400.5 101.7h0M404.8 82.2h0M408.9 79.0h0M393.3 78.4h0M412.8 65.4h0M446.3 68.0h0M427.5 60.0h0M398.0 78.7h0M401.8 72.2h0M410.3 86.5h0M413.8 86.2h0M418.1 94.9h0M450.2 86.0h0M414.3 103.5h0M420.7 69.9h0M426.4 78.7h0M412.9 60.5h0M404.3 82.6h0M405.2 101.5h0M419.6 85.3h0M423.1 91.3h0M415.6 74.5h0M402.1 88.8h0M391.9 101.6h0M411.9 88.5h0M425.6 104.2h0M451.6 88.0h0M411.3 78.7h0M401.8 92.7h0M415.0 75.6h0M418.5 74.0h0M409.9 102.3h0M446.8 67.3h0M411.9 84.0h0M420.4 98.6h0M390.9 99.3h0M422.5 75.0h0M418.0 97.6h0M413.4 88.7h0M431.5 57.0h0M399.9 73.7h0M406.5 90.0h0M425.6 105.9h0M412.1 74.3h0M436.9 101.0h0M424.4 66.1h0M423.9 97.3h0M400.6 95.9h0M443.2 92.9h0M396.1 75.1h0M413.0 70.4h0M432.2 92.4h0M389.3 71.2h0M429.5 92.3h0M390.4 54.6h0M418.1 72.7h0M402.6 97.9h0M421.6 86.5h0M405.0 88.6h0M395.8 94.7h0M423.2 86.2h0M425.4 87.6h0M420.2 98.7h0M402.0 94.4h0M414.9 50.5h0M429.3 91.9h0M389.4 98.7h0M423.9 104.6h0M425.2 100.4h0M394.1 98.0h0M411.8 82.0h0M409.2 78.9h0M405.6 102.6h0M422.5 100.4h0M431.6 77.8h0M402.4 81.3h0M391.1 95.6h0M409.9 94.9h0M415.5 101.2h0M441.9 68.0h0M396.7 93.1h0" stroke="#b4c0ff" stroke-width="0.8" stroke-linecap="round"/>
<path d="M416.5 80.6h0M414.8 91.2h0M402.4 76.0h0M425.1 103.3h0M421.7 100.9h0M413.8 103.0h0M415.7 103.6h0M429.1 78.8h0M413.1 55.6h0M423.3 86.4h0M437.8 100.4h0M394.9 87.9h0M422.5 74.9h0M397.1 69.6h0M425.5 90.2h0M426.0 76.4h0M408.5 76.5h0M402.6 71.3h0M400.0 91.6h0M404.3 97.4h0M419.6 67.0h0M416.5 100.5h0M426.0 73.1h0M414.7 92.2h0M407.0 90.7h0M435.5 85.2h0M428.6 77.5h0M395.6 98.9h0M401.8 90.2h0M400.1 99.0h0M406.4 71.6h0M393.2 86.7h0M414.2 60.4h0M389.4 89.2h0M424.4 88.9h0M428.1 76.6h0M408.5 84.2h0M415.3 85.4h0M391.0 89.5h0M410.0 92.9h0M434.5 103.3h0M422.0 67.1h0M417.4 79.0h0M457.9 92.7h0M409.5 91.8h0M420.7 78.9h0M414.0 88.9h0M397.9 88.2h0M418.1 98.4h0M426.8 100.3h0M423.3 97.9h0M433.0 70.6h0M412.8 103.4h0M411.6 90.2h0M403.4 93.0h0M408.8 99.6h0M427.7 68.9h0M421.6 60.2h0M414.8 96.4h0M393.5 100.6h0M425.1 75.8h0M404.9 86.2h0M451.5 48.1h0M449.3 66.1h0M408.0 98.8h0M421.9 91.9h0M423.9 78.4h0M418.5 70.7h0M394.0 95.4h0M417.2 102.9h0M422.7 84.5h0M423.9 95.0h0M412.8 69.8h0M433.5 80.0h0M424.2 83.5h0M440.5 66.7h0M409.4 99.7h0M416.3 95.5h0M395.0 90.2h0M417.2 65.0h0M424.2 85.6h0M451.4 71.8h0M399.8 73.5h0M392.8 92.4h0M399.3 88.6h0M427.0 56.3h0M393.5 81.0h0M416.1 102.3h0M434.9 69.3h0M416.5 74.5h0M417.8 90.9h0M434.9 84.6h0M391.8 91.5h0M418.1 88.4h0M432.0 106.1h0M430.8 76.2h0M427.8 100.1h0M425.8 67.8h0M394.3 81.3h0M418.6 77.1h0" stroke="#3040a4" stroke-width="1.6" stroke-linecap="round"/>
<path d="M416.5 80.6h0M414.8 91.2h0M402.4 76.0h0M425.1 103.3h0M421.7 100.9h0M413.8 103.0h0M415.7 103.6h0M429.1 78.8h0M413.1 55.6h0M423.3 86.4h0M437.8 100.4h0M394.9 87.9h0M422.5 74.9h0M397.1 69.6h0M425.5 90.2h0M426.0 76.4h0M408.5 76.5h0M402.6 71.3h0M400.0 91.6h0M404.3 97.4h0M419.6 67.0h0M416.5 100.5h0M426.0 73.1h0M414.7 92.2h0M407.0 90.7h0M435.5 85.2h0M428.6 77.5h0M395.6 98.9h0M401.8 90.2h0M400.1 99.0h0M406.4 71.6h0M393.2 86.7h0M414.2 60.4h0M389.4 89.2h0M424.4 88.9h0M428.1 76.6h0M408.5 84.2h0M415.3 85.4h0M391.0 89.5h0M410.0 92.9h0M434.5 103.3h0M422.0 67.1h0M417.4 79.0h0M457.9 92.7h0M409.5 91.8h0M420.7 78.9h0M414.0 88.9h0M397.9 88.2h0M418.1 98.4h0M426.8 100.3h0M423.3 97.9h0M433.0 70.6h0M412.8 103.4h0M411.6 90.2h0M403.4 93.0h0M408.8 99.6h0M427.7 68.9h0M421.6 60.2h0M414.8 96.4h0M393.5 100.6h0M425.1 75.8h0M404.9 86.2h0M451.5 48.1h0M449.3 66.1h0M408.0 98.8h0M421.9 91.9h0M423.9 78.4h0M418.5 70.7h0M394.0 95.4h0M417.2 102.9h0M422.7 84.5h0M423.9 95.0h0M412.8 69.8h0M433.5 80.0h0M424.2 83.5h0M440.5 66.7h0M409.4 99.7h0M416.3 95.5h0M395.0 90.2h0M417.2 65.0h0M424.2 85.6h0M451.4 71.8h0M399.8 73.5h0M392.8 92.4h0M399.3 88.6h0M427.0 56.3h0M393.5 81.0h0M416.1 102.3h0M434.9 69.3h0M416.5 74.5h0M417.8 90.9h0M434.9 84.6h0M391.8 91.5h0M418.1 88.4h0M432.0 106.1h0M430.8 76.2h0M427.8 100.1h0M425.8 67.8h0M394.3 81.3h0M418.6 77.1h0" stroke="#b4c0ff" stroke-width="0.8" stroke-linecap="round"/>
<path d="M414.0 87.8h0M427.5 72.6h0M392.6 77.9h0M409.0 102.0h0M397.5 74.3h0M391.4 97.1h0M402.3 103.6h0M404.3 99.0h0M408.9 81.8h0M403.0 83.6h0M399.5 90.1h0M410.4 80.5h0M424.1 58.2h0M393.4 81.4h0M396.3 78.4h0M412.1 101.6h0M426.8 98.4h0M417.6 70.4h0M391.1 91.5h0M392.0 90.1h0M399.0 104.9h0M399.7 78.4h0M403.3 64.7h0M402.9 70.5h0M420.0 97.9h0M426.3 93.9h0M418.2 88.9h0M426.8 81.9h0M412.9 54.2h0M428.3 80.6h0M406.2 99.3h0M412.1 82.6h0M402.4 71.7h0M423.4 51.0h0M406.4 85.1h0M409.7 80.4h0M409.1 95.1h0M406.6 89.3h0M422.3 105.0h0M389.8 74.6h0M400.1 79.8h0M405.9 74.8h0M422.5 94.6h0M412.4 98.4h0M429.2 84.1h0M415.5 50.4h0M425.2 55.3h0M448.4 77.8h0M416.2 88.1h0M429.3 104.5h0M409.6 94.2h0M398.6 83.2h0M415.1 78.8h0M412.0 98.8h0M422.0 80.4h0M397.9 91.1h0M426.2 76.5h0M430.9 80.2h0M396.4 73.6h0M413.9 94.0h0M407.2 98.9h0M434.9 95.8h0M398.1 95.0h0M405.3 91.7h0M406.8 104.6h0M400.3 47.3h0M423.4 71.0h0M417.2 48.3h0M424.0 85.0h0M429.9 72.7h0M410.3 105.2h0M428.2 78.4h0M424.6 103.8h0M396.6 76.1h0M426.4 79.3h0M409.5 86.5h0M433.4 94.7h0M402.2 101.0h0M420.5 72.5h0M417.0 63.6h0M429.0 75.3h0M429.0 82.0h0M401.6 89.9h0M419.4 101.8h0M434.7 96.6h0M444.6 64.5h0M402.5 86.5h0M425.5 76.3h0M401.1 75.7h0M400.6 86.7h0M407.6 47.5h0M426.5 84.2h0M389.0 75.5h0M407.1 85.3h0M405.9 95.5h0M437.9 71.9h0M409.2 82.4h0M397.5 87.3h0M422.9 79.4h0M395.7 93.8h0" stroke="#3040a4" stroke-width="1.6" stroke-linecap="round"/>
<path d="M414.0 87.8h0M427.5 72.6h0M392.6 77.9h0M409.0 102.0h0M397.5 74.3h0M391.4 97.1h0M402.3 103.6h0M404.3 99.0h0M408.9 81.8h0M403.0 83.6h0M399.5 90.1h0M410.4 80.5h0M424.1 58.2h0M393.4 81.4h0M396.3 78.4h0M412.1 101.6h0M426.8 98.4h0M417.6 70.4h0M391.1 91.5h0M392.0 90.1h0M399.0 104.9h0M399.7 78.4h0M403.3 64.7h0M402.9 70.5h0M420.0 97.9h0M426.3 93.9h0M418.2 88.9h0M426.8 81.9h0M412.9 54.2h0M428.3 80.6h0M406.2 99.3h0M412.1 82.6h0M402.4 71.7h0M423.4 51.0h0M406.4 85.1h0M409.7 80.4h0M409.1 95.1h0M406.6 89.3h0M422.3 105.0h0M389.8 74.6h0M400.1 79.8h0M405.9 74.8h0M422.5 94.6h0M412.4 98.4h0M429.2 84.1h0M415.5 50.4h0M425.2 55.3h0M448.4 77.8h0M416.2 88.1h0M429.3 104.5h0M409.6 94.2h0M398.6 83.2h0M415.1 78.8h0M412.0 98.8h0M422.0 80.4h0M397.9 91.1h0M426.2 76.5h0M430.9 80.2h0M396.4 73.6h0M413.9 94.0h0M407.2 98.9h0M434.9 95.8h0M398.1 95.0h0M405.3 91.7h0M406.8 104.6h0M400.3 47.3h0M423.4 71.0h0M417.2 48.3h0M424.0 85.0h0M429.9 72.7h0M410.3 105.2h0M428.2 78.4h0M424.6 103.8h0M396.6 76.1h0M426.4 79.3h0M409.5 86.5h0M433.4 94.7h0M402.2 101.0h0M420.5 72.5h0M417.0 63.6h0M429.0 75.3h0M429.0 82.0h0M401.6 89.9h0M419.4 101.8h0M434.7 96.6h0M444.6 64.5h0M402.5 86.5h0M425.5 76.3h0M401.1 75.7h0M400.6 86.7h0M407.6 47.5h0M426.5 84.2h0M389.0 75.5h0M407.1 85.3h0M405.9 95.5h0M437.9 71.9h0M409.2 82.4h0M397.5 87.3h0M422.9 79.4h0M395.7 93.8h0" stroke="#b4c0ff" stroke-width="0.8" stroke-linecap="round"/>
<path d="M407.4 76.1h0M422.7 97.1h0M419.6 83.9h0M415.9 71.1h0M415.2 76.9h0M396.0 97.0h0M402.8 94.9h0M409.5 69.5h0M412.3 72.6h0M431.8 95.6h0M408.0 94.0h0M414.4 61.2h0M398.1 69.9h0M425.5 66.6h0M403.5 99.9h0M399.5 75.6h0M389.1 84.1h0M434.3 91.8h0M420.5 85.4h0M406.0 65.9h0M406.0 74.2h0M437.5 92.8h0M392.4 102.6h0M422.5 95.9h0M438.9 74.2h0M400.4 91.7h0M430.9 93.9h0M408.7 100.2h0M406.1 88.4h0M428.9 79.7h0M401.6 78.2h0M406.7 71.4h0M436.7 81.0h0M395.1 98.9h0M417.6 91.7h0M421.2 70.0h0M394.0 70.6h0M437.1 92.4h0M412.2 103.1h0M411.8 81.4h0M422.5 96.4h0M401.9 83.7h0M417.0 89.3h0M426.4 104.1h0M397.7 76.9h0M433.6 73.7h0M415.0 101.5h0M388.7 90.2h0M430.7 89.5h0M419.0 70.2h0M440.1 97.1h0M417.1 98.7h0M392.9 75.7h0M413.2 100.6h0M434.4 99.1h0M416.4 69.1h0M398.7 89.9h0M392.7 76.7h0M417.9 89.1h0M392.6 103.2h0M396.3 74.8h0M400.0 85.2h0M416.0 96.0h0M424.0 102.4h0M416.4 93.5h0M390.1 96.0h0M396.9 102.3h0M435.1 97.3h0M421.5 69.8h0M397.8 102.2h0M394.5 91.4h0M406.2 79.1h0M396.9 76.1h0M391.9 84.4h0M409.0 93.5h0M428.9 96.0h0M410.5 97.1h0M421.9 89.0h0M428.5 92.2h0M424.7 90.4h0M411.0 89.5h0M427.7 84.6h0M405.2 88.0h0M411.0 92.1h0M395.9 78.7h0M434.7 98.2h0M414.7 100.2h0M390.1 79.0h0M405.5 53.5h0M391.0 79.9h0M403.7 91.8h0M404.6 90.4h0M410.1 100.0h0M424.8 64.1h0M435.2 97.3h0M426.6 73.4h0M417.9 78.7h0M400.3 97.1h0M419.9 76.7h0M397.0 96.9h0" stroke="#3040a4" stroke-width="1.6" stroke-linecap="round"/>
<path d="M407.4 76.1h0M422.7 97.1h0M419.6 83.9h0M415.9 71.1h0M415.2 76.9h0M396.0 97.0h0M402.8 94.9h0M409.5 69.5h0M412.3 72.6h0M431.8 95.6h0M408.0 94.0h0M414.4 61.2h0M398.1 69.9h0M425.5 66.6h0M403.5 99.9h0M399.5 75.6h0M389.1 84.1h0M434.3 91.8h0M420.5 85.4h0M406.0 65.9h0M406.0 74.2h0M437.5 92.8h0M392.4 102.6h0M422.5 95.9h0M438.9 74.2h0M400.4 91.7h0M430.9 93.9h0M408.7 100.2h0M406.1 88.4h0M428.9 79.7h0M401.6 78.2h0M406.7 71.4h0M436.7 81.0h0M395.1 98.9h0M417.6 91.7h0M421.2 70.0h0M394.0 70.6h0M437.1 92.4h0M412.2 103.1h0M411.8 81.4h0M422.5 96.4h0M401.9 83.7h0M417.0 89.3h0M426.4 104.1h0M397.7 76.9h0M433.6 73.7h0M415.0 101.5h0M388.7 90.2h0M430.7 89.5h0M419.0 70.2h0M440.1 97.1h0M417.1 98.7h0M392.9 75.7h0M413.2 100.6h0M434.4 99.1h0M416.4 69.1h0M398.7 89.9h0M392.7 76.7h0M417.9 89.1h0M392.6 103.2h0M396.3 74.8h0M400.0 85.2h0M416.0 96.0h0M424.0 102.4h0M416.4 93.5h0M390.1 96.0h0M396.9 102.3h0M435.1 97.3h0M421.5 69.8h0M397.8 102.2h0M394.5 91.4h0M406.2 79.1h0M396.9 76.1h0M391.9 84.4h0M409.0 93.5h0M428.9 96.0h0M410.5 97.1h0M421.9 89.0h0M428.5 92.2h0M424.7 90.4h0M411.0 89.5h0M427.7 84.6h0M405.2 88.0h0M411.0 92.1h0M395.9 78.7h0M434.7 98.2h0M414.7 100.2h0M390.1 79.0h0M405.5 53.5h0M391.0 79.9h0M403.7 91.8h0M404.6 90.4h0M410.1 100.0h0M424.8 64.1h0M435.2 97.3h0M426.6 73.4h0M417.9 78.7h0M400.3 97.1h0M419.9 76.7h0M397.0 96.9h0" stroke="#b4c0ff" stroke-width="0.8" stroke-linecap="round"/>
<path d="M418.1 86.6h0M421.6 81.3h0M428.3 89.1h0M437.5 70.5h0M430.1 77.0h0M426.0 83.2h0M425.2 87.4h0M407.1 93.8h0M391.5 82.9h0M426.8 73.1h0M393.0 58.2h0M406.6 87.7h0M422.6 106.0h0M427.3 72.8h0M423.1 94.3h0M428.6 63.7h0M407.0 104.8h0M394.7 72.7h0M389.9 80.7h0M407.2 72.2h0M396.1 94.5h0M393.0 97.6h0M423.8 79.6h0M406.1 71.0h0M402.5 99.3h0M411.1 89.2h0M425.4 46.2h0M391.9 63.1h0M427.8 104.6h0M396.7 93.8h0M403.5 57.7h0M399.4 74.6h0M422.0 93.7h0M431.2 83.5h0M391.9 81.1h0M414.1 70.1h0M397.5 88.3h0M394.7 73.4h0M427.8 88.8h0M389.0 72.5h0M410.3 72.2h0M437.8 101.8h0M409.6 91.2h0M413.2 69.7h0M426.3 66.1h0M395.7 78.0h0M440.1 57.0h0M407.9 96.8h0M402.6 61.7h0M390.9 85.0h0M435.7 70.8h0M398.7 68.8h0M419.7 78.4h0M450.7 99.6h0M422.7 103.4h0M397.6 70.4h0M390.3 72.6h0M396.3 75.3h0M389.9 84.4h0M389.1 74.2h0M421.3 79.5h0M428.8 85.3h0M417.3 92.8h0M429.5 73.7h0M392.6 96.8h0M392.7 74.9h0M417.7 101.9h0M431.5 84.2h0M395.1 92.3h0M408.0 85.0h0M431.6 93.0h0M437.7 68.4h0M411.5 87.3h0M416.9 93.6h0M391.0 71.0h0M410.8 58.4h0M418.1 97.4h0M410.3 76.4h0M414.4 95.3h0M420.6 80.7h0M420.1 105.6h0M404.9 84.0h0M429.0 70.2h0M408.0 77.9h0M407.8 91.7h0M399.2 78.0h0M418.6 51.4h0M410.5 77.3h0M407.1 83.9h0M440.9 108.9h0M396.2 73.3h0M441.7 98.7h0M407.2 96.1h0M443.1 56.7h0M405.7 81.7h0M401.6 98.9h0M410.6 74.5h0M417.9 74.7h0M399.8 73.9h0M406.5 86.2h0" stroke="#3040a4" stroke-width="1.6" stroke-linecap="round"/>
<path d="M418.1 86.6h0M421.6 81.3h0M428.3 89.1h0M437.5 70.5h0M430.1 77.0h0M426.0 83.2h0M425.2 87.4h0M407.1 93.8h0M391.5 82.9h0M426.8 73.1h0M393.0 58.2h0M406.6 87.7h0M422.6 106.0h0M427.3 72.8h0M423.1 94.3h0M428.6 63.7h0M407.0 104.8h0M394.7 72.7h0M389.9 80.7h0M407.2 72.2h0M396.1 94.5h0M393.0 97.6h0M423.8 79.6h0M406.1 71.0h0M402.5 99.3h0M411.1 89.2h0M425.4 46.2h0M391.9 63.1h0M427.8 104.6h0M396.7 93.8h0M403.5 57.7h0M399.4 74.6h0M422.0 93.7h0M431.2 83.5h0M391.9 81.1h0M414.1 70.1h0M397.5 88.3h0M394.7 73.4h0M427.8 88.8h0M389.0 72.5h0M410.3 72.2h0M437.8 101.8h0M409.6 91.2h0M413.2 69.7h0M426.3 66.1h0M395.7 78.0h0M440.1 57.0h0M407.9 96.8h0M402.6 61.7h0M390.9 85.0h0M435.7 70.8h0M398.7 68.8h0M419.7 78.4h0M450.7 99.6h0M422.7 103.4h0M397.6 70.4h0M390.3 72.6h0M396.3 75.3h0M389.9 84.4h0M389.1 74.2h0M421.3 79.5h0M428.8 85.3h0M417.3 92.8h0M429.5 73.7h0M392.6 96.8h0M392.7 74.9h0M417.7 101.9h0M431.5 84.2h0M395.1 92.3h0M408.0 85.0h0M431.6 93.0h0M437.7 68.4h0M411.5 87.3h0M416.9 93.6h0M391.0 71.0h0M410.8 58.4h0M418.1 97.4h0M410.3 76.4h0M414.4 95.3h0M420.6 80.7h0M420.1 105.6h0M404.9 84.0h0M429.0 70.2h0M408.0 77.9h0M407.8 91.7h0M399.2 78.0h0M418.6 51.4h0M410.5 77.3h0M407.1 83.9h0M440.9 108.9h0M396.2 73.3h0M441.7 98.7h0M407.2 96.1h0M443.1 56.7h0M405.7 81.7h0M401.6 98.9h0M410.6 74.5h0M417.9 74.7h0M399.8 73.9h0M406.5 86.2h0" stroke="#b4c0ff" stroke-width="0.8" stroke-linecap="round"/>
<path d="M406.3 77.0h0M448.9 63.4h0M415.9 61.8h0M393.5 103.8h0M418.3 70.2h0M436.0 74.3h0M425.9 91.0h0M433.4 94.4h0M416.7 94.3h0M399.6 72.6h0M411.9 90.8h0M405.0 90.4h0M416.3 96.5h0M391.9 83.5h0M399.6 70.3h0M405.8 104.7h0M408.7 60.6h0M413.8 77.8h0M438.3 97.7h0M397.8 94.0h0M430.4 97.1h0M425.1 89.9h0M404.6 70.1h0M403.2 76.3h0M432.0 69.1h0M445.7 95.7h0M415.6 103.5h0M403.7 84.3h0M423.0 102.8h0M390.1 93.9h0M415.8 96.2h0M418.1 77.8h0M404.2 85.9h0M410.0 84.6h0M402.0 76.1h0M433.8 91.2h0M389.5 83.1h0M422.8 74.4h0M407.3 75.2h0M412.3 42.9h0M422.2 77.0h0M425.1 103.8h0M418.8 105.0h0M426.6 58.2h0M430.6 93.4h0M412.1 57.3h0M406.6 80.7h0M405.1 94.9h0M401.0 69.8h0M405.1 83.4h0M394.3 69.8h0M426.3 100.6h0M425.4 103.6h0M409.4 91.3h0M437.8 102.9h0M414.1 98.3h0M414.2 98.6h0M391.8 92.5h0M425.2 106.3h0M424.0 71.9h0M413.0 92.2h0M408.2 98.0h0M419.1 72.6h0M413.3 95.6h0M427.7 90.2h0M392.1 81.4h0M422.6 93.5h0M418.3 100.4h0M426.8 82.8h0M406.9 89.7h0M420.8 105.3h0M409.3 93.2h0M435.6 66.6h0M390.6 76.0h0M415.9 74.0h0M430.2 92.5h0M390.4 41.5h0M393.7 89.7h0M399.7 71.7h0M418.0 72.6h0M395.9 93.1h0M438.0 99.2h0M410.8 81.7h0M389.6 51.3h0M441.4 68.4h0M402.6 78.0h0M396.8 74.5h0M421.0 53.1h0M411.3 90.1h0M395.0 103.9h0M417.1 62.9h0M395.5 86.1h0M412.9 77.5h0M405.7 80.5h0M424.8 78.7h0M402.7 69.8h0M450.2 56.1h0M412.8 90.0h0M392.4 93.1h0M410.0 73.1h0" stroke="#3040a4" stroke-width="1.6" stroke-linecap="round"/>
<path d="M406.3 77.0h0M448.9 63.4h0M415.9 61.8h0M393.5 103.8h0M418.3 70.2h0M436.0 74.3h0M425.9 91.0h0M433.4 94.4h0M416.7 94.3h0M399.6 72.6h0M411.9 90.8h0M405.0 90.4h0M416.3 96.5h0M391.9 83.5h0M399.6 70.3h0M405.8 104.7h0M408.7 60.6h0M413.8 77.8h0M438.3 97.7h0M397.8 94.0h0M430.4 97.1h0M425.1 89.9h0M404.6 70.1h0M403.2 76.3h0M432.0 69.1h0M445.7 95.7h0M415.6 103.5h0M403.7 84.3h0M423.0 102.8h0M390.1 93.9h0M415.8 96.2h0M418.1 77.8h0M404.2 85.9h0M410.0 84.6h0M402.0 76.1h0M433.8 91.2h0M389.5 83.1h0M422.8 74.4h0M407.3 75.2h0M412.3 42.9h0M422.2 77.0h0M425.1 103.8h0M418.8 105.0h0M426.6 58.2h0M430.6 93.4h0M412.1 57.3h0M406.6 80.7h0M405.1 94.9h0M401.0 69.8h0M405.1 83.4h0M394.3 69.8h0M426.3 100.6h0M425.4 103.6h0M409.4 91.3h0M437.8 102.9h0M414.1 98.3h0M414.2 98.6h0M391.8 92.5h0M425.2 106.3h0M424.0 71.9h0M413.0 92.2h0M408.2 98.0h0M419.1 72.6h0M413.3 95.6h0M427.7 90.2h0M392.1 81.4h0M422.6 93.5h0M418.3 100.4h0M426.8 82.8h0M406.9 89.7h0M420.8 105.3h0M409.3 93.2h0M435.6 66.6h0M390.6 76.0h0M415.9 74.0h0M430.2 92.5h0M390.4 41.5h0M393.7 89.7h0M399.7 71.7h0M418.0 72.6h0M395.9 93.1h0M438.0 99.2h0M410.8 81.7h0M389.6 51.3h0M441.4 68.4h0M402.6 78.0h0M396.8 74.5h0M421.0 53.1h0M411.3 90.1h0M395.0 103.9h0M417.1 62.9h0M395.5 86.1h0M412.9 77.5h0M405.7 80.5h0M424.8 78.7h0M402.7 69.8h0M450.2 56.1h0M412.8 90.0h0M392.4 93.1h0M410.0 73.1h0" stroke="#b4c0ff" stroke-width="0.8" stroke-linecap="round"/>
<path d="M415.4 103.7h0M426.2 99.3h0M399.7 97.7h0M424.5 102.6h0M431.8 101.5h0M425.0 64.5h0M395.5 74.9h0M408.2 94.7h0M445.5 66.8h0M411.5 103.2h0M391.5 88.0h0M433.6 47.6h0M427.2 96.5h0M407.9 73.3h0M390.2 59.4h0M395.6 86.5h0M393.5 88.8h0M448.4 38.6h0M418.6 81.3h0M440.3 73.2h0M409.8 97.3h0M449.2 102.0h0M399.4 82.2h0M397.0 76.3h0M395.6 79.8h0M438.4 49.5h0M417.1 74.9h0M403.5 102.9h0M392.6 99.8h0M399.7 67.5h0M395.1 93.0h0M415.5 74.9h0M424.5 96.7h0M438.4 92.0h0M436.3 104.1h0M402.0 85.9h0M392.3 100.1h0M396.8 74.6h0M414.4 93.5h0M393.3 72.5h0M421.8 96.1h0M427.1 107.5h0M394.6 81.7h0M404.5 54.6h0M417.0 74.3h0M396.7 68.9h0M405.1 90.4h0M403.1 97.9h0M401.7 61.9h0M416.9 81.2h0M409.0 90.5h0M443.0 62.7h0M418.3 60.5h0M435.2 93.0h0M403.3 84.3h0M444.1 83.3h0M421.6 102.4h0M411.6 75.4h0M406.7 96.4h0M400.9 46.1h0M405.1 53.5h0M393.5 92.3h0M425.7 85.5h0M388.7 86.0h0M398.0 87.9h0M419.5 100.5h0M421.3 86.2h0M431.9 60.3h0M424.0 91.9h0M407.4 68.8h0M443.5 107.6h0M394.3 87.5h0M400.9 97.9h0M411.2 71.1h0M394.9 77.3h0M393.5 70.7h0M396.3 92.4h0M413.1 95.3h0M405.0 79.8h0M400.6 88.3h0M412.1 80.3h0M395.4 64.1h0M400.1 76.9h0M424.9 56.9h0M421.7 93.5h0M425.3 103.5h0M422.8 91.0h0M432.6 77.1h0M399.4 83.3h0M397.5 89.4h0M411.4 69.4h0M434.1 96.6h0M421.9 94.7h0M394.5 70.3h0M395.3 68.0h0M432.0 71.5h0M404.3 101.2h0M392.9 82.5h0M400.7 101.8h0M400.5 59.4h0" stroke="#3040a4" stroke-width="1.6" stroke-linecap="round"/>
<path d="M415.4 103.7h0M426.2 99.3h0M399.7 97.7h0M424.5 102.6h0M431.8 101.5h0M425.0 64.5h0M395.5 74.9h0M408.2 94.7h0M445.5 66.8h0M411.5 103.2h0M391.5 88.0h0M433.6 47.6h0M427.2 96.5h0M407.9 73.3h0M390.2 59.4h0M395.6 86.5h0M393.5 88.8h0M448.4 38.6h0M418.6 81.3h0M440.3 73.2h0M409.8 97.3h0M449.2 102.0h0M399.4 82.2h0M397.0 76.3h0M395.6 79.8h0M438.4 49.5h0M417.1 74.9h0M403.5 102.9h0M392.6 99.8h0M399.7 67.5h0M395.1 93.0h0M415.5 74.9h0M424.5 96.7h0M438.4 92.0h0M436.3 104.1h0M402.0 85.9h0M392.3 100.1h0M396.8 74.6h0M414.4 93.5h0M393.3 72.5h0M421.8 96.1h0M427.1 107.5h0M394.6 81.7h0M404.5 54.6h0M417.0 74.3h0M396.7 68.9h0M405.1 90.4h0M403.1 97.9h0M401.7 61.9h0M416.9 81.2h0M409.0 90.5h0M443.0 62.7h0M418.3 60.5h0M435.2 93.0h0M403.3 84.3h0M444.1 83.3h0M421.6 102.4h0M411.6 75.4h0M406.7 96.4h0M400.9 46.1h0M405.1 53.5h0M393.5 92.3h0M425.7 85.5h0M388.7 86.0h0M398.0 87.9h0M419.5 100.5h0M421.3 86.2h0M431.9 60.3h0M424.0 91.9h0M407.4 68.8h0M443.5 107.6h0M394.3 87.5h0M400.9 97.9h0M411.2 71.1h0M394.9 77.3h0M393.5 70.7h0M396.3 92.4h0M413.1 95.3h0M405.0 79.8h0M400.6 88.3h0M412.1 80.3h0M395.4 64.1h0M400.1 76.9h0M424.9 56.9h0M421.7 93.5h0M425.3 103.5h0M422.8 91.0h0M432.6 77.1h0M399.4 83.3h0M397.5 89.4h0M411.4 69.4h0M434.1 96.6h0M421.9 94.7h0M394.5 70.3h0M395.3 68.0h0M432.0 71.5h0M404.3 101.2h0M392.9 82.5h0M400.7 101.8h0M400.5 59.4h0" stroke="#b4c0ff" stroke-width="0.8" stroke-linecap="round"/>
<path d="M411.4 101.2h0M391.7 88.8h0M396.8 79.0h0M389.2 94.6h0M389.8 101.5h0M425.2 69.0h0M437.6 95.4h0M423.7 53.8h0M422.4 79.5h0M408.6 88.2h0M404.1 74.6h0M405.8 85.8h0M404.9 72.2h0M433.4 73.9h0M409.6 89.3h0M418.6 63.3h0M416.0 79.3h0M390.9 80.4h0M445.3 71.7h0M418.1 104.3h0M432.8 97.7h0M393.2 91.7h0M422.2 71.5h0M403.5 104.0h0M417.5 84.7h0M420.9 88.7h0M422.5 104.3h0M413.1 63.2h0M417.5 99.8h0M399.2 65.2h0M431.0 89.6h0M409.3 72.0h0M420.3 85.2h0M393.6 87.6h0M396.9 73.0h0M399.4 57.3h0M406.5 87.2h0M421.7 74.6h0M416.1 104.7h0M414.6 69.1h0M436.8 102.1h0M392.2 99.9h0M416.7 86.9h0M411.9 62.8h0M404.5 87.8h0M432.8 96.4h0M408.2 94.9h0M413.6 102.8h0M397.4 87.3h0M389.5 76.9h0M398.4 78.3h0M407.6 83.9h0M400.6 86.8h0M406.7 71.9h0M420.4 96.1h0M396.6 88.2h0M414.9 78.7h0M394.6 102.1h0M437.3 49.3h0M414.0 82.0h0M405.7 82.0h0M417.2 99.6h0M421.9 96.3h0M394.7 71.3h0M420.3 73.9h0M424.4 74.8h0M398.4 75.7h0M406.3 86.3h0M431.3 59.2h0M429.3 71.6h0M428.0 68.9h0M433.8 69.0h0M413.5 81.7h0M406.5 67.5h0M391.1 72.4h0M425.8 98.6h0M402.2 77.3h0M417.0 87.2h0M406.3 70.6h0M400.6 72.4h0M405.5 67.7h0M401.2 94.8h0M425.3 78.7h0M402.4 53.8h0M406.4 68.3h0M416.9 82.5h0M402.6 91.3h0M393.6 74.9h0M411.2 81.3h0M410.8 77.1h0M404.1 76.3h0M399.1 73.0h0M417.8 88.2h0M422.0 99.1h0M401.5 104.7h0M438.1 70.2h0M409.5 104.3h0M450.2 74.2h0M436.4 92.3h0M405.2 87.0h0" stroke="#3040a4" stroke-width="1.6" stroke-linecap="round"/>
<path d="M411.4 101.2h0M391.7 88.8h0M396.8 79.0h0M389.2 94.6h0M389.8 101.5h0M425.2 69.0h0M437.6 95.4h0M423.7 53.8h0M422.4 79.5h0M408.6 88.2h0M404.1 74.6h0M405.8 85.8h0M404.9 72.2h0M433.4 73.9h0M409.6 89.3h0M418.6 63.3h0M416.0 79.3h0M390.9 80.4h0M445.3 71.7h0M418.1 104.3h0M432.8 97.7h0M393.2 91.7h0M422.2 71.5h0M403.5 104.0h0M417.5 84.7h0M420.9 88.7h0M422.5 104.3h0M413.1 63.2h0M417.5 99.8h0M399.2 65.2h0M431.0 89.6h0M409.3 72.0h0M420.3 85.2h0M393.6 87.6h0M396.9 73.0h0M399.4 57.3h0M406.5 87.2h0M421.7 74.6h0M416.1 104.7h0M414.6 69.1h0M436.8 102.1h0M392.2 99.9h0M416.7 86.9h0M411.9 62.8h0M404.5 87.8h0M432.8 96.4h0M408.2 94.9h0M413.6 102.8h0M397.4 87.3h0M389.5 76.9h0M398.4 78.3h0M407.6 83.9h0M400.6 86.8h0M406.7 71.9h0M420.4 96.1h0M396.6 88.2h0M414.9 78.7h0M394.6 102.1h0M437.3 49.3h0M414.0 82.0h0M405.7 82.0h0M417.2 99.6h0M421.9 96.3h0M394.7 71.3h0M420.3 73.9h0M424.4 74.8h0M398.4 75.7h0M406.3 86.3h0M431.3 59.2h0M429.3 71.6h0M428.0 68.9h0M433.8 69.0h0M413.5 81.7h0M406.5 67.5h0M391.1 72.4h0M425.8 98.6h0M402.2 77.3h0M417.0 87.2h0M406.3 70.6h0M400.6 72.4h0M405.5 67.7h0M401.2 94.8h0M425.3 78.7h0M402.4 53.8h0M406.4 68.3h0M416.9 82.5h0M402.6 91.3h0M393.6 74.9h0M411.2 81.3h0M410.8 77.1h0M404.1 76.3h0M399.1 73.0h0M417.8 88.2h0M422.0 99.1h0M401.5 104.7h0M438.1 70.2h0M409.5 104.3h0M450.2 74.2h0M436.4 92.3h0M405.2 87.0h0" stroke="#b4c0ff" stroke-width="0.8" stroke-linecap="round"/>
<path d="M435.0 73.3h0M421.1 80.5h0M423.9 75.6h0M419.6 78.9h0M410.4 101.4h0M423.7 75.5h0M391.4 78.4h0M399.8 92.9h0M416.8 102.7h0M400.5 97.9h0M427.9 76.6h0M431.7 59.7h0M417.7 72.5h0M394.8 81.5h0M412.7 99.9h0M400.6 79.2h0M422.5 80.2h0M431.9 86.4h0M432.8 92.6h0M401.1 85.6h0M406.8 72.4h0M418.1 94.6h0M389.8 90.2h0M406.3 80.4h0M432.7 97.9h0M418.7 106.3h0M422.7 80.8h0M398.8 83.8h0M394.8 78.0h0M390.9 101.4h0M405.9 86.0h0M394.9 71.0h0M395.5 81.7h0M439.1 79.8h0M389.1 98.1h0M430.6 105.8h0M411.9 98.3h0M423.9 76.4h0M396.2 86.2h0M406.9 75.8h0M416.8 92.0h0M410.9 91.2h0M412.0 102.7h0M391.4 61.9h0M397.7 103.6h0M412.1 82.8h0M446.0 85.7h0M417.8 74.3h0M412.0 104.2h0M389.2 92.2h0M405.9 99.6h0M412.3 99.6h0M424.1 102.8h0M434.1 81.7h0M400.6 63.5h0M394.1 79.3h0M416.0 92.4h0M421.6 88.9h0M412.2 74.4h0M417.3 79.6h0M436.3 58.6h0M414.3 80.8h0M400.3 82.2h0M419.7 102.9h0M394.8 88.4h0M434.4 88.9h0M421.3 52.0h0M401.1 77.2h0M418.8 63.3h0M430.8 67.1h0M409.6 71.4h0M419.8 93.5h0M403.1 85.6h0M406.8 70.9h0M450.8 70.2h0M414.3 86.5h0M394.6 57.9h0M413.1 77.1h0M435.3 91.4h0M404.6 89.5h0M415.8 73.4h0M444.2 80.6h0M410.2 80.1h0M429.4 78.0h0M451.7 77.5h0M423.7 103.6h0M404.3 94.4h0M437.1 76.8h0M435.6 84.6h0M435.2 70.8h0M420.1 68.2h0M400.8 97.6h0M407.6 70.7h0M423.4 96.9h0M417.6 72.7h0M431.5 81.9h0M433.4 89.3h0M408.1 73.1h0M394.5 91.2h0M403.3 91.5h0" stroke="#3040a4" stroke-width="1.6" stroke-linecap="round"/>
<path d="M435.0 73.3h0M421.1 80.5h0M423.9 75.6h0M419.6 78.9h0M410.4 101.4h0M423.7 75.5h0M391.4 78.4h0M399.8 92.9h0M416.8 102.7h0M400.5 97.9h0M427.9 76.6h0M431.7 59.7h0M417.7 72.5h0M394.8 81.5h0M412.7 99.9h0M400.6 79.2h0M422.5 80.2h0M431.9 86.4h0M432.8 92.6h0M401.1 85.6h0M406.8 72.4h0M418.1 94.6h0M389.8 90.2h0M406.3 80.4h0M432.7 97.9h0M418.7 106.3h0M422.7 80.8h0M398.8 83.8h0M394.8 78.0h0M390.9 101.4h0M405.9 86.0h0M394.9 71.0h0M395.5 81.7h0M439.1 79.8h0M389.1 98.1h0M430.6 105.8h0M411.9 98.3h0M423.9 76.4h0M396.2 86.2h0M406.9 75.8h0M416.8 92.0h0M410.9 91.2h0M412.0 102.7h0M391.4 61.9h0M397.7 103.6h0M412.1 82.8h0M446.0 85.7h0M417.8 74.3h0M412.0 104.2h0M389.2 92.2h0M405.9 99.6h0M412.3 99.6h0M424.1 102.8h0M434.1 81.7h0M400.6 63.5h0M394.1 79.3h0M416.0 92.4h0M421.6 88.9h0M412.2 74.4h0M417.3 79.6h0M436.3 58.6h0M414.3 80.8h0M400.3 82.2h0M419.7 102.9h0M394.8 88.4h0M434.4 88.9h0M421.3 52.0h0M401.1 77.2h0M418.8 63.3h0M430.8 67.1h0M409.6 71.4h0M419.8 93.5h0M403.1 85.6h0M406.8 70.9h0M450.8 70.2h0M414.3 86.5h0M394.6 57.9h0M413.1 77.1h0M435.3 91.4h0M404.6 89.5h0M415.8 73.4h0M444.2 80.6h0M410.2 80.1h0M429.4 78.0h0M451.7 77.5h0M423.7 103.6h0M404.3 94.4h0M437.1 76.8h0M435.6 84.6h0M435.2 70.8h0M420.1 68.2h0M400.8 97.6h0M407.6 70.7h0M423.4 96.9h0M417.6 72.7h0M431.5 81.9h0M433.4 89.3h0M408.1 73.1h0M394.5 91.2h0M403.3 91.5h0" stroke="#b4c0ff" stroke-width="0.8" stroke-linecap="round"/>
<path d="M428.5 76.3h0M421.6 80.2h0M390.6 77.6h0M403.9 89.2h0M409.9 89.5h0M409.9 91.7h0M422.1 79.7h0M423.7 96.8h0M405.3 88.8h0M426.4 75.3h0M400.5 74.4h0M397.0 79.4h0M395.8 69.2h0M426.5 65.4h0M418.1 78.7h0M419.0 76.8h0M422.9 86.5h0M420.7 102.3h0M443.4 86.9h0M408.5 77.0h0M407.1 88.1h0M399.5 91.0h0M431.9 69.7h0M415.9 81.3h0M395.1 96.5h0M420.6 98.1h0M412.7 74.5h0M423.3 90.2h0M408.2 79.2h0M420.4 94.0h0M427.2 87.0h0M398.5 70.0h0M431.4 102.8h0M399.7 77.1h0M417.9 94.1h0M432.5 105.4h0M434.2 70.8h0M414.9 79.0h0M430.6 87.5h0M417.0 102.5h0M435.0 102.6h0M427.2 76.1h0M416.2 75.7h0M410.1 97.5h0M419.8 90.9h0M419.4 77.9h0M435.0 84.5h0M432.3 54.5h0M422.0 99.0h0M431.1 72.7h0M426.8 77.8h0M416.4 85.5h0M399.9 95.7h0M397.4 91.2h0M411.1 101.1h0M410.3 102.5h0M418.7 91.8h0M432.3 73.4h0M403.9 76.7h0M422.9 83.4h0M419.2 87.0h0M423.3 69.2h0M414.4 71.5h0M411.2 58.0h0M404.4 102.2h0M421.0 47.2h0M420.4 75.8h0M398.7 103.8h0M425.4 57.6h0M426.7 100.6h0M404.6 73.0h0M422.6 68.8h0M436.4 102.0h0M404.8 90.3h0M406.2 86.1h0M401.9 95.1h0M424.5 78.4h0M392.0 55.6h0M408.8 98.8h0M395.3 52.9h0M415.3 81.2h0M438.1 88.7h0M423.4 71.1h0M446.0 92.1h0M391.6 92.2h0M395.2 86.3h0M396.3 83.8h0M413.3 67.8h0M411.2 82.8h0M413.2 87.1h0M428.9 73.4h0M439.0 96.4h0M417.8 93.7h0M420.5 100.1h0M430.8 102.1h0M433.9 79.2h0M442.0 82.0h0M408.0 80.5h0M441.9 108.1h0M396.0 77.7h0" stroke="#3040a4" stroke-width="1.6" stroke-linecap="round"/>
<path d="M428.5 76.3h0M421.6 80.2h0M390.6 77.6h0M403.9 89.2h0M409.9 89.5h0M409.9 91.7h0M422.1 79.7h0M423.7 96.8h0M405.3 88.8h0M426.4 75.3h0M400.5 74.4h0M397.0 79.4h0M395.8 69.2h0M426.5 65.4h0M418.1 78.7h0M419.0 76.8h0M422.9 86.5h0M420.7 102.3h0M443.4 86.9h0M408.5 77.0h0M407.1 88.1h0M399.5 91.0h0M431.9 69.7h0M415.9 81.3h0M395.1 96.5h0M420.6 98.1h0M412.7 74.5h0M423.3 90.2h0M408.2 79.2h0M420.4 94.0h0M427.2 87.0h0M398.5 70.0h0M431.4 102.8h0M399.7 77.1h0M417.9 94.1h0M432.5 105.4h0M434.2 70.8h0M414.9 79.0h0M430.6 87.5h0M417.0 102.5h0M435.0 102.6h0M427.2 76.1h0M416.2 75.7h0M410.1 97.5h0M419.8 90.9h0M419.4 77.9h0M435.0 84.5h0M432.3 54.5h0M422.0 99.0h0M431.1 72.7h0M426.8 77.8h0M416.4 85.5h0M399.9 95.7h0M397.4 91.2h0M411.1 101.1h0M410.3 102.5h0M418.7 91.8h0M432.3 73.4h0M403.9 76.7h0M422.9 83.4h0M419.2 87.0h0M423.3 69.2h0M414.4 71.5h0M411.2 58.0h0M404.4 102.2h0M421.0 47.2h0M420.4 75.8h0M398.7 103.8h0M425.4 57.6h0M426.7 100.6h0M404.6 73.0h0M422.6 68.8h0M436.4 102.0h0M404.8 90.3h0M406.2 86.1h0M401.9 95.1h0M424.5 78.4h0M392.0 55.6h0M408.8 98.8h0M395.3 52.9h0M415.3 81.2h0M438.1 88.7h0M423.4 71.1h0M446.0 92.1h0M391.6 92.2h0M395.2 86.3h0M396.3 83.8h0M413.3 67.8h0M411.2 82.8h0M413.2 87.1h0M428.9 73.4h0M439.0 96.4h0M417.8 93.7h0M420.5 100.1h0M430.8 102.1h0M433.9 79.2h0M442.0 82.0h0M408.0 80.5h0M441.9 108.1h0M396.0 77.7h0" stroke="#b4c0ff" stroke-width="0.8" stroke-linecap="round"/>
<path d="M441.1 66.0h0M401.7 79.4h0M439.2 67.4h0M430.0 70.8h0M396.0 83.3h0M395.6 92.0h0M443.5 73.1h0M395.5 64.3h0M424.2 80.0h0M415.2 83.0h0M422.4 45.3h0M411.0 93.2h0M408.8 91.4h0M395.2 97.5h0M413.3 51.2h0M423.1 31.9h0M426.6 104.7h0M419.6 96.6h0M413.6 77.2h0M393.6 97.1h0M418.4 73.5h0M409.2 95.9h0M400.8 72.6h0M431.7 68.5h0M417.9 87.2h0M411.8 66.0h0M436.6 68.1h0M419.4 100.6h0M422.9 73.0h0M415.2 83.3h0M398.5 60.1h0M399.1 61.1h0M415.4 89.8h0M427.3 102.7h0M409.9 71.4h0M407.9 85.3h0M429.7 92.8h0M392.5 70.9h0M407.2 90.3h0M398.7 90.6h0M402.6 83.9h0M409.4 81.4h0M399.7 77.0h0M396.7 96.7h0M399.6 58.7h0M418.0 80.2h0M422.7 80.2h0M416.2 94.2h0M408.5 92.9h0M438.9 89.4h0M422.2 47.3h0M414.7 85.6h0M423.1 89.6h0M394.3 76.5h0M392.4 84.2h0M403.9 96.8h0M412.3 82.8h0M406.0 62.7h0M467.7 94.2h0M409.2 72.4h0M427.7 68.1h0M416.6 66.4h0M415.7 95.5h0M407.7 83.8h0M407.9 93.4h0M388.7 78.4h0M416.0 98.9h0M406.1 93.8h0M434.0 66.8h0M430.4 100.0h0M424.2 76.5h0M404.2 75.8h0M423.1 86.0h0M427.7 89.2h0M396.6 100.6h0M417.5 95.8h0M390.9 69.1h0M413.9 81.2h0M427.9 91.8h0M401.1 80.0h0M405.8 93.4h0M392.2 61.0h0M424.7 96.1h0M393.0 75.8h0M412.6 70.6h0M421.6 92.4h0M420.5 74.2h0M427.3 95.5h0M443.8 73.5h0M447.8 89.5h0M422.7 97.7h0M411.8 77.1h0M395.2 91.7h0M391.4 81.5h0M423.9 90.8h0M423.4 82.2h0M432.2 88.4h0M406.8 72.6h0M400.2 72.4h0M424.3 98.0h0" stroke="#3040a4" stroke-width="1.6" stroke-linecap="round"/>
<path d="M441.1 66.0h0M401.7 79.4h0M439.2 67.4h0M430.0 70.8h0M396.0 83.3h0M395.6 92.0h0M443.5 73.1h0M395.5 64.3h0M424.2 80.0h0M415.2 83.0h0M422.4 45.3h0M411.0 93.2h0M408.8 91.4h0M395.2 97.5h0M413.3 51.2h0M423.1 31.9h0M426.6 104.7h0M419.6 96.6h0M413.6 77.2h0M393.6 97.1h0M418.4 73.5h0M409.2 95.9h0M400.8 72.6h0M431.7 68.5h0M417.9 87.2h0M411.8 66.0h0M436.6 68.1h0M419.4 100.6h0M422.9 73.0h0M415.2 83.3h0M398.5 60.1h0M399.1 61.1h0M415.4 89.8h0M427.3 102.7h0M409.9 71.4h0M407.9 85.3h0M429.7 92.8h0M392.5 70.9h0M407.2 90.3h0M398.7 90.6h0M402.6 83.9h0M409.4 81.4h0M399.7 77.0h0M396.7 96.7h0M399.6 58.7h0M418.0 80.2h0M422.7 80.2h0M416.2 94.2h0M408.5 92.9h0M438.9 89.4h0M422.2 47.3h0M414.7 85.6h0M423.1 89.6h0M394.3 76.5h0M392.4 84.2h0M403.9 96.8h0M412.3 82.8h0M406.0 62.7h0M467.7 94.2h0M409.2 72.4h0M427.7 68.1h0M416.6 66.4h0M415.7 95.5h0M407.7 83.8h0M407.9 93.4h0M388.7 78.4h0M416.0 98.9h0M406.1 93.8h0M434.0 66.8h0M430.4 100.0h0M424.2 76.5h0M404.2 75.8h0M423.1 86.0h0M427.7 89.2h0M396.6 100.6h0M417.5 95.8h0M390.9 69.1h0M413.9 81.2h0M427.9 91.8h0M401.1 80.0h0M405.8 93.4h0M392.2 61.0h0M424.7 96.1h0M393.0 75.8h0M412.6 70.6h0M421.6 92.4h0M420.5 74.2h0M427.3 95.5h0M443.8 73.5h0M447.8 89.5h0M422.7 97.7h0M411.8 77.1h0M395.2 91.7h0M391.4 81.5h0M423.9 90.8h0M423.4 82.2h0M432.2 88.4h0M406.8 72.6h0M400.2 72.4h0M424.3 98.0h0" stroke="#b4c0ff" stroke-width="0.8" stroke-linecap="round"/>
<path d="M421.8 78.5h0M410.3 89.1h0M430.4 54.3h0M414.6 75.3h0M407.6 86.5h0M394.6 79.5h0M395.9 80.0h0M392.2 100.0h0M391.0 96.9h0M428.2 86.1h0M415.3 81.3h0M419.5 91.6h0M418.6 78.9h0M408.8 79.0h0M399.1 71.9h0M422.0 84.4h0M417.7 76.0h0M395.8 97.7h0M422.0 66.3h0M406.2 79.2h0M393.5 74.8h0M419.9 96.2h0M434.9 103.5h0M415.6 88.8h0M442.2 103.9h0M391.1 84.6h0M398.7 69.0h0M408.4 86.4h0M401.0 100.1h0M408.5 92.5h0M421.3 99.0h0M403.8 73.2h0M416.8 68.4h0M426.5 64.0h0M433.6 92.4h0M394.5 87.2h0M414.3 81.2h0M403.6 95.1h0M417.0 89.4h0M400.3 98.1h0M404.3 71.8h0M443.8 80.4h0M401.6 82.2h0M424.3 86.1h0M430.8 93.7h0M406.0 88.6h0M390.9 75.4h0M434.4 103.7h0M411.7 56.2h0M391.9 81.8h0M410.3 93.7h0M392.5 73.1h0M421.0 100.5h0M424.6 90.2h0M413.7 79.4h0M412.5 69.3h0M433.9 94.5h0M391.3 83.0h0M408.3 82.5h0M412.5 70.6h0M421.5 84.6h0M400.8 70.8h0M431.2 66.9h0M391.9 70.0h0M408.1 87.0h0M417.2 89.3h0M400.1 54.2h0M392.7 101.9h0M412.8 83.4h0M406.4 74.8h0M396.2 95.2h0M412.7 75.0h0M415.4 91.5h0M422.2 91.2h0M391.8 93.5h0M433.7 87.7h0M417.0 49.0h0M401.0 97.7h0M395.9 72.6h0M400.6 82.9h0M399.1 81.2h0M412.8 85.3h0M403.0 99.3h0M422.8 83.8h0M403.5 89.1h0M420.2 90.7h0M417.6 91.1h0M410.1 77.4h0M430.9 74.4h0M418.7 91.0h0M398.1 80.1h0M427.1 77.1h0M391.7 83.5h0M440.3 86.5h0M407.7 102.1h0M408.0 99.8h0M396.4 72.1h0M406.0 76.9h0M409.3 79.4h0M415.0 74.6h0" stroke="#3040a4" stroke-width="1.6" stroke-linecap="round"/>
<path d="M421.8 78.5h0M410.3 89.1h0M430.4 54.3h0M414.6 75.3h0M407.6 86.5h0M394.6 79.5h0M395.9 80.0h0M392.2 100.0h0M391.0 96.9h0M428.2 86.1h0M415.3 81.3h0M419.5 91.6h0M418.6 78.9h0M408.8 79.0h0M399.1 71.9h0M422.0 84.4h0M417.7 76.0h0M395.8 97.7h0M422.0 66.3h0M406.2 79.2h0M393.5 74.8h0M419.9 96.2h0M434.9 103.5h0M415.6 88.8h0M442.2 103.9h0M391.1 84.6h0M398.7 69.0h0M408.4 86.4h0M401.0 100.1h0M408.5 92.5h0M421.3 99.0h0M403.8 73.2h0M416.8 68.4h0M426.5 64.0h0M433.6 92.4h0M394.5 87.2h0M414.3 81.2h0M403.6 95.1h0M417.0 89.4h0M400.3 98.1h0M404.3 71.8h0M443.8 80.4h0M401.6 82.2h0M424.3 86.1h0M430.8 93.7h0M406.0 88.6h0M390.9 75.4h0M434.4 103.7h0M411.7 56.2h0M391.9 81.8h0M410.3 93.7h0M392.5 73.1h0M421.0 100.5h0M424.6 90.2h0M413.7 79.4h0M412.5 69.3h0M433.9 94.5h0M391.3 83.0h0M408.3 82.5h0M412.5 70.6h0M421.5 84.6h0M400.8 70.8h0M431.2 66.9h0M391.9 70.0h0M408.1 87.0h0M417.2 89.3h0M400.1 54.2h0M392.7 101.9h0M412.8 83.4h0M406.4 74.8h0M396.2 95.2h0M412.7 75.0h0M415.4 91.5h0M422.2 91.2h0M391.8 93.5h0M433.7 87.7h0M417.0 49.0h0M401.0 97.7h0M395.9 72.6h0M400.6 82.9h0M399.1 81.2h0M412.8 85.3h0M403.0 99.3h0M422.8 83.8h0M403.5 89.1h0M420.2 90.7h0M417.6 91.1h0M410.1 77.4h0M430.9 74.4h0M418.7 91.0h0M398.1 80.1h0M427.1 77.1h0M391.7 83.5h0M440.3 86.5h0M407.7 102.1h0M408.0 99.8h0M396.4 72.1h0M406.0 76.9h0M409.3 79.4h0M415.0 74.6h0" stroke="#b4c0ff" stroke-width="0.8" stroke-linecap="round"/>
<path d="M392.4 78.8h0M407.6 76.6h0M400.8 91.8h0M394.2 99.6h0M428.7 51.9h0M413.4 103.0h0M405.4 80.9h0M400.2 56.0h0M418.4 96.8h0M411.0 52.7h0M406.2 88.1h0M425.9 71.3h0M422.5 73.5h0M414.4 72.1h0M398.7 69.3h0M416.0 92.9h0M429.5 73.0h0M400.2 73.5h0M433.1 98.6h0M424.5 72.9h0M420.2 95.8h0M422.7 88.6h0M398.9 103.1h0M399.6 90.1h0M415.3 87.8h0M426.0 79.8h0M427.6 74.6h0M398.0 89.1h0M403.2 69.4h0M436.7 101.2h0M430.4 62.0h0M440.4 88.2h0M402.3 81.2h0M398.7 88.9h0M413.3 68.2h0M437.4 94.4h0M398.7 94.0h0M430.5 102.3h0M418.3 103.9h0M390.8 96.9h0M393.4 60.2h0M436.0 52.2h0M429.9 97.8h0M408.1 98.5h0M398.3 85.7h0M391.5 76.1h0M389.5 96.1h0M392.2 87.4h0M412.6 87.8h0M422.1 72.6h0M404.7 84.8h0M440.5 65.8h0M442.2 70.5h0M423.6 74.3h0M415.2 91.7h0M414.0 98.5h0M427.2 91.9h0M413.3 99.5h0M405.9 88.3h0M409.5 69.1h0M395.4 74.3h0M415.4 70.0h0M420.6 91.9h0M435.8 72.5h0M422.9 95.7h0M403.2 80.3h0M440.9 98.2h0M399.0 72.0h0M399.6 99.8h0M405.5 78.1h0M411.0 42.7h0M414.4 69.9h0M389.3 86.8h0M406.7 74.2h0M397.7 91.2h0M397.0 80.0h0M412.1 94.4h0M412.4 90.2h0M411.8 96.7h0M425.4 74.6h0M417.9 69.4h0M422.3 103.4h0M414.7 97.0h0M429.3 71.9h0M428.7 99.5h0M427.1 81.9h0M430.4 58.7h0M422.0 77.6h0M413.2 86.6h0M391.9 83.1h0M412.7 96.7h0M407.5 94.0h0M396.7 94.9h0M406.4 94.9h0M423.1 72.7h0M418.6 90.4h0M401.2 87.6h0M410.5 104.9h0M392.8 83.4h0M417.3 51.4h0" stroke="#3040a4" stroke-width="1.6" stroke-linecap="round"/>
<path d="M392.4 78.8h0M407.6 76.6h0M400.8 91.8h0M394.2 99.6h0M428.7 51.9h0M413.4 103.0h0M405.4 80.9h0M400.2 56.0h0M418.4 96.8h0M411.0 52.7h0M406.2 88.1h0M425.9 71.3h0M422.5 73.5h0M414.4 72.1h0M398.7 69.3h0M416.0 92.9h0M429.5 73.0h0M400.2 73.5h0M433.1 98.6h0M424.5 72.9h0M420.2 95.8h0M422.7 88.6h0M398.9 103.1h0M399.6 90.1h0M415.3 87.8h0M426.0 79.8h0M427.6 74.6h0M398.0 89.1h0M403.2 69.4h0M436.7 101.2h0M430.4 62.0h0M440.4 88.2h0M402.3 81.2h0M398.7 88.9h0M413.3 68.2h0M437.4 94.4h0M398.7 94.0h0M430.5 102.3h0M418.3 103.9h0M390.8 96.9h0M393.4 60.2h0M436.0 52.2h0M429.9 97.8h0M408.1 98.5h0M398.3 85.7h0M391.5 76.1h0M389.5 96.1h0M392.2 87.4h0M412.6 87.8h0M422.1 72.6h0M404.7 84.8h0M440.5 65.8h0M442.2 70.5h0M423.6 74.3h0M415.2 91.7h0M414.0 98.5h0M427.2 91.9h0M413.3 99.5h0M405.9 88.3h0M409.5 69.1h0M395.4 74.3h0M415.4 70.0h0M420.6 91.9h0M435.8 72.5h0M422.9 95.7h0M403.2 80.3h0M440.9 98.2h0M399.0 72.0h0M399.6 99.8h0M405.5 78.1h0M411.0 42.7h0M414.4 69.9h0M389.3 86.8h0M406.7 74.2h0M397.7 91.2h0M397.0 80.0h0M412.1 94.4h0M412.4 90.2h0M411.8 96.7h0M425.4 74.6h0M417.9 69.4h0M422.3 103.4h0M414.7 97.0h0M429.3 71.9h0M428.7 99.5h0M427.1 81.9h0M430.4 58.7h0M422.0 77.6h0M413.2 86.6h0M391.9 83.1h0M412.7 96.7h0M407.5 94.0h0M396.7 94.9h0M406.4 94.9h0M423.1 72.7h0M418.6 90.4h0M401.2 87.6h0M410.5 104.9h0M392.8 83.4h0M417.3 51.4h0" stroke="#b4c0ff" stroke-width="0.8" stroke-linecap="round"/>
<path d="M401.9 74.2h0M418.3 93.3h0M402.4 94.0h0M401.5 72.3h0M427.2 69.8h0M445.0 56.3h0M399.0 75.7h0M412.7 68.1h0M400.8 100.6h0M419.7 84.0h0M421.2 89.5h0M419.9 91.8h0M417.0 90.1h0M426.6 83.2h0M422.5 75.1h0M401.8 88.5h0M414.4 68.7h0M406.6 55.0h0M434.4 84.7h0M400.8 99.9h0M436.4 71.4h0M417.8 96.0h0M396.8 65.1h0M420.3 87.8h0M423.6 94.2h0M413.1 76.1h0M422.8 94.1h0M420.1 78.2h0M399.5 69.3h0M435.7 92.0h0M399.5 84.6h0M412.8 82.7h0M398.2 92.6h0M400.0 56.4h0M411.1 79.9h0M423.5 91.1h0M410.0 82.3h0M390.5 100.5h0M420.6 68.9h0M398.1 83.9h0M392.1 89.3h0M399.0 81.4h0M428.8 90.9h0M417.8 94.7h0M394.8 87.6h0M393.1 79.6h0M424.7 83.8h0M409.7 91.0h0M422.3 100.1h0M393.7 87.8h0M398.0 79.7h0M396.8 87.9h0M392.6 99.4h0M391.7 91.2h0M391.2 72.0h0M409.1 83.7h0M412.7 92.3h0M418.2 70.9h0M414.0 92.8h0M435.3 95.7h0M409.2 57.4h0M431.1 97.6h0M423.1 76.7h0M400.1 100.2h0M422.7 47.7h0M416.0 89.3h0M420.1 60.5h0M406.5 82.2h0M420.8 67.3h0M418.1 83.7h0M425.3 76.1h0M389.3 75.1h0M421.6 85.3h0M432.4 93.0h0M395.3 89.6h0M397.9 75.4h0M446.5 97.6h0M422.7 102.6h0M396.3 76.3h0M392.5 77.1h0M452.3 80.9h0M394.1 97.7h0M424.9 70.6h0M407.3 85.8h0M396.1 83.9h0M403.3 77.6h0M406.8 77.7h0M414.3 83.9h0M406.0 85.8h0M399.0 92.0h0M397.1 97.3h0M403.7 102.9h0M394.2 80.6h0M423.1 70.3h0M394.0 78.0h0M433.4 68.6h0M408.1 82.6h0M420.8 83.7h0M399.4 75.1h0M424.4 75.3h0" stroke="#3040a4" stroke-width="1.6" stroke-linecap="round"/>
<path d="M401.9 74.2h0M418.3 93.3h0M402.4 94.0h0M401.5 72.3h0M427.2 69.8h0M445.0 56.3h0M399.0 75.7h0M412.7 68.1h0M400.8 100.6h0M419.7 84.0h0M421.2 89.5h0M419.9 91.8h0M417.0 90.1h0M426.6 83.2h0M422.5 75.1h0M401.8 88.5h0M414.4 68.7h0M406.6 55.0h0M434.4 84.7h0M400.8 99.9h0M436.4 71.4h0M417.8 96.0h0M396.8 65.1h0M420.3 87.8h0M423.6 94.2h0M413.1 76.1h0M422.8 94.1h0M420.1 78.2h0M399.5 69.3h0M435.7 92.0h0M399.5 84.6h0M412.8 82.7h0M398.2 92.6h0M400.0 56.4h0M411.1 79.9h0M423.5 91.1h0M410.0 82.3h0M390.5 100.5h0M420.6 68.9h0M398.1 83.9h0M392.1 89.3h0M399.0 81.4h0M428.8 90.9h0M417.8 94.7h0M394.8 87.6h0M393.1 79.6h0M424.7 83.8h0M409.7 91.0h0M422.3 100.1h0M393.7 87.8h0M398.0 79.7h0M396.8 87.9h0M392.6 99.4h0M391.7 91.2h0M391.2 72.0h0M409.1 83.7h0M412.7 92.3h0M418.2 70.9h0M414.0 92.8h0M435.3 95.7h0M409.2 57.4h0M431.1 97.6h0M423.1 76.7h0M400.1 100.2h0M422.7 47.7h0M416.0 89.3h0M420.1 60.5h0M406.5 82.2h0M420.8 67.3h0M418.1 83.7h0M425.3 76.1h0M389.3 75.1h0M421.6 85.3h0M432.4 93.0h0M395.3 89.6h0M397.9 75.4h0M446.5 97.6h0M422.7 102.6h0M396.3 76.3h0M392.5 77.1h0M452.3 80.9h0M394.1 97.7h0M424.9 70.6h0M407.3 85.8h0M396.1 83.9h0M403.3 77.6h0M406.8 77.7h0M414.3 83.9h0M406.0 85.8h0M399.0 92.0h0M397.1 97.3h0M403.7 102.9h0M394.2 80.6h0M423.1 70.3h0M394.0 78.0h0M433.4 68.6h0M408.1 82.6h0M420.8 83.7h0M399.4 75.1h0M424.4 75.3h0" stroke="#b4c0ff" stroke-width="0.8" stroke-linecap="round"/>
<path d="M416.8 84.1h0M424.2 97.8h0M405.0 79.8h0M432.2 88.6h0M392.4 96.3h0M423.7 77.6h0M389.1 88.2h0M389.7 81.8h0M411.9 103.4h0M414.9 78.9h0M402.0 84.1h0M426.0 69.8h0M439.6 91.1h0M397.6 75.3h0M396.0 65.0h0M437.5 103.9h0M418.5 97.2h0M432.8 91.3h0M394.3 101.4h0M440.1 96.0h0M426.2 95.8h0M407.8 78.9h0M423.1 97.6h0M394.0 81.4h0M421.2 97.5h0M394.5 72.5h0M433.1 95.7h0M444.3 53.2h0M406.1 100.4h0M435.5 64.8h0M391.8 92.8h0M400.5 93.4h0M415.7 93.2h0M414.3 96.2h0M418.0 81.7h0M415.5 72.3h0M413.7 87.7h0M425.9 101.9h0M397.4 87.3h0M421.1 77.8h0M412.0 89.5h0M392.2 95.0h0M400.4 103.2h0M393.3 71.9h0M402.1 99.9h0M396.1 83.8h0M406.3 86.1h0M414.7 86.1h0M421.1 96.9h0M403.7 63.4h0M405.7 73.7h0M413.3 85.5h0M426.4 100.4h0M413.6 97.8h0M428.3 79.3h0M410.3 100.1h0M391.4 61.2h0M423.8 91.3h0M433.2 75.0h0M402.9 76.8h0M411.1 99.1h0M422.8 67.8h0M400.2 103.8h0M393.7 76.5h0M431.9 101.9h0M397.0 97.5h0M416.8 90.2h0M418.8 86.3h0M443.8 102.8h0M410.9 83.2h0M421.6 78.4h0M420.2 95.0h0M423.6 94.0h0M392.1 77.9h0M411.6 84.0h0M442.7 87.7h0M396.3 84.4h0M407.2 81.4h0M411.2 91.9h0M435.1 84.6h0M395.9 83.7h0M420.7 78.2h0M418.3 85.9h0M442.7 90.7h0M405.4 100.6h0M425.6 81.6h0M406.5 80.7h0M418.6 103.6h0M420.5 68.3h0M398.7 70.3h0M388.8 85.1h0M415.8 62.5h0M404.7 97.6h0M392.5 77.0h0M416.6 99.2h0M417.6 75.0h0M397.4 83.2h0M431.1 106.4h0M393.1 67.9h0M421.7 96.1h0" stroke="#3040a4" stroke-width="1.6" stroke-linecap="round"/>
<path d="M416.8 84.1h0M424.2 97.8h0M405.0 79.8h0M432.2 88.6h0M392.4 96.3h0M423.7 77.6h0M389.1 88.2h0M389.7 81.8h0M411.9 103.4h0M414.9 78.9h0M402.0 84.1h0M426.0 69.8h0M439.6 91.1h0M397.6 75.3h0M396.0 65.0h0M437.5 103.9h0M418.5 97.2h0M432.8 91.3h0M394.3 101.4h0M440.1 96.0h0M426.2 95.8h0M407.8 78.9h0M423.1 97.6h0M394.0 81.4h0M421.2 97.5h0M394.5 72.5h0M433.1 95.7h0M444.3 53.2h0M406.1 100.4h0M435.5 64.8h0M391.8 92.8h0M400.5 93.4h0M415.7 93.2h0M414.3 96.2h0M418.0 81.7h0M415.5 72.3h0M413.7 87.7h0M425.9 101.9h0M397.4 87.3h0M421.1 77.8h0M412.0 89.5h0M392.2 95.0h0M400.4 103.2h0M393.3 71.9h0M402.1 99.9h0M396.1 83.8h0M406.3 86.1h0M414.7 86.1h0M421.1 96.9h0M403.7 63.4h0M405.7 73.7h0M413.3 85.5h0M426.4 100.4h0M413.6 97.8h0M428.3 79.3h0M410.3 100.1h0M391.4 61.2h0M423.8 91.3h0M433.2 75.0h0M402.9 76.8h0M411.1 99.1h0M422.8 67.8h0M400.2 103.8h0M393.7 76.5h0M431.9 101.9h0M397.0 97.5h0M416.8 90.2h0M418.8 86.3h0M443.8 102.8h0M410.9 83.2h0M421.6 78.4h0M420.2 95.0h0M423.6 94.0h0M392.1 77.9h0M411.6 84.0h0M442.7 87.7h0M396.3 84.4h0M407.2 81.4h0M411.2 91.9h0M435.1 84.6h0M395.9 83.7h0M420.7 78.2h0M418.3 85.9h0M442.7 90.7h0M405.4 100.6h0M425.6 81.6h0M406.5 80.7h0M418.6 103.6h0M420.5 68.3h0M398.7 70.3h0M388.8 85.1h0M415.8 62.5h0M404.7 97.6h0M392.5 77.0h0M416.6 99.2h0M417.6 75.0h0M397.4 83.2h0M431.1 106.4h0M393.1 67.9h0M421.7 96.1h0" stroke="#b4c0ff" stroke-width="0.8" stroke-linecap="round"/>
<path d="M398.6 79.4h0M401.1 54.3h0M392.7 90.6h0M412.5 84.8h0M450.1 91.7h0M408.8 101.2h0M429.1 54.2h0M420.6 67.9h0M411.5 70.4h0M427.0 82.5h0M410.2 99.4h0M399.5 94.3h0M393.3 79.8h0M403.5 98.7h0M400.7 91.0h0M410.1 90.0h0M403.8 63.9h0M428.5 77.9h0M419.2 81.6h0M403.3 75.9h0M426.5 67.2h0M415.2 94.6h0M403.5 83.9h0M391.4 75.1h0M426.2 83.2h0M433.8 82.6h0M398.5 87.3h0M426.3 97.7h0M419.1 96.1h0M426.5 69.8h0M412.6 104.1h0M444.5 75.9h0M440.5 81.9h0M420.7 74.7h0M434.2 70.1h0M420.5 87.8h0M437.7 104.8h0M430.5 72.6h0M428.3 77.0h0M390.5 97.6h0M411.4 99.9h0M411.4 92.8h0M422.7 84.1h0M409.6 78.5h0M391.2 79.7h0M433.4 72.3h0M424.4 73.2h0M403.9 101.9h0M395.9 45.7h0M401.2 94.4h0M440.6 96.7h0M432.6 81.6h0M399.5 93.6h0M417.5 84.3h0M389.0 80.1h0M440.3 89.3h0M424.7 83.8h0M416.0 75.1h0M446.1 85.9h0M399.3 69.5h0M423.4 83.4h0M418.8 93.3h0M399.6 94.9h0M408.9 93.6h0M434.3 94.4h0M460.3 87.9h0M431.7 102.7h0M395.6 76.1h0M392.1 82.2h0M427.5 80.1h0M395.0 73.6h0M409.4 91.0h0M424.1 93.0h0M406.8 95.7h0M414.5 86.8h0M429.2 92.1h0M404.8 87.7h0M422.9 85.4h0M432.8 88.9h0M401.9 103.4h0M432.9 53.3h0M444.3 88.2h0M399.6 81.0h0M432.9 71.0h0M396.3 101.5h0M446.3 60.6h0M419.0 81.0h0M430.7 106.0h0M413.7 77.8h0M437.7 103.6h0M427.5 99.5h0M402.4 58.1h0M388.7 91.5h0M424.6 85.5h0M396.0 79.8h0M394.5 72.0h0M399.4 84.8h0M391.0 90.9h0M399.7 63.4h0M439.0 91.3h0" stroke="#3040a4" stroke-width="1.6" stroke-linecap="round"/>
<path d="M398.6 79.4h0M401.1 54.3h0M392.7 90.6h0M412.5 84.8h0M450.1 91.7h0M408.8 101.2h0M429.1 54.2h0M420.6 67.9h0M411.5 70.4h0M427.0 82.5h0M410.2 99.4h0M399.5 94.3h0M393.3 79.8h0M403.5 98.7h0M400.7 91.0h0M410.1 90.0h0M403.8 63.9h0M428.5 77.9h0M419.2 81.6h0M403.3 75.9h0M426.5 67.2h0M415.2 94.6h0M403.5 83.9h0M391.4 75.1h0M426.2 83.2h0M433.8 82.6h0M398.5 87.3h0M426.3 97.7h0M419.1 96.1h0M426.5 69.8h0M412.6 104.1h0M444.5 75.9h0M440.5 81.9h0M420.7 74.7h0M434.2 70.1h0M420.5 87.8h0M437.7 104.8h0M430.5 72.6h0M428.3 77.0h0M390.5 97.6h0M411.4 99.9h0M411.4 92.8h0M422.7 84.1h0M409.6 78.5h0M391.2 79.7h0M433.4 72.3h0M424.4 73.2h0M403.9 101.9h0M395.9 45.7h0M401.2 94.4h0M440.6 96.7h0M432.6 81.6h0M399.5 93.6h0M417.5 84.3h0M389.0 80.1h0M440.3 89.3h0M424.7 83.8h0M416.0 75.1h0M446.1 85.9h0M399.3 69.5h0M423.4 83.4h0M418.8 93.3h0M399.6 94.9h0M408.9 93.6h0M434.3 94.4h0M460.3 87.9h0M431.7 102.7h0M395.6 76.1h0M392.1 82.2h0M427.5 80.1h0M395.0 73.6h0M409.4 91.0h0M424.1 93.0h0M406.8 95.7h0M414.5 86.8h0M429.2 92.1h0M404.8 87.7h0M422.9 85.4h0M432.8 88.9h0M401.9 103.4h0M432.9 53.3h0M444.3 88.2h0M399.6 81.0h0M432.9 71.0h0M396.3 101.5h0M446.3 60.6h0M419.0 81.0h0M430.7 106.0h0M413.7 77.8h0M437.7 103.6h0M427.5 99.5h0M402.4 58.1h0M388.7 91.5h0M424.6 85.5h0M396.0 79.8h0M394.5 72.0h0M399.4 84.8h0M391.0 90.9h0M399.7 63.4h0M439.0 91.3h0" stroke="#b4c0ff" stroke-width="0.8" stroke-linecap="round"/>
<path d="M452.7 23.8h0M462.5 27.7h0M477.3 24.8h0" stroke="#3040a4" stroke-width="1.6" stroke-linecap="round"/>
<path d="M452.7 23.8h0M462.5 27.7h0M477.3 24.8h0" stroke="#b4c0ff" stroke-width="0.8" stroke-linecap="round"/>
<line x1="375.80" y1="44.10" x2="414.40" y2="23.40" stroke="#000" stroke-width="1.3"/>
<line x1="414.40" y1="23.40" x2="473.90" y2="34.90" stroke="#000" stroke-width="1.3"/>
<line x1="473.90" y1="34.90" x2="470.90" y2="96.40" stroke="#000" stroke-width="1.3"/>
<line x1="470.90" y1="96.40" x2="440.60" y2="127.00" stroke="#000" stroke-width="1.6"/>
<line x1="440.60" y1="127.00" x2="378.50" y2="108.10" stroke="#000" stroke-width="1.6"/>
<line x1="378.50" y1="108.10" x2="375.80" y2="44.10" stroke="#000" stroke-width="1.6"/>
<line x1="379.74" y1="108.48" x2="381.92" y2="106.89" stroke="#000" stroke-width="1.1"/>
<line x1="388.19" y1="111.05" x2="390.32" y2="109.43" stroke="#000" stroke-width="1.1"/>
<line x1="396.63" y1="113.62" x2="398.71" y2="111.96" stroke="#000" stroke-width="1.1"/>
<line x1="405.08" y1="116.19" x2="407.11" y2="114.50" stroke="#000" stroke-width="1.1"/>
<line x1="413.52" y1="118.76" x2="415.50" y2="117.03" stroke="#000" stroke-width="1.1"/>
<line x1="421.97" y1="121.33" x2="423.90" y2="119.57" stroke="#000" stroke-width="1.1"/>
<line x1="430.42" y1="123.90" x2="432.29" y2="122.11" stroke="#000" stroke-width="1.1"/>
<line x1="438.86" y1="126.47" x2="440.69" y2="124.64" stroke="#000" stroke-width="1.1"/>
<line x1="442.12" y1="125.47" x2="437.79" y2="124.16" stroke="#000" stroke-width="1.1"/>
<line x1="446.24" y1="121.31" x2="441.97" y2="120.04" stroke="#000" stroke-width="1.1"/>
<line x1="450.36" y1="117.15" x2="446.15" y2="115.92" stroke="#000" stroke-width="1.1"/>
<line x1="454.48" y1="112.99" x2="450.33" y2="111.80" stroke="#000" stroke-width="1.1"/>
<line x1="458.60" y1="108.82" x2="454.51" y2="107.68" stroke="#000" stroke-width="1.1"/>
<line x1="462.72" y1="104.66" x2="458.69" y2="103.55" stroke="#000" stroke-width="1.1"/>
<line x1="466.84" y1="100.50" x2="462.87" y2="99.43" stroke="#000" stroke-width="1.1"/>
<line x1="470.96" y1="96.34" x2="467.05" y2="95.31" stroke="#000" stroke-width="1.1"/>
<line x1="378.27" y1="102.66" x2="381.38" y2="103.59" stroke="#000" stroke-width="1.1"/>
<line x1="377.93" y1="94.66" x2="381.05" y2="95.56" stroke="#000" stroke-width="1.1"/>
<line x1="377.60" y1="86.66" x2="380.72" y2="87.53" stroke="#000" stroke-width="1.1"/>
<line x1="377.26" y1="78.66" x2="380.40" y2="79.50" stroke="#000" stroke-width="1.1"/>
<line x1="376.93" y1="70.98" x2="380.08" y2="71.79" stroke="#000" stroke-width="1.1"/>
<line x1="376.61" y1="63.30" x2="379.76" y2="64.09" stroke="#000" stroke-width="1.1"/>
<line x1="376.27" y1="55.30" x2="379.44" y2="56.06" stroke="#000" stroke-width="1.1"/>
<line x1="375.94" y1="47.30" x2="379.11" y2="48.03" stroke="#000" stroke-width="1.1"/>
<text x="426.8" y="20.9" font-size="16.5" font-family="Liberation Serif">MCF 10A</text>
<text transform="matrix(0.9149 -0.5153 -0.0000 1.3300 365.80 54.02)" font-size="10" text-anchor="middle" stroke="#000" stroke-width="0.2" font-family="Liberation Serif">400</text>
<text transform="matrix(0.9149 -0.5153 -0.0000 1.3300 367.30 71.52)" font-size="10" text-anchor="middle" stroke="#000" stroke-width="0.2" font-family="Liberation Serif">300</text>
<text transform="matrix(0.9149 -0.5153 -0.0000 1.3300 367.60 86.82)" font-size="10" text-anchor="middle" stroke="#000" stroke-width="0.2" font-family="Liberation Serif">200</text>
<text transform="matrix(0.9149 -0.5153 -0.0000 1.3300 369.60 103.32)" font-size="10" text-anchor="middle" stroke="#000" stroke-width="0.2" font-family="Liberation Serif">100</text>
<text transform="matrix(0.6333 -0.6395 1.3393 0.4076 379.45 114.19)" font-size="10" text-anchor="middle" stroke="#000" stroke-width="0.2" font-family="Liberation Serif">0</text>
<text transform="matrix(0.6333 -0.6395 1.3393 0.4076 396.05 119.79)" font-size="10" text-anchor="middle" stroke="#000" stroke-width="0.2" font-family="Liberation Serif">2</text>
<text transform="matrix(0.6333 -0.6395 1.3393 0.4076 413.25 124.69)" font-size="10" text-anchor="middle" stroke="#000" stroke-width="0.2" font-family="Liberation Serif">4</text>
<text transform="matrix(0.6333 -0.6395 1.3393 0.4076 431.15 129.59)" font-size="10" text-anchor="middle" stroke="#000" stroke-width="0.2" font-family="Liberation Serif">6</text>
<text transform="matrix(1.4621 0.3351 -0.7150 0.8360 450.27 127.24)" font-size="10" text-anchor="middle" stroke="#000" stroke-width="0.2" font-family="Liberation Serif">0</text>
<text transform="matrix(1.4621 0.3351 -0.7150 0.8360 463.27 120.24)" font-size="10" text-anchor="middle" stroke="#000" stroke-width="0.2" font-family="Liberation Serif">15</text>
<text transform="matrix(1.4621 0.3351 -0.7150 0.8360 470.57 112.74)" font-size="10" text-anchor="middle" stroke="#000" stroke-width="0.2" font-family="Liberation Serif">30</text>
<text transform="matrix(1.4621 0.3351 -0.7150 0.8360 476.97 105.34)" font-size="10" text-anchor="middle" stroke="#000" stroke-width="0.2" font-family="Liberation Serif">45</text>
<text transform="matrix(0.0674 1.5986 -1.1344 0.8205 349.30 73.00)" font-size="10" stroke="#000" stroke-width="0.2" font-family="Liberation Serif">I<tspan font-size="6.5" dy="2">r</tspan><tspan dy="-2"> (mV)</tspan></text>
<text transform="matrix(1.4159 0.4309 -0.7036 0.7106 360.50 123.20)" font-size="10" stroke="#000" stroke-width="0.2" font-family="Liberation Serif">2T<tspan font-size="6.5" dy="2">s</tspan><tspan dy="-2">/(T</tspan><tspan font-size="6.5" dy="2">r</tspan><tspan dy="-2">+T</tspan><tspan font-size="6.5" dy="2">d</tspan><tspan dy="-2">)</tspan></text>
<text transform="matrix(0.7529 -0.7603 1.5307 0.4659 480.00 132.30)" font-size="10" stroke="#000" stroke-width="0.2" font-family="Liberation Serif">T<tspan font-size="6.5" dy="2">c</tspan><tspan dy="-2"> (ms)</tspan></text>
<line x1="535.16" y1="95.30" x2="572.08" y2="70.04" stroke="#d6d6d6" stroke-width="0.6"/>
<line x1="572.08" y1="70.04" x2="628.70" y2="84.10" stroke="#d6d6d6" stroke-width="0.6"/>
<line x1="534.35" y1="76.10" x2="571.90" y2="52.55" stroke="#d6d6d6" stroke-width="0.6"/>
<line x1="571.90" y1="52.55" x2="629.60" y2="65.65" stroke="#d6d6d6" stroke-width="0.6"/>
<line x1="533.54" y1="56.90" x2="571.72" y2="35.06" stroke="#d6d6d6" stroke-width="0.6"/>
<line x1="571.72" y1="35.06" x2="630.50" y2="47.20" stroke="#d6d6d6" stroke-width="0.6"/>
<line x1="588.85" y1="86.08" x2="589.32" y2="26.82" stroke="#d6d6d6" stroke-width="0.6"/>
<line x1="554.19" y1="113.73" x2="588.85" y2="86.08" stroke="#d6d6d6" stroke-width="0.6"/>
<line x1="604.37" y1="90.16" x2="605.85" y2="30.02" stroke="#d6d6d6" stroke-width="0.6"/>
<line x1="571.44" y1="118.98" x2="604.37" y2="90.16" stroke="#d6d6d6" stroke-width="0.6"/>
<line x1="619.90" y1="94.24" x2="622.37" y2="33.21" stroke="#d6d6d6" stroke-width="0.6"/>
<line x1="588.69" y1="124.23" x2="619.90" y2="94.24" stroke="#d6d6d6" stroke-width="0.6"/>
<line x1="540.08" y1="104.93" x2="539.95" y2="40.37" stroke="#d6d6d6" stroke-width="0.6"/>
<line x1="540.08" y1="104.93" x2="607.50" y2="117.21" stroke="#d6d6d6" stroke-width="0.6"/>
<line x1="550.30" y1="97.54" x2="550.76" y2="34.58" stroke="#d6d6d6" stroke-width="0.6"/>
<line x1="550.30" y1="97.54" x2="615.68" y2="108.95" stroke="#d6d6d6" stroke-width="0.6"/>
<line x1="560.88" y1="89.88" x2="561.18" y2="28.99" stroke="#d6d6d6" stroke-width="0.6"/>
<line x1="560.88" y1="89.88" x2="623.86" y2="100.68" stroke="#d6d6d6" stroke-width="0.6"/>
<line x1="572.20" y1="81.70" x2="571.60" y2="23.40" stroke="#333" stroke-width="1.0"/>
<line x1="572.20" y1="81.70" x2="628.10" y2="96.40" stroke="#333" stroke-width="1.0"/>
<line x1="572.20" y1="81.70" x2="535.70" y2="108.10" stroke="#333" stroke-width="1.0"/>
<path d="M548.7 60.5 L555.3 63.9 L562.9 70.7 L570.6 78.3 L580.8 86.0 L589.3 91.1 L594.4 94.5 L594.4 98.7 L587.6 102.6 L568.0 101.3 L548.7 97.5Z" fill="#dac680"/>
<path d="M555.8 78.6h0M593.5 97.7h0M554.0 88.0h0M568.3 99.2h0M551.7 71.0h0M624.6 58.5h0M546.6 77.9h0M557.7 66.2h0M566.5 90.4h0M596.1 93.2h0M550.8 88.2h0M579.1 77.6h0M568.9 101.2h0M619.3 95.6h0M564.2 79.4h0M569.8 82.4h0M565.6 55.5h0M549.9 83.2h0M573.0 84.7h0M565.6 87.4h0M559.6 77.4h0M571.2 67.5h0M579.5 96.4h0M563.6 89.4h0M612.1 75.9h0M575.9 43.1h0M559.0 76.1h0M547.5 100.3h0M552.0 46.2h0M557.4 82.2h0M562.7 80.7h0M552.0 86.3h0M590.9 97.0h0M553.5 72.2h0M548.5 95.7h0M554.6 72.3h0M562.0 66.9h0M562.3 76.7h0M554.6 73.4h0M569.5 91.0h0M576.3 97.8h0M575.6 98.3h0M546.9 70.7h0M582.5 100.1h0M558.9 86.9h0M595.4 43.3h0M567.7 82.2h0M558.2 88.7h0M571.5 79.3h0M550.3 74.2h0M567.2 95.4h0M554.8 97.4h0M549.9 75.8h0M578.8 91.7h0M583.0 101.6h0M571.4 102.3h0M555.7 85.8h0M576.9 89.9h0M549.0 65.0h0M547.5 79.5h0M549.6 91.0h0M566.8 88.8h0M596.1 31.7h0M546.0 96.7h0M548.7 81.9h0M556.6 81.0h0M562.8 60.9h0M552.8 73.6h0M553.1 73.8h0M549.3 88.2h0M584.2 87.0h0M579.2 102.2h0M575.8 98.1h0M557.9 52.2h0M591.6 98.6h0M550.1 67.8h0M555.4 64.6h0M544.6 69.9h0M579.8 100.5h0M560.7 61.9h0M578.3 102.4h0M559.2 77.9h0M587.5 86.5h0M589.0 90.7h0M555.6 86.2h0M549.4 72.9h0M548.0 92.0h0M564.2 73.8h0M592.2 82.5h0M552.1 98.9h0M574.0 80.6h0M578.1 82.8h0M570.3 87.7h0M591.2 101.8h0M598.3 61.5h0M555.9 81.1h0M577.1 97.5h0M589.2 101.8h0M565.0 83.1h0M552.8 86.4h0" stroke="#b09848" stroke-width="1.6" stroke-linecap="round"/>
<path d="M555.8 78.6h0M593.5 97.7h0M554.0 88.0h0M568.3 99.2h0M551.7 71.0h0M624.6 58.5h0M546.6 77.9h0M557.7 66.2h0M566.5 90.4h0M596.1 93.2h0M550.8 88.2h0M579.1 77.6h0M568.9 101.2h0M619.3 95.6h0M564.2 79.4h0M569.8 82.4h0M565.6 55.5h0M549.9 83.2h0M573.0 84.7h0M565.6 87.4h0M559.6 77.4h0M571.2 67.5h0M579.5 96.4h0M563.6 89.4h0M612.1 75.9h0M575.9 43.1h0M559.0 76.1h0M547.5 100.3h0M552.0 46.2h0M557.4 82.2h0M562.7 80.7h0M552.0 86.3h0M590.9 97.0h0M553.5 72.2h0M548.5 95.7h0M554.6 72.3h0M562.0 66.9h0M562.3 76.7h0M554.6 73.4h0M569.5 91.0h0M576.3 97.8h0M575.6 98.3h0M546.9 70.7h0M582.5 100.1h0M558.9 86.9h0M595.4 43.3h0M567.7 82.2h0M558.2 88.7h0M571.5 79.3h0M550.3 74.2h0M567.2 95.4h0M554.8 97.4h0M549.9 75.8h0M578.8 91.7h0M583.0 101.6h0M571.4 102.3h0M555.7 85.8h0M576.9 89.9h0M549.0 65.0h0M547.5 79.5h0M549.6 91.0h0M566.8 88.8h0M596.1 31.7h0M546.0 96.7h0M548.7 81.9h0M556.6 81.0h0M562.8 60.9h0M552.8 73.6h0M553.1 73.8h0M549.3 88.2h0M584.2 87.0h0M579.2 102.2h0M575.8 98.1h0M557.9 52.2h0M591.6 98.6h0M550.1 67.8h0M555.4 64.6h0M544.6 69.9h0M579.8 100.5h0M560.7 61.9h0M578.3 102.4h0M559.2 77.9h0M587.5 86.5h0M589.0 90.7h0M555.6 86.2h0M549.4 72.9h0M548.0 92.0h0M564.2 73.8h0M592.2 82.5h0M552.1 98.9h0M574.0 80.6h0M578.1 82.8h0M570.3 87.7h0M591.2 101.8h0M598.3 61.5h0M555.9 81.1h0M577.1 97.5h0M589.2 101.8h0M565.0 83.1h0M552.8 86.4h0" stroke="#f8eab4" stroke-width="0.8" stroke-linecap="round"/>
<path d="M547.0 83.1h0M622.3 83.0h0M544.7 95.0h0M569.6 87.6h0M551.3 94.8h0M561.4 75.8h0M552.5 95.2h0M558.0 83.9h0M569.2 101.8h0M559.7 82.5h0M600.0 91.7h0M565.3 89.6h0M554.9 71.8h0M548.3 92.5h0M587.1 97.6h0M563.8 87.1h0M592.8 94.3h0M556.9 66.3h0M555.6 83.1h0M548.2 65.5h0M547.2 65.0h0M574.2 96.3h0M545.0 99.1h0M578.4 90.8h0M552.3 91.5h0M566.8 63.1h0M551.3 64.4h0M586.5 102.8h0M565.6 93.0h0M561.2 83.5h0M553.6 97.8h0M561.3 85.2h0M571.7 96.1h0M584.3 81.0h0M549.7 93.7h0M574.7 84.5h0M560.8 91.1h0M560.9 91.1h0M573.2 84.1h0M587.6 79.3h0M557.5 76.7h0M595.8 80.7h0M560.6 99.4h0M551.9 96.6h0M567.7 58.1h0M558.5 90.5h0M554.1 84.3h0M550.8 72.5h0M559.9 54.4h0M563.5 73.7h0M545.2 82.1h0M565.1 96.8h0M547.8 83.9h0M563.2 87.4h0M577.7 101.9h0M570.7 82.9h0M580.0 96.4h0M592.2 79.0h0M552.5 91.8h0M564.1 73.4h0M584.3 88.7h0M587.8 97.1h0M571.8 71.3h0M551.1 72.1h0M561.3 65.5h0M564.8 84.5h0M575.5 102.9h0M549.5 90.1h0M551.7 88.6h0M569.5 97.0h0M560.0 88.4h0M613.7 103.1h0M576.3 81.3h0M592.9 104.5h0M558.8 99.0h0M571.3 43.6h0M572.2 83.5h0M577.2 102.5h0M574.6 101.1h0M609.5 89.3h0M569.8 86.5h0M567.7 80.1h0M576.7 98.5h0M552.8 100.9h0M550.9 78.1h0M557.1 57.7h0M564.7 72.7h0M577.3 91.6h0M576.3 101.6h0M585.6 80.7h0M584.1 96.0h0M574.1 80.7h0M557.2 61.5h0M581.4 70.9h0M606.3 93.6h0M572.1 93.4h0M548.8 57.2h0M558.4 87.8h0M590.4 91.4h0M555.6 88.0h0" stroke="#b09848" stroke-width="1.6" stroke-linecap="round"/>
<path d="M547.0 83.1h0M622.3 83.0h0M544.7 95.0h0M569.6 87.6h0M551.3 94.8h0M561.4 75.8h0M552.5 95.2h0M558.0 83.9h0M569.2 101.8h0M559.7 82.5h0M600.0 91.7h0M565.3 89.6h0M554.9 71.8h0M548.3 92.5h0M587.1 97.6h0M563.8 87.1h0M592.8 94.3h0M556.9 66.3h0M555.6 83.1h0M548.2 65.5h0M547.2 65.0h0M574.2 96.3h0M545.0 99.1h0M578.4 90.8h0M552.3 91.5h0M566.8 63.1h0M551.3 64.4h0M586.5 102.8h0M565.6 93.0h0M561.2 83.5h0M553.6 97.8h0M561.3 85.2h0M571.7 96.1h0M584.3 81.0h0M549.7 93.7h0M574.7 84.5h0M560.8 91.1h0M560.9 91.1h0M573.2 84.1h0M587.6 79.3h0M557.5 76.7h0M595.8 80.7h0M560.6 99.4h0M551.9 96.6h0M567.7 58.1h0M558.5 90.5h0M554.1 84.3h0M550.8 72.5h0M559.9 54.4h0M563.5 73.7h0M545.2 82.1h0M565.1 96.8h0M547.8 83.9h0M563.2 87.4h0M577.7 101.9h0M570.7 82.9h0M580.0 96.4h0M592.2 79.0h0M552.5 91.8h0M564.1 73.4h0M584.3 88.7h0M587.8 97.1h0M571.8 71.3h0M551.1 72.1h0M561.3 65.5h0M564.8 84.5h0M575.5 102.9h0M549.5 90.1h0M551.7 88.6h0M569.5 97.0h0M560.0 88.4h0M613.7 103.1h0M576.3 81.3h0M592.9 104.5h0M558.8 99.0h0M571.3 43.6h0M572.2 83.5h0M577.2 102.5h0M574.6 101.1h0M609.5 89.3h0M569.8 86.5h0M567.7 80.1h0M576.7 98.5h0M552.8 100.9h0M550.9 78.1h0M557.1 57.7h0M564.7 72.7h0M577.3 91.6h0M576.3 101.6h0M585.6 80.7h0M584.1 96.0h0M574.1 80.7h0M557.2 61.5h0M581.4 70.9h0M606.3 93.6h0M572.1 93.4h0M548.8 57.2h0M558.4 87.8h0M590.4 91.4h0M555.6 88.0h0" stroke="#f8eab4" stroke-width="0.8" stroke-linecap="round"/>
<path d="M564.7 93.7h0M560.5 78.8h0M627.4 42.9h0M572.0 77.5h0M550.9 94.6h0M551.2 68.4h0M571.7 82.8h0M546.6 80.9h0M571.7 99.9h0M552.1 72.8h0M562.3 89.3h0M547.3 99.1h0M547.6 92.6h0M577.0 91.2h0M565.0 99.2h0M582.1 89.3h0M563.2 83.9h0M553.2 68.3h0M561.5 72.4h0M549.6 69.0h0M557.9 99.6h0M561.1 100.5h0M562.2 88.5h0M593.3 54.9h0M548.9 62.6h0M563.3 94.3h0M579.1 78.5h0M564.9 88.2h0M570.4 80.0h0M582.6 103.4h0M552.7 71.9h0M552.3 93.8h0M567.6 69.9h0M578.6 86.9h0M546.2 60.4h0M561.1 74.8h0M585.5 97.2h0M582.2 104.2h0M549.7 41.2h0M558.8 87.9h0M569.0 76.7h0M578.9 88.2h0M592.0 102.8h0M560.6 72.9h0M579.9 102.2h0M545.2 72.8h0M563.5 87.6h0M581.9 92.8h0M552.6 93.7h0M553.1 74.1h0M547.2 68.8h0M579.7 102.6h0M566.6 84.4h0M559.8 82.8h0M544.5 75.8h0M572.9 99.9h0M571.0 87.9h0M570.1 82.1h0M592.5 87.4h0M576.7 100.6h0M589.6 99.3h0M589.7 93.8h0M547.8 72.8h0M545.9 64.5h0M590.8 94.2h0M572.9 95.4h0M574.7 84.9h0M545.6 74.6h0M552.7 61.0h0M549.2 68.4h0M583.5 97.3h0M565.5 93.9h0M605.7 48.9h0M549.6 79.1h0M570.0 89.4h0M559.6 48.9h0M548.3 90.0h0M564.3 82.3h0M552.8 94.9h0M596.3 101.7h0M561.0 98.2h0M584.0 82.9h0M546.8 86.1h0M556.9 94.0h0M552.0 78.7h0M585.1 93.2h0M561.4 71.3h0M573.1 101.7h0M597.6 85.1h0M572.8 89.9h0M545.4 89.9h0M553.6 95.0h0M569.0 97.5h0M587.7 102.7h0M570.9 77.6h0M569.2 78.3h0M570.9 82.5h0M575.2 64.6h0M548.6 48.8h0M573.7 84.4h0" stroke="#b09848" stroke-width="1.6" stroke-linecap="round"/>
<path d="M564.7 93.7h0M560.5 78.8h0M627.4 42.9h0M572.0 77.5h0M550.9 94.6h0M551.2 68.4h0M571.7 82.8h0M546.6 80.9h0M571.7 99.9h0M552.1 72.8h0M562.3 89.3h0M547.3 99.1h0M547.6 92.6h0M577.0 91.2h0M565.0 99.2h0M582.1 89.3h0M563.2 83.9h0M553.2 68.3h0M561.5 72.4h0M549.6 69.0h0M557.9 99.6h0M561.1 100.5h0M562.2 88.5h0M593.3 54.9h0M548.9 62.6h0M563.3 94.3h0M579.1 78.5h0M564.9 88.2h0M570.4 80.0h0M582.6 103.4h0M552.7 71.9h0M552.3 93.8h0M567.6 69.9h0M578.6 86.9h0M546.2 60.4h0M561.1 74.8h0M585.5 97.2h0M582.2 104.2h0M549.7 41.2h0M558.8 87.9h0M569.0 76.7h0M578.9 88.2h0M592.0 102.8h0M560.6 72.9h0M579.9 102.2h0M545.2 72.8h0M563.5 87.6h0M581.9 92.8h0M552.6 93.7h0M553.1 74.1h0M547.2 68.8h0M579.7 102.6h0M566.6 84.4h0M559.8 82.8h0M544.5 75.8h0M572.9 99.9h0M571.0 87.9h0M570.1 82.1h0M592.5 87.4h0M576.7 100.6h0M589.6 99.3h0M589.7 93.8h0M547.8 72.8h0M545.9 64.5h0M590.8 94.2h0M572.9 95.4h0M574.7 84.9h0M545.6 74.6h0M552.7 61.0h0M549.2 68.4h0M583.5 97.3h0M565.5 93.9h0M605.7 48.9h0M549.6 79.1h0M570.0 89.4h0M559.6 48.9h0M548.3 90.0h0M564.3 82.3h0M552.8 94.9h0M596.3 101.7h0M561.0 98.2h0M584.0 82.9h0M546.8 86.1h0M556.9 94.0h0M552.0 78.7h0M585.1 93.2h0M561.4 71.3h0M573.1 101.7h0M597.6 85.1h0M572.8 89.9h0M545.4 89.9h0M553.6 95.0h0M569.0 97.5h0M587.7 102.7h0M570.9 77.6h0M569.2 78.3h0M570.9 82.5h0M575.2 64.6h0M548.6 48.8h0M573.7 84.4h0" stroke="#f8eab4" stroke-width="0.8" stroke-linecap="round"/>
<path d="M623.4 96.5h0M548.2 95.5h0M551.7 84.9h0M546.1 47.0h0M581.5 94.6h0M598.5 97.2h0M559.9 70.5h0M593.3 87.6h0M579.0 31.4h0M546.8 84.2h0M578.9 90.3h0M583.9 99.1h0M596.9 85.9h0M554.2 60.1h0M554.3 77.0h0M560.5 67.5h0M566.4 98.2h0M558.6 68.6h0M579.5 98.2h0M590.7 94.5h0M577.2 70.2h0M568.6 87.4h0M565.6 92.7h0M549.9 80.3h0M559.1 49.7h0M570.2 61.1h0M600.8 77.0h0M569.7 101.8h0M593.9 100.2h0M587.5 101.1h0M582.5 67.2h0M566.9 91.7h0M553.8 76.2h0M553.2 81.8h0M556.8 82.0h0M563.6 87.8h0M559.3 86.3h0M583.3 73.5h0M573.9 92.8h0M585.4 92.7h0M590.9 97.8h0M579.3 91.8h0M550.7 76.3h0M617.3 74.5h0M591.6 98.2h0M567.5 98.7h0M585.1 77.3h0M550.2 80.6h0M567.6 92.5h0M565.4 74.0h0M544.8 91.4h0M565.8 99.5h0M576.4 98.2h0M572.5 99.1h0M588.8 99.9h0M559.9 78.7h0M564.6 94.2h0M566.9 88.5h0M586.0 73.0h0M589.6 99.7h0M559.4 47.6h0M617.4 83.0h0M549.6 69.3h0M581.5 102.2h0M553.5 80.3h0M567.1 71.7h0M562.5 93.4h0M567.5 92.9h0M560.9 89.0h0M546.3 95.7h0M565.6 102.7h0M564.0 83.5h0M591.4 74.2h0M558.1 79.3h0M557.9 64.1h0M592.1 96.5h0M555.7 97.1h0M570.0 74.0h0M553.5 82.1h0M580.0 70.5h0M549.4 82.1h0M565.5 92.6h0M600.5 77.5h0M585.5 92.1h0M572.4 94.7h0M545.8 66.2h0M567.4 72.7h0M563.5 93.8h0M579.1 101.9h0M588.6 77.7h0M544.5 90.1h0M562.9 87.2h0M556.0 82.7h0M565.8 82.2h0M590.3 95.4h0M563.6 67.5h0M595.1 101.0h0M579.8 87.0h0M560.2 72.8h0M544.8 62.6h0" stroke="#b09848" stroke-width="1.6" stroke-linecap="round"/>
<path d="M623.4 96.5h0M548.2 95.5h0M551.7 84.9h0M546.1 47.0h0M581.5 94.6h0M598.5 97.2h0M559.9 70.5h0M593.3 87.6h0M579.0 31.4h0M546.8 84.2h0M578.9 90.3h0M583.9 99.1h0M596.9 85.9h0M554.2 60.1h0M554.3 77.0h0M560.5 67.5h0M566.4 98.2h0M558.6 68.6h0M579.5 98.2h0M590.7 94.5h0M577.2 70.2h0M568.6 87.4h0M565.6 92.7h0M549.9 80.3h0M559.1 49.7h0M570.2 61.1h0M600.8 77.0h0M569.7 101.8h0M593.9 100.2h0M587.5 101.1h0M582.5 67.2h0M566.9 91.7h0M553.8 76.2h0M553.2 81.8h0M556.8 82.0h0M563.6 87.8h0M559.3 86.3h0M583.3 73.5h0M573.9 92.8h0M585.4 92.7h0M590.9 97.8h0M579.3 91.8h0M550.7 76.3h0M617.3 74.5h0M591.6 98.2h0M567.5 98.7h0M585.1 77.3h0M550.2 80.6h0M567.6 92.5h0M565.4 74.0h0M544.8 91.4h0M565.8 99.5h0M576.4 98.2h0M572.5 99.1h0M588.8 99.9h0M559.9 78.7h0M564.6 94.2h0M566.9 88.5h0M586.0 73.0h0M589.6 99.7h0M559.4 47.6h0M617.4 83.0h0M549.6 69.3h0M581.5 102.2h0M553.5 80.3h0M567.1 71.7h0M562.5 93.4h0M567.5 92.9h0M560.9 89.0h0M546.3 95.7h0M565.6 102.7h0M564.0 83.5h0M591.4 74.2h0M558.1 79.3h0M557.9 64.1h0M592.1 96.5h0M555.7 97.1h0M570.0 74.0h0M553.5 82.1h0M580.0 70.5h0M549.4 82.1h0M565.5 92.6h0M600.5 77.5h0M585.5 92.1h0M572.4 94.7h0M545.8 66.2h0M567.4 72.7h0M563.5 93.8h0M579.1 101.9h0M588.6 77.7h0M544.5 90.1h0M562.9 87.2h0M556.0 82.7h0M565.8 82.2h0M590.3 95.4h0M563.6 67.5h0M595.1 101.0h0M579.8 87.0h0M560.2 72.8h0M544.8 62.6h0" stroke="#f8eab4" stroke-width="0.8" stroke-linecap="round"/>
<path d="M582.0 94.5h0M588.5 83.2h0M551.5 63.8h0M561.7 99.3h0M552.7 93.3h0M593.5 98.2h0M579.5 92.0h0M575.2 80.3h0M548.8 76.8h0M577.0 99.3h0M568.9 97.6h0M582.4 97.4h0M563.3 93.2h0M572.8 84.9h0M554.6 76.3h0M548.2 98.8h0M582.4 95.3h0M555.4 84.2h0M595.2 96.2h0M553.6 82.1h0M579.4 87.9h0M559.2 101.9h0M550.0 59.4h0M563.8 74.9h0M546.9 83.4h0M550.1 82.3h0M550.5 67.0h0M563.6 70.3h0M552.9 93.2h0M596.4 96.0h0M578.5 98.4h0M581.4 93.6h0M567.3 75.8h0M548.8 57.2h0M611.5 63.7h0M548.1 54.9h0M622.1 70.8h0M576.9 94.0h0M592.3 98.7h0M570.4 85.9h0M550.1 69.0h0M554.2 60.9h0M559.5 87.9h0M593.0 35.1h0M594.4 97.4h0M565.5 101.3h0M557.2 78.0h0M555.3 68.1h0M557.9 82.4h0M582.9 66.1h0M551.4 89.9h0M589.2 100.6h0M573.8 53.5h0M545.1 100.0h0M577.9 41.1h0M578.4 92.4h0M565.5 96.8h0M551.1 47.6h0M563.7 90.1h0M555.1 49.2h0M577.0 103.6h0M564.1 100.3h0M574.5 83.7h0M588.5 94.3h0M569.9 93.4h0M548.0 59.8h0M570.7 77.8h0M552.7 98.9h0M573.7 72.2h0M567.4 89.7h0M558.3 65.8h0M589.5 97.3h0M557.5 78.3h0M561.6 71.3h0M587.3 97.5h0M598.2 90.6h0M559.7 89.2h0M617.0 79.9h0M576.0 101.9h0M561.6 102.5h0M551.2 64.9h0M547.6 68.8h0M547.6 56.7h0M562.3 95.3h0M590.2 100.9h0M564.5 90.2h0M551.6 62.1h0M591.3 98.3h0M567.4 76.1h0M562.2 65.3h0M562.9 72.2h0M580.9 91.0h0M549.2 66.0h0M594.0 101.5h0M584.8 97.6h0M571.3 98.8h0M550.8 74.6h0M621.5 99.8h0M548.5 59.4h0M563.2 72.7h0" stroke="#b09848" stroke-width="1.6" stroke-linecap="round"/>
<path d="M582.0 94.5h0M588.5 83.2h0M551.5 63.8h0M561.7 99.3h0M552.7 93.3h0M593.5 98.2h0M579.5 92.0h0M575.2 80.3h0M548.8 76.8h0M577.0 99.3h0M568.9 97.6h0M582.4 97.4h0M563.3 93.2h0M572.8 84.9h0M554.6 76.3h0M548.2 98.8h0M582.4 95.3h0M555.4 84.2h0M595.2 96.2h0M553.6 82.1h0M579.4 87.9h0M559.2 101.9h0M550.0 59.4h0M563.8 74.9h0M546.9 83.4h0M550.1 82.3h0M550.5 67.0h0M563.6 70.3h0M552.9 93.2h0M596.4 96.0h0M578.5 98.4h0M581.4 93.6h0M567.3 75.8h0M548.8 57.2h0M611.5 63.7h0M548.1 54.9h0M622.1 70.8h0M576.9 94.0h0M592.3 98.7h0M570.4 85.9h0M550.1 69.0h0M554.2 60.9h0M559.5 87.9h0M593.0 35.1h0M594.4 97.4h0M565.5 101.3h0M557.2 78.0h0M555.3 68.1h0M557.9 82.4h0M582.9 66.1h0M551.4 89.9h0M589.2 100.6h0M573.8 53.5h0M545.1 100.0h0M577.9 41.1h0M578.4 92.4h0M565.5 96.8h0M551.1 47.6h0M563.7 90.1h0M555.1 49.2h0M577.0 103.6h0M564.1 100.3h0M574.5 83.7h0M588.5 94.3h0M569.9 93.4h0M548.0 59.8h0M570.7 77.8h0M552.7 98.9h0M573.7 72.2h0M567.4 89.7h0M558.3 65.8h0M589.5 97.3h0M557.5 78.3h0M561.6 71.3h0M587.3 97.5h0M598.2 90.6h0M559.7 89.2h0M617.0 79.9h0M576.0 101.9h0M561.6 102.5h0M551.2 64.9h0M547.6 68.8h0M547.6 56.7h0M562.3 95.3h0M590.2 100.9h0M564.5 90.2h0M551.6 62.1h0M591.3 98.3h0M567.4 76.1h0M562.2 65.3h0M562.9 72.2h0M580.9 91.0h0M549.2 66.0h0M594.0 101.5h0M584.8 97.6h0M571.3 98.8h0M550.8 74.6h0M621.5 99.8h0M548.5 59.4h0M563.2 72.7h0" stroke="#f8eab4" stroke-width="0.8" stroke-linecap="round"/>
<path d="M551.5 81.3h0M550.1 54.5h0M555.4 71.7h0M590.5 88.3h0M578.8 100.2h0M586.7 95.6h0M545.5 95.5h0M555.2 94.1h0M560.6 74.7h0M552.8 80.6h0M572.9 86.0h0M568.8 98.5h0M547.0 72.7h0M583.1 90.9h0M587.5 94.0h0M600.9 99.8h0M563.2 97.3h0M550.1 79.7h0M556.5 94.0h0M545.3 78.7h0M557.2 82.6h0M550.0 98.9h0M604.6 47.7h0M579.4 45.8h0M593.3 102.0h0M593.6 102.6h0M549.5 96.5h0M547.3 86.5h0M551.8 60.3h0M584.3 104.5h0M604.5 94.6h0M549.3 93.0h0M561.1 73.7h0M565.1 94.9h0M564.8 72.8h0M553.1 57.6h0M576.6 94.9h0M570.0 77.0h0M563.2 96.3h0M592.5 98.8h0M562.6 97.9h0M557.1 86.5h0M574.7 102.9h0M580.4 101.6h0M596.8 91.1h0M556.5 86.1h0M553.5 100.2h0M553.5 92.1h0M562.4 80.2h0M568.3 98.3h0M569.0 93.9h0M569.1 72.9h0M566.0 69.2h0M556.8 98.7h0M561.5 75.9h0M583.4 96.3h0M558.3 86.8h0M554.0 91.3h0M562.2 98.5h0M601.8 33.3h0M569.8 72.7h0M547.3 66.5h0M580.9 98.8h0M546.6 76.9h0M574.9 101.2h0M548.3 63.7h0M610.6 62.2h0M555.3 81.6h0M567.3 35.1h0M552.3 97.4h0M552.2 72.4h0M562.7 43.1h0M564.8 81.7h0M578.6 88.6h0M578.0 92.8h0M576.1 79.9h0M546.9 85.5h0M568.3 96.3h0M563.6 89.7h0M590.3 99.7h0M609.6 77.2h0M554.8 65.5h0M574.0 81.7h0M587.7 103.1h0M561.6 68.4h0M565.6 94.0h0M566.2 84.7h0M544.8 68.8h0M585.0 80.6h0M578.1 85.3h0M561.1 60.1h0M556.3 82.1h0M570.9 96.5h0M561.4 86.8h0M562.5 89.2h0M572.0 87.8h0M558.1 56.7h0M559.5 94.7h0M555.5 85.8h0M588.4 79.2h0" stroke="#b09848" stroke-width="1.6" stroke-linecap="round"/>
<path d="M551.5 81.3h0M550.1 54.5h0M555.4 71.7h0M590.5 88.3h0M578.8 100.2h0M586.7 95.6h0M545.5 95.5h0M555.2 94.1h0M560.6 74.7h0M552.8 80.6h0M572.9 86.0h0M568.8 98.5h0M547.0 72.7h0M583.1 90.9h0M587.5 94.0h0M600.9 99.8h0M563.2 97.3h0M550.1 79.7h0M556.5 94.0h0M545.3 78.7h0M557.2 82.6h0M550.0 98.9h0M604.6 47.7h0M579.4 45.8h0M593.3 102.0h0M593.6 102.6h0M549.5 96.5h0M547.3 86.5h0M551.8 60.3h0M584.3 104.5h0M604.5 94.6h0M549.3 93.0h0M561.1 73.7h0M565.1 94.9h0M564.8 72.8h0M553.1 57.6h0M576.6 94.9h0M570.0 77.0h0M563.2 96.3h0M592.5 98.8h0M562.6 97.9h0M557.1 86.5h0M574.7 102.9h0M580.4 101.6h0M596.8 91.1h0M556.5 86.1h0M553.5 100.2h0M553.5 92.1h0M562.4 80.2h0M568.3 98.3h0M569.0 93.9h0M569.1 72.9h0M566.0 69.2h0M556.8 98.7h0M561.5 75.9h0M583.4 96.3h0M558.3 86.8h0M554.0 91.3h0M562.2 98.5h0M601.8 33.3h0M569.8 72.7h0M547.3 66.5h0M580.9 98.8h0M546.6 76.9h0M574.9 101.2h0M548.3 63.7h0M610.6 62.2h0M555.3 81.6h0M567.3 35.1h0M552.3 97.4h0M552.2 72.4h0M562.7 43.1h0M564.8 81.7h0M578.6 88.6h0M578.0 92.8h0M576.1 79.9h0M546.9 85.5h0M568.3 96.3h0M563.6 89.7h0M590.3 99.7h0M609.6 77.2h0M554.8 65.5h0M574.0 81.7h0M587.7 103.1h0M561.6 68.4h0M565.6 94.0h0M566.2 84.7h0M544.8 68.8h0M585.0 80.6h0M578.1 85.3h0M561.1 60.1h0M556.3 82.1h0M570.9 96.5h0M561.4 86.8h0M562.5 89.2h0M572.0 87.8h0M558.1 56.7h0M559.5 94.7h0M555.5 85.8h0M588.4 79.2h0" stroke="#f8eab4" stroke-width="0.8" stroke-linecap="round"/>
<path d="M555.3 92.6h0M559.1 101.6h0M571.2 91.3h0M559.3 80.5h0M562.5 70.9h0M572.4 67.7h0M549.6 94.4h0M558.6 84.7h0M566.6 98.3h0M564.7 91.8h0M574.9 99.0h0M598.5 91.3h0M555.8 100.6h0M602.5 105.8h0M554.9 68.9h0M574.5 88.5h0M553.4 72.8h0M582.6 93.2h0M575.2 89.4h0M551.3 49.6h0M549.8 67.4h0M559.8 66.1h0M555.7 90.4h0M581.1 104.0h0M562.5 77.8h0M566.1 97.6h0M557.3 84.2h0M567.5 37.8h0M567.6 96.0h0M563.2 97.9h0M592.7 81.8h0M561.0 94.6h0M573.2 96.2h0M585.5 74.8h0M566.7 99.5h0M586.6 90.5h0M571.3 82.0h0M571.3 64.0h0M561.0 84.9h0M591.7 102.5h0M592.0 90.2h0M591.3 64.7h0M618.3 42.9h0M561.6 74.8h0M558.5 85.2h0M584.4 99.1h0M568.7 64.5h0M558.3 80.2h0M569.7 79.0h0M567.5 81.3h0M574.2 72.0h0M556.7 86.4h0M615.8 78.0h0M571.2 94.6h0M562.9 75.3h0M563.7 101.3h0M560.3 87.7h0M566.4 75.9h0M564.6 98.1h0M575.5 83.4h0M569.8 81.2h0M552.9 66.7h0M551.2 81.1h0M563.3 89.5h0M581.9 95.1h0M558.2 84.7h0M566.8 82.4h0M577.3 86.6h0M565.0 90.5h0M556.8 65.9h0M579.7 100.2h0M595.6 100.4h0M547.8 92.2h0M573.9 89.7h0M596.7 103.5h0M552.7 64.8h0M559.3 86.0h0M592.6 96.5h0M553.5 75.6h0M561.5 69.1h0M553.4 98.3h0M580.8 103.0h0M587.8 94.2h0M587.7 98.8h0M546.6 97.6h0M551.3 68.9h0M603.5 98.2h0M562.0 84.2h0M551.9 58.9h0M569.1 80.1h0M560.7 81.3h0M590.1 93.1h0M550.5 77.1h0M583.1 92.7h0M571.4 81.6h0M546.9 65.9h0M563.7 67.1h0M553.1 79.8h0M551.1 76.6h0M562.4 81.8h0" stroke="#b09848" stroke-width="1.6" stroke-linecap="round"/>
<path d="M555.3 92.6h0M559.1 101.6h0M571.2 91.3h0M559.3 80.5h0M562.5 70.9h0M572.4 67.7h0M549.6 94.4h0M558.6 84.7h0M566.6 98.3h0M564.7 91.8h0M574.9 99.0h0M598.5 91.3h0M555.8 100.6h0M602.5 105.8h0M554.9 68.9h0M574.5 88.5h0M553.4 72.8h0M582.6 93.2h0M575.2 89.4h0M551.3 49.6h0M549.8 67.4h0M559.8 66.1h0M555.7 90.4h0M581.1 104.0h0M562.5 77.8h0M566.1 97.6h0M557.3 84.2h0M567.5 37.8h0M567.6 96.0h0M563.2 97.9h0M592.7 81.8h0M561.0 94.6h0M573.2 96.2h0M585.5 74.8h0M566.7 99.5h0M586.6 90.5h0M571.3 82.0h0M571.3 64.0h0M561.0 84.9h0M591.7 102.5h0M592.0 90.2h0M591.3 64.7h0M618.3 42.9h0M561.6 74.8h0M558.5 85.2h0M584.4 99.1h0M568.7 64.5h0M558.3 80.2h0M569.7 79.0h0M567.5 81.3h0M574.2 72.0h0M556.7 86.4h0M615.8 78.0h0M571.2 94.6h0M562.9 75.3h0M563.7 101.3h0M560.3 87.7h0M566.4 75.9h0M564.6 98.1h0M575.5 83.4h0M569.8 81.2h0M552.9 66.7h0M551.2 81.1h0M563.3 89.5h0M581.9 95.1h0M558.2 84.7h0M566.8 82.4h0M577.3 86.6h0M565.0 90.5h0M556.8 65.9h0M579.7 100.2h0M595.6 100.4h0M547.8 92.2h0M573.9 89.7h0M596.7 103.5h0M552.7 64.8h0M559.3 86.0h0M592.6 96.5h0M553.5 75.6h0M561.5 69.1h0M553.4 98.3h0M580.8 103.0h0M587.8 94.2h0M587.7 98.8h0M546.6 97.6h0M551.3 68.9h0M603.5 98.2h0M562.0 84.2h0M551.9 58.9h0M569.1 80.1h0M560.7 81.3h0M590.1 93.1h0M550.5 77.1h0M583.1 92.7h0M571.4 81.6h0M546.9 65.9h0M563.7 67.1h0M553.1 79.8h0M551.1 76.6h0M562.4 81.8h0" stroke="#f8eab4" stroke-width="0.8" stroke-linecap="round"/>
<path d="M552.2 96.3h0M567.1 87.3h0M557.8 84.2h0M559.0 66.8h0M581.3 91.4h0M586.9 79.1h0M584.3 104.5h0M594.1 99.1h0M564.1 69.4h0M591.0 96.3h0M609.9 34.5h0M551.5 65.5h0M558.3 98.6h0M545.7 79.4h0M575.7 101.9h0M582.6 96.0h0M584.2 99.4h0M602.4 88.2h0M560.2 71.9h0M589.5 103.4h0M583.4 98.0h0M594.4 98.3h0M552.9 83.9h0M559.8 70.5h0M571.2 74.3h0M557.7 73.6h0M589.3 79.8h0M563.5 84.5h0M601.2 72.9h0M595.8 100.7h0M555.9 71.1h0M553.1 98.3h0M556.7 82.4h0M561.0 58.4h0M578.6 83.9h0M602.4 92.9h0M582.1 93.3h0M557.5 79.7h0M565.2 99.3h0M580.8 97.9h0M563.8 42.8h0M604.1 97.2h0M560.7 84.2h0M568.8 103.1h0M557.3 79.1h0M554.2 58.2h0M579.1 99.7h0M562.9 94.1h0M547.1 64.1h0M558.1 68.8h0M560.3 84.8h0M619.2 63.6h0M547.7 64.6h0M577.8 84.2h0M565.8 99.8h0M567.5 102.6h0M581.0 87.1h0M558.9 90.1h0M567.8 79.9h0M595.6 91.8h0M601.8 51.2h0M593.1 93.0h0M553.0 94.0h0M568.4 62.0h0M564.3 87.9h0M586.9 101.8h0M601.2 90.4h0M576.5 91.5h0M554.0 93.6h0M553.8 65.7h0M564.9 101.4h0M557.3 91.5h0M559.4 96.6h0M567.9 69.3h0M545.4 90.0h0M552.1 92.7h0M554.3 67.9h0M579.2 95.6h0M546.0 94.8h0M548.5 62.5h0M569.0 57.5h0M583.3 101.5h0M583.0 104.1h0M547.0 87.5h0M571.8 90.7h0M590.2 95.2h0M568.1 85.0h0M585.0 103.6h0M586.0 96.4h0M589.5 93.4h0M562.6 61.5h0M602.0 53.9h0M560.0 75.6h0M574.5 54.6h0M556.1 90.4h0M587.2 91.1h0M563.0 95.1h0M551.4 58.4h0M553.2 72.3h0M559.5 102.2h0" stroke="#b09848" stroke-width="1.6" stroke-linecap="round"/>
<path d="M552.2 96.3h0M567.1 87.3h0M557.8 84.2h0M559.0 66.8h0M581.3 91.4h0M586.9 79.1h0M584.3 104.5h0M594.1 99.1h0M564.1 69.4h0M591.0 96.3h0M609.9 34.5h0M551.5 65.5h0M558.3 98.6h0M545.7 79.4h0M575.7 101.9h0M582.6 96.0h0M584.2 99.4h0M602.4 88.2h0M560.2 71.9h0M589.5 103.4h0M583.4 98.0h0M594.4 98.3h0M552.9 83.9h0M559.8 70.5h0M571.2 74.3h0M557.7 73.6h0M589.3 79.8h0M563.5 84.5h0M601.2 72.9h0M595.8 100.7h0M555.9 71.1h0M553.1 98.3h0M556.7 82.4h0M561.0 58.4h0M578.6 83.9h0M602.4 92.9h0M582.1 93.3h0M557.5 79.7h0M565.2 99.3h0M580.8 97.9h0M563.8 42.8h0M604.1 97.2h0M560.7 84.2h0M568.8 103.1h0M557.3 79.1h0M554.2 58.2h0M579.1 99.7h0M562.9 94.1h0M547.1 64.1h0M558.1 68.8h0M560.3 84.8h0M619.2 63.6h0M547.7 64.6h0M577.8 84.2h0M565.8 99.8h0M567.5 102.6h0M581.0 87.1h0M558.9 90.1h0M567.8 79.9h0M595.6 91.8h0M601.8 51.2h0M593.1 93.0h0M553.0 94.0h0M568.4 62.0h0M564.3 87.9h0M586.9 101.8h0M601.2 90.4h0M576.5 91.5h0M554.0 93.6h0M553.8 65.7h0M564.9 101.4h0M557.3 91.5h0M559.4 96.6h0M567.9 69.3h0M545.4 90.0h0M552.1 92.7h0M554.3 67.9h0M579.2 95.6h0M546.0 94.8h0M548.5 62.5h0M569.0 57.5h0M583.3 101.5h0M583.0 104.1h0M547.0 87.5h0M571.8 90.7h0M590.2 95.2h0M568.1 85.0h0M585.0 103.6h0M586.0 96.4h0M589.5 93.4h0M562.6 61.5h0M602.0 53.9h0M560.0 75.6h0M574.5 54.6h0M556.1 90.4h0M587.2 91.1h0M563.0 95.1h0M551.4 58.4h0M553.2 72.3h0M559.5 102.2h0" stroke="#f8eab4" stroke-width="0.8" stroke-linecap="round"/>
<path d="M589.8 96.1h0M560.6 74.0h0M556.8 90.1h0M556.0 91.0h0M549.7 100.3h0M558.5 76.3h0M577.1 94.1h0M578.0 79.2h0M571.5 88.7h0M556.2 93.0h0M578.8 81.9h0M597.5 91.1h0M621.4 39.2h0M545.4 83.2h0M542.6 82.0h0M549.8 75.2h0M566.2 45.0h0M568.9 70.6h0M559.4 69.4h0M574.9 86.7h0M551.2 64.8h0M559.8 97.9h0M576.9 96.7h0M573.2 89.1h0M561.5 73.3h0M549.2 66.4h0M567.2 80.6h0M576.5 94.8h0M553.3 100.2h0M567.1 85.5h0M558.6 89.4h0M551.5 74.1h0M584.7 86.3h0M580.0 82.8h0M548.3 59.7h0M553.4 64.6h0M558.1 73.3h0M589.1 105.2h0M566.6 80.3h0M550.0 46.9h0M549.5 96.1h0M554.1 94.1h0M548.4 75.1h0M555.3 94.4h0M580.0 94.0h0M548.8 53.6h0M547.8 77.9h0M570.9 94.0h0M560.3 96.3h0M580.2 101.9h0M566.1 75.4h0M555.1 62.9h0M560.5 74.5h0M556.5 76.9h0M584.2 91.8h0M580.9 100.0h0M591.3 101.4h0M587.1 94.0h0M552.4 65.8h0M576.0 28.4h0M561.8 97.1h0M553.6 68.2h0M579.2 102.1h0M590.4 100.8h0M571.8 99.9h0M567.6 74.7h0M554.5 84.7h0M554.4 78.3h0M556.0 95.3h0M560.1 98.8h0M564.0 61.5h0M559.3 95.7h0M590.8 92.5h0M552.4 68.3h0M551.1 83.8h0M549.8 59.2h0M555.2 100.7h0M597.8 87.0h0M587.4 99.4h0M555.5 98.6h0M547.9 68.6h0M550.4 86.0h0M578.2 96.5h0M625.0 86.8h0M544.9 99.8h0M551.0 72.5h0M564.0 100.9h0M563.7 90.9h0M582.5 64.2h0M582.4 93.4h0M597.6 93.2h0M561.1 74.1h0M609.1 56.5h0M559.8 93.2h0M584.7 93.9h0M552.1 74.6h0M611.1 54.3h0M594.0 97.6h0M578.5 102.6h0M566.2 91.9h0" stroke="#b09848" stroke-width="1.6" stroke-linecap="round"/>
<path d="M589.8 96.1h0M560.6 74.0h0M556.8 90.1h0M556.0 91.0h0M549.7 100.3h0M558.5 76.3h0M577.1 94.1h0M578.0 79.2h0M571.5 88.7h0M556.2 93.0h0M578.8 81.9h0M597.5 91.1h0M621.4 39.2h0M545.4 83.2h0M542.6 82.0h0M549.8 75.2h0M566.2 45.0h0M568.9 70.6h0M559.4 69.4h0M574.9 86.7h0M551.2 64.8h0M559.8 97.9h0M576.9 96.7h0M573.2 89.1h0M561.5 73.3h0M549.2 66.4h0M567.2 80.6h0M576.5 94.8h0M553.3 100.2h0M567.1 85.5h0M558.6 89.4h0M551.5 74.1h0M584.7 86.3h0M580.0 82.8h0M548.3 59.7h0M553.4 64.6h0M558.1 73.3h0M589.1 105.2h0M566.6 80.3h0M550.0 46.9h0M549.5 96.1h0M554.1 94.1h0M548.4 75.1h0M555.3 94.4h0M580.0 94.0h0M548.8 53.6h0M547.8 77.9h0M570.9 94.0h0M560.3 96.3h0M580.2 101.9h0M566.1 75.4h0M555.1 62.9h0M560.5 74.5h0M556.5 76.9h0M584.2 91.8h0M580.9 100.0h0M591.3 101.4h0M587.1 94.0h0M552.4 65.8h0M576.0 28.4h0M561.8 97.1h0M553.6 68.2h0M579.2 102.1h0M590.4 100.8h0M571.8 99.9h0M567.6 74.7h0M554.5 84.7h0M554.4 78.3h0M556.0 95.3h0M560.1 98.8h0M564.0 61.5h0M559.3 95.7h0M590.8 92.5h0M552.4 68.3h0M551.1 83.8h0M549.8 59.2h0M555.2 100.7h0M597.8 87.0h0M587.4 99.4h0M555.5 98.6h0M547.9 68.6h0M550.4 86.0h0M578.2 96.5h0M625.0 86.8h0M544.9 99.8h0M551.0 72.5h0M564.0 100.9h0M563.7 90.9h0M582.5 64.2h0M582.4 93.4h0M597.6 93.2h0M561.1 74.1h0M609.1 56.5h0M559.8 93.2h0M584.7 93.9h0M552.1 74.6h0M611.1 54.3h0M594.0 97.6h0M578.5 102.6h0M566.2 91.9h0" stroke="#f8eab4" stroke-width="0.8" stroke-linecap="round"/>
<path d="M561.1 76.4h0M577.6 33.1h0M564.7 81.0h0M578.7 93.2h0M594.2 96.0h0M562.6 90.6h0M559.7 77.9h0M572.9 87.6h0M556.2 100.5h0M556.8 88.9h0M592.3 95.8h0M597.5 80.7h0M576.5 87.5h0M568.3 89.6h0M548.0 76.6h0M555.3 90.1h0M555.1 82.0h0M555.6 65.1h0M604.7 103.7h0M568.0 91.2h0M554.4 92.9h0M546.2 68.6h0M585.6 84.7h0M556.9 50.0h0M559.2 77.7h0M554.0 52.6h0M590.8 104.5h0M580.2 100.1h0M552.3 80.1h0M589.8 89.4h0M563.5 73.2h0M551.1 70.5h0M568.2 80.9h0M570.1 100.7h0M549.9 67.9h0M569.8 97.7h0M551.6 67.9h0M581.5 87.5h0M563.1 78.8h0M622.9 91.8h0M565.0 95.9h0M565.4 78.4h0M585.0 101.6h0M591.6 98.3h0M571.1 69.8h0M598.4 94.7h0M572.4 95.1h0M605.4 54.8h0M548.0 70.5h0M569.7 99.6h0M553.1 56.1h0M586.6 102.1h0M558.9 60.8h0M577.2 94.8h0M595.9 85.6h0M568.9 75.2h0M550.9 97.4h0M581.8 103.6h0M562.7 78.8h0M566.3 96.3h0M595.4 81.7h0M559.1 70.6h0M564.9 78.1h0M579.4 92.9h0M546.2 76.9h0M558.1 98.1h0M585.4 96.7h0M563.6 76.3h0M564.5 82.5h0M571.5 94.7h0M558.5 100.6h0M583.4 90.5h0M545.3 62.6h0M555.9 85.6h0M557.8 81.9h0M568.0 73.0h0M547.3 62.9h0M556.4 87.2h0M585.1 92.5h0M584.9 98.0h0M590.3 93.0h0M585.5 73.4h0M580.0 86.0h0M558.4 33.9h0M570.3 89.4h0M572.2 82.4h0M589.9 101.1h0M581.0 95.9h0M581.1 101.3h0M554.4 60.2h0M580.4 100.3h0M561.9 90.9h0M565.0 98.7h0M565.5 95.2h0M554.3 78.4h0M562.3 92.0h0M578.2 87.4h0M580.1 98.4h0M595.4 98.1h0M556.3 62.6h0" stroke="#b09848" stroke-width="1.6" stroke-linecap="round"/>
<path d="M561.1 76.4h0M577.6 33.1h0M564.7 81.0h0M578.7 93.2h0M594.2 96.0h0M562.6 90.6h0M559.7 77.9h0M572.9 87.6h0M556.2 100.5h0M556.8 88.9h0M592.3 95.8h0M597.5 80.7h0M576.5 87.5h0M568.3 89.6h0M548.0 76.6h0M555.3 90.1h0M555.1 82.0h0M555.6 65.1h0M604.7 103.7h0M568.0 91.2h0M554.4 92.9h0M546.2 68.6h0M585.6 84.7h0M556.9 50.0h0M559.2 77.7h0M554.0 52.6h0M590.8 104.5h0M580.2 100.1h0M552.3 80.1h0M589.8 89.4h0M563.5 73.2h0M551.1 70.5h0M568.2 80.9h0M570.1 100.7h0M549.9 67.9h0M569.8 97.7h0M551.6 67.9h0M581.5 87.5h0M563.1 78.8h0M622.9 91.8h0M565.0 95.9h0M565.4 78.4h0M585.0 101.6h0M591.6 98.3h0M571.1 69.8h0M598.4 94.7h0M572.4 95.1h0M605.4 54.8h0M548.0 70.5h0M569.7 99.6h0M553.1 56.1h0M586.6 102.1h0M558.9 60.8h0M577.2 94.8h0M595.9 85.6h0M568.9 75.2h0M550.9 97.4h0M581.8 103.6h0M562.7 78.8h0M566.3 96.3h0M595.4 81.7h0M559.1 70.6h0M564.9 78.1h0M579.4 92.9h0M546.2 76.9h0M558.1 98.1h0M585.4 96.7h0M563.6 76.3h0M564.5 82.5h0M571.5 94.7h0M558.5 100.6h0M583.4 90.5h0M545.3 62.6h0M555.9 85.6h0M557.8 81.9h0M568.0 73.0h0M547.3 62.9h0M556.4 87.2h0M585.1 92.5h0M584.9 98.0h0M590.3 93.0h0M585.5 73.4h0M580.0 86.0h0M558.4 33.9h0M570.3 89.4h0M572.2 82.4h0M589.9 101.1h0M581.0 95.9h0M581.1 101.3h0M554.4 60.2h0M580.4 100.3h0M561.9 90.9h0M565.0 98.7h0M565.5 95.2h0M554.3 78.4h0M562.3 92.0h0M578.2 87.4h0M580.1 98.4h0M595.4 98.1h0M556.3 62.6h0" stroke="#f8eab4" stroke-width="0.8" stroke-linecap="round"/>
<path d="M604.1 60.4h0M558.5 62.2h0M562.3 100.6h0M567.9 74.3h0M576.8 83.9h0M584.9 102.5h0M570.9 81.2h0M572.6 96.6h0M564.4 95.5h0M560.7 98.3h0M568.4 102.0h0M558.5 78.3h0M545.1 64.1h0M562.7 56.0h0M567.6 41.1h0M554.0 75.2h0M570.1 82.7h0M570.3 68.5h0M564.5 86.4h0M552.3 68.5h0M571.5 98.5h0M559.8 66.2h0M569.8 97.0h0M574.5 93.4h0M572.7 89.9h0M571.6 78.4h0M582.2 86.4h0M580.7 88.9h0M545.3 61.9h0M546.7 54.9h0M573.2 103.4h0M547.2 67.7h0M558.5 69.3h0M578.3 95.7h0M570.9 89.3h0M556.3 96.5h0M559.6 68.9h0M581.1 86.9h0M556.7 71.8h0M553.5 89.8h0M578.3 87.0h0M566.0 93.9h0M548.2 65.0h0M597.9 79.4h0M585.1 78.5h0M576.7 90.2h0M591.3 84.7h0M556.9 94.0h0M557.5 81.1h0M551.2 52.9h0M593.4 84.6h0M562.5 75.5h0M570.8 88.7h0M595.1 95.6h0M555.5 72.0h0M589.8 105.0h0M550.1 99.5h0M554.7 96.1h0M571.8 60.8h0M548.8 66.7h0M585.0 98.2h0M555.0 44.6h0M554.8 97.1h0M547.3 78.3h0M595.9 81.8h0M551.8 88.7h0M555.4 63.1h0M595.2 63.3h0M560.2 91.8h0M586.6 102.4h0M572.6 79.1h0M546.2 97.1h0M574.7 89.9h0M604.6 106.3h0M564.1 94.4h0M551.1 77.5h0M568.2 96.3h0M547.1 63.2h0M568.6 73.7h0M565.2 86.2h0M592.6 91.1h0M588.9 100.3h0M558.1 73.1h0M562.7 87.2h0M553.9 94.7h0M596.1 86.8h0M568.2 68.6h0M555.1 79.5h0M548.5 72.3h0M549.2 69.5h0M568.3 82.8h0M547.2 75.1h0M559.2 79.4h0M555.4 65.3h0M577.9 96.7h0M590.2 92.6h0M547.8 81.5h0M573.9 93.1h0M571.0 86.6h0M583.7 99.2h0" stroke="#b09848" stroke-width="1.6" stroke-linecap="round"/>
<path d="M604.1 60.4h0M558.5 62.2h0M562.3 100.6h0M567.9 74.3h0M576.8 83.9h0M584.9 102.5h0M570.9 81.2h0M572.6 96.6h0M564.4 95.5h0M560.7 98.3h0M568.4 102.0h0M558.5 78.3h0M545.1 64.1h0M562.7 56.0h0M567.6 41.1h0M554.0 75.2h0M570.1 82.7h0M570.3 68.5h0M564.5 86.4h0M552.3 68.5h0M571.5 98.5h0M559.8 66.2h0M569.8 97.0h0M574.5 93.4h0M572.7 89.9h0M571.6 78.4h0M582.2 86.4h0M580.7 88.9h0M545.3 61.9h0M546.7 54.9h0M573.2 103.4h0M547.2 67.7h0M558.5 69.3h0M578.3 95.7h0M570.9 89.3h0M556.3 96.5h0M559.6 68.9h0M581.1 86.9h0M556.7 71.8h0M553.5 89.8h0M578.3 87.0h0M566.0 93.9h0M548.2 65.0h0M597.9 79.4h0M585.1 78.5h0M576.7 90.2h0M591.3 84.7h0M556.9 94.0h0M557.5 81.1h0M551.2 52.9h0M593.4 84.6h0M562.5 75.5h0M570.8 88.7h0M595.1 95.6h0M555.5 72.0h0M589.8 105.0h0M550.1 99.5h0M554.7 96.1h0M571.8 60.8h0M548.8 66.7h0M585.0 98.2h0M555.0 44.6h0M554.8 97.1h0M547.3 78.3h0M595.9 81.8h0M551.8 88.7h0M555.4 63.1h0M595.2 63.3h0M560.2 91.8h0M586.6 102.4h0M572.6 79.1h0M546.2 97.1h0M574.7 89.9h0M604.6 106.3h0M564.1 94.4h0M551.1 77.5h0M568.2 96.3h0M547.1 63.2h0M568.6 73.7h0M565.2 86.2h0M592.6 91.1h0M588.9 100.3h0M558.1 73.1h0M562.7 87.2h0M553.9 94.7h0M596.1 86.8h0M568.2 68.6h0M555.1 79.5h0M548.5 72.3h0M549.2 69.5h0M568.3 82.8h0M547.2 75.1h0M559.2 79.4h0M555.4 65.3h0M577.9 96.7h0M590.2 92.6h0M547.8 81.5h0M573.9 93.1h0M571.0 86.6h0M583.7 99.2h0" stroke="#f8eab4" stroke-width="0.8" stroke-linecap="round"/>
<path d="M589.6 99.5h0M573.4 85.1h0M563.3 88.0h0M550.3 65.1h0M560.0 85.3h0M556.4 81.5h0M544.7 77.2h0M572.8 85.2h0M555.2 92.4h0M574.1 87.4h0M579.1 100.2h0M553.4 76.4h0M551.6 71.2h0M585.2 104.4h0M556.7 99.3h0M558.3 74.3h0M582.7 88.7h0M545.5 63.5h0M570.7 80.5h0M550.6 90.2h0M597.9 81.5h0M561.9 49.6h0M554.2 97.7h0M552.7 86.9h0M547.6 62.6h0M571.1 86.9h0M613.5 77.0h0M623.8 62.6h0M593.1 97.7h0M551.2 75.6h0M576.2 98.9h0M552.5 88.3h0M551.3 78.6h0M583.8 92.2h0M588.7 89.1h0M553.1 83.6h0M548.6 76.3h0M568.6 84.3h0M562.3 79.1h0M586.7 93.2h0M550.1 78.0h0M551.2 86.8h0M553.9 82.5h0M579.7 62.6h0M546.3 83.3h0M593.5 96.3h0M578.1 97.8h0M569.5 80.8h0M560.6 91.7h0M562.2 83.0h0M586.1 98.2h0M595.0 103.1h0M562.3 74.7h0M588.9 86.8h0M552.3 99.8h0M575.6 92.9h0M584.8 42.2h0M550.9 89.7h0M572.6 88.0h0M559.0 91.8h0M579.6 80.4h0M555.6 73.4h0M548.0 82.9h0M560.5 62.9h0M616.9 104.4h0M548.6 99.5h0M552.1 44.7h0M569.7 98.4h0M547.1 90.2h0M619.7 56.7h0M589.0 98.0h0M585.6 95.2h0M554.0 88.7h0M550.7 80.8h0M581.9 36.0h0M557.6 100.4h0M551.0 95.3h0M568.4 83.0h0M553.0 93.8h0M586.7 100.1h0M590.9 96.9h0M549.9 93.5h0M588.5 95.8h0M592.7 85.3h0M600.7 85.8h0M568.7 90.3h0M566.5 100.8h0M556.2 90.1h0M551.9 75.9h0M549.9 87.4h0M597.9 74.9h0M573.0 87.9h0M572.1 99.3h0M589.9 93.8h0M546.2 80.2h0M562.9 70.1h0M570.4 53.1h0M564.4 95.3h0M552.2 94.0h0M587.3 101.1h0" stroke="#b09848" stroke-width="1.6" stroke-linecap="round"/>
<path d="M589.6 99.5h0M573.4 85.1h0M563.3 88.0h0M550.3 65.1h0M560.0 85.3h0M556.4 81.5h0M544.7 77.2h0M572.8 85.2h0M555.2 92.4h0M574.1 87.4h0M579.1 100.2h0M553.4 76.4h0M551.6 71.2h0M585.2 104.4h0M556.7 99.3h0M558.3 74.3h0M582.7 88.7h0M545.5 63.5h0M570.7 80.5h0M550.6 90.2h0M597.9 81.5h0M561.9 49.6h0M554.2 97.7h0M552.7 86.9h0M547.6 62.6h0M571.1 86.9h0M613.5 77.0h0M623.8 62.6h0M593.1 97.7h0M551.2 75.6h0M576.2 98.9h0M552.5 88.3h0M551.3 78.6h0M583.8 92.2h0M588.7 89.1h0M553.1 83.6h0M548.6 76.3h0M568.6 84.3h0M562.3 79.1h0M586.7 93.2h0M550.1 78.0h0M551.2 86.8h0M553.9 82.5h0M579.7 62.6h0M546.3 83.3h0M593.5 96.3h0M578.1 97.8h0M569.5 80.8h0M560.6 91.7h0M562.2 83.0h0M586.1 98.2h0M595.0 103.1h0M562.3 74.7h0M588.9 86.8h0M552.3 99.8h0M575.6 92.9h0M584.8 42.2h0M550.9 89.7h0M572.6 88.0h0M559.0 91.8h0M579.6 80.4h0M555.6 73.4h0M548.0 82.9h0M560.5 62.9h0M616.9 104.4h0M548.6 99.5h0M552.1 44.7h0M569.7 98.4h0M547.1 90.2h0M619.7 56.7h0M589.0 98.0h0M585.6 95.2h0M554.0 88.7h0M550.7 80.8h0M581.9 36.0h0M557.6 100.4h0M551.0 95.3h0M568.4 83.0h0M553.0 93.8h0M586.7 100.1h0M590.9 96.9h0M549.9 93.5h0M588.5 95.8h0M592.7 85.3h0M600.7 85.8h0M568.7 90.3h0M566.5 100.8h0M556.2 90.1h0M551.9 75.9h0M549.9 87.4h0M597.9 74.9h0M573.0 87.9h0M572.1 99.3h0M589.9 93.8h0M546.2 80.2h0M562.9 70.1h0M570.4 53.1h0M564.4 95.3h0M552.2 94.0h0M587.3 101.1h0" stroke="#f8eab4" stroke-width="0.8" stroke-linecap="round"/>
<path d="M569.3 79.0h0M595.9 95.4h0M558.4 72.2h0M545.8 65.6h0M563.5 70.5h0M544.7 79.4h0M571.5 102.8h0M548.1 74.3h0M568.1 93.3h0M574.9 82.0h0M566.7 88.5h0M550.3 96.5h0M585.4 94.0h0M604.2 41.9h0M588.2 101.8h0M587.1 95.3h0M558.1 75.9h0M566.3 80.2h0M594.9 100.5h0M548.6 100.1h0M548.8 80.3h0M599.6 86.3h0M585.9 101.2h0M589.7 99.4h0M546.5 86.0h0M560.7 94.1h0M558.2 99.6h0M550.4 98.3h0M560.2 81.1h0M550.1 74.2h0M606.5 79.7h0M587.6 103.2h0M555.8 88.1h0M554.5 85.0h0M564.9 86.1h0M546.4 70.0h0M566.6 102.6h0M561.3 74.0h0M572.8 99.5h0M563.5 97.8h0M555.0 90.9h0M582.4 102.3h0M566.2 55.1h0M544.9 63.6h0M578.1 93.2h0M574.4 79.3h0M545.7 82.7h0M577.9 85.7h0M545.3 85.2h0M556.5 88.8h0M549.0 69.3h0M573.8 90.2h0M555.7 96.8h0M550.4 61.5h0M564.2 78.6h0M583.1 98.9h0M548.2 100.0h0M555.2 74.6h0M562.5 91.8h0M562.7 69.6h0M581.0 96.4h0M568.4 98.6h0M582.7 79.1h0M578.7 101.9h0M594.6 90.5h0M553.6 61.0h0M584.5 97.4h0M557.6 95.0h0M580.9 91.0h0M557.9 98.9h0M567.1 52.6h0M575.0 84.7h0M553.5 94.9h0M555.9 73.8h0M569.1 101.5h0M545.7 96.3h0M568.8 84.2h0M550.6 95.4h0M583.0 86.0h0M546.9 83.2h0M578.9 100.2h0M550.5 63.6h0M561.9 75.5h0M557.5 82.0h0M573.3 96.6h0M559.3 66.1h0M571.8 91.4h0M546.0 70.9h0M553.2 88.0h0M553.6 65.9h0M582.0 77.4h0M580.7 83.3h0M559.7 85.0h0M562.3 100.4h0M594.0 94.4h0M580.4 50.8h0M592.2 81.5h0M591.7 90.9h0M596.1 43.8h0M581.4 95.4h0" stroke="#b09848" stroke-width="1.6" stroke-linecap="round"/>
<path d="M569.3 79.0h0M595.9 95.4h0M558.4 72.2h0M545.8 65.6h0M563.5 70.5h0M544.7 79.4h0M571.5 102.8h0M548.1 74.3h0M568.1 93.3h0M574.9 82.0h0M566.7 88.5h0M550.3 96.5h0M585.4 94.0h0M604.2 41.9h0M588.2 101.8h0M587.1 95.3h0M558.1 75.9h0M566.3 80.2h0M594.9 100.5h0M548.6 100.1h0M548.8 80.3h0M599.6 86.3h0M585.9 101.2h0M589.7 99.4h0M546.5 86.0h0M560.7 94.1h0M558.2 99.6h0M550.4 98.3h0M560.2 81.1h0M550.1 74.2h0M606.5 79.7h0M587.6 103.2h0M555.8 88.1h0M554.5 85.0h0M564.9 86.1h0M546.4 70.0h0M566.6 102.6h0M561.3 74.0h0M572.8 99.5h0M563.5 97.8h0M555.0 90.9h0M582.4 102.3h0M566.2 55.1h0M544.9 63.6h0M578.1 93.2h0M574.4 79.3h0M545.7 82.7h0M577.9 85.7h0M545.3 85.2h0M556.5 88.8h0M549.0 69.3h0M573.8 90.2h0M555.7 96.8h0M550.4 61.5h0M564.2 78.6h0M583.1 98.9h0M548.2 100.0h0M555.2 74.6h0M562.5 91.8h0M562.7 69.6h0M581.0 96.4h0M568.4 98.6h0M582.7 79.1h0M578.7 101.9h0M594.6 90.5h0M553.6 61.0h0M584.5 97.4h0M557.6 95.0h0M580.9 91.0h0M557.9 98.9h0M567.1 52.6h0M575.0 84.7h0M553.5 94.9h0M555.9 73.8h0M569.1 101.5h0M545.7 96.3h0M568.8 84.2h0M550.6 95.4h0M583.0 86.0h0M546.9 83.2h0M578.9 100.2h0M550.5 63.6h0M561.9 75.5h0M557.5 82.0h0M573.3 96.6h0M559.3 66.1h0M571.8 91.4h0M546.0 70.9h0M553.2 88.0h0M553.6 65.9h0M582.0 77.4h0M580.7 83.3h0M559.7 85.0h0M562.3 100.4h0M594.0 94.4h0M580.4 50.8h0M592.2 81.5h0M591.7 90.9h0M596.1 43.8h0M581.4 95.4h0" stroke="#f8eab4" stroke-width="0.8" stroke-linecap="round"/>
<path d="M593.9 100.4h0M571.9 95.3h0M572.7 93.8h0M555.4 67.3h0M583.3 101.9h0M579.6 90.9h0M546.0 74.8h0M554.4 61.8h0M545.1 91.0h0M583.9 96.5h0M566.3 88.3h0M569.2 57.3h0M591.0 101.2h0M561.3 90.0h0M560.0 78.5h0M583.2 81.0h0M562.7 84.1h0M549.3 61.2h0M575.6 93.2h0M582.3 103.2h0M575.1 84.2h0M548.2 86.4h0M566.7 80.3h0M552.5 80.1h0M566.5 77.6h0M583.0 97.0h0M561.8 93.7h0M555.7 83.6h0M595.3 98.9h0M590.5 97.7h0M553.8 60.2h0M551.4 87.5h0M588.9 99.0h0M573.6 90.4h0M571.3 98.0h0M588.2 104.6h0M568.9 75.5h0M553.3 61.0h0M552.5 89.3h0M556.1 62.9h0M548.6 98.3h0M582.1 80.0h0M555.8 68.1h0M546.7 67.7h0M583.6 104.5h0M562.9 92.8h0M588.5 94.9h0M583.6 90.4h0M573.5 91.9h0M560.5 77.7h0M597.4 99.3h0M566.6 96.4h0M564.4 74.8h0M556.1 98.1h0M552.9 86.7h0M589.9 101.2h0M574.7 90.3h0M579.5 90.5h0M565.0 99.1h0M550.0 100.6h0M549.5 94.7h0M569.9 89.2h0M570.2 84.1h0M556.1 84.8h0M597.1 99.2h0M555.0 95.1h0M560.9 91.6h0M562.9 96.4h0M574.3 91.6h0M557.7 72.4h0M594.8 95.6h0M547.6 64.8h0M572.8 98.8h0M561.0 90.1h0M572.0 80.4h0M545.3 71.9h0M568.4 82.3h0M553.1 81.2h0M555.9 80.1h0M562.4 88.6h0M552.6 67.3h0M567.9 90.4h0M568.4 52.0h0M582.4 90.5h0M564.2 77.2h0M554.6 76.1h0M569.1 99.2h0M552.3 65.0h0M553.5 82.8h0M553.0 90.1h0M565.8 86.9h0M580.4 94.7h0M566.7 93.4h0M569.9 87.1h0M559.1 88.6h0M591.1 97.6h0M562.1 77.3h0M546.6 82.3h0M579.0 74.9h0M588.5 92.7h0" stroke="#b09848" stroke-width="1.6" stroke-linecap="round"/>
<path d="M593.9 100.4h0M571.9 95.3h0M572.7 93.8h0M555.4 67.3h0M583.3 101.9h0M579.6 90.9h0M546.0 74.8h0M554.4 61.8h0M545.1 91.0h0M583.9 96.5h0M566.3 88.3h0M569.2 57.3h0M591.0 101.2h0M561.3 90.0h0M560.0 78.5h0M583.2 81.0h0M562.7 84.1h0M549.3 61.2h0M575.6 93.2h0M582.3 103.2h0M575.1 84.2h0M548.2 86.4h0M566.7 80.3h0M552.5 80.1h0M566.5 77.6h0M583.0 97.0h0M561.8 93.7h0M555.7 83.6h0M595.3 98.9h0M590.5 97.7h0M553.8 60.2h0M551.4 87.5h0M588.9 99.0h0M573.6 90.4h0M571.3 98.0h0M588.2 104.6h0M568.9 75.5h0M553.3 61.0h0M552.5 89.3h0M556.1 62.9h0M548.6 98.3h0M582.1 80.0h0M555.8 68.1h0M546.7 67.7h0M583.6 104.5h0M562.9 92.8h0M588.5 94.9h0M583.6 90.4h0M573.5 91.9h0M560.5 77.7h0M597.4 99.3h0M566.6 96.4h0M564.4 74.8h0M556.1 98.1h0M552.9 86.7h0M589.9 101.2h0M574.7 90.3h0M579.5 90.5h0M565.0 99.1h0M550.0 100.6h0M549.5 94.7h0M569.9 89.2h0M570.2 84.1h0M556.1 84.8h0M597.1 99.2h0M555.0 95.1h0M560.9 91.6h0M562.9 96.4h0M574.3 91.6h0M557.7 72.4h0M594.8 95.6h0M547.6 64.8h0M572.8 98.8h0M561.0 90.1h0M572.0 80.4h0M545.3 71.9h0M568.4 82.3h0M553.1 81.2h0M555.9 80.1h0M562.4 88.6h0M552.6 67.3h0M567.9 90.4h0M568.4 52.0h0M582.4 90.5h0M564.2 77.2h0M554.6 76.1h0M569.1 99.2h0M552.3 65.0h0M553.5 82.8h0M553.0 90.1h0M565.8 86.9h0M580.4 94.7h0M566.7 93.4h0M569.9 87.1h0M559.1 88.6h0M591.1 97.6h0M562.1 77.3h0M546.6 82.3h0M579.0 74.9h0M588.5 92.7h0" stroke="#f8eab4" stroke-width="0.8" stroke-linecap="round"/>
<path d="M572.4 81.8h0M551.7 98.7h0M546.0 95.7h0M582.6 86.1h0M568.9 88.0h0M601.6 52.0h0M576.1 97.9h0M552.8 97.9h0M551.0 65.3h0M559.7 77.1h0M573.3 91.5h0M564.6 71.3h0M556.9 89.9h0M556.8 100.9h0M546.0 89.9h0M622.6 80.3h0M554.0 98.9h0M556.0 84.9h0M598.0 99.5h0M547.5 99.9h0M572.3 91.7h0M548.9 90.5h0M550.1 62.0h0M588.3 91.5h0M577.5 88.7h0M579.0 78.7h0M571.0 98.3h0M577.8 90.4h0M548.2 70.0h0M558.0 100.1h0M589.5 103.9h0M556.6 59.7h0M569.7 81.6h0M545.1 48.8h0M588.0 104.5h0M557.6 83.9h0M596.6 99.9h0M586.3 102.0h0M579.5 89.1h0M603.3 102.6h0M573.9 77.3h0M562.7 75.5h0M599.4 84.4h0M585.8 92.7h0M559.7 89.7h0M569.3 91.3h0M595.3 99.2h0M554.3 85.6h0M559.5 94.5h0M553.6 99.6h0M556.7 79.1h0M576.9 86.2h0M616.3 65.0h0M571.6 62.1h0M548.7 64.6h0M559.8 70.0h0M572.8 65.6h0M555.0 55.1h0M581.7 96.6h0M566.8 84.4h0M588.5 102.4h0M581.9 104.4h0M595.2 93.1h0M567.8 73.7h0M565.7 73.7h0M557.5 84.7h0M608.1 40.1h0M585.8 101.2h0M613.8 75.4h0M556.3 76.8h0M602.1 92.1h0M575.6 93.9h0M566.7 82.1h0M578.6 103.5h0M562.7 97.8h0M557.1 85.0h0M579.3 87.6h0M585.6 40.1h0M565.6 98.2h0M544.5 47.7h0M560.4 86.4h0M585.6 86.0h0M574.3 82.1h0M565.1 69.2h0M549.8 59.7h0M553.4 78.0h0M557.7 60.4h0M554.5 69.4h0M556.1 94.6h0M577.8 90.9h0M556.7 88.7h0M551.5 64.7h0M577.4 67.9h0M559.5 75.3h0M554.6 47.9h0M585.6 94.2h0M603.9 97.2h0M566.6 88.2h0M555.6 98.3h0M560.9 72.5h0" stroke="#b09848" stroke-width="1.6" stroke-linecap="round"/>
<path d="M572.4 81.8h0M551.7 98.7h0M546.0 95.7h0M582.6 86.1h0M568.9 88.0h0M601.6 52.0h0M576.1 97.9h0M552.8 97.9h0M551.0 65.3h0M559.7 77.1h0M573.3 91.5h0M564.6 71.3h0M556.9 89.9h0M556.8 100.9h0M546.0 89.9h0M622.6 80.3h0M554.0 98.9h0M556.0 84.9h0M598.0 99.5h0M547.5 99.9h0M572.3 91.7h0M548.9 90.5h0M550.1 62.0h0M588.3 91.5h0M577.5 88.7h0M579.0 78.7h0M571.0 98.3h0M577.8 90.4h0M548.2 70.0h0M558.0 100.1h0M589.5 103.9h0M556.6 59.7h0M569.7 81.6h0M545.1 48.8h0M588.0 104.5h0M557.6 83.9h0M596.6 99.9h0M586.3 102.0h0M579.5 89.1h0M603.3 102.6h0M573.9 77.3h0M562.7 75.5h0M599.4 84.4h0M585.8 92.7h0M559.7 89.7h0M569.3 91.3h0M595.3 99.2h0M554.3 85.6h0M559.5 94.5h0M553.6 99.6h0M556.7 79.1h0M576.9 86.2h0M616.3 65.0h0M571.6 62.1h0M548.7 64.6h0M559.8 70.0h0M572.8 65.6h0M555.0 55.1h0M581.7 96.6h0M566.8 84.4h0M588.5 102.4h0M581.9 104.4h0M595.2 93.1h0M567.8 73.7h0M565.7 73.7h0M557.5 84.7h0M608.1 40.1h0M585.8 101.2h0M613.8 75.4h0M556.3 76.8h0M602.1 92.1h0M575.6 93.9h0M566.7 82.1h0M578.6 103.5h0M562.7 97.8h0M557.1 85.0h0M579.3 87.6h0M585.6 40.1h0M565.6 98.2h0M544.5 47.7h0M560.4 86.4h0M585.6 86.0h0M574.3 82.1h0M565.1 69.2h0M549.8 59.7h0M553.4 78.0h0M557.7 60.4h0M554.5 69.4h0M556.1 94.6h0M577.8 90.9h0M556.7 88.7h0M551.5 64.7h0M577.4 67.9h0M559.5 75.3h0M554.6 47.9h0M585.6 94.2h0M603.9 97.2h0M566.6 88.2h0M555.6 98.3h0M560.9 72.5h0" stroke="#f8eab4" stroke-width="0.8" stroke-linecap="round"/>
<path d="M567.7 88.1h0M553.5 69.0h0M569.1 87.3h0M581.7 95.6h0M591.9 98.1h0M553.2 72.4h0M549.6 66.4h0M576.5 91.8h0M562.1 89.4h0M553.5 100.0h0M577.4 100.5h0M590.0 103.3h0M574.3 82.4h0M562.3 97.5h0M598.9 100.3h0M557.1 101.3h0M556.9 88.8h0M601.7 85.7h0M553.8 52.8h0M558.1 84.7h0M546.9 76.5h0M574.4 60.5h0M556.8 88.9h0M559.8 91.1h0M569.4 89.5h0M587.8 103.1h0M544.7 74.9h0M550.3 59.8h0M546.9 89.5h0M565.5 101.5h0M552.8 62.7h0M590.7 96.1h0M550.5 72.1h0M566.2 101.4h0M550.4 73.1h0M566.6 96.8h0M557.4 51.8h0M582.6 88.0h0M559.3 74.8h0M551.8 63.5h0M568.8 81.8h0M611.6 94.9h0M555.8 66.1h0M576.6 62.4h0M581.3 102.2h0M576.4 101.4h0M558.0 77.7h0M603.7 87.9h0M562.8 96.4h0M559.8 101.1h0M569.5 87.3h0M553.2 85.9h0M573.9 85.7h0M576.4 100.5h0M583.6 81.6h0M564.0 90.1h0M594.8 101.0h0M571.4 102.0h0M553.5 84.5h0M603.6 100.6h0M559.9 83.8h0M571.4 81.6h0M566.4 84.5h0M595.1 87.2h0M577.3 96.5h0M557.8 93.1h0M551.8 87.3h0M566.2 100.3h0M586.6 101.1h0M547.8 90.5h0M551.8 62.0h0M555.9 57.2h0M560.2 77.9h0M555.4 44.0h0M552.8 76.7h0M570.5 62.8h0M602.8 80.9h0M569.7 79.0h0M584.9 87.7h0M548.1 62.6h0M560.7 96.7h0M544.6 74.8h0M550.1 70.2h0M551.2 87.9h0M564.2 81.9h0M569.1 82.3h0M559.5 58.0h0M590.6 93.4h0M595.5 88.2h0M585.2 89.5h0M590.9 92.9h0M557.3 98.1h0M583.7 29.8h0M562.1 75.9h0M570.2 84.9h0M549.1 56.3h0M548.1 85.2h0M587.8 104.5h0M546.0 80.4h0M572.3 96.6h0" stroke="#b09848" stroke-width="1.6" stroke-linecap="round"/>
<path d="M567.7 88.1h0M553.5 69.0h0M569.1 87.3h0M581.7 95.6h0M591.9 98.1h0M553.2 72.4h0M549.6 66.4h0M576.5 91.8h0M562.1 89.4h0M553.5 100.0h0M577.4 100.5h0M590.0 103.3h0M574.3 82.4h0M562.3 97.5h0M598.9 100.3h0M557.1 101.3h0M556.9 88.8h0M601.7 85.7h0M553.8 52.8h0M558.1 84.7h0M546.9 76.5h0M574.4 60.5h0M556.8 88.9h0M559.8 91.1h0M569.4 89.5h0M587.8 103.1h0M544.7 74.9h0M550.3 59.8h0M546.9 89.5h0M565.5 101.5h0M552.8 62.7h0M590.7 96.1h0M550.5 72.1h0M566.2 101.4h0M550.4 73.1h0M566.6 96.8h0M557.4 51.8h0M582.6 88.0h0M559.3 74.8h0M551.8 63.5h0M568.8 81.8h0M611.6 94.9h0M555.8 66.1h0M576.6 62.4h0M581.3 102.2h0M576.4 101.4h0M558.0 77.7h0M603.7 87.9h0M562.8 96.4h0M559.8 101.1h0M569.5 87.3h0M553.2 85.9h0M573.9 85.7h0M576.4 100.5h0M583.6 81.6h0M564.0 90.1h0M594.8 101.0h0M571.4 102.0h0M553.5 84.5h0M603.6 100.6h0M559.9 83.8h0M571.4 81.6h0M566.4 84.5h0M595.1 87.2h0M577.3 96.5h0M557.8 93.1h0M551.8 87.3h0M566.2 100.3h0M586.6 101.1h0M547.8 90.5h0M551.8 62.0h0M555.9 57.2h0M560.2 77.9h0M555.4 44.0h0M552.8 76.7h0M570.5 62.8h0M602.8 80.9h0M569.7 79.0h0M584.9 87.7h0M548.1 62.6h0M560.7 96.7h0M544.6 74.8h0M550.1 70.2h0M551.2 87.9h0M564.2 81.9h0M569.1 82.3h0M559.5 58.0h0M590.6 93.4h0M595.5 88.2h0M585.2 89.5h0M590.9 92.9h0M557.3 98.1h0M583.7 29.8h0M562.1 75.9h0M570.2 84.9h0M549.1 56.3h0M548.1 85.2h0M587.8 104.5h0M546.0 80.4h0M572.3 96.6h0" stroke="#f8eab4" stroke-width="0.8" stroke-linecap="round"/>
<path d="M547.0 60.5h0M586.1 88.3h0M583.4 56.5h0M557.0 65.6h0M552.7 78.9h0M558.1 94.5h0M551.3 63.1h0M568.3 100.3h0M558.2 42.7h0M585.3 101.5h0M558.7 73.1h0M560.1 68.5h0M579.1 99.3h0M552.1 88.2h0M548.6 69.5h0M575.5 61.6h0M592.4 96.5h0M616.2 67.4h0M551.2 74.9h0M553.0 95.1h0M577.4 97.7h0M563.4 78.4h0M563.2 94.8h0M568.7 90.4h0M592.7 93.9h0M560.8 78.8h0M552.0 92.0h0M574.8 101.8h0M599.6 102.0h0M568.7 97.7h0M571.5 102.5h0M564.2 99.4h0M559.8 75.5h0M560.5 82.0h0M556.4 86.1h0M564.2 73.3h0M548.8 60.8h0M579.5 98.6h0M571.6 87.4h0M583.2 87.9h0M549.9 78.8h0M551.7 88.4h0M556.1 97.2h0M568.9 80.0h0M589.8 103.1h0M549.1 94.6h0M554.2 59.1h0M588.7 78.0h0M554.8 66.6h0M560.2 82.4h0M547.7 61.1h0M573.5 85.1h0M594.3 98.5h0M559.6 92.1h0M584.9 94.8h0M590.2 92.4h0M567.3 74.2h0M567.5 65.9h0M558.2 53.6h0M558.9 79.9h0M598.1 103.4h0M582.1 79.2h0M564.3 85.7h0M606.0 90.5h0M557.9 72.9h0M580.2 100.3h0M598.9 94.9h0M585.4 87.2h0M571.9 89.5h0M559.7 84.1h0M563.6 84.9h0M585.8 101.1h0M597.6 82.0h0M564.6 82.7h0M552.0 97.1h0M547.8 73.7h0M558.4 87.9h0M550.6 60.1h0M590.1 105.3h0M563.2 101.0h0M562.3 73.0h0M556.9 46.3h0M585.4 99.7h0M555.4 81.0h0M580.9 97.2h0M579.3 90.7h0M574.8 82.6h0M545.1 89.2h0M578.9 83.7h0M554.2 98.8h0M581.7 97.1h0M581.2 97.0h0M569.5 80.3h0M554.9 99.4h0M575.0 83.0h0M545.4 72.4h0M568.2 95.0h0M575.7 92.0h0M551.6 74.5h0M558.8 72.7h0" stroke="#b09848" stroke-width="1.6" stroke-linecap="round"/>
<path d="M547.0 60.5h0M586.1 88.3h0M583.4 56.5h0M557.0 65.6h0M552.7 78.9h0M558.1 94.5h0M551.3 63.1h0M568.3 100.3h0M558.2 42.7h0M585.3 101.5h0M558.7 73.1h0M560.1 68.5h0M579.1 99.3h0M552.1 88.2h0M548.6 69.5h0M575.5 61.6h0M592.4 96.5h0M616.2 67.4h0M551.2 74.9h0M553.0 95.1h0M577.4 97.7h0M563.4 78.4h0M563.2 94.8h0M568.7 90.4h0M592.7 93.9h0M560.8 78.8h0M552.0 92.0h0M574.8 101.8h0M599.6 102.0h0M568.7 97.7h0M571.5 102.5h0M564.2 99.4h0M559.8 75.5h0M560.5 82.0h0M556.4 86.1h0M564.2 73.3h0M548.8 60.8h0M579.5 98.6h0M571.6 87.4h0M583.2 87.9h0M549.9 78.8h0M551.7 88.4h0M556.1 97.2h0M568.9 80.0h0M589.8 103.1h0M549.1 94.6h0M554.2 59.1h0M588.7 78.0h0M554.8 66.6h0M560.2 82.4h0M547.7 61.1h0M573.5 85.1h0M594.3 98.5h0M559.6 92.1h0M584.9 94.8h0M590.2 92.4h0M567.3 74.2h0M567.5 65.9h0M558.2 53.6h0M558.9 79.9h0M598.1 103.4h0M582.1 79.2h0M564.3 85.7h0M606.0 90.5h0M557.9 72.9h0M580.2 100.3h0M598.9 94.9h0M585.4 87.2h0M571.9 89.5h0M559.7 84.1h0M563.6 84.9h0M585.8 101.1h0M597.6 82.0h0M564.6 82.7h0M552.0 97.1h0M547.8 73.7h0M558.4 87.9h0M550.6 60.1h0M590.1 105.3h0M563.2 101.0h0M562.3 73.0h0M556.9 46.3h0M585.4 99.7h0M555.4 81.0h0M580.9 97.2h0M579.3 90.7h0M574.8 82.6h0M545.1 89.2h0M578.9 83.7h0M554.2 98.8h0M581.7 97.1h0M581.2 97.0h0M569.5 80.3h0M554.9 99.4h0M575.0 83.0h0M545.4 72.4h0M568.2 95.0h0M575.7 92.0h0M551.6 74.5h0M558.8 72.7h0" stroke="#f8eab4" stroke-width="0.8" stroke-linecap="round"/>
<path d="M573.6 82.5h0M561.7 93.8h0M559.0 100.2h0M556.4 92.7h0M550.2 88.8h0M585.4 104.5h0M555.6 79.5h0M553.1 55.5h0M568.6 95.5h0M573.4 83.5h0M587.2 103.5h0M581.5 84.8h0M553.2 99.4h0M598.2 97.2h0M566.9 102.2h0M551.4 82.3h0M556.9 96.4h0M553.7 95.6h0M554.6 99.7h0M552.9 62.2h0M575.5 93.5h0M559.5 93.7h0M572.7 102.3h0M570.7 89.4h0M583.3 97.7h0M586.3 84.4h0M585.0 90.0h0M582.6 102.4h0M551.7 84.1h0M546.1 76.5h0M582.0 80.4h0M551.6 87.3h0M560.5 81.8h0M576.8 83.8h0M573.6 96.2h0M566.5 103.4h0M584.6 92.6h0M561.2 78.5h0M588.7 90.0h0M584.5 104.7h0M558.0 84.3h0M558.5 99.8h0M548.7 78.8h0M582.5 103.5h0M568.5 62.8h0M577.2 95.3h0M558.1 98.6h0M574.5 90.5h0M545.6 89.3h0M552.9 67.3h0M560.2 77.8h0M569.4 96.0h0M566.3 70.1h0M545.3 72.9h0M597.7 103.9h0M555.2 89.4h0M560.7 89.0h0M587.8 95.6h0M552.0 81.0h0M568.8 96.4h0M547.3 61.8h0M583.5 96.7h0M574.7 100.1h0M574.2 89.1h0M558.9 71.3h0M564.5 76.6h0M572.4 86.7h0M555.4 70.5h0M572.9 91.1h0M558.8 67.7h0M564.3 88.9h0M566.2 96.1h0M585.6 86.7h0M577.5 94.9h0M580.0 102.2h0M557.7 70.1h0M572.4 99.1h0M548.0 68.6h0M568.9 75.9h0M544.5 81.9h0M590.3 97.9h0M582.7 90.5h0M565.0 94.8h0M585.0 103.2h0M544.7 97.7h0M582.0 102.3h0M604.9 102.5h0M593.7 95.9h0M572.4 82.4h0M556.4 83.9h0M549.4 99.3h0M558.4 95.4h0M576.5 79.3h0M561.3 75.4h0M547.8 77.2h0M573.9 101.1h0M549.2 90.7h0M561.7 51.1h0M566.8 63.9h0M565.3 67.4h0" stroke="#b09848" stroke-width="1.6" stroke-linecap="round"/>
<path d="M573.6 82.5h0M561.7 93.8h0M559.0 100.2h0M556.4 92.7h0M550.2 88.8h0M585.4 104.5h0M555.6 79.5h0M553.1 55.5h0M568.6 95.5h0M573.4 83.5h0M587.2 103.5h0M581.5 84.8h0M553.2 99.4h0M598.2 97.2h0M566.9 102.2h0M551.4 82.3h0M556.9 96.4h0M553.7 95.6h0M554.6 99.7h0M552.9 62.2h0M575.5 93.5h0M559.5 93.7h0M572.7 102.3h0M570.7 89.4h0M583.3 97.7h0M586.3 84.4h0M585.0 90.0h0M582.6 102.4h0M551.7 84.1h0M546.1 76.5h0M582.0 80.4h0M551.6 87.3h0M560.5 81.8h0M576.8 83.8h0M573.6 96.2h0M566.5 103.4h0M584.6 92.6h0M561.2 78.5h0M588.7 90.0h0M584.5 104.7h0M558.0 84.3h0M558.5 99.8h0M548.7 78.8h0M582.5 103.5h0M568.5 62.8h0M577.2 95.3h0M558.1 98.6h0M574.5 90.5h0M545.6 89.3h0M552.9 67.3h0M560.2 77.8h0M569.4 96.0h0M566.3 70.1h0M545.3 72.9h0M597.7 103.9h0M555.2 89.4h0M560.7 89.0h0M587.8 95.6h0M552.0 81.0h0M568.8 96.4h0M547.3 61.8h0M583.5 96.7h0M574.7 100.1h0M574.2 89.1h0M558.9 71.3h0M564.5 76.6h0M572.4 86.7h0M555.4 70.5h0M572.9 91.1h0M558.8 67.7h0M564.3 88.9h0M566.2 96.1h0M585.6 86.7h0M577.5 94.9h0M580.0 102.2h0M557.7 70.1h0M572.4 99.1h0M548.0 68.6h0M568.9 75.9h0M544.5 81.9h0M590.3 97.9h0M582.7 90.5h0M565.0 94.8h0M585.0 103.2h0M544.7 97.7h0M582.0 102.3h0M604.9 102.5h0M593.7 95.9h0M572.4 82.4h0M556.4 83.9h0M549.4 99.3h0M558.4 95.4h0M576.5 79.3h0M561.3 75.4h0M547.8 77.2h0M573.9 101.1h0M549.2 90.7h0M561.7 51.1h0M566.8 63.9h0M565.3 67.4h0" stroke="#f8eab4" stroke-width="0.8" stroke-linecap="round"/>
<path d="M547.3 79.7h0M553.2 94.2h0M597.1 79.9h0M592.7 79.2h0M582.3 92.7h0M584.9 104.3h0M582.0 92.8h0M560.5 51.1h0M613.0 86.2h0M595.8 77.7h0M554.0 95.8h0M547.5 89.7h0M568.6 97.9h0M551.4 93.6h0M547.9 87.5h0M579.1 99.7h0M559.4 88.0h0M591.4 66.8h0M602.9 54.4h0M549.1 75.6h0M547.4 66.4h0M544.9 90.5h0M559.4 89.9h0M546.7 76.8h0M581.2 100.4h0M577.5 75.2h0M569.4 94.3h0M579.9 92.4h0M596.9 104.5h0M546.0 66.6h0M548.7 75.4h0M556.3 77.4h0M569.9 100.0h0M597.8 82.2h0M587.4 91.4h0M581.1 73.8h0M549.1 96.5h0M546.1 83.2h0M555.9 57.5h0M596.2 95.7h0M604.5 91.8h0M561.4 96.4h0M576.6 98.3h0M548.8 82.4h0M579.2 97.2h0M589.8 98.2h0M595.2 103.2h0M567.9 94.6h0M583.8 88.0h0M587.9 93.6h0M560.9 81.9h0M557.7 77.4h0M565.3 69.5h0M577.0 85.3h0M553.3 71.2h0M577.1 67.4h0M576.6 99.5h0M550.2 73.9h0M562.5 85.9h0M575.1 103.1h0M563.2 63.6h0M568.5 88.6h0M551.8 71.1h0M563.4 77.2h0M560.2 92.6h0M573.6 88.2h0M546.2 88.2h0M571.2 49.3h0M557.7 67.4h0M552.0 74.6h0M553.1 98.0h0M565.1 53.4h0M588.2 53.8h0M569.3 100.6h0M556.3 68.7h0M555.8 94.8h0M575.6 100.4h0M550.1 86.2h0M548.9 64.3h0M551.2 70.9h0M573.1 68.7h0M573.8 82.9h0M559.0 75.9h0M555.3 79.3h0M554.6 91.9h0M562.6 74.4h0M571.9 41.2h0M560.6 83.0h0M577.3 92.4h0M573.6 87.0h0M567.7 92.9h0M563.4 61.2h0M556.3 79.4h0M553.2 74.0h0M545.7 68.6h0M569.1 89.5h0M565.7 68.9h0M571.3 90.3h0M574.5 87.1h0M563.7 100.8h0" stroke="#b09848" stroke-width="1.6" stroke-linecap="round"/>
<path d="M547.3 79.7h0M553.2 94.2h0M597.1 79.9h0M592.7 79.2h0M582.3 92.7h0M584.9 104.3h0M582.0 92.8h0M560.5 51.1h0M613.0 86.2h0M595.8 77.7h0M554.0 95.8h0M547.5 89.7h0M568.6 97.9h0M551.4 93.6h0M547.9 87.5h0M579.1 99.7h0M559.4 88.0h0M591.4 66.8h0M602.9 54.4h0M549.1 75.6h0M547.4 66.4h0M544.9 90.5h0M559.4 89.9h0M546.7 76.8h0M581.2 100.4h0M577.5 75.2h0M569.4 94.3h0M579.9 92.4h0M596.9 104.5h0M546.0 66.6h0M548.7 75.4h0M556.3 77.4h0M569.9 100.0h0M597.8 82.2h0M587.4 91.4h0M581.1 73.8h0M549.1 96.5h0M546.1 83.2h0M555.9 57.5h0M596.2 95.7h0M604.5 91.8h0M561.4 96.4h0M576.6 98.3h0M548.8 82.4h0M579.2 97.2h0M589.8 98.2h0M595.2 103.2h0M567.9 94.6h0M583.8 88.0h0M587.9 93.6h0M560.9 81.9h0M557.7 77.4h0M565.3 69.5h0M577.0 85.3h0M553.3 71.2h0M577.1 67.4h0M576.6 99.5h0M550.2 73.9h0M562.5 85.9h0M575.1 103.1h0M563.2 63.6h0M568.5 88.6h0M551.8 71.1h0M563.4 77.2h0M560.2 92.6h0M573.6 88.2h0M546.2 88.2h0M571.2 49.3h0M557.7 67.4h0M552.0 74.6h0M553.1 98.0h0M565.1 53.4h0M588.2 53.8h0M569.3 100.6h0M556.3 68.7h0M555.8 94.8h0M575.6 100.4h0M550.1 86.2h0M548.9 64.3h0M551.2 70.9h0M573.1 68.7h0M573.8 82.9h0M559.0 75.9h0M555.3 79.3h0M554.6 91.9h0M562.6 74.4h0M571.9 41.2h0M560.6 83.0h0M577.3 92.4h0M573.6 87.0h0M567.7 92.9h0M563.4 61.2h0M556.3 79.4h0M553.2 74.0h0M545.7 68.6h0M569.1 89.5h0M565.7 68.9h0M571.3 90.3h0M574.5 87.1h0M563.7 100.8h0" stroke="#f8eab4" stroke-width="0.8" stroke-linecap="round"/>
<path d="M559.6 94.6h0M601.7 100.2h0M558.3 72.3h0M595.1 98.6h0M560.6 72.4h0M552.5 62.0h0M621.8 99.1h0M549.0 84.1h0M553.9 79.3h0M565.0 94.4h0M560.5 98.2h0M553.5 93.2h0M574.1 66.2h0M573.7 87.6h0M566.6 85.6h0M586.5 29.1h0M590.6 93.9h0M561.5 84.2h0M568.9 84.9h0M547.2 93.9h0M609.4 37.5h0M586.2 97.8h0M548.5 69.7h0M558.1 74.5h0M580.9 103.7h0M563.5 98.7h0M563.4 76.6h0M558.5 84.8h0M551.8 95.6h0M589.7 95.9h0M560.2 93.3h0M583.9 91.4h0M552.8 80.4h0M551.9 65.7h0M551.4 78.7h0M552.2 85.6h0M554.2 93.1h0M568.6 79.1h0M571.0 88.6h0M565.5 62.4h0M598.8 103.6h0M558.1 80.9h0M592.0 84.6h0M556.7 76.7h0M550.0 92.3h0M558.9 90.4h0M565.5 84.7h0M545.3 75.8h0M559.0 74.7h0M583.1 85.9h0M554.8 81.2h0M588.6 103.6h0M555.8 86.3h0M561.5 69.8h0M584.5 83.8h0M557.8 68.3h0M584.5 99.9h0M555.9 84.8h0M574.9 85.9h0M569.5 94.1h0M565.9 89.5h0M553.3 90.0h0M550.0 74.9h0M573.6 74.5h0M550.0 59.9h0M595.9 95.2h0M559.0 97.0h0M559.4 68.6h0M590.9 99.4h0M573.5 91.5h0M579.7 90.7h0M561.3 96.9h0M583.0 103.9h0M559.4 70.5h0M547.6 75.4h0M563.4 93.6h0M579.2 79.9h0M555.1 79.9h0M551.4 98.9h0M563.8 79.1h0M565.9 81.8h0M563.5 87.7h0M585.5 100.6h0M559.2 102.0h0M573.7 92.6h0M575.4 83.0h0M565.0 93.0h0M544.9 75.3h0M553.6 77.5h0M553.9 89.5h0M582.9 97.0h0M595.1 94.4h0M574.4 100.9h0M615.0 75.9h0M554.8 52.1h0M548.6 91.7h0M564.5 95.5h0M557.2 96.3h0M616.9 96.5h0M546.1 88.2h0" stroke="#b09848" stroke-width="1.6" stroke-linecap="round"/>
<path d="M559.6 94.6h0M601.7 100.2h0M558.3 72.3h0M595.1 98.6h0M560.6 72.4h0M552.5 62.0h0M621.8 99.1h0M549.0 84.1h0M553.9 79.3h0M565.0 94.4h0M560.5 98.2h0M553.5 93.2h0M574.1 66.2h0M573.7 87.6h0M566.6 85.6h0M586.5 29.1h0M590.6 93.9h0M561.5 84.2h0M568.9 84.9h0M547.2 93.9h0M609.4 37.5h0M586.2 97.8h0M548.5 69.7h0M558.1 74.5h0M580.9 103.7h0M563.5 98.7h0M563.4 76.6h0M558.5 84.8h0M551.8 95.6h0M589.7 95.9h0M560.2 93.3h0M583.9 91.4h0M552.8 80.4h0M551.9 65.7h0M551.4 78.7h0M552.2 85.6h0M554.2 93.1h0M568.6 79.1h0M571.0 88.6h0M565.5 62.4h0M598.8 103.6h0M558.1 80.9h0M592.0 84.6h0M556.7 76.7h0M550.0 92.3h0M558.9 90.4h0M565.5 84.7h0M545.3 75.8h0M559.0 74.7h0M583.1 85.9h0M554.8 81.2h0M588.6 103.6h0M555.8 86.3h0M561.5 69.8h0M584.5 83.8h0M557.8 68.3h0M584.5 99.9h0M555.9 84.8h0M574.9 85.9h0M569.5 94.1h0M565.9 89.5h0M553.3 90.0h0M550.0 74.9h0M573.6 74.5h0M550.0 59.9h0M595.9 95.2h0M559.0 97.0h0M559.4 68.6h0M590.9 99.4h0M573.5 91.5h0M579.7 90.7h0M561.3 96.9h0M583.0 103.9h0M559.4 70.5h0M547.6 75.4h0M563.4 93.6h0M579.2 79.9h0M555.1 79.9h0M551.4 98.9h0M563.8 79.1h0M565.9 81.8h0M563.5 87.7h0M585.5 100.6h0M559.2 102.0h0M573.7 92.6h0M575.4 83.0h0M565.0 93.0h0M544.9 75.3h0M553.6 77.5h0M553.9 89.5h0M582.9 97.0h0M595.1 94.4h0M574.4 100.9h0M615.0 75.9h0M554.8 52.1h0M548.6 91.7h0M564.5 95.5h0M557.2 96.3h0M616.9 96.5h0M546.1 88.2h0" stroke="#f8eab4" stroke-width="0.8" stroke-linecap="round"/>
<path d="M593.4 104.1h0M573.0 80.6h0M550.9 49.3h0M564.0 102.1h0M554.4 48.8h0M590.7 99.5h0M593.2 100.8h0M580.0 98.6h0M567.6 94.2h0M553.8 69.3h0M590.4 80.8h0M574.2 91.2h0M588.4 98.6h0M561.0 38.7h0M560.3 61.2h0M560.1 63.2h0M589.0 99.8h0M567.0 77.4h0M582.3 103.1h0M583.6 91.7h0M558.6 98.8h0M546.3 54.4h0M548.8 61.8h0M577.9 74.8h0M555.8 89.7h0M581.5 85.4h0M553.5 100.4h0M551.2 54.9h0M578.6 88.6h0M579.3 89.6h0M590.0 77.1h0M562.2 90.0h0M564.7 91.2h0M556.6 99.7h0M573.8 95.9h0M554.3 68.6h0M583.2 81.7h0M583.5 95.0h0M576.5 101.8h0M579.6 84.7h0M548.4 66.2h0M553.5 76.3h0M564.2 77.8h0M573.0 101.5h0M553.7 75.6h0M559.7 75.0h0M555.0 95.3h0M563.5 99.3h0M565.4 87.8h0M566.5 86.7h0M555.1 73.9h0M570.4 78.1h0M587.1 80.4h0M587.0 89.5h0M561.0 75.0h0M555.7 97.6h0M573.5 97.7h0M550.6 72.2h0M605.6 88.0h0M552.8 74.3h0M572.9 57.4h0M585.4 94.5h0M586.2 95.1h0M545.6 99.6h0M588.8 101.9h0M574.0 68.1h0M574.4 75.1h0M570.3 79.6h0M621.5 48.2h0M616.4 103.7h0M555.9 70.4h0M561.2 80.1h0M569.3 40.8h0M576.9 37.3h0M554.1 85.8h0M559.7 67.4h0M588.9 98.1h0M556.8 67.9h0M557.5 47.6h0M548.2 61.7h0M547.0 68.7h0M552.3 82.2h0M605.1 94.0h0M573.6 30.8h0M583.7 81.6h0M580.5 98.4h0M549.1 88.4h0M595.7 77.5h0M560.4 66.9h0M585.4 92.9h0M591.2 94.1h0M545.9 94.6h0M553.2 79.4h0M599.2 101.8h0M571.2 81.4h0M556.2 45.4h0M545.2 64.4h0M547.2 94.4h0M593.6 96.9h0M594.3 95.5h0" stroke="#b09848" stroke-width="1.6" stroke-linecap="round"/>
<path d="M593.4 104.1h0M573.0 80.6h0M550.9 49.3h0M564.0 102.1h0M554.4 48.8h0M590.7 99.5h0M593.2 100.8h0M580.0 98.6h0M567.6 94.2h0M553.8 69.3h0M590.4 80.8h0M574.2 91.2h0M588.4 98.6h0M561.0 38.7h0M560.3 61.2h0M560.1 63.2h0M589.0 99.8h0M567.0 77.4h0M582.3 103.1h0M583.6 91.7h0M558.6 98.8h0M546.3 54.4h0M548.8 61.8h0M577.9 74.8h0M555.8 89.7h0M581.5 85.4h0M553.5 100.4h0M551.2 54.9h0M578.6 88.6h0M579.3 89.6h0M590.0 77.1h0M562.2 90.0h0M564.7 91.2h0M556.6 99.7h0M573.8 95.9h0M554.3 68.6h0M583.2 81.7h0M583.5 95.0h0M576.5 101.8h0M579.6 84.7h0M548.4 66.2h0M553.5 76.3h0M564.2 77.8h0M573.0 101.5h0M553.7 75.6h0M559.7 75.0h0M555.0 95.3h0M563.5 99.3h0M565.4 87.8h0M566.5 86.7h0M555.1 73.9h0M570.4 78.1h0M587.1 80.4h0M587.0 89.5h0M561.0 75.0h0M555.7 97.6h0M573.5 97.7h0M550.6 72.2h0M605.6 88.0h0M552.8 74.3h0M572.9 57.4h0M585.4 94.5h0M586.2 95.1h0M545.6 99.6h0M588.8 101.9h0M574.0 68.1h0M574.4 75.1h0M570.3 79.6h0M621.5 48.2h0M616.4 103.7h0M555.9 70.4h0M561.2 80.1h0M569.3 40.8h0M576.9 37.3h0M554.1 85.8h0M559.7 67.4h0M588.9 98.1h0M556.8 67.9h0M557.5 47.6h0M548.2 61.7h0M547.0 68.7h0M552.3 82.2h0M605.1 94.0h0M573.6 30.8h0M583.7 81.6h0M580.5 98.4h0M549.1 88.4h0M595.7 77.5h0M560.4 66.9h0M585.4 92.9h0M591.2 94.1h0M545.9 94.6h0M553.2 79.4h0M599.2 101.8h0M571.2 81.4h0M556.2 45.4h0M545.2 64.4h0M547.2 94.4h0M593.6 96.9h0M594.3 95.5h0" stroke="#f8eab4" stroke-width="0.8" stroke-linecap="round"/>
<path d="M588.2 104.9h0M567.3 62.1h0M552.5 69.1h0M550.1 91.9h0M573.3 97.2h0M589.0 88.5h0M595.6 100.1h0M598.9 101.3h0M566.2 79.7h0M570.3 103.2h0M601.2 72.2h0M564.3 93.6h0M577.9 85.3h0M548.8 95.5h0M553.7 90.4h0M560.0 89.9h0M587.6 101.8h0M569.4 85.0h0M554.1 82.4h0M566.3 102.7h0M570.6 90.7h0M553.1 83.2h0M574.7 100.8h0M586.3 104.4h0M551.2 74.7h0M569.8 97.4h0M588.2 104.3h0M544.7 98.0h0M548.3 85.6h0M550.1 76.6h0M589.5 97.9h0M566.3 78.8h0M581.1 76.8h0M555.3 82.3h0M555.2 73.1h0M587.6 96.5h0M560.7 78.8h0M567.2 91.2h0M554.8 67.8h0M573.1 93.0h0M603.4 94.5h0M594.4 99.6h0M556.7 93.3h0M604.5 80.2h0M563.0 78.4h0M548.8 91.0h0M550.7 93.9h0M558.3 50.8h0M593.0 93.6h0M579.2 92.2h0M574.6 90.6h0M569.4 99.9h0M577.2 96.1h0M548.3 79.0h0M603.7 96.1h0M572.3 79.6h0M568.8 94.7h0M616.3 50.0h0M560.9 87.8h0M572.4 63.7h0M594.3 104.6h0M565.2 89.8h0M561.7 77.1h0M578.1 87.3h0M559.4 74.7h0M545.0 68.2h0M566.3 86.4h0M552.8 90.2h0M589.3 90.1h0M567.6 80.1h0M569.1 75.9h0M571.3 79.8h0M549.7 84.0h0M564.5 87.0h0M555.4 77.0h0M590.3 97.5h0M586.0 78.9h0M571.3 82.3h0M560.9 76.7h0M557.0 66.7h0M601.1 93.7h0M574.4 62.9h0M547.0 50.8h0M597.0 80.5h0M579.6 84.7h0M562.0 92.8h0M560.1 34.1h0M579.1 91.0h0M551.2 92.6h0M589.8 81.7h0M553.9 64.7h0M546.2 90.4h0M589.9 101.1h0M566.8 82.5h0M554.0 91.0h0M552.9 78.6h0M567.1 96.0h0M566.5 79.0h0M561.3 71.9h0M565.8 86.2h0" stroke="#b09848" stroke-width="1.6" stroke-linecap="round"/>
<path d="M588.2 104.9h0M567.3 62.1h0M552.5 69.1h0M550.1 91.9h0M573.3 97.2h0M589.0 88.5h0M595.6 100.1h0M598.9 101.3h0M566.2 79.7h0M570.3 103.2h0M601.2 72.2h0M564.3 93.6h0M577.9 85.3h0M548.8 95.5h0M553.7 90.4h0M560.0 89.9h0M587.6 101.8h0M569.4 85.0h0M554.1 82.4h0M566.3 102.7h0M570.6 90.7h0M553.1 83.2h0M574.7 100.8h0M586.3 104.4h0M551.2 74.7h0M569.8 97.4h0M588.2 104.3h0M544.7 98.0h0M548.3 85.6h0M550.1 76.6h0M589.5 97.9h0M566.3 78.8h0M581.1 76.8h0M555.3 82.3h0M555.2 73.1h0M587.6 96.5h0M560.7 78.8h0M567.2 91.2h0M554.8 67.8h0M573.1 93.0h0M603.4 94.5h0M594.4 99.6h0M556.7 93.3h0M604.5 80.2h0M563.0 78.4h0M548.8 91.0h0M550.7 93.9h0M558.3 50.8h0M593.0 93.6h0M579.2 92.2h0M574.6 90.6h0M569.4 99.9h0M577.2 96.1h0M548.3 79.0h0M603.7 96.1h0M572.3 79.6h0M568.8 94.7h0M616.3 50.0h0M560.9 87.8h0M572.4 63.7h0M594.3 104.6h0M565.2 89.8h0M561.7 77.1h0M578.1 87.3h0M559.4 74.7h0M545.0 68.2h0M566.3 86.4h0M552.8 90.2h0M589.3 90.1h0M567.6 80.1h0M569.1 75.9h0M571.3 79.8h0M549.7 84.0h0M564.5 87.0h0M555.4 77.0h0M590.3 97.5h0M586.0 78.9h0M571.3 82.3h0M560.9 76.7h0M557.0 66.7h0M601.1 93.7h0M574.4 62.9h0M547.0 50.8h0M597.0 80.5h0M579.6 84.7h0M562.0 92.8h0M560.1 34.1h0M579.1 91.0h0M551.2 92.6h0M589.8 81.7h0M553.9 64.7h0M546.2 90.4h0M589.9 101.1h0M566.8 82.5h0M554.0 91.0h0M552.9 78.6h0M567.1 96.0h0M566.5 79.0h0M561.3 71.9h0M565.8 86.2h0" stroke="#f8eab4" stroke-width="0.8" stroke-linecap="round"/>
<path d="M544.8 29.1h0M550.7 19.8h0M597.9 24.8h0M632.4 38.5h0M645.2 35.6h0M637.3 48.4h0" stroke="#b09848" stroke-width="1.6" stroke-linecap="round"/>
<path d="M544.8 29.1h0M550.7 19.8h0M597.9 24.8h0M632.4 38.5h0M645.2 35.6h0M637.3 48.4h0" stroke="#f8eab4" stroke-width="0.8" stroke-linecap="round"/>
<line x1="533.00" y1="44.10" x2="571.60" y2="23.40" stroke="#000" stroke-width="1.3"/>
<line x1="571.60" y1="23.40" x2="631.10" y2="34.90" stroke="#000" stroke-width="1.3"/>
<line x1="631.10" y1="34.90" x2="628.10" y2="96.40" stroke="#000" stroke-width="1.3"/>
<line x1="628.10" y1="96.40" x2="597.80" y2="127.00" stroke="#000" stroke-width="1.6"/>
<line x1="597.80" y1="127.00" x2="535.70" y2="108.10" stroke="#000" stroke-width="1.6"/>
<line x1="535.70" y1="108.10" x2="533.00" y2="44.10" stroke="#000" stroke-width="1.6"/>
<line x1="536.94" y1="108.48" x2="539.12" y2="106.89" stroke="#000" stroke-width="1.1"/>
<line x1="545.39" y1="111.05" x2="547.52" y2="109.43" stroke="#000" stroke-width="1.1"/>
<line x1="553.83" y1="113.62" x2="555.91" y2="111.96" stroke="#000" stroke-width="1.1"/>
<line x1="562.28" y1="116.19" x2="564.31" y2="114.50" stroke="#000" stroke-width="1.1"/>
<line x1="570.72" y1="118.76" x2="572.70" y2="117.03" stroke="#000" stroke-width="1.1"/>
<line x1="579.17" y1="121.33" x2="581.10" y2="119.57" stroke="#000" stroke-width="1.1"/>
<line x1="587.62" y1="123.90" x2="589.49" y2="122.11" stroke="#000" stroke-width="1.1"/>
<line x1="596.06" y1="126.47" x2="597.89" y2="124.64" stroke="#000" stroke-width="1.1"/>
<line x1="599.31" y1="125.47" x2="594.99" y2="124.16" stroke="#000" stroke-width="1.1"/>
<line x1="603.44" y1="121.31" x2="599.17" y2="120.04" stroke="#000" stroke-width="1.1"/>
<line x1="607.56" y1="117.15" x2="603.35" y2="115.92" stroke="#000" stroke-width="1.1"/>
<line x1="611.68" y1="112.99" x2="607.53" y2="111.80" stroke="#000" stroke-width="1.1"/>
<line x1="615.80" y1="108.82" x2="611.71" y2="107.68" stroke="#000" stroke-width="1.1"/>
<line x1="619.92" y1="104.66" x2="615.89" y2="103.55" stroke="#000" stroke-width="1.1"/>
<line x1="624.04" y1="100.50" x2="620.07" y2="99.43" stroke="#000" stroke-width="1.1"/>
<line x1="628.16" y1="96.34" x2="624.25" y2="95.31" stroke="#000" stroke-width="1.1"/>
<line x1="535.56" y1="104.90" x2="538.67" y2="105.83" stroke="#000" stroke-width="1.1"/>
<line x1="535.16" y1="95.30" x2="538.28" y2="96.20" stroke="#000" stroke-width="1.1"/>
<line x1="534.75" y1="85.70" x2="537.88" y2="86.57" stroke="#000" stroke-width="1.1"/>
<line x1="534.35" y1="76.10" x2="537.49" y2="76.93" stroke="#000" stroke-width="1.1"/>
<line x1="533.94" y1="66.50" x2="537.10" y2="67.30" stroke="#000" stroke-width="1.1"/>
<line x1="533.54" y1="56.90" x2="536.70" y2="57.66" stroke="#000" stroke-width="1.1"/>
<line x1="533.13" y1="47.30" x2="536.31" y2="48.03" stroke="#000" stroke-width="1.1"/>
<text x="601.8" y="20.9" font-size="16.5" font-family="Liberation Serif">HeLa</text>
<text transform="matrix(0.9149 -0.5153 -0.0000 1.3300 524.90 68.52)" font-size="10" text-anchor="middle" stroke="#000" stroke-width="0.2" font-family="Liberation Serif">180</text>
<text transform="matrix(0.9149 -0.5153 -0.0000 1.3300 525.80 88.02)" font-size="10" text-anchor="middle" stroke="#000" stroke-width="0.2" font-family="Liberation Serif">120</text>
<text transform="matrix(0.9149 -0.5153 -0.0000 1.3300 528.80 104.02)" font-size="10" text-anchor="middle" stroke="#000" stroke-width="0.2" font-family="Liberation Serif">60</text>
<text transform="matrix(0.6333 -0.6395 1.3393 0.4076 536.65 114.19)" font-size="10" text-anchor="middle" stroke="#000" stroke-width="0.2" font-family="Liberation Serif">0</text>
<text transform="matrix(0.6333 -0.6395 1.3393 0.4076 553.25 119.79)" font-size="10" text-anchor="middle" stroke="#000" stroke-width="0.2" font-family="Liberation Serif">2</text>
<text transform="matrix(0.6333 -0.6395 1.3393 0.4076 570.45 124.69)" font-size="10" text-anchor="middle" stroke="#000" stroke-width="0.2" font-family="Liberation Serif">4</text>
<text transform="matrix(0.6333 -0.6395 1.3393 0.4076 588.35 129.59)" font-size="10" text-anchor="middle" stroke="#000" stroke-width="0.2" font-family="Liberation Serif">6</text>
<text transform="matrix(1.4621 0.3351 -0.7150 0.8360 607.47 127.24)" font-size="10" text-anchor="middle" stroke="#000" stroke-width="0.2" font-family="Liberation Serif">0</text>
<text transform="matrix(1.4621 0.3351 -0.7150 0.8360 620.47 120.24)" font-size="10" text-anchor="middle" stroke="#000" stroke-width="0.2" font-family="Liberation Serif">15</text>
<text transform="matrix(1.4621 0.3351 -0.7150 0.8360 627.77 112.74)" font-size="10" text-anchor="middle" stroke="#000" stroke-width="0.2" font-family="Liberation Serif">30</text>
<text transform="matrix(1.4621 0.3351 -0.7150 0.8360 634.17 105.34)" font-size="10" text-anchor="middle" stroke="#000" stroke-width="0.2" font-family="Liberation Serif">45</text>
<text transform="matrix(0.0674 1.5986 -1.1344 0.8205 506.50 73.00)" font-size="10" stroke="#000" stroke-width="0.2" font-family="Liberation Serif">I<tspan font-size="6.5" dy="2">r</tspan><tspan dy="-2"> (mV)</tspan></text>
<text transform="matrix(1.4159 0.4309 -0.7036 0.7106 517.70 123.20)" font-size="10" stroke="#000" stroke-width="0.2" font-family="Liberation Serif">2T<tspan font-size="6.5" dy="2">s</tspan><tspan dy="-2">/(T</tspan><tspan font-size="6.5" dy="2">r</tspan><tspan dy="-2">+T</tspan><tspan font-size="6.5" dy="2">d</tspan><tspan dy="-2">)</tspan></text>
<text transform="matrix(0.7529 -0.7603 1.5307 0.4659 637.20 132.30)" font-size="10" stroke="#000" stroke-width="0.2" font-family="Liberation Serif">T<tspan font-size="6.5" dy="2">c</tspan><tspan dy="-2"> (ms)</tspan></text>
</svg></body></html>
